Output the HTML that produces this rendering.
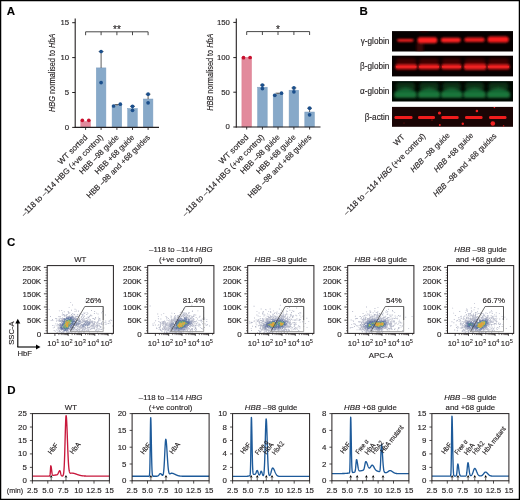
<!DOCTYPE html>
<html><head><meta charset="utf-8"><title>Figure</title>
<style>html,body{margin:0;padding:0;background:#fff;}body{width:520px;height:500px;overflow:hidden;font-family:"Liberation Sans",sans-serif;}svg{display:block;will-change:transform;} text{stroke:#231f20;stroke-width:0.14px;}</style>
</head><body>
<svg width="520" height="500" viewBox="0 0 520 500" font-family="'Liberation Sans', sans-serif" fill="#231f20"><rect x="0.6" y="0.6" width="518.8" height="498.8" fill="#fff" stroke="#000" stroke-width="1.3"/>
<text x="6.80" y="15.00" font-size="11.5" font-weight="bold" fill="#000">A</text>
<text x="359.50" y="15.00" font-size="11.5" font-weight="bold" fill="#000">B</text>
<text x="6.90" y="246.30" font-size="11.5" font-weight="bold" fill="#000">C</text>
<text x="7.20" y="394.00" font-size="11.5" font-weight="bold" fill="#000">D</text>
<rect x="80.80" y="121.50" width="9.60" height="5.90" fill="#e28a9c" stroke="#d97a8d" stroke-width="0.5"/>
<rect x="96.30" y="67.90" width="9.60" height="59.50" fill="#87a9c9" stroke="#7b9dbf" stroke-width="0.5"/>
<rect x="112.10" y="105.60" width="9.60" height="21.80" fill="#87a9c9" stroke="#7b9dbf" stroke-width="0.5"/>
<rect x="127.70" y="108.50" width="9.60" height="18.90" fill="#87a9c9" stroke="#7b9dbf" stroke-width="0.5"/>
<rect x="143.30" y="99.00" width="9.60" height="28.40" fill="#87a9c9" stroke="#7b9dbf" stroke-width="0.5"/>
<line x1="101.10" y1="67.90" x2="101.10" y2="51.50" stroke="#333" stroke-width="0.8"/>
<line x1="98.70" y1="51.50" x2="103.50" y2="51.50" stroke="#333" stroke-width="0.8"/>
<line x1="117.00" y1="105.60" x2="117.00" y2="104.60" stroke="#333" stroke-width="0.8"/>
<line x1="114.60" y1="104.60" x2="119.40" y2="104.60" stroke="#333" stroke-width="0.8"/>
<line x1="132.50" y1="108.50" x2="132.50" y2="106.30" stroke="#333" stroke-width="0.8"/>
<line x1="130.10" y1="106.30" x2="134.90" y2="106.30" stroke="#333" stroke-width="0.8"/>
<line x1="148.10" y1="99.00" x2="148.10" y2="94.20" stroke="#333" stroke-width="0.8"/>
<line x1="145.70" y1="94.20" x2="150.50" y2="94.20" stroke="#333" stroke-width="0.8"/>
<circle cx="82.30" cy="120.30" r="1.85" fill="#c8102e"/>
<circle cx="88.80" cy="120.30" r="1.85" fill="#c8102e"/>
<circle cx="101.10" cy="51.50" r="1.85" fill="#1b4f8c"/>
<circle cx="101.10" cy="82.60" r="1.85" fill="#1b4f8c"/>
<circle cx="113.60" cy="106.00" r="1.85" fill="#1b4f8c"/>
<circle cx="120.30" cy="104.20" r="1.85" fill="#1b4f8c"/>
<circle cx="132.50" cy="106.30" r="1.85" fill="#1b4f8c"/>
<circle cx="132.50" cy="110.30" r="1.85" fill="#1b4f8c"/>
<circle cx="148.10" cy="94.20" r="1.85" fill="#1b4f8c"/>
<circle cx="148.10" cy="102.80" r="1.85" fill="#1b4f8c"/>
<line x1="75.20" y1="18.60" x2="75.20" y2="127.90" stroke="#231f20" stroke-width="1.1"/>
<line x1="74.70" y1="127.40" x2="159.00" y2="127.40" stroke="#231f20" stroke-width="1.1"/>
<line x1="72.20" y1="127.40" x2="75.20" y2="127.40" stroke="#231f20" stroke-width="1"/>
<text x="69.10" y="129.80" font-size="7.8" text-anchor="end">0</text>
<line x1="72.20" y1="92.50" x2="75.20" y2="92.50" stroke="#231f20" stroke-width="1"/>
<text x="69.10" y="94.90" font-size="7.8" text-anchor="end">5</text>
<line x1="72.20" y1="57.60" x2="75.20" y2="57.60" stroke="#231f20" stroke-width="1"/>
<text x="69.10" y="60.00" font-size="7.8" text-anchor="end">10</text>
<line x1="72.20" y1="22.70" x2="75.20" y2="22.70" stroke="#231f20" stroke-width="1"/>
<text x="69.10" y="25.10" font-size="7.8" text-anchor="end">15</text>
<line x1="85.60" y1="127.40" x2="85.60" y2="129.90" stroke="#231f20" stroke-width="0.9"/>
<line x1="101.10" y1="127.40" x2="101.10" y2="129.90" stroke="#231f20" stroke-width="0.9"/>
<line x1="116.90" y1="127.40" x2="116.90" y2="129.90" stroke="#231f20" stroke-width="0.9"/>
<line x1="132.50" y1="127.40" x2="132.50" y2="129.90" stroke="#231f20" stroke-width="0.9"/>
<line x1="148.10" y1="127.40" x2="148.10" y2="129.90" stroke="#231f20" stroke-width="0.9"/>
<line x1="85.60" y1="31.80" x2="148.10" y2="31.80" stroke="#333" stroke-width="0.9"/>
<line x1="85.60" y1="31.80" x2="85.60" y2="35.20" stroke="#333" stroke-width="0.9"/>
<line x1="101.10" y1="31.80" x2="101.10" y2="35.20" stroke="#333" stroke-width="0.9"/>
<line x1="116.90" y1="31.80" x2="116.90" y2="35.20" stroke="#333" stroke-width="0.9"/>
<line x1="132.50" y1="31.80" x2="132.50" y2="35.20" stroke="#333" stroke-width="0.9"/>
<line x1="148.10" y1="31.80" x2="148.10" y2="35.20" stroke="#333" stroke-width="0.9"/>
<text x="116.90" y="33.40" font-size="10" text-anchor="middle">**</text>
<text x="55.4" y="72.8" font-size="9.0" text-anchor="middle" transform="rotate(-90 55.4 72.8)" textLength="78.4" lengthAdjust="spacingAndGlyphs"><tspan font-style="italic">HBG</tspan> normalised to <tspan font-style="italic">HbA</tspan></text>
<text x="87.90" y="138.10" font-size="8.0" text-anchor="end" transform="rotate(-45 87.90 138.10)" textLength="38" lengthAdjust="spacingAndGlyphs">WT sorted</text>
<text x="103.60" y="137.90" font-size="8.0" text-anchor="end" transform="rotate(-45 103.60 137.90)" textLength="112" lengthAdjust="spacingAndGlyphs">–118 to –114 HBG (+ve control)</text>
<text x="119.30" y="137.90" font-size="8.0" text-anchor="end" transform="rotate(-45 119.30 137.90)" textLength="52" lengthAdjust="spacingAndGlyphs">HBB –98 guide</text>
<text x="134.90" y="137.90" font-size="8.0" text-anchor="end" transform="rotate(-45 134.90 137.90)" textLength="52" lengthAdjust="spacingAndGlyphs">HBB +68 guide</text>
<text x="150.60" y="137.90" font-size="8.0" text-anchor="end" transform="rotate(-45 150.60 137.90)" textLength="86" lengthAdjust="spacingAndGlyphs">HBB –98 and +68 guides</text>
<rect x="241.90" y="57.30" width="9.60" height="69.70" fill="#e28a9c" stroke="#d97a8d" stroke-width="0.5"/>
<rect x="257.60" y="87.20" width="9.60" height="39.80" fill="#87a9c9" stroke="#7b9dbf" stroke-width="0.5"/>
<rect x="273.20" y="94.10" width="9.60" height="32.90" fill="#87a9c9" stroke="#7b9dbf" stroke-width="0.5"/>
<rect x="289.10" y="90.20" width="9.60" height="36.80" fill="#87a9c9" stroke="#7b9dbf" stroke-width="0.5"/>
<rect x="304.80" y="112.00" width="9.60" height="15.00" fill="#87a9c9" stroke="#7b9dbf" stroke-width="0.5"/>
<line x1="262.40" y1="87.20" x2="262.40" y2="85.10" stroke="#333" stroke-width="0.8"/>
<line x1="260.00" y1="85.10" x2="264.80" y2="85.10" stroke="#333" stroke-width="0.8"/>
<line x1="278.00" y1="94.10" x2="278.00" y2="93.20" stroke="#333" stroke-width="0.8"/>
<line x1="275.60" y1="93.20" x2="280.40" y2="93.20" stroke="#333" stroke-width="0.8"/>
<line x1="293.90" y1="90.20" x2="293.90" y2="87.90" stroke="#333" stroke-width="0.8"/>
<line x1="291.50" y1="87.90" x2="296.30" y2="87.90" stroke="#333" stroke-width="0.8"/>
<line x1="309.60" y1="112.00" x2="309.60" y2="108.20" stroke="#333" stroke-width="0.8"/>
<line x1="307.20" y1="108.20" x2="312.00" y2="108.20" stroke="#333" stroke-width="0.8"/>
<circle cx="243.50" cy="57.70" r="1.85" fill="#c8102e"/>
<circle cx="250.10" cy="57.50" r="1.85" fill="#c8102e"/>
<circle cx="262.40" cy="85.10" r="1.85" fill="#1b4f8c"/>
<circle cx="262.40" cy="88.60" r="1.85" fill="#1b4f8c"/>
<circle cx="274.80" cy="95.30" r="1.85" fill="#1b4f8c"/>
<circle cx="281.50" cy="93.20" r="1.85" fill="#1b4f8c"/>
<circle cx="293.90" cy="87.90" r="1.85" fill="#1b4f8c"/>
<circle cx="293.90" cy="91.80" r="1.85" fill="#1b4f8c"/>
<circle cx="309.60" cy="108.20" r="1.85" fill="#1b4f8c"/>
<circle cx="309.60" cy="114.80" r="1.85" fill="#1b4f8c"/>
<line x1="236.30" y1="18.60" x2="236.30" y2="127.50" stroke="#231f20" stroke-width="1.1"/>
<line x1="235.80" y1="127.00" x2="320.50" y2="127.00" stroke="#231f20" stroke-width="1.1"/>
<line x1="233.30" y1="127.00" x2="236.30" y2="127.00" stroke="#231f20" stroke-width="1"/>
<text x="229.90" y="129.40" font-size="7.8" text-anchor="end">0</text>
<line x1="233.30" y1="92.20" x2="236.30" y2="92.20" stroke="#231f20" stroke-width="1"/>
<text x="229.90" y="94.60" font-size="7.8" text-anchor="end">50</text>
<line x1="233.30" y1="57.60" x2="236.30" y2="57.60" stroke="#231f20" stroke-width="1"/>
<text x="229.90" y="60.00" font-size="7.8" text-anchor="end">100</text>
<line x1="233.30" y1="22.40" x2="236.30" y2="22.40" stroke="#231f20" stroke-width="1"/>
<text x="229.90" y="24.80" font-size="7.8" text-anchor="end">150</text>
<line x1="246.70" y1="127.00" x2="246.70" y2="129.50" stroke="#231f20" stroke-width="0.9"/>
<line x1="262.40" y1="127.00" x2="262.40" y2="129.50" stroke="#231f20" stroke-width="0.9"/>
<line x1="278.00" y1="127.00" x2="278.00" y2="129.50" stroke="#231f20" stroke-width="0.9"/>
<line x1="293.90" y1="127.00" x2="293.90" y2="129.50" stroke="#231f20" stroke-width="0.9"/>
<line x1="309.60" y1="127.00" x2="309.60" y2="129.50" stroke="#231f20" stroke-width="0.9"/>
<line x1="246.70" y1="31.60" x2="309.60" y2="31.60" stroke="#333" stroke-width="0.9"/>
<line x1="246.70" y1="31.60" x2="246.70" y2="35.00" stroke="#333" stroke-width="0.9"/>
<line x1="262.40" y1="31.60" x2="262.40" y2="35.00" stroke="#333" stroke-width="0.9"/>
<line x1="278.00" y1="31.60" x2="278.00" y2="35.00" stroke="#333" stroke-width="0.9"/>
<line x1="293.90" y1="31.60" x2="293.90" y2="35.00" stroke="#333" stroke-width="0.9"/>
<line x1="309.60" y1="31.60" x2="309.60" y2="35.00" stroke="#333" stroke-width="0.9"/>
<text x="278.00" y="33.20" font-size="10" text-anchor="middle">*</text>
<text x="213.2" y="72.2" font-size="9.0" text-anchor="middle" transform="rotate(-90 213.2 72.2)" textLength="77.3" lengthAdjust="spacingAndGlyphs"><tspan font-style="italic">HBB</tspan> normalised to <tspan font-style="italic">HbA</tspan></text>
<text x="249.00" y="137.70" font-size="8.0" text-anchor="end" transform="rotate(-45 249.00 137.70)" textLength="38" lengthAdjust="spacingAndGlyphs">WT sorted</text>
<text x="264.70" y="137.70" font-size="8.0" text-anchor="end" transform="rotate(-45 264.70 137.70)" textLength="112" lengthAdjust="spacingAndGlyphs">–118 to –114 HBG (+ve control)</text>
<text x="280.30" y="137.70" font-size="8.0" text-anchor="end" transform="rotate(-45 280.30 137.70)" textLength="52" lengthAdjust="spacingAndGlyphs">HBB –98 guide</text>
<text x="296.20" y="137.70" font-size="8.0" text-anchor="end" transform="rotate(-45 296.20 137.70)" textLength="52" lengthAdjust="spacingAndGlyphs">HBB +68 guide</text>
<text x="311.90" y="137.70" font-size="8.0" text-anchor="end" transform="rotate(-45 311.90 137.70)" textLength="86" lengthAdjust="spacingAndGlyphs">HBB –98 and +68 guides</text>
<defs>
<filter id="blur1" x="-20%" y="-50%" width="140%" height="200%"><feGaussianBlur stdDeviation="0.7"/></filter>
<filter id="blur15" x="-20%" y="-60%" width="140%" height="220%"><feGaussianBlur stdDeviation="0.95"/></filter>
<filter id="blur2" x="-20%" y="-80%" width="140%" height="260%"><feGaussianBlur stdDeviation="1.4"/></filter>
<filter id="blur3" x="-20%" y="-80%" width="140%" height="260%"><feGaussianBlur stdDeviation="2.2"/></filter>
<clipPath id="cb1"><rect x="392" y="31.1" width="121" height="20.4"/></clipPath>
<clipPath id="cb2"><rect x="392" y="55.7" width="121" height="20.7"/></clipPath>
<clipPath id="cb3"><rect x="392" y="81.1" width="121" height="20.4"/></clipPath>
<clipPath id="cb4"><rect x="392" y="106.9" width="121" height="19.9"/></clipPath>
</defs>
<rect x="392.00" y="31.10" width="121.00" height="20.40" fill="#050000"/>
<rect x="392.00" y="55.70" width="121.00" height="20.70" fill="#080000"/>
<rect x="392.00" y="81.10" width="121.00" height="20.40" fill="#000600"/>
<rect x="392.00" y="106.90" width="121.00" height="19.90" fill="#1a0505"/>
<g clip-path="url(#cb1)">
<rect x="416.5" y="42.5" width="7" height="10" fill="#6a0a0a" opacity="0.55" filter="url(#blur2)"/>
<rect x="420" y="20" width="8" height="12" fill="#3a0505" opacity="0.7" filter="url(#blur2)"/>
<rect x="396.9" y="38.9" width="16.9" height="2.8" rx="2.5" fill="#ff2424" filter="url(#blur15)"/>
<rect x="417.5" y="37.3" width="19.8" height="6.0" rx="2.5" fill="#ff2020" filter="url(#blur15)"/>
<rect x="440.7" y="37.699999999999996" width="20.2" height="4.8" rx="2.5" fill="#ff2222" filter="url(#blur15)"/>
<rect x="464.2" y="37.599999999999994" width="20.6" height="4.5" rx="2.5" fill="#e81e1e" filter="url(#blur15)"/>
<rect x="487.5" y="36.599999999999994" width="21.2" height="5.9" rx="2.5" fill="#f81f1f" filter="url(#blur15)"/>
</g>
<g clip-path="url(#cb2)">
<rect x="396.0" y="58.5" width="20.4" height="6" rx="3" fill="#3c0606" filter="url(#blur2)"/>
<rect x="419.0" y="58.5" width="20.0" height="6" rx="3" fill="#3c0606" filter="url(#blur2)"/>
<rect x="442.0" y="58.5" width="19.0" height="6" rx="3" fill="#3c0606" filter="url(#blur2)"/>
<rect x="464.6" y="58.5" width="21.0" height="6" rx="3" fill="#3c0606" filter="url(#blur2)"/>
<rect x="488.0" y="58.5" width="21.0" height="6" rx="3" fill="#3c0606" filter="url(#blur2)"/>
<rect x="395.3" y="63.9" width="21.8" height="5.6" rx="2" fill="#d81c1c" filter="url(#blur15)"/>
<rect x="396.0" y="65.9" width="20.4" height="1.8" fill="#f02424" filter="url(#blur1)"/>
<rect x="418.3" y="63.9" width="21.4" height="5.6" rx="2" fill="#d81c1c" filter="url(#blur15)"/>
<rect x="419.0" y="65.9" width="20.0" height="1.8" fill="#f02424" filter="url(#blur1)"/>
<rect x="441.3" y="63.9" width="20.4" height="5.6" rx="2" fill="#d81c1c" filter="url(#blur15)"/>
<rect x="442.0" y="65.9" width="19.0" height="1.8" fill="#f02424" filter="url(#blur1)"/>
<rect x="463.90000000000003" y="63.4" width="22.4" height="6.6" rx="2" fill="#d81c1c" filter="url(#blur15)"/>
<rect x="464.6" y="65.9" width="21.0" height="1.8" fill="#f02424" filter="url(#blur1)"/>
<rect x="487.3" y="63.9" width="22.4" height="5.6" rx="2" fill="#d81c1c" filter="url(#blur15)"/>
<rect x="488.0" y="65.9" width="21.0" height="1.8" fill="#f02424" filter="url(#blur1)"/>
</g>
<g clip-path="url(#cb3)">
<rect x="395.9" y="82.5" width="19.2" height="8" rx="4" fill="#0b3318" filter="url(#blur2)"/>
<rect x="419.5" y="82.5" width="19.2" height="8" rx="4" fill="#0b3318" filter="url(#blur2)"/>
<rect x="442.5" y="82.5" width="18.4" height="8" rx="4" fill="#0b3318" filter="url(#blur2)"/>
<rect x="465.0" y="82.5" width="19.2" height="8" rx="4" fill="#0b3318" filter="url(#blur2)"/>
<rect x="488.5" y="82.5" width="19.9" height="8" rx="4" fill="#0b3318" filter="url(#blur2)"/>
<path d="M394.4 97.6 L394.4 93 Q396.4 89.5 405.5 87.6 Q414.6 89.5 416.6 93 L416.6 97.6 Z" fill="#146531" filter="url(#blur2)"/>
<rect x="395.4" y="92.8" width="20.2" height="4" fill="#1a7a3e" filter="url(#blur2)"/>
<path d="M418.0 97.6 L418.0 93 Q420.0 89.5 429.1 87.6 Q438.2 89.5 440.2 93 L440.2 97.6 Z" fill="#146531" filter="url(#blur2)"/>
<rect x="419.0" y="92.8" width="20.2" height="4" fill="#1a7a3e" filter="url(#blur2)"/>
<path d="M441.0 97.6 L441.0 93 Q443.0 89.5 451.7 87.6 Q460.4 89.5 462.4 93 L462.4 97.6 Z" fill="#146531" filter="url(#blur2)"/>
<rect x="442.0" y="92.8" width="19.4" height="4" fill="#1a7a3e" filter="url(#blur2)"/>
<path d="M463.5 97.6 L463.5 93 Q465.5 89.5 474.6 87.6 Q483.7 89.5 485.7 93 L485.7 97.6 Z" fill="#146531" filter="url(#blur2)"/>
<rect x="464.5" y="92.8" width="20.2" height="4" fill="#1a7a3e" filter="url(#blur2)"/>
<path d="M487.0 97.6 L487.0 93 Q489.0 89.5 498.4 87.6 Q507.9 89.5 509.9 93 L509.9 97.6 Z" fill="#146531" filter="url(#blur2)"/>
<rect x="488.0" y="92.8" width="20.9" height="4" fill="#1a7a3e" filter="url(#blur2)"/>
</g>
<g clip-path="url(#cb4)">
<rect x="394.4" y="116.0" width="18.2" height="3.1" rx="1.4" fill="#f01e1e" filter="url(#blur1)"/>
<rect x="418.0" y="116.0" width="17.0" height="3.1" rx="1.4" fill="#f01e1e" filter="url(#blur1)"/>
<rect x="441.3" y="116.0" width="17.4" height="3.1" rx="1.4" fill="#f01e1e" filter="url(#blur1)"/>
<rect x="465.0" y="116.0" width="17.6" height="3.1" rx="1.4" fill="#f01e1e" filter="url(#blur1)"/>
<rect x="489.0" y="116.0" width="17.5" height="3.1" rx="1.4" fill="#f01e1e" filter="url(#blur1)"/>
<circle cx="439.5" cy="113.0" r="1.6" fill="#f02020"/>
<circle cx="439.8" cy="125.0" r="1.0" fill="#f02020"/>
<circle cx="476.9" cy="111.0" r="1.3" fill="#f02020"/>
<circle cx="462.8" cy="123.7" r="1.2" fill="#f02020"/>
<circle cx="492.8" cy="123.5" r="2.3" fill="#f02020"/>
<circle cx="494.4" cy="107.5" r="0.8" fill="#f02020"/>
<circle cx="503.6" cy="126.0" r="0.8" fill="#f02020"/>
<circle cx="432" cy="120" r="0.5" fill="#f02020"/>
<circle cx="404" cy="123" r="0.4" fill="#f02020"/>
</g>
<text x="389.40" y="44.30" font-size="8.2" text-anchor="end">γ-globin</text>
<text x="389.40" y="69.00" font-size="8.2" text-anchor="end">β-globin</text>
<text x="389.40" y="94.20" font-size="8.2" text-anchor="end">α-globin</text>
<text x="389.40" y="119.70" font-size="8.2" text-anchor="end">β-actin</text>
<text x="405.30" y="137.50" font-size="8.0" text-anchor="end" transform="rotate(-45 405.30 137.50)">WT</text>
<text x="426.00" y="136.50" font-size="8.0" text-anchor="end" transform="rotate(-45 426.00 136.50)" textLength="112" lengthAdjust="spacingAndGlyphs">–118 to –114 <tspan font-style="italic">HBG</tspan> (+ve control)</text>
<text x="450.30" y="135.90" font-size="8.0" text-anchor="end" transform="rotate(-45 450.30 135.90)" textLength="52" lengthAdjust="spacingAndGlyphs"><tspan font-style="italic">HBB</tspan> –98 guide</text>
<text x="473.80" y="135.90" font-size="8.0" text-anchor="end" transform="rotate(-45 473.80 135.90)" textLength="52" lengthAdjust="spacingAndGlyphs"><tspan font-style="italic">HBB</tspan> +68 guide</text>
<text x="497.00" y="136.50" font-size="8.0" text-anchor="end" transform="rotate(-45 497.00 136.50)" textLength="86" lengthAdjust="spacingAndGlyphs"><tspan font-style="italic">HBB</tspan> –98 and +68 guides</text>
<text x="80.30" y="261.90" font-size="7.8" text-anchor="middle">WT</text>
<path d="M63.0 330.7h.9v.9h-.9zM59.1 331.4h.9v.9h-.9zM58.7 325.7h.9v.9h-.9zM66.7 331.4h.9v.9h-.9zM75.7 316.3h.9v.9h-.9zM63.4 331.8h.9v.9h-.9zM64.2 315.1h.9v.9h-.9zM58.7 329.6h.9v.9h-.9zM71.7 315.3h.9v.9h-.9zM66.8 316.1h.9v.9h-.9zM59.7 330.9h.9v.9h-.9zM65.5 315.2h.9v.9h-.9zM71.4 315.7h.9v.9h-.9zM61.7 331.5h.9v.9h-.9zM58.3 331.4h.9v.9h-.9zM63.3 317.9h.9v.9h-.9zM68.3 312.3h.9v.9h-.9zM74.8 316.2h.9v.9h-.9zM66.3 331.9h.9v.9h-.9zM58.8 324.0h.9v.9h-.9zM53.7 330.0h.9v.9h-.9zM62.0 331.5h.9v.9h-.9zM69.8 329.6h.9v.9h-.9zM56.2 332.5h.9v.9h-.9zM71.5 314.4h.9v.9h-.9zM59.4 331.7h.9v.9h-.9zM73.1 329.2h.9v.9h-.9zM65.8 331.3h.9v.9h-.9zM74.8 317.0h.9v.9h-.9zM62.5 318.2h.9v.9h-.9zM62.3 331.6h.9v.9h-.9zM71.0 314.1h.9v.9h-.9zM72.8 316.3h.9v.9h-.9zM67.6 330.6h.9v.9h-.9zM67.9 330.9h.9v.9h-.9zM58.9 325.5h.9v.9h-.9zM70.1 330.4h.9v.9h-.9zM59.9 331.1h.9v.9h-.9zM62.5 331.8h.9v.9h-.9zM56.7 329.9h.9v.9h-.9zM78.3 319.2h.9v.9h-.9zM56.5 325.3h.9v.9h-.9zM60.8 332.1h.9v.9h-.9zM58.7 328.4h.9v.9h-.9zM62.7 331.8h.9v.9h-.9zM71.6 331.3h.9v.9h-.9zM67.5 332.3h.9v.9h-.9zM75.9 309.7h.9v.9h-.9zM57.0 331.8h.9v.9h-.9zM57.7 327.3h.9v.9h-.9zM67.9 311.5h.9v.9h-.9zM58.7 330.5h.9v.9h-.9zM55.2 323.4h.9v.9h-.9zM62.1 317.6h.9v.9h-.9zM85.2 321.2h.9v.9h-.9zM59.2 330.0h.9v.9h-.9zM52.5 325.2h.9v.9h-.9zM54.8 330.8h.9v.9h-.9zM71.1 332.4h.9v.9h-.9zM59.0 325.1h.9v.9h-.9zM77.3 319.6h.9v.9h-.9zM63.8 315.6h.9v.9h-.9zM63.0 313.9h.9v.9h-.9zM84.6 312.4h.9v.9h-.9zM69.5 315.2h.9v.9h-.9zM75.7 310.9h.9v.9h-.9zM55.0 318.2h.9v.9h-.9zM67.3 331.8h.9v.9h-.9zM69.4 315.5h.9v.9h-.9zM81.9 320.3h.9v.9h-.9zM72.6 330.4h.9v.9h-.9zM79.7 313.2h.9v.9h-.9zM69.4 312.4h.9v.9h-.9zM59.2 322.9h.9v.9h-.9zM73.3 313.8h.9v.9h-.9zM59.7 321.0h.9v.9h-.9zM83.4 312.4h.9v.9h-.9zM81.4 313.9h.9v.9h-.9zM78.0 310.9h.9v.9h-.9zM58.0 323.9h.9v.9h-.9zM74.6 308.8h.9v.9h-.9zM77.1 316.1h.9v.9h-.9zM72.4 315.4h.9v.9h-.9zM52.3 325.0h.9v.9h-.9zM72.1 313.2h.9v.9h-.9zM68.2 330.8h.9v.9h-.9zM67.7 310.9h.9v.9h-.9zM74.5 314.7h.9v.9h-.9zM57.5 326.7h.9v.9h-.9zM75.5 325.9h.9v.9h-.9zM62.7 314.4h.9v.9h-.9zM76.0 316.1h.9v.9h-.9zM58.1 328.6h.9v.9h-.9zM78.8 327.4h.9v.9h-.9zM93.1 325.6h.9v.9h-.9zM88.7 325.6h.9v.9h-.9zM78.4 326.7h.9v.9h-.9zM105.6 322.6h.9v.9h-.9zM108.3 323.2h.9v.9h-.9zM110.3 319.6h.9v.9h-.9zM93.0 324.1h.9v.9h-.9zM79.8 326.2h.9v.9h-.9zM83.1 319.6h.9v.9h-.9zM92.6 321.3h.9v.9h-.9zM81.2 327.2h.9v.9h-.9zM80.8 330.6h.9v.9h-.9zM76.3 329.7h.9v.9h-.9zM83.4 319.3h.9v.9h-.9zM95.6 329.8h.9v.9h-.9zM90.2 314.9h.9v.9h-.9zM85.8 330.1h.9v.9h-.9zM83.9 321.0h.9v.9h-.9zM92.8 323.8h.9v.9h-.9zM98.6 319.4h.9v.9h-.9zM77.7 326.2h.9v.9h-.9zM80.3 325.4h.9v.9h-.9zM78.4 328.8h.9v.9h-.9zM96.6 322.1h.9v.9h-.9zM77.4 325.5h.9v.9h-.9zM62.5 317.9h.9v.9h-.9zM84.8 321.3h.9v.9h-.9zM95.8 326.5h.9v.9h-.9zM91.7 324.4h.9v.9h-.9zM103.0 322.8h.9v.9h-.9zM85.2 327.2h.9v.9h-.9zM95.8 326.9h.9v.9h-.9zM109.7 322.6h.9v.9h-.9zM98.2 321.4h.9v.9h-.9zM86.6 325.6h.9v.9h-.9zM91.4 328.2h.9v.9h-.9zM74.6 327.6h.9v.9h-.9zM108.6 321.1h.9v.9h-.9zM83.6 327.2h.9v.9h-.9zM95.7 323.9h.9v.9h-.9zM80.3 320.3h.9v.9h-.9zM77.0 330.4h.9v.9h-.9zM75.9 330.9h.9v.9h-.9zM90.6 327.4h.9v.9h-.9zM85.7 329.8h.9v.9h-.9zM81.5 327.1h.9v.9h-.9zM90.2 320.3h.9v.9h-.9zM79.3 328.7h.9v.9h-.9zM82.7 330.5h.9v.9h-.9zM101.4 329.1h.9v.9h-.9zM81.5 322.2h.9v.9h-.9zM84.4 326.2h.9v.9h-.9zM83.7 331.7h.9v.9h-.9zM76.6 328.7h.9v.9h-.9zM79.7 327.2h.9v.9h-.9zM91.6 324.3h.9v.9h-.9zM94.2 326.6h.9v.9h-.9zM80.2 326.1h.9v.9h-.9zM94.4 318.6h.9v.9h-.9zM96.9 327.3h.9v.9h-.9zM99.1 318.0h.9v.9h-.9zM83.7 328.2h.9v.9h-.9zM93.5 324.2h.9v.9h-.9zM71.5 329.5h.9v.9h-.9zM87.3 320.4h.9v.9h-.9zM79.9 325.2h.9v.9h-.9zM81.5 329.9h.9v.9h-.9zM94.1 323.0h.9v.9h-.9zM95.1 330.2h.9v.9h-.9zM84.4 321.3h.9v.9h-.9zM83.3 327.7h.9v.9h-.9zM89.2 327.0h.9v.9h-.9zM91.3 315.3h.9v.9h-.9zM102.7 324.6h.9v.9h-.9zM84.9 320.8h.9v.9h-.9zM76.6 330.1h.9v.9h-.9zM98.3 329.8h.9v.9h-.9zM70.0 330.1h.9v.9h-.9zM91.7 325.8h.9v.9h-.9zM97.8 321.4h.9v.9h-.9zM78.4 329.0h.9v.9h-.9zM81.8 328.0h.9v.9h-.9zM91.6 324.8h.9v.9h-.9zM97.0 324.2h.9v.9h-.9zM97.3 322.5h.9v.9h-.9zM97.1 331.6h.9v.9h-.9zM98.8 324.6h.9v.9h-.9zM91.8 320.5h.9v.9h-.9zM83.9 327.2h.9v.9h-.9zM88.3 326.9h.9v.9h-.9zM81.4 324.1h.9v.9h-.9zM94.3 322.2h.9v.9h-.9zM75.9 318.6h.9v.9h-.9zM99.6 319.9h.9v.9h-.9zM91.9 327.5h.9v.9h-.9zM94.5 325.9h.9v.9h-.9zM95.8 329.0h.9v.9h-.9zM88.6 326.9h.9v.9h-.9zM78.4 332.3h.9v.9h-.9zM80.6 327.0h.9v.9h-.9zM87.2 327.2h.9v.9h-.9zM97.1 326.1h.9v.9h-.9zM80.4 321.5h.9v.9h-.9zM105.5 324.0h.9v.9h-.9zM80.7 317.5h.9v.9h-.9zM78.1 318.7h.9v.9h-.9zM93.1 323.3h.9v.9h-.9zM80.3 324.5h.9v.9h-.9zM87.0 320.5h.9v.9h-.9zM92.9 326.9h.9v.9h-.9zM78.9 320.2h.9v.9h-.9zM84.3 329.3h.9v.9h-.9zM99.0 328.5h.9v.9h-.9zM92.4 325.4h.9v.9h-.9zM94.1 328.4h.9v.9h-.9zM97.9 316.7h.9v.9h-.9zM79.8 320.7h.9v.9h-.9zM90.3 321.5h.9v.9h-.9zM91.0 321.6h.9v.9h-.9zM99.2 325.7h.9v.9h-.9zM89.4 321.4h.9v.9h-.9zM95.8 325.0h.9v.9h-.9zM100.4 326.0h.9v.9h-.9zM73.4 330.5h.9v.9h-.9zM101.1 322.3h.9v.9h-.9zM97.5 321.3h.9v.9h-.9zM91.1 325.6h.9v.9h-.9zM102.4 327.7h.9v.9h-.9zM95.2 321.7h.9v.9h-.9zM83.2 328.6h.9v.9h-.9zM79.9 320.9h.9v.9h-.9zM101.3 322.8h.9v.9h-.9zM68.2 332.2h.9v.9h-.9zM93.6 324.0h.9v.9h-.9zM84.6 326.9h.9v.9h-.9zM92.9 325.3h.9v.9h-.9zM69.3 331.8h.9v.9h-.9zM96.3 325.3h.9v.9h-.9zM79.2 329.7h.9v.9h-.9zM91.4 325.6h.9v.9h-.9zM87.0 326.7h.9v.9h-.9zM59.3 319.5h.9v.9h-.9zM100.7 323.7h.9v.9h-.9zM88.1 317.1h.9v.9h-.9zM87.8 327.7h.9v.9h-.9zM99.5 323.1h.9v.9h-.9zM103.3 323.7h.9v.9h-.9zM94.0 321.3h.9v.9h-.9zM112.2 325.6h.9v.9h-.9zM92.4 325.1h.9v.9h-.9zM97.8 323.3h.9v.9h-.9zM90.6 322.6h.9v.9h-.9zM98.6 324.4h.9v.9h-.9zM72.9 328.7h.9v.9h-.9zM83.1 320.9h.9v.9h-.9zM88.0 329.9h.9v.9h-.9zM94.0 327.6h.9v.9h-.9zM89.1 327.3h.9v.9h-.9zM77.6 319.5h.9v.9h-.9zM85.8 320.1h.9v.9h-.9zM80.3 324.9h.9v.9h-.9zM105.3 320.6h.9v.9h-.9zM94.3 324.6h.9v.9h-.9zM83.0 326.7h.9v.9h-.9zM81.9 326.6h.9v.9h-.9zM102.3 321.1h.9v.9h-.9zM81.8 321.8h.9v.9h-.9zM88.6 317.5h.9v.9h-.9zM88.3 328.9h.9v.9h-.9zM90.5 325.8h.9v.9h-.9zM91.0 328.2h.9v.9h-.9zM78.8 325.8h.9v.9h-.9zM91.4 328.3h.9v.9h-.9zM90.9 325.1h.9v.9h-.9zM82.1 329.0h.9v.9h-.9zM79.5 329.6h.9v.9h-.9zM92.7 321.4h.9v.9h-.9zM101.0 323.6h.9v.9h-.9zM111.3 320.0h.9v.9h-.9zM94.8 325.8h.9v.9h-.9zM97.5 325.6h.9v.9h-.9zM95.0 316.9h.9v.9h-.9zM91.5 321.9h.9v.9h-.9zM78.0 324.9h.9v.9h-.9zM60.0 316.3h.9v.9h-.9zM92.3 322.3h.9v.9h-.9zM103.4 327.6h.9v.9h-.9zM76.1 318.2h.9v.9h-.9zM99.9 327.0h.9v.9h-.9zM101.1 323.8h.9v.9h-.9zM100.7 327.4h.9v.9h-.9zM83.4 332.4h.9v.9h-.9zM83.6 328.8h.9v.9h-.9zM84.1 330.6h.9v.9h-.9zM104.5 322.1h.9v.9h-.9zM98.2 318.6h.9v.9h-.9zM84.8 328.7h.9v.9h-.9zM97.3 328.5h.9v.9h-.9zM77.4 327.5h.9v.9h-.9zM81.8 328.6h.9v.9h-.9zM94.3 321.6h.9v.9h-.9zM82.4 319.8h.9v.9h-.9zM86.4 328.0h.9v.9h-.9zM101.5 322.2h.9v.9h-.9zM72.8 330.9h.9v.9h-.9zM99.7 326.3h.9v.9h-.9zM108.8 320.3h.9v.9h-.9zM90.0 325.9h.9v.9h-.9zM78.0 329.4h.9v.9h-.9zM92.2 322.9h.9v.9h-.9zM87.4 312.9h.9v.9h-.9zM76.9 314.1h.9v.9h-.9zM62.0 312.5h.9v.9h-.9zM76.5 318.9h.9v.9h-.9zM83.7 331.0h.9v.9h-.9zM56.4 318.5h.9v.9h-.9zM80.1 320.6h.9v.9h-.9zM86.0 317.8h.9v.9h-.9zM80.7 327.8h.9v.9h-.9zM87.6 316.4h.9v.9h-.9zM68.6 315.8h.9v.9h-.9zM63.8 314.3h.9v.9h-.9zM86.4 314.1h.9v.9h-.9zM87.5 316.6h.9v.9h-.9zM58.4 316.0h.9v.9h-.9zM59.3 320.9h.9v.9h-.9zM62.4 319.1h.9v.9h-.9zM74.3 327.9h.9v.9h-.9zM56.8 323.5h.9v.9h-.9zM97.3 325.1h.9v.9h-.9zM78.2 310.4h.9v.9h-.9zM77.6 331.5h.9v.9h-.9zM87.3 328.7h.9v.9h-.9zM66.3 314.2h.9v.9h-.9zM98.0 328.4h.9v.9h-.9zM79.0 317.8h.9v.9h-.9zM102.1 311.1h.9v.9h-.9zM84.0 318.4h.9v.9h-.9zM61.0 318.3h.9v.9h-.9zM89.7 315.3h.9v.9h-.9zM77.3 329.8h.9v.9h-.9zM82.0 318.3h.9v.9h-.9zM50.7 320.0h.9v.9h-.9zM71.9 331.3h.9v.9h-.9zM78.9 331.1h.9v.9h-.9zM67.4 331.9h.9v.9h-.9zM58.8 316.3h.9v.9h-.9zM79.5 320.3h.9v.9h-.9zM63.6 318.0h.9v.9h-.9zM87.6 316.7h.9v.9h-.9zM93.9 313.0h.9v.9h-.9zM62.2 331.3h.9v.9h-.9zM78.9 326.5h.9v.9h-.9zM88.7 329.7h.9v.9h-.9zM83.8 316.1h.9v.9h-.9zM81.2 316.7h.9v.9h-.9zM80.0 323.2h.9v.9h-.9zM77.9 316.2h.9v.9h-.9zM96.0 328.7h.9v.9h-.9zM87.0 320.8h.9v.9h-.9zM99.6 318.6h.9v.9h-.9zM71.4 330.3h.9v.9h-.9zM101.1 312.4h.9v.9h-.9zM86.4 320.1h.9v.9h-.9zM79.4 319.9h.9v.9h-.9zM83.3 319.5h.9v.9h-.9zM96.8 327.3h.9v.9h-.9zM82.4 315.6h.9v.9h-.9zM78.8 330.6h.9v.9h-.9zM82.4 329.4h.9v.9h-.9zM81.7 321.3h.9v.9h-.9zM59.1 320.4h.9v.9h-.9zM93.0 318.0h.9v.9h-.9zM92.1 322.8h.9v.9h-.9zM84.9 300.6h.9v.9h-.9zM74.4 311.2h.9v.9h-.9zM75.2 329.4h.9v.9h-.9zM76.7 320.3h.9v.9h-.9zM79.3 319.3h.9v.9h-.9zM74.6 329.7h.9v.9h-.9zM73.8 328.3h.9v.9h-.9zM99.2 323.0h.9v.9h-.9zM91.1 321.6h.9v.9h-.9zM80.6 325.4h.9v.9h-.9zM74.6 327.6h.9v.9h-.9zM101.5 324.0h.9v.9h-.9zM79.1 318.6h.9v.9h-.9zM92.1 320.9h.9v.9h-.9zM75.0 331.4h.9v.9h-.9zM100.4 329.1h.9v.9h-.9zM83.5 320.2h.9v.9h-.9zM97.0 325.0h.9v.9h-.9zM86.3 314.1h.9v.9h-.9zM90.3 314.6h.9v.9h-.9zM58.5 321.2h.9v.9h-.9zM76.8 315.6h.9v.9h-.9zM74.0 314.0h.9v.9h-.9zM67.0 313.9h.9v.9h-.9zM93.4 327.9h.9v.9h-.9zM52.0 319.0h.9v.9h-.9zM70.2 301.9h.9v.9h-.9zM81.1 319.0h.9v.9h-.9zM73.4 328.4h.9v.9h-.9zM79.6 331.3h.9v.9h-.9zM72.2 316.2h.9v.9h-.9zM56.6 319.9h.9v.9h-.9zM82.3 314.3h.9v.9h-.9zM78.7 332.3h.9v.9h-.9zM73.4 330.4h.9v.9h-.9zM87.0 327.1h.9v.9h-.9zM89.8 315.4h.9v.9h-.9zM93.8 323.1h.9v.9h-.9zM92.2 321.5h.9v.9h-.9zM61.0 320.2h.9v.9h-.9zM56.2 320.8h.9v.9h-.9zM59.8 320.0h.9v.9h-.9zM86.2 321.0h.9v.9h-.9zM82.7 313.7h.9v.9h-.9zM85.0 328.0h.9v.9h-.9zM75.7 326.7h.9v.9h-.9zM96.2 312.7h.9v.9h-.9zM83.0 316.9h.9v.9h-.9zM62.0 319.5h.9v.9h-.9zM75.2 317.7h.9v.9h-.9zM83.8 315.5h.9v.9h-.9zM81.0 327.0h.9v.9h-.9zM97.2 321.2h.9v.9h-.9zM91.7 324.9h.9v.9h-.9zM59.8 318.1h.9v.9h-.9zM77.0 326.1h.9v.9h-.9zM107.6 322.9h.9v.9h-.9zM50.1 316.1h.9v.9h-.9zM60.1 321.0h.9v.9h-.9zM68.7 307.2h.9v.9h-.9zM58.6 318.4h.9v.9h-.9zM83.0 321.1h.9v.9h-.9zM55.8 317.9h.9v.9h-.9zM61.8 314.5h.9v.9h-.9zM90.9 321.2h.9v.9h-.9zM88.4 327.3h.9v.9h-.9zM54.1 326.8h.9v.9h-.9zM86.9 329.7h.9v.9h-.9zM95.8 328.7h.9v.9h-.9zM90.2 329.1h.9v.9h-.9zM80.3 324.4h.9v.9h-.9zM56.9 323.8h.9v.9h-.9zM86.5 317.9h.9v.9h-.9zM91.1 310.0h.9v.9h-.9zM61.4 318.6h.9v.9h-.9zM58.9 310.4h.9v.9h-.9zM84.9 326.7h.9v.9h-.9zM77.1 327.8h.9v.9h-.9zM66.2 315.4h.9v.9h-.9zM76.4 328.8h.9v.9h-.9zM79.8 328.2h.9v.9h-.9zM95.2 317.6h.9v.9h-.9zM85.5 318.1h.9v.9h-.9zM81.5 313.9h.9v.9h-.9zM81.0 316.3h.9v.9h-.9zM92.7 326.1h.9v.9h-.9zM97.5 324.9h.9v.9h-.9zM63.8 311.3h.9v.9h-.9zM58.7 319.3h.9v.9h-.9zM81.4 319.1h.9v.9h-.9zM92.6 328.2h.9v.9h-.9zM60.9 319.8h.9v.9h-.9zM75.9 329.3h.9v.9h-.9zM54.4 325.4h.9v.9h-.9zM58.6 328.3h.9v.9h-.9zM97.7 324.9h.9v.9h-.9zM59.1 327.9h.9v.9h-.9zM93.9 323.3h.9v.9h-.9zM82.4 330.1h.9v.9h-.9zM61.3 310.1h.9v.9h-.9zM87.7 330.6h.9v.9h-.9zM96.0 323.2h.9v.9h-.9zM64.0 315.6h.9v.9h-.9zM87.8 317.3h.9v.9h-.9zM99.2 325.6h.9v.9h-.9zM68.4 313.2h.9v.9h-.9zM60.2 320.2h.9v.9h-.9zM66.4 316.3h.9v.9h-.9zM48.7 309.1h.9v.9h-.9zM98.2 320.1h.9v.9h-.9zM71.1 309.8h.9v.9h-.9zM94.2 311.1h.9v.9h-.9zM74.4 329.6h.9v.9h-.9zM87.7 319.2h.9v.9h-.9zM75.5 329.2h.9v.9h-.9zM89.8 319.0h.9v.9h-.9zM58.6 326.9h.9v.9h-.9zM89.3 319.5h.9v.9h-.9zM86.7 311.9h.9v.9h-.9zM84.1 313.2h.9v.9h-.9zM78.6 314.5h.9v.9h-.9zM87.1 319.6h.9v.9h-.9zM56.4 329.3h.9v.9h-.9zM84.4 319.8h.9v.9h-.9zM77.0 325.6h.9v.9h-.9zM89.1 316.1h.9v.9h-.9zM75.7 329.0h.9v.9h-.9zM57.7 325.3h.9v.9h-.9zM105.1 314.6h.9v.9h-.9zM76.1 318.0h.9v.9h-.9zM82.9 317.7h.9v.9h-.9zM90.6 328.2h.9v.9h-.9zM94.1 319.0h.9v.9h-.9zM89.1 320.7h.9v.9h-.9zM74.6 331.8h.9v.9h-.9zM89.0 331.6h.9v.9h-.9zM59.7 321.0h.9v.9h-.9zM80.8 332.3h.9v.9h-.9zM82.5 322.3h.9v.9h-.9zM80.8 327.9h.9v.9h-.9zM93.4 324.4h.9v.9h-.9zM82.0 315.4h.9v.9h-.9zM96.7 330.4h.9v.9h-.9zM52.4 320.1h.9v.9h-.9zM90.6 320.8h.9v.9h-.9zM72.1 304.6h.9v.9h-.9zM52.8 327.4h.9v.9h-.9zM81.1 322.3h.9v.9h-.9zM57.5 328.2h.9v.9h-.9zM92.4 318.1h.9v.9h-.9zM72.2 328.9h.9v.9h-.9zM65.8 314.6h.9v.9h-.9zM75.3 317.7h.9v.9h-.9zM58.2 320.2h.9v.9h-.9zM72.0 313.2h.9v.9h-.9zM64.5 315.9h.9v.9h-.9zM97.6 313.5h.9v.9h-.9z" fill="#a9adbf" opacity="0.85"/>
<path d="M63.1 321.1h.9v.9h-.9zM72.1 324.1h.9v.9h-.9zM69.5 317.4h.9v.9h-.9zM61.5 320.5h.9v.9h-.9zM66.5 330.3h.9v.9h-.9zM60.6 329.1h.9v.9h-.9zM64.8 319.1h.9v.9h-.9zM63.5 330.2h.9v.9h-.9zM70.9 316.2h.9v.9h-.9zM63.5 330.5h.9v.9h-.9zM70.2 317.5h.9v.9h-.9zM72.1 316.2h.9v.9h-.9zM60.5 323.6h.9v.9h-.9zM64.1 320.1h.9v.9h-.9zM74.7 318.4h.9v.9h-.9zM65.9 330.4h.9v.9h-.9zM72.5 317.1h.9v.9h-.9zM62.0 323.3h.9v.9h-.9zM71.3 317.3h.9v.9h-.9zM63.5 319.8h.9v.9h-.9zM64.8 318.5h.9v.9h-.9zM71.7 324.7h.9v.9h-.9zM69.5 316.3h.9v.9h-.9zM62.2 323.6h.9v.9h-.9zM64.9 318.3h.9v.9h-.9zM71.4 327.9h.9v.9h-.9zM61.5 321.8h.9v.9h-.9zM59.9 323.8h.9v.9h-.9zM67.4 318.3h.9v.9h-.9zM68.8 316.8h.9v.9h-.9zM66.4 329.6h.9v.9h-.9zM63.3 319.3h.9v.9h-.9zM68.2 328.0h.9v.9h-.9zM59.7 326.2h.9v.9h-.9zM61.6 328.0h.9v.9h-.9zM73.3 319.7h.9v.9h-.9zM64.0 321.4h.9v.9h-.9zM60.9 326.6h.9v.9h-.9zM64.2 319.5h.9v.9h-.9zM61.8 321.8h.9v.9h-.9zM68.2 327.9h.9v.9h-.9zM61.2 329.1h.9v.9h-.9zM70.5 328.1h.9v.9h-.9zM70.6 327.4h.9v.9h-.9zM72.8 320.2h.9v.9h-.9zM59.9 327.8h.9v.9h-.9zM66.7 317.8h.9v.9h-.9zM60.1 328.6h.9v.9h-.9zM67.7 316.8h.9v.9h-.9zM60.1 326.5h.9v.9h-.9zM62.7 329.6h.9v.9h-.9zM60.9 328.1h.9v.9h-.9zM69.7 327.1h.9v.9h-.9zM67.0 329.5h.9v.9h-.9zM63.9 330.1h.9v.9h-.9zM72.0 317.7h.9v.9h-.9zM61.4 325.5h.9v.9h-.9zM73.6 317.5h.9v.9h-.9zM72.5 324.5h.9v.9h-.9zM67.7 329.3h.9v.9h-.9zM72.8 316.8h.9v.9h-.9zM73.0 318.3h.9v.9h-.9zM72.7 318.9h.9v.9h-.9zM65.1 329.9h.9v.9h-.9zM63.3 328.7h.9v.9h-.9zM63.6 318.5h.9v.9h-.9zM66.7 317.6h.9v.9h-.9zM71.8 328.0h.9v.9h-.9zM74.5 318.8h.9v.9h-.9zM65.9 317.0h.9v.9h-.9zM61.3 322.2h.9v.9h-.9zM67.9 316.8h.9v.9h-.9zM65.5 330.0h.9v.9h-.9zM66.4 329.9h.9v.9h-.9zM74.2 318.4h.9v.9h-.9zM60.0 327.3h.9v.9h-.9zM61.1 326.7h.9v.9h-.9zM75.7 321.1h.9v.9h-.9zM62.1 319.9h.9v.9h-.9zM71.1 318.3h.9v.9h-.9zM68.8 328.0h.9v.9h-.9zM65.1 329.3h.9v.9h-.9zM60.8 328.5h.9v.9h-.9zM61.9 323.7h.9v.9h-.9zM70.2 326.9h.9v.9h-.9zM69.7 326.7h.9v.9h-.9zM70.2 317.3h.9v.9h-.9zM70.1 326.5h.9v.9h-.9zM78.6 324.0h.9v.9h-.9zM65.2 329.4h.9v.9h-.9zM62.2 321.1h.9v.9h-.9zM62.7 320.8h.9v.9h-.9zM71.1 317.2h.9v.9h-.9zM60.1 325.9h.9v.9h-.9zM63.8 330.6h.9v.9h-.9zM60.3 325.3h.9v.9h-.9zM60.5 325.6h.9v.9h-.9zM75.3 318.6h.9v.9h-.9zM73.8 319.6h.9v.9h-.9zM72.6 317.6h.9v.9h-.9zM76.4 323.0h.9v.9h-.9zM59.5 325.2h.9v.9h-.9zM60.7 329.4h.9v.9h-.9zM70.4 326.5h.9v.9h-.9zM71.9 327.6h.9v.9h-.9zM68.5 318.5h.9v.9h-.9zM59.8 324.7h.9v.9h-.9zM75.1 325.4h.9v.9h-.9zM72.4 325.9h.9v.9h-.9zM67.9 317.5h.9v.9h-.9zM69.1 328.9h.9v.9h-.9zM70.6 328.2h.9v.9h-.9zM73.5 320.3h.9v.9h-.9zM75.5 321.4h.9v.9h-.9zM59.5 326.9h.9v.9h-.9zM76.1 323.4h.9v.9h-.9zM88.2 323.1h.9v.9h-.9zM87.4 321.2h.9v.9h-.9zM83.1 325.0h.9v.9h-.9zM79.7 321.8h.9v.9h-.9zM73.2 327.6h.9v.9h-.9zM84.7 323.4h.9v.9h-.9zM88.9 322.3h.9v.9h-.9zM82.1 325.2h.9v.9h-.9zM74.4 325.0h.9v.9h-.9zM85.5 322.2h.9v.9h-.9zM86.8 324.9h.9v.9h-.9zM77.9 320.2h.9v.9h-.9zM77.6 323.4h.9v.9h-.9zM88.4 322.9h.9v.9h-.9zM88.7 324.2h.9v.9h-.9zM85.7 324.5h.9v.9h-.9zM84.6 321.6h.9v.9h-.9zM86.2 321.4h.9v.9h-.9zM76.7 323.2h.9v.9h-.9zM84.0 323.1h.9v.9h-.9zM89.6 323.2h.9v.9h-.9zM75.0 323.7h.9v.9h-.9zM73.7 327.3h.9v.9h-.9zM81.8 326.1h.9v.9h-.9zM87.4 321.5h.9v.9h-.9zM77.1 322.4h.9v.9h-.9zM84.6 324.1h.9v.9h-.9zM85.2 325.1h.9v.9h-.9zM87.5 323.3h.9v.9h-.9zM83.5 325.9h.9v.9h-.9zM76.3 323.1h.9v.9h-.9zM85.0 325.0h.9v.9h-.9zM76.9 320.1h.9v.9h-.9zM82.7 324.2h.9v.9h-.9zM87.5 325.0h.9v.9h-.9zM81.6 324.4h.9v.9h-.9zM88.0 324.6h.9v.9h-.9zM81.6 324.7h.9v.9h-.9zM87.4 322.9h.9v.9h-.9zM60.6 324.7h.9v.9h-.9zM75.4 323.3h.9v.9h-.9zM73.9 324.9h.9v.9h-.9zM87.6 323.6h.9v.9h-.9zM89.5 323.0h.9v.9h-.9zM76.0 325.0h.9v.9h-.9zM88.5 323.8h.9v.9h-.9zM78.1 322.8h.9v.9h-.9zM84.7 323.2h.9v.9h-.9zM83.9 323.5h.9v.9h-.9zM88.5 321.6h.9v.9h-.9zM79.2 321.0h.9v.9h-.9zM86.8 322.0h.9v.9h-.9zM70.8 325.8h.9v.9h-.9zM76.7 324.4h.9v.9h-.9zM84.2 323.9h.9v.9h-.9zM86.1 322.8h.9v.9h-.9zM87.0 325.3h.9v.9h-.9zM84.9 321.7h.9v.9h-.9zM87.8 323.2h.9v.9h-.9zM76.1 322.7h.9v.9h-.9zM87.1 322.6h.9v.9h-.9zM77.6 324.2h.9v.9h-.9zM87.4 324.4h.9v.9h-.9zM85.5 323.8h.9v.9h-.9zM83.0 326.0h.9v.9h-.9zM75.3 321.7h.9v.9h-.9zM89.4 323.0h.9v.9h-.9zM72.3 318.5h.9v.9h-.9zM78.1 323.2h.9v.9h-.9zM66.7 317.1h.9v.9h-.9zM71.7 326.3h.9v.9h-.9zM87.0 322.3h.9v.9h-.9zM89.3 323.2h.9v.9h-.9zM78.4 321.1h.9v.9h-.9zM72.0 326.2h.9v.9h-.9zM75.3 321.9h.9v.9h-.9zM67.4 328.9h.9v.9h-.9zM89.4 324.3h.9v.9h-.9zM82.4 324.9h.9v.9h-.9zM73.9 326.9h.9v.9h-.9zM86.7 324.2h.9v.9h-.9zM73.6 326.9h.9v.9h-.9zM85.0 321.4h.9v.9h-.9zM73.2 322.4h.9v.9h-.9zM86.1 323.6h.9v.9h-.9zM75.3 321.0h.9v.9h-.9zM72.8 324.0h.9v.9h-.9zM87.5 324.9h.9v.9h-.9zM76.2 322.4h.9v.9h-.9zM73.7 327.4h.9v.9h-.9zM66.1 318.0h.9v.9h-.9zM78.8 323.0h.9v.9h-.9zM89.0 323.1h.9v.9h-.9zM61.3 321.2h.9v.9h-.9zM84.2 324.9h.9v.9h-.9zM83.3 323.5h.9v.9h-.9zM69.7 328.5h.9v.9h-.9zM88.7 321.9h.9v.9h-.9zM66.0 317.7h.9v.9h-.9zM76.5 321.8h.9v.9h-.9zM79.5 321.6h.9v.9h-.9zM68.3 316.3h.9v.9h-.9zM67.7 317.7h.9v.9h-.9zM70.0 329.0h.9v.9h-.9zM70.4 317.1h.9v.9h-.9zM60.5 323.0h.9v.9h-.9zM82.3 326.5h.9v.9h-.9zM73.0 327.1h.9v.9h-.9zM61.0 329.7h.9v.9h-.9zM76.0 323.2h.9v.9h-.9zM87.9 321.3h.9v.9h-.9zM71.6 316.9h.9v.9h-.9zM75.3 319.5h.9v.9h-.9zM89.5 322.1h.9v.9h-.9zM85.4 324.3h.9v.9h-.9zM78.0 320.7h.9v.9h-.9zM87.1 324.9h.9v.9h-.9zM73.9 322.6h.9v.9h-.9zM74.1 323.4h.9v.9h-.9zM59.9 327.1h.9v.9h-.9zM77.7 320.2h.9v.9h-.9zM75.0 319.2h.9v.9h-.9zM72.0 327.6h.9v.9h-.9zM78.4 323.8h.9v.9h-.9zM87.4 323.7h.9v.9h-.9zM74.2 324.1h.9v.9h-.9zM88.6 324.2h.9v.9h-.9zM64.5 319.1h.9v.9h-.9zM69.2 317.1h.9v.9h-.9zM74.2 317.9h.9v.9h-.9zM78.9 320.9h.9v.9h-.9zM71.2 325.9h.9v.9h-.9zM74.5 321.6h.9v.9h-.9zM70.6 328.0h.9v.9h-.9zM66.2 329.5h.9v.9h-.9zM73.8 317.4h.9v.9h-.9zM83.6 326.1h.9v.9h-.9zM76.4 323.9h.9v.9h-.9zM73.3 326.6h.9v.9h-.9zM75.6 321.9h.9v.9h-.9zM60.7 327.5h.9v.9h-.9zM74.3 320.2h.9v.9h-.9zM71.2 316.3h.9v.9h-.9zM74.1 324.4h.9v.9h-.9zM78.2 322.4h.9v.9h-.9zM76.4 319.9h.9v.9h-.9zM76.5 324.7h.9v.9h-.9zM64.8 318.0h.9v.9h-.9zM70.8 325.9h.9v.9h-.9zM73.2 320.8h.9v.9h-.9zM84.7 324.9h.9v.9h-.9zM65.8 330.9h.9v.9h-.9zM74.3 321.3h.9v.9h-.9zM83.8 323.6h.9v.9h-.9zM78.1 322.3h.9v.9h-.9zM72.9 324.2h.9v.9h-.9zM75.2 323.7h.9v.9h-.9zM79.4 323.0h.9v.9h-.9zM84.8 322.0h.9v.9h-.9zM75.0 322.2h.9v.9h-.9zM72.1 317.9h.9v.9h-.9zM75.3 322.7h.9v.9h-.9zM76.5 323.5h.9v.9h-.9zM75.5 322.9h.9v.9h-.9zM63.1 328.7h.9v.9h-.9zM71.6 321.4h.9v.9h-.9zM81.7 325.9h.9v.9h-.9zM73.5 320.5h.9v.9h-.9zM75.0 325.2h.9v.9h-.9zM76.1 321.5h.9v.9h-.9zM80.9 324.6h.9v.9h-.9zM78.0 323.0h.9v.9h-.9zM70.2 326.2h.9v.9h-.9zM83.5 324.0h.9v.9h-.9zM88.0 322.7h.9v.9h-.9zM72.2 326.8h.9v.9h-.9zM79.4 321.9h.9v.9h-.9zM64.0 329.6h.9v.9h-.9zM78.5 320.8h.9v.9h-.9zM83.8 323.3h.9v.9h-.9zM63.9 318.1h.9v.9h-.9zM81.9 324.9h.9v.9h-.9zM85.5 324.1h.9v.9h-.9zM71.8 328.6h.9v.9h-.9zM70.6 328.5h.9v.9h-.9zM78.5 320.5h.9v.9h-.9zM73.1 325.2h.9v.9h-.9zM82.7 323.9h.9v.9h-.9z" fill="#7f89aa" opacity="0.85"/>
<path d="M65.6 319.9h.9v.9h-.9zM64.9 328.5h.9v.9h-.9zM64.7 318.9h.9v.9h-.9zM61.3 324.4h.9v.9h-.9zM64.9 328.5h.9v.9h-.9zM66.0 320.3h.9v.9h-.9zM62.8 325.4h.9v.9h-.9zM61.8 324.5h.9v.9h-.9zM61.9 323.8h.9v.9h-.9zM69.4 319.1h.9v.9h-.9zM64.0 328.3h.9v.9h-.9zM70.3 325.2h.9v.9h-.9zM61.4 327.8h.9v.9h-.9zM65.4 320.9h.9v.9h-.9zM72.8 321.2h.9v.9h-.9zM66.7 319.5h.9v.9h-.9zM69.3 321.0h.9v.9h-.9zM69.0 318.4h.9v.9h-.9zM68.1 319.2h.9v.9h-.9zM63.1 323.0h.9v.9h-.9zM68.7 318.5h.9v.9h-.9zM66.0 328.6h.9v.9h-.9zM69.5 321.0h.9v.9h-.9zM62.6 323.3h.9v.9h-.9zM62.5 325.6h.9v.9h-.9zM66.2 320.1h.9v.9h-.9zM62.2 327.2h.9v.9h-.9zM69.8 319.0h.9v.9h-.9zM60.6 324.5h.9v.9h-.9zM71.7 322.8h.9v.9h-.9zM72.5 319.5h.9v.9h-.9zM62.8 323.3h.9v.9h-.9zM71.1 320.0h.9v.9h-.9zM64.5 323.6h.9v.9h-.9zM64.2 320.7h.9v.9h-.9zM70.6 320.2h.9v.9h-.9zM63.9 326.5h.9v.9h-.9zM61.2 327.0h.9v.9h-.9zM62.5 328.0h.9v.9h-.9zM72.3 319.5h.9v.9h-.9zM65.9 326.8h.9v.9h-.9zM63.7 323.8h.9v.9h-.9zM64.5 328.1h.9v.9h-.9zM62.3 328.1h.9v.9h-.9zM72.0 322.3h.9v.9h-.9zM64.7 330.1h.9v.9h-.9zM67.9 327.1h.9v.9h-.9zM64.9 319.4h.9v.9h-.9zM64.7 329.2h.9v.9h-.9zM66.8 318.3h.9v.9h-.9zM69.4 319.7h.9v.9h-.9zM69.8 317.0h.9v.9h-.9zM70.0 319.0h.9v.9h-.9zM70.4 323.1h.9v.9h-.9zM70.2 324.4h.9v.9h-.9zM74.2 320.9h.9v.9h-.9zM72.6 323.9h.9v.9h-.9zM62.1 328.9h.9v.9h-.9zM62.6 323.2h.9v.9h-.9zM70.1 323.9h.9v.9h-.9zM66.9 320.7h.9v.9h-.9zM60.6 327.2h.9v.9h-.9zM66.0 328.0h.9v.9h-.9zM62.8 328.4h.9v.9h-.9zM67.5 327.9h.9v.9h-.9zM63.6 327.6h.9v.9h-.9zM68.1 326.1h.9v.9h-.9zM61.1 328.0h.9v.9h-.9zM70.3 325.0h.9v.9h-.9zM71.3 320.1h.9v.9h-.9zM66.9 318.1h.9v.9h-.9zM62.9 328.7h.9v.9h-.9zM71.2 322.7h.9v.9h-.9zM66.9 327.9h.9v.9h-.9zM66.9 328.2h.9v.9h-.9zM69.9 318.3h.9v.9h-.9zM68.9 319.2h.9v.9h-.9zM71.1 317.4h.9v.9h-.9zM61.6 328.0h.9v.9h-.9zM62.4 327.7h.9v.9h-.9zM68.0 317.6h.9v.9h-.9zM70.6 323.2h.9v.9h-.9zM70.4 318.0h.9v.9h-.9zM67.1 319.8h.9v.9h-.9zM67.6 327.8h.9v.9h-.9zM68.9 325.2h.9v.9h-.9zM66.5 318.1h.9v.9h-.9zM64.4 321.8h.9v.9h-.9zM65.8 327.3h.9v.9h-.9zM70.2 324.2h.9v.9h-.9zM69.0 324.9h.9v.9h-.9zM72.8 319.0h.9v.9h-.9zM64.3 328.5h.9v.9h-.9zM62.7 328.4h.9v.9h-.9zM68.0 327.9h.9v.9h-.9zM61.7 328.7h.9v.9h-.9zM63.1 326.8h.9v.9h-.9zM72.6 319.4h.9v.9h-.9zM70.5 320.1h.9v.9h-.9zM62.9 326.5h.9v.9h-.9zM66.5 326.9h.9v.9h-.9zM64.0 321.8h.9v.9h-.9zM62.1 325.4h.9v.9h-.9zM67.2 329.5h.9v.9h-.9zM71.0 319.0h.9v.9h-.9zM66.2 318.4h.9v.9h-.9zM72.5 319.5h.9v.9h-.9zM71.0 319.8h.9v.9h-.9zM64.6 321.4h.9v.9h-.9zM62.7 325.4h.9v.9h-.9zM69.4 320.1h.9v.9h-.9zM69.9 325.9h.9v.9h-.9zM74.1 323.2h.9v.9h-.9zM63.9 330.4h.9v.9h-.9zM61.3 326.2h.9v.9h-.9zM72.7 320.8h.9v.9h-.9zM65.9 319.9h.9v.9h-.9zM64.0 327.0h.9v.9h-.9zM72.8 319.0h.9v.9h-.9zM71.6 326.7h.9v.9h-.9zM63.1 321.9h.9v.9h-.9zM61.6 328.3h.9v.9h-.9zM63.8 319.5h.9v.9h-.9zM68.0 317.8h.9v.9h-.9zM72.9 322.7h.9v.9h-.9zM73.3 320.7h.9v.9h-.9zM72.4 321.1h.9v.9h-.9zM68.0 327.8h.9v.9h-.9zM60.4 327.1h.9v.9h-.9zM67.5 328.0h.9v.9h-.9zM63.5 321.3h.9v.9h-.9zM62.3 324.5h.9v.9h-.9zM70.6 318.6h.9v.9h-.9zM65.1 329.2h.9v.9h-.9zM71.8 320.9h.9v.9h-.9zM75.7 324.0h.9v.9h-.9zM68.8 326.4h.9v.9h-.9zM63.3 322.3h.9v.9h-.9zM66.4 319.5h.9v.9h-.9zM70.2 323.0h.9v.9h-.9zM70.6 320.6h.9v.9h-.9zM73.2 320.8h.9v.9h-.9zM72.9 324.0h.9v.9h-.9zM70.3 325.1h.9v.9h-.9zM71.1 323.2h.9v.9h-.9zM72.1 323.5h.9v.9h-.9zM72.5 322.8h.9v.9h-.9zM68.8 319.6h.9v.9h-.9zM73.6 321.4h.9v.9h-.9zM71.5 322.9h.9v.9h-.9zM63.3 327.3h.9v.9h-.9zM63.2 321.7h.9v.9h-.9zM70.6 327.0h.9v.9h-.9zM62.4 325.4h.9v.9h-.9zM66.5 328.3h.9v.9h-.9zM71.5 324.1h.9v.9h-.9zM70.9 318.5h.9v.9h-.9zM61.0 324.6h.9v.9h-.9zM70.9 319.1h.9v.9h-.9zM72.2 321.6h.9v.9h-.9zM71.5 320.2h.9v.9h-.9zM63.2 323.6h.9v.9h-.9zM62.9 328.6h.9v.9h-.9zM69.9 317.8h.9v.9h-.9zM72.3 323.2h.9v.9h-.9zM73.4 321.5h.9v.9h-.9zM61.9 325.0h.9v.9h-.9zM71.0 325.0h.9v.9h-.9zM62.1 323.6h.9v.9h-.9zM67.5 327.7h.9v.9h-.9zM69.2 324.0h.9v.9h-.9zM70.7 319.2h.9v.9h-.9zM62.6 324.2h.9v.9h-.9zM62.7 325.2h.9v.9h-.9zM68.5 318.3h.9v.9h-.9zM69.8 319.0h.9v.9h-.9zM71.1 322.8h.9v.9h-.9zM67.2 322.3h.9v.9h-.9zM70.9 322.7h.9v.9h-.9zM70.8 322.4h.9v.9h-.9zM73.7 323.0h.9v.9h-.9zM71.6 325.2h.9v.9h-.9zM66.0 320.5h.9v.9h-.9zM72.5 318.9h.9v.9h-.9zM68.5 319.5h.9v.9h-.9zM69.0 323.3h.9v.9h-.9zM63.6 327.5h.9v.9h-.9zM61.6 324.8h.9v.9h-.9z" fill="#5a6c9e" opacity="0.9"/>
<path d="M62.7 326.2h.9v.9h-.9zM64.2 322.9h.9v.9h-.9zM68.1 324.6h.9v.9h-.9zM65.8 327.1h.9v.9h-.9zM64.5 325.0h.9v.9h-.9zM66.3 322.7h.9v.9h-.9zM67.1 323.6h.9v.9h-.9zM70.1 321.4h.9v.9h-.9zM69.7 319.4h.9v.9h-.9zM67.0 327.2h.9v.9h-.9zM69.0 320.4h.9v.9h-.9zM64.8 327.8h.9v.9h-.9zM69.3 324.7h.9v.9h-.9zM65.5 322.2h.9v.9h-.9zM68.1 325.3h.9v.9h-.9zM66.2 321.5h.9v.9h-.9zM65.9 326.3h.9v.9h-.9zM66.6 325.1h.9v.9h-.9zM69.4 322.1h.9v.9h-.9zM70.9 321.3h.9v.9h-.9zM65.5 328.1h.9v.9h-.9zM65.9 320.6h.9v.9h-.9zM66.8 327.1h.9v.9h-.9zM64.3 325.4h.9v.9h-.9zM69.7 321.7h.9v.9h-.9zM63.3 324.2h.9v.9h-.9zM67.2 323.5h.9v.9h-.9zM66.4 325.2h.9v.9h-.9zM65.6 324.2h.9v.9h-.9zM66.1 321.8h.9v.9h-.9zM65.4 325.6h.9v.9h-.9zM64.5 325.1h.9v.9h-.9zM65.5 321.2h.9v.9h-.9zM63.5 324.3h.9v.9h-.9zM68.0 323.7h.9v.9h-.9zM69.6 322.9h.9v.9h-.9zM68.5 321.8h.9v.9h-.9zM69.2 321.7h.9v.9h-.9zM64.9 326.9h.9v.9h-.9zM70.1 318.7h.9v.9h-.9zM68.7 322.5h.9v.9h-.9zM70.0 323.1h.9v.9h-.9zM66.9 322.6h.9v.9h-.9zM65.7 322.5h.9v.9h-.9zM68.7 322.6h.9v.9h-.9zM66.5 327.2h.9v.9h-.9zM64.1 328.1h.9v.9h-.9zM68.1 324.2h.9v.9h-.9zM64.9 326.2h.9v.9h-.9zM67.6 324.3h.9v.9h-.9zM62.5 324.4h.9v.9h-.9zM68.7 325.2h.9v.9h-.9zM64.0 327.1h.9v.9h-.9zM66.7 327.6h.9v.9h-.9zM68.2 323.3h.9v.9h-.9zM67.0 320.1h.9v.9h-.9zM66.7 326.7h.9v.9h-.9zM65.1 326.0h.9v.9h-.9zM69.4 320.8h.9v.9h-.9zM65.7 324.7h.9v.9h-.9zM65.9 321.8h.9v.9h-.9zM68.7 326.3h.9v.9h-.9zM65.3 327.8h.9v.9h-.9zM70.2 320.2h.9v.9h-.9zM68.5 319.9h.9v.9h-.9zM67.7 318.7h.9v.9h-.9zM64.3 327.1h.9v.9h-.9zM63.3 324.5h.9v.9h-.9zM64.7 323.2h.9v.9h-.9zM68.7 322.4h.9v.9h-.9zM68.3 322.7h.9v.9h-.9zM69.5 321.8h.9v.9h-.9zM65.2 327.9h.9v.9h-.9zM69.2 321.5h.9v.9h-.9zM63.6 326.8h.9v.9h-.9zM66.5 321.7h.9v.9h-.9zM71.0 323.5h.9v.9h-.9zM64.8 327.8h.9v.9h-.9zM69.8 319.7h.9v.9h-.9zM66.4 319.6h.9v.9h-.9zM67.9 321.6h.9v.9h-.9zM65.4 326.7h.9v.9h-.9zM68.7 326.4h.9v.9h-.9zM66.6 322.7h.9v.9h-.9zM67.8 325.3h.9v.9h-.9zM67.0 321.9h.9v.9h-.9zM63.9 325.5h.9v.9h-.9zM64.3 322.8h.9v.9h-.9zM68.2 325.6h.9v.9h-.9zM66.6 325.8h.9v.9h-.9zM63.7 324.0h.9v.9h-.9zM65.2 319.4h.9v.9h-.9zM68.3 323.8h.9v.9h-.9zM65.7 328.9h.9v.9h-.9zM66.9 327.6h.9v.9h-.9zM64.0 323.6h.9v.9h-.9zM69.0 320.2h.9v.9h-.9zM70.2 319.8h.9v.9h-.9zM63.8 325.2h.9v.9h-.9zM72.0 319.6h.9v.9h-.9zM65.9 320.7h.9v.9h-.9zM63.5 324.6h.9v.9h-.9zM69.1 321.0h.9v.9h-.9zM66.6 326.5h.9v.9h-.9zM68.9 319.3h.9v.9h-.9zM71.9 321.8h.9v.9h-.9zM64.6 325.8h.9v.9h-.9zM71.0 320.6h.9v.9h-.9zM63.8 321.5h.9v.9h-.9zM62.7 326.3h.9v.9h-.9zM65.8 321.2h.9v.9h-.9zM65.3 325.1h.9v.9h-.9zM67.9 321.9h.9v.9h-.9zM66.3 326.8h.9v.9h-.9zM64.2 325.8h.9v.9h-.9zM63.4 326.9h.9v.9h-.9zM66.8 320.0h.9v.9h-.9zM69.7 321.6h.9v.9h-.9z" fill="#4f8690" opacity="0.9"/>
<path d="M66.9 324.8h.9v.9h-.9zM68.7 323.4h.9v.9h-.9zM67.8 321.8h.9v.9h-.9zM67.2 321.3h.9v.9h-.9zM64.4 323.9h.9v.9h-.9zM67.2 327.1h.9v.9h-.9zM69.4 321.3h.9v.9h-.9zM64.4 325.4h.9v.9h-.9zM66.3 324.2h.9v.9h-.9zM65.2 322.3h.9v.9h-.9zM65.0 322.2h.9v.9h-.9zM65.3 325.7h.9v.9h-.9zM67.5 325.5h.9v.9h-.9zM67.7 320.0h.9v.9h-.9zM70.6 319.8h.9v.9h-.9zM67.5 323.4h.9v.9h-.9zM70.1 321.1h.9v.9h-.9zM66.5 325.1h.9v.9h-.9zM63.5 326.4h.9v.9h-.9zM66.1 322.2h.9v.9h-.9zM66.7 322.4h.9v.9h-.9zM65.2 323.7h.9v.9h-.9zM66.6 325.3h.9v.9h-.9zM66.1 326.0h.9v.9h-.9zM64.4 324.3h.9v.9h-.9zM68.9 321.6h.9v.9h-.9zM62.7 326.5h.9v.9h-.9zM66.6 323.5h.9v.9h-.9zM65.5 321.2h.9v.9h-.9zM64.6 326.9h.9v.9h-.9zM66.5 323.8h.9v.9h-.9zM65.6 326.6h.9v.9h-.9zM64.5 325.2h.9v.9h-.9zM65.8 326.7h.9v.9h-.9zM67.1 321.8h.9v.9h-.9zM65.4 326.7h.9v.9h-.9zM67.5 322.2h.9v.9h-.9zM65.9 323.4h.9v.9h-.9zM68.9 320.6h.9v.9h-.9zM67.5 320.9h.9v.9h-.9zM69.1 321.3h.9v.9h-.9zM65.8 324.4h.9v.9h-.9zM66.0 323.7h.9v.9h-.9zM68.7 323.2h.9v.9h-.9zM66.1 326.0h.9v.9h-.9zM69.0 323.9h.9v.9h-.9zM66.4 322.7h.9v.9h-.9zM65.3 322.9h.9v.9h-.9zM66.3 322.2h.9v.9h-.9zM67.1 322.3h.9v.9h-.9zM68.0 321.3h.9v.9h-.9zM68.5 325.5h.9v.9h-.9zM65.9 325.0h.9v.9h-.9zM67.8 323.9h.9v.9h-.9zM69.9 322.9h.9v.9h-.9zM64.9 326.8h.9v.9h-.9zM68.4 322.5h.9v.9h-.9zM67.9 321.1h.9v.9h-.9zM67.0 324.4h.9v.9h-.9zM68.7 320.0h.9v.9h-.9zM64.5 324.6h.9v.9h-.9zM69.2 323.3h.9v.9h-.9zM67.3 322.6h.9v.9h-.9z" fill="#96b85c" opacity="0.95"/>
<path d="M67.9 321.9h.9v.9h-.9zM67.0 325.4h.9v.9h-.9zM66.5 323.3h.9v.9h-.9zM66.1 323.1h.9v.9h-.9zM66.4 323.4h.9v.9h-.9zM65.7 322.5h.9v.9h-.9zM66.9 324.3h.9v.9h-.9zM66.1 323.6h.9v.9h-.9zM66.9 323.6h.9v.9h-.9zM66.6 325.3h.9v.9h-.9zM67.0 326.1h.9v.9h-.9zM67.1 323.6h.9v.9h-.9zM69.5 323.2h.9v.9h-.9zM66.1 325.1h.9v.9h-.9zM66.7 324.9h.9v.9h-.9zM68.7 321.5h.9v.9h-.9z" fill="#d4c448" opacity="1"/>
<path d="M66.7 322.6h.9v.9h-.9zM67.1 322.3h.9v.9h-.9zM66.6 325.0h.9v.9h-.9zM67.3 322.5h.9v.9h-.9zM66.6 325.5h.9v.9h-.9zM67.0 321.9h.9v.9h-.9zM67.0 322.7h.9v.9h-.9zM66.4 325.8h.9v.9h-.9zM67.5 322.9h.9v.9h-.9zM67.2 323.6h.9v.9h-.9zM65.9 324.9h.9v.9h-.9zM65.7 320.5h.9v.9h-.9zM67.1 323.5h.9v.9h-.9zM66.1 326.2h.9v.9h-.9zM66.6 325.1h.9v.9h-.9zM66.1 324.1h.9v.9h-.9zM66.4 324.2h.9v.9h-.9zM66.6 323.4h.9v.9h-.9zM67.3 321.8h.9v.9h-.9zM66.0 321.4h.9v.9h-.9zM66.9 322.6h.9v.9h-.9zM64.2 324.5h.9v.9h-.9zM67.0 323.5h.9v.9h-.9zM66.9 325.1h.9v.9h-.9zM65.9 324.6h.9v.9h-.9zM67.6 324.5h.9v.9h-.9zM66.0 324.9h.9v.9h-.9zM66.5 324.6h.9v.9h-.9zM68.2 322.1h.9v.9h-.9zM65.4 323.1h.9v.9h-.9zM66.8 323.7h.9v.9h-.9zM66.3 325.7h.9v.9h-.9zM67.3 325.7h.9v.9h-.9z" fill="#e0a03c" opacity="1"/>
<polyline points="70.2,331.6 103.2,331.6 103.2,306.5" fill="none" stroke="#9a9a9a" stroke-width="0.9"/>
<polyline points="70.2,331.6 84.8,306.5 103.2,306.5 103.2,320" fill="none" stroke="#444" stroke-width="0.8"/>
<text x="93.50" y="303.40" font-size="7.9" text-anchor="middle">26%</text>
<rect x="47.20" y="265.6" width="66.2" height="67.80" fill="none" stroke="#231f20" stroke-width="1"/>
<line x1="43.90" y1="333.40" x2="47.20" y2="333.40" stroke="#231f20" stroke-width="0.8"/>
<text x="41.20" y="336.50" font-size="8.0" text-anchor="end">0</text>
<line x1="45.50" y1="330.76" x2="47.20" y2="330.76" stroke="#231f20" stroke-width="0.6"/>
<line x1="45.50" y1="328.12" x2="47.20" y2="328.12" stroke="#231f20" stroke-width="0.6"/>
<line x1="45.50" y1="325.48" x2="47.20" y2="325.48" stroke="#231f20" stroke-width="0.6"/>
<line x1="45.50" y1="322.84" x2="47.20" y2="322.84" stroke="#231f20" stroke-width="0.6"/>
<line x1="43.90" y1="320.20" x2="47.20" y2="320.20" stroke="#231f20" stroke-width="0.8"/>
<text x="41.20" y="323.30" font-size="8.0" text-anchor="end">50K</text>
<line x1="45.50" y1="317.56" x2="47.20" y2="317.56" stroke="#231f20" stroke-width="0.6"/>
<line x1="45.50" y1="314.92" x2="47.20" y2="314.92" stroke="#231f20" stroke-width="0.6"/>
<line x1="45.50" y1="312.28" x2="47.20" y2="312.28" stroke="#231f20" stroke-width="0.6"/>
<line x1="45.50" y1="309.64" x2="47.20" y2="309.64" stroke="#231f20" stroke-width="0.6"/>
<line x1="43.90" y1="307.00" x2="47.20" y2="307.00" stroke="#231f20" stroke-width="0.8"/>
<text x="41.20" y="310.10" font-size="8.0" text-anchor="end">100K</text>
<line x1="45.50" y1="304.36" x2="47.20" y2="304.36" stroke="#231f20" stroke-width="0.6"/>
<line x1="45.50" y1="301.72" x2="47.20" y2="301.72" stroke="#231f20" stroke-width="0.6"/>
<line x1="45.50" y1="299.08" x2="47.20" y2="299.08" stroke="#231f20" stroke-width="0.6"/>
<line x1="45.50" y1="296.44" x2="47.20" y2="296.44" stroke="#231f20" stroke-width="0.6"/>
<line x1="43.90" y1="293.80" x2="47.20" y2="293.80" stroke="#231f20" stroke-width="0.8"/>
<text x="41.20" y="296.90" font-size="8.0" text-anchor="end">150K</text>
<line x1="45.50" y1="291.16" x2="47.20" y2="291.16" stroke="#231f20" stroke-width="0.6"/>
<line x1="45.50" y1="288.52" x2="47.20" y2="288.52" stroke="#231f20" stroke-width="0.6"/>
<line x1="45.50" y1="285.88" x2="47.20" y2="285.88" stroke="#231f20" stroke-width="0.6"/>
<line x1="45.50" y1="283.24" x2="47.20" y2="283.24" stroke="#231f20" stroke-width="0.6"/>
<line x1="43.90" y1="280.60" x2="47.20" y2="280.60" stroke="#231f20" stroke-width="0.8"/>
<text x="41.20" y="283.70" font-size="8.0" text-anchor="end">200K</text>
<line x1="45.50" y1="277.96" x2="47.20" y2="277.96" stroke="#231f20" stroke-width="0.6"/>
<line x1="45.50" y1="275.32" x2="47.20" y2="275.32" stroke="#231f20" stroke-width="0.6"/>
<line x1="45.50" y1="272.68" x2="47.20" y2="272.68" stroke="#231f20" stroke-width="0.6"/>
<line x1="45.50" y1="270.04" x2="47.20" y2="270.04" stroke="#231f20" stroke-width="0.6"/>
<line x1="43.90" y1="267.40" x2="47.20" y2="267.40" stroke="#231f20" stroke-width="0.8"/>
<text x="41.20" y="270.50" font-size="8.0" text-anchor="end">250K</text>
<line x1="54.90" y1="333.40" x2="54.90" y2="335.90" stroke="#231f20" stroke-width="0.8"/>
<line x1="58.90" y1="333.40" x2="58.90" y2="335.10" stroke="#231f20" stroke-width="0.6"/>
<line x1="61.25" y1="333.40" x2="61.25" y2="335.10" stroke="#231f20" stroke-width="0.6"/>
<line x1="62.91" y1="333.40" x2="62.91" y2="335.10" stroke="#231f20" stroke-width="0.6"/>
<line x1="64.20" y1="333.40" x2="64.20" y2="335.10" stroke="#231f20" stroke-width="0.6"/>
<line x1="65.25" y1="333.40" x2="65.25" y2="335.10" stroke="#231f20" stroke-width="0.6"/>
<line x1="66.14" y1="333.40" x2="66.14" y2="335.10" stroke="#231f20" stroke-width="0.6"/>
<line x1="66.91" y1="333.40" x2="66.91" y2="335.10" stroke="#231f20" stroke-width="0.6"/>
<line x1="67.59" y1="333.40" x2="67.59" y2="335.10" stroke="#231f20" stroke-width="0.6"/>
<text x="53.30" y="345.6" font-size="7.9" text-anchor="middle">10<tspan font-size="5.6" dy="-2.9" style="stroke-width:0.08px">1</tspan></text>
<line x1="68.20" y1="333.40" x2="68.20" y2="335.90" stroke="#231f20" stroke-width="0.8"/>
<line x1="72.20" y1="333.40" x2="72.20" y2="335.10" stroke="#231f20" stroke-width="0.6"/>
<line x1="74.55" y1="333.40" x2="74.55" y2="335.10" stroke="#231f20" stroke-width="0.6"/>
<line x1="76.21" y1="333.40" x2="76.21" y2="335.10" stroke="#231f20" stroke-width="0.6"/>
<line x1="77.50" y1="333.40" x2="77.50" y2="335.10" stroke="#231f20" stroke-width="0.6"/>
<line x1="78.55" y1="333.40" x2="78.55" y2="335.10" stroke="#231f20" stroke-width="0.6"/>
<line x1="79.44" y1="333.40" x2="79.44" y2="335.10" stroke="#231f20" stroke-width="0.6"/>
<line x1="80.21" y1="333.40" x2="80.21" y2="335.10" stroke="#231f20" stroke-width="0.6"/>
<line x1="80.89" y1="333.40" x2="80.89" y2="335.10" stroke="#231f20" stroke-width="0.6"/>
<text x="66.60" y="345.6" font-size="7.9" text-anchor="middle">10<tspan font-size="5.6" dy="-2.9" style="stroke-width:0.08px">2</tspan></text>
<line x1="81.50" y1="333.40" x2="81.50" y2="335.90" stroke="#231f20" stroke-width="0.8"/>
<line x1="85.50" y1="333.40" x2="85.50" y2="335.10" stroke="#231f20" stroke-width="0.6"/>
<line x1="87.85" y1="333.40" x2="87.85" y2="335.10" stroke="#231f20" stroke-width="0.6"/>
<line x1="89.51" y1="333.40" x2="89.51" y2="335.10" stroke="#231f20" stroke-width="0.6"/>
<line x1="90.80" y1="333.40" x2="90.80" y2="335.10" stroke="#231f20" stroke-width="0.6"/>
<line x1="91.85" y1="333.40" x2="91.85" y2="335.10" stroke="#231f20" stroke-width="0.6"/>
<line x1="92.74" y1="333.40" x2="92.74" y2="335.10" stroke="#231f20" stroke-width="0.6"/>
<line x1="93.51" y1="333.40" x2="93.51" y2="335.10" stroke="#231f20" stroke-width="0.6"/>
<line x1="94.19" y1="333.40" x2="94.19" y2="335.10" stroke="#231f20" stroke-width="0.6"/>
<text x="79.90" y="345.6" font-size="7.9" text-anchor="middle">10<tspan font-size="5.6" dy="-2.9" style="stroke-width:0.08px">3</tspan></text>
<line x1="94.80" y1="333.40" x2="94.80" y2="335.90" stroke="#231f20" stroke-width="0.8"/>
<line x1="98.80" y1="333.40" x2="98.80" y2="335.10" stroke="#231f20" stroke-width="0.6"/>
<line x1="101.15" y1="333.40" x2="101.15" y2="335.10" stroke="#231f20" stroke-width="0.6"/>
<line x1="102.81" y1="333.40" x2="102.81" y2="335.10" stroke="#231f20" stroke-width="0.6"/>
<line x1="104.10" y1="333.40" x2="104.10" y2="335.10" stroke="#231f20" stroke-width="0.6"/>
<line x1="105.15" y1="333.40" x2="105.15" y2="335.10" stroke="#231f20" stroke-width="0.6"/>
<line x1="106.04" y1="333.40" x2="106.04" y2="335.10" stroke="#231f20" stroke-width="0.6"/>
<line x1="106.81" y1="333.40" x2="106.81" y2="335.10" stroke="#231f20" stroke-width="0.6"/>
<line x1="107.49" y1="333.40" x2="107.49" y2="335.10" stroke="#231f20" stroke-width="0.6"/>
<text x="93.20" y="345.6" font-size="7.9" text-anchor="middle">10<tspan font-size="5.6" dy="-2.9" style="stroke-width:0.08px">4</tspan></text>
<line x1="108.10" y1="333.40" x2="108.10" y2="335.90" stroke="#231f20" stroke-width="0.8"/>
<line x1="112.10" y1="333.40" x2="112.10" y2="335.10" stroke="#231f20" stroke-width="0.6"/>
<text x="106.50" y="345.6" font-size="7.9" text-anchor="middle">10<tspan font-size="5.6" dy="-2.9" style="stroke-width:0.08px">5</tspan></text>
<text x="180.80" y="252.40" font-size="7.8" text-anchor="middle">–118 to –114 <tspan font-style="italic">HBG</tspan></text>
<text x="180.80" y="261.90" font-size="7.8" text-anchor="middle">(+ve control)</text>
<path d="M187.2 317.2h.9v.9h-.9zM188.0 318.4h.9v.9h-.9zM193.5 319.3h.9v.9h-.9zM178.9 330.6h.9v.9h-.9zM175.0 331.1h.9v.9h-.9zM186.7 317.2h.9v.9h-.9zM174.3 321.2h.9v.9h-.9zM174.8 330.9h.9v.9h-.9zM172.6 331.0h.9v.9h-.9zM191.3 325.3h.9v.9h-.9zM171.1 329.4h.9v.9h-.9zM191.8 324.0h.9v.9h-.9zM182.7 330.9h.9v.9h-.9zM188.2 318.7h.9v.9h-.9zM180.0 317.6h.9v.9h-.9zM169.5 324.9h.9v.9h-.9zM187.1 325.9h.9v.9h-.9zM192.4 320.5h.9v.9h-.9zM186.3 315.6h.9v.9h-.9zM174.2 331.5h.9v.9h-.9zM177.1 331.3h.9v.9h-.9zM183.5 329.8h.9v.9h-.9zM176.2 332.2h.9v.9h-.9zM180.5 331.9h.9v.9h-.9zM178.6 317.4h.9v.9h-.9zM192.1 316.7h.9v.9h-.9zM192.4 323.9h.9v.9h-.9zM174.4 317.9h.9v.9h-.9zM180.1 331.0h.9v.9h-.9zM173.9 331.2h.9v.9h-.9zM190.9 315.8h.9v.9h-.9zM184.7 316.7h.9v.9h-.9zM193.5 318.8h.9v.9h-.9zM183.2 330.9h.9v.9h-.9zM174.7 332.3h.9v.9h-.9zM178.1 317.1h.9v.9h-.9zM189.6 329.4h.9v.9h-.9zM182.9 315.7h.9v.9h-.9zM185.9 313.6h.9v.9h-.9zM183.3 316.2h.9v.9h-.9zM185.4 329.1h.9v.9h-.9zM182.9 316.6h.9v.9h-.9zM182.7 331.5h.9v.9h-.9zM186.6 315.8h.9v.9h-.9zM180.8 330.1h.9v.9h-.9zM191.3 322.9h.9v.9h-.9zM180.4 330.8h.9v.9h-.9zM182.4 315.2h.9v.9h-.9zM187.9 315.4h.9v.9h-.9zM189.7 317.4h.9v.9h-.9zM192.7 321.0h.9v.9h-.9zM176.2 318.4h.9v.9h-.9zM180.4 330.7h.9v.9h-.9zM179.5 330.4h.9v.9h-.9zM185.9 316.9h.9v.9h-.9zM187.7 317.3h.9v.9h-.9zM166.3 327.3h.9v.9h-.9zM171.8 329.1h.9v.9h-.9zM174.3 320.3h.9v.9h-.9zM175.7 331.1h.9v.9h-.9zM192.2 320.3h.9v.9h-.9zM191.4 320.2h.9v.9h-.9zM194.7 321.3h.9v.9h-.9zM168.3 327.8h.9v.9h-.9zM176.9 316.6h.9v.9h-.9zM190.1 318.1h.9v.9h-.9zM199.4 316.0h.9v.9h-.9zM177.6 316.4h.9v.9h-.9zM169.6 323.9h.9v.9h-.9zM174.8 332.2h.9v.9h-.9zM186.7 327.9h.9v.9h-.9zM164.1 331.4h.9v.9h-.9zM164.8 322.5h.9v.9h-.9zM170.2 328.4h.9v.9h-.9zM169.1 328.6h.9v.9h-.9zM171.0 331.3h.9v.9h-.9zM187.1 329.5h.9v.9h-.9zM171.7 320.9h.9v.9h-.9zM184.7 329.8h.9v.9h-.9zM171.0 328.6h.9v.9h-.9zM163.1 325.6h.9v.9h-.9zM170.2 330.6h.9v.9h-.9zM174.1 316.2h.9v.9h-.9zM189.3 319.2h.9v.9h-.9zM179.9 332.4h.9v.9h-.9zM169.5 332.0h.9v.9h-.9zM172.5 321.8h.9v.9h-.9zM182.6 329.9h.9v.9h-.9zM179.2 331.6h.9v.9h-.9zM195.5 325.0h.9v.9h-.9zM174.7 318.3h.9v.9h-.9zM180.5 330.8h.9v.9h-.9zM182.1 312.3h.9v.9h-.9zM198.8 317.2h.9v.9h-.9zM165.7 329.2h.9v.9h-.9zM188.6 315.6h.9v.9h-.9zM174.7 330.8h.9v.9h-.9zM168.2 326.5h.9v.9h-.9zM177.4 330.8h.9v.9h-.9zM192.4 323.7h.9v.9h-.9zM183.7 329.6h.9v.9h-.9zM190.3 324.9h.9v.9h-.9zM173.7 318.1h.9v.9h-.9zM185.8 329.1h.9v.9h-.9zM197.3 322.3h.9v.9h-.9zM164.3 322.5h.9v.9h-.9zM197.4 310.4h.9v.9h-.9zM191.8 328.1h.9v.9h-.9zM173.4 319.8h.9v.9h-.9zM191.9 311.2h.9v.9h-.9zM189.9 317.4h.9v.9h-.9zM195.3 330.3h.9v.9h-.9zM161.2 330.5h.9v.9h-.9zM181.0 316.0h.9v.9h-.9zM173.9 319.5h.9v.9h-.9zM192.4 315.9h.9v.9h-.9zM175.1 317.5h.9v.9h-.9zM170.9 318.6h.9v.9h-.9zM191.8 322.1h.9v.9h-.9zM160.4 330.1h.9v.9h-.9zM173.7 318.7h.9v.9h-.9zM197.8 324.5h.9v.9h-.9zM166.9 326.5h.9v.9h-.9zM173.8 317.5h.9v.9h-.9zM175.2 315.2h.9v.9h-.9zM195.0 328.1h.9v.9h-.9zM186.5 328.4h.9v.9h-.9zM188.3 328.3h.9v.9h-.9zM186.8 327.3h.9v.9h-.9zM190.3 326.2h.9v.9h-.9zM199.5 315.8h.9v.9h-.9zM152.5 323.5h.9v.9h-.9zM169.4 327.8h.9v.9h-.9zM185.7 316.2h.9v.9h-.9zM189.7 328.9h.9v.9h-.9zM190.9 319.9h.9v.9h-.9zM192.0 321.1h.9v.9h-.9zM194.7 325.7h.9v.9h-.9zM172.8 319.8h.9v.9h-.9zM192.4 323.1h.9v.9h-.9zM179.4 314.0h.9v.9h-.9zM189.3 325.7h.9v.9h-.9zM190.4 325.2h.9v.9h-.9zM174.3 320.8h.9v.9h-.9zM204.1 327.0h.9v.9h-.9zM189.9 318.4h.9v.9h-.9zM180.5 330.3h.9v.9h-.9zM186.8 330.5h.9v.9h-.9zM156.0 327.5h.9v.9h-.9zM174.5 330.7h.9v.9h-.9zM194.8 323.4h.9v.9h-.9zM193.2 325.2h.9v.9h-.9zM183.5 308.2h.9v.9h-.9zM164.4 328.2h.9v.9h-.9zM183.7 314.4h.9v.9h-.9zM184.5 329.4h.9v.9h-.9zM178.6 315.9h.9v.9h-.9zM181.5 314.4h.9v.9h-.9zM170.6 316.9h.9v.9h-.9zM191.1 317.2h.9v.9h-.9zM174.3 318.3h.9v.9h-.9zM188.2 318.3h.9v.9h-.9zM189.0 326.1h.9v.9h-.9zM165.3 328.8h.9v.9h-.9zM163.0 322.4h.9v.9h-.9zM193.6 326.6h.9v.9h-.9zM164.3 327.6h.9v.9h-.9zM193.0 316.0h.9v.9h-.9zM191.5 322.4h.9v.9h-.9zM195.0 327.0h.9v.9h-.9zM161.9 328.1h.9v.9h-.9zM193.2 315.9h.9v.9h-.9zM190.0 330.0h.9v.9h-.9zM180.7 331.7h.9v.9h-.9zM174.7 330.8h.9v.9h-.9zM175.9 331.7h.9v.9h-.9zM190.5 318.3h.9v.9h-.9zM181.2 332.3h.9v.9h-.9zM174.4 318.2h.9v.9h-.9zM186.5 316.9h.9v.9h-.9zM175.0 319.3h.9v.9h-.9zM192.9 320.3h.9v.9h-.9zM183.6 315.2h.9v.9h-.9zM167.8 323.4h.9v.9h-.9zM189.1 316.3h.9v.9h-.9zM189.6 329.5h.9v.9h-.9zM185.7 328.9h.9v.9h-.9zM184.1 315.2h.9v.9h-.9zM178.7 317.5h.9v.9h-.9zM186.8 314.2h.9v.9h-.9zM188.9 331.5h.9v.9h-.9zM154.9 324.6h.9v.9h-.9zM158.5 326.9h.9v.9h-.9zM169.2 331.3h.9v.9h-.9zM193.9 321.0h.9v.9h-.9zM181.0 332.2h.9v.9h-.9zM163.9 332.1h.9v.9h-.9zM188.1 326.9h.9v.9h-.9zM179.1 317.8h.9v.9h-.9zM187.5 328.9h.9v.9h-.9zM196.0 324.4h.9v.9h-.9zM182.2 330.1h.9v.9h-.9zM172.6 318.8h.9v.9h-.9zM192.9 320.2h.9v.9h-.9zM192.3 319.3h.9v.9h-.9zM165.4 324.5h.9v.9h-.9zM188.8 328.2h.9v.9h-.9zM173.3 328.2h.9v.9h-.9zM196.0 328.9h.9v.9h-.9zM191.8 329.9h.9v.9h-.9zM174.8 320.5h.9v.9h-.9zM201.0 320.1h.9v.9h-.9zM166.6 319.8h.9v.9h-.9zM162.6 321.1h.9v.9h-.9zM179.9 315.8h.9v.9h-.9zM205.5 324.5h.9v.9h-.9zM163.3 322.0h.9v.9h-.9zM185.4 313.8h.9v.9h-.9zM192.1 310.4h.9v.9h-.9zM179.8 311.9h.9v.9h-.9zM195.7 331.1h.9v.9h-.9zM183.0 312.6h.9v.9h-.9zM199.4 325.2h.9v.9h-.9zM186.4 330.7h.9v.9h-.9zM171.1 320.1h.9v.9h-.9zM175.7 331.6h.9v.9h-.9zM163.6 327.8h.9v.9h-.9zM192.3 326.0h.9v.9h-.9zM204.2 318.6h.9v.9h-.9zM170.5 315.5h.9v.9h-.9zM193.6 315.6h.9v.9h-.9zM188.9 319.0h.9v.9h-.9zM162.1 323.4h.9v.9h-.9zM178.4 316.0h.9v.9h-.9zM178.1 314.9h.9v.9h-.9zM201.9 318.6h.9v.9h-.9zM199.6 324.3h.9v.9h-.9zM170.1 328.5h.9v.9h-.9zM192.7 325.3h.9v.9h-.9zM169.4 322.2h.9v.9h-.9zM174.8 315.4h.9v.9h-.9zM162.9 322.7h.9v.9h-.9zM203.1 310.9h.9v.9h-.9zM194.4 321.0h.9v.9h-.9zM187.7 331.6h.9v.9h-.9zM189.5 315.1h.9v.9h-.9zM174.9 320.1h.9v.9h-.9zM196.2 320.5h.9v.9h-.9zM197.0 318.6h.9v.9h-.9zM157.9 315.9h.9v.9h-.9zM167.9 324.7h.9v.9h-.9zM194.6 324.9h.9v.9h-.9zM165.6 316.1h.9v.9h-.9zM162.2 322.1h.9v.9h-.9zM186.1 313.2h.9v.9h-.9zM187.4 327.8h.9v.9h-.9zM183.9 317.1h.9v.9h-.9zM169.4 321.2h.9v.9h-.9zM192.5 320.3h.9v.9h-.9zM166.6 319.5h.9v.9h-.9zM177.6 316.9h.9v.9h-.9zM174.0 313.0h.9v.9h-.9zM178.5 332.3h.9v.9h-.9zM192.1 324.2h.9v.9h-.9zM163.9 325.8h.9v.9h-.9zM169.9 322.9h.9v.9h-.9zM161.5 321.4h.9v.9h-.9zM190.6 324.3h.9v.9h-.9zM190.9 329.2h.9v.9h-.9zM180.8 311.4h.9v.9h-.9zM167.5 322.1h.9v.9h-.9zM188.9 311.9h.9v.9h-.9zM190.7 318.1h.9v.9h-.9zM198.6 320.0h.9v.9h-.9zM157.3 313.6h.9v.9h-.9zM171.5 320.3h.9v.9h-.9zM188.1 312.6h.9v.9h-.9zM166.1 317.6h.9v.9h-.9zM190.8 321.0h.9v.9h-.9zM169.3 322.8h.9v.9h-.9zM172.6 322.0h.9v.9h-.9zM181.5 316.1h.9v.9h-.9zM206.4 319.2h.9v.9h-.9zM172.0 319.5h.9v.9h-.9zM192.9 318.1h.9v.9h-.9zM191.7 331.9h.9v.9h-.9zM196.2 323.0h.9v.9h-.9zM202.4 320.9h.9v.9h-.9zM172.4 321.4h.9v.9h-.9zM194.4 321.6h.9v.9h-.9zM195.2 330.4h.9v.9h-.9zM185.4 329.0h.9v.9h-.9zM149.7 305.6h.9v.9h-.9zM202.4 328.6h.9v.9h-.9zM185.9 313.3h.9v.9h-.9zM189.0 326.0h.9v.9h-.9zM200.6 319.5h.9v.9h-.9zM163.3 312.9h.9v.9h-.9zM192.2 328.6h.9v.9h-.9zM168.2 329.4h.9v.9h-.9zM203.4 317.0h.9v.9h-.9zM188.6 316.4h.9v.9h-.9zM153.9 322.4h.9v.9h-.9zM181.3 314.9h.9v.9h-.9zM187.0 330.0h.9v.9h-.9zM185.4 312.4h.9v.9h-.9zM191.2 322.7h.9v.9h-.9zM169.5 331.5h.9v.9h-.9zM195.3 314.6h.9v.9h-.9zM191.2 319.6h.9v.9h-.9zM204.5 323.3h.9v.9h-.9zM199.9 326.9h.9v.9h-.9zM192.6 324.4h.9v.9h-.9zM166.8 323.9h.9v.9h-.9zM188.4 313.3h.9v.9h-.9zM182.4 329.7h.9v.9h-.9zM186.3 315.8h.9v.9h-.9zM191.9 329.0h.9v.9h-.9zM191.7 317.7h.9v.9h-.9zM163.2 328.8h.9v.9h-.9zM174.1 323.9h.9v.9h-.9zM198.6 323.5h.9v.9h-.9zM202.1 323.3h.9v.9h-.9zM185.5 328.4h.9v.9h-.9zM168.8 324.1h.9v.9h-.9zM186.7 314.3h.9v.9h-.9zM191.3 320.7h.9v.9h-.9zM166.4 323.5h.9v.9h-.9zM170.3 329.5h.9v.9h-.9zM166.2 322.7h.9v.9h-.9zM199.1 323.8h.9v.9h-.9zM184.2 314.7h.9v.9h-.9zM169.9 328.2h.9v.9h-.9zM197.5 325.2h.9v.9h-.9zM195.4 321.3h.9v.9h-.9zM175.5 316.6h.9v.9h-.9zM206.9 324.1h.9v.9h-.9zM171.7 330.6h.9v.9h-.9zM195.7 317.1h.9v.9h-.9zM157.7 325.2h.9v.9h-.9zM193.7 314.1h.9v.9h-.9zM182.0 310.7h.9v.9h-.9zM170.9 319.1h.9v.9h-.9zM170.5 319.9h.9v.9h-.9zM169.2 319.6h.9v.9h-.9zM200.0 320.4h.9v.9h-.9zM168.1 326.4h.9v.9h-.9zM191.4 304.8h.9v.9h-.9zM191.7 317.4h.9v.9h-.9zM183.1 314.0h.9v.9h-.9zM191.7 330.7h.9v.9h-.9zM190.4 324.6h.9v.9h-.9zM160.0 323.8h.9v.9h-.9zM206.3 321.0h.9v.9h-.9zM193.2 318.7h.9v.9h-.9zM177.0 315.2h.9v.9h-.9zM171.7 319.4h.9v.9h-.9zM180.3 317.0h.9v.9h-.9zM166.7 316.9h.9v.9h-.9zM189.0 327.9h.9v.9h-.9zM177.3 317.8h.9v.9h-.9zM159.9 329.4h.9v.9h-.9zM181.4 316.4h.9v.9h-.9zM169.2 323.6h.9v.9h-.9zM187.2 314.8h.9v.9h-.9zM166.1 328.7h.9v.9h-.9zM179.1 317.5h.9v.9h-.9zM189.9 331.5h.9v.9h-.9zM177.7 315.8h.9v.9h-.9zM192.2 324.0h.9v.9h-.9zM195.5 329.6h.9v.9h-.9zM191.1 324.9h.9v.9h-.9zM194.1 328.8h.9v.9h-.9zM191.2 328.3h.9v.9h-.9zM192.4 324.9h.9v.9h-.9zM184.3 329.6h.9v.9h-.9zM209.2 325.5h.9v.9h-.9zM182.3 314.9h.9v.9h-.9zM185.4 315.5h.9v.9h-.9zM160.9 314.4h.9v.9h-.9zM185.9 330.9h.9v.9h-.9zM165.0 321.5h.9v.9h-.9zM195.4 325.3h.9v.9h-.9zM201.1 321.5h.9v.9h-.9zM169.8 328.8h.9v.9h-.9zM183.1 330.0h.9v.9h-.9zM159.9 325.0h.9v.9h-.9zM182.6 313.8h.9v.9h-.9zM189.8 326.6h.9v.9h-.9zM163.2 323.5h.9v.9h-.9zM199.7 324.7h.9v.9h-.9zM184.5 313.5h.9v.9h-.9zM171.9 320.8h.9v.9h-.9zM198.4 325.9h.9v.9h-.9zM174.3 318.3h.9v.9h-.9zM191.5 320.6h.9v.9h-.9zM194.0 323.4h.9v.9h-.9zM178.2 331.5h.9v.9h-.9zM183.4 309.3h.9v.9h-.9zM166.3 324.7h.9v.9h-.9zM177.3 317.0h.9v.9h-.9zM195.7 327.8h.9v.9h-.9zM164.1 320.6h.9v.9h-.9zM184.1 312.5h.9v.9h-.9zM158.4 321.0h.9v.9h-.9zM171.2 316.4h.9v.9h-.9zM157.9 318.3h.9v.9h-.9zM173.9 317.0h.9v.9h-.9zM206.4 325.2h.9v.9h-.9zM180.9 331.2h.9v.9h-.9zM173.2 321.8h.9v.9h-.9zM201.2 328.1h.9v.9h-.9zM189.5 317.8h.9v.9h-.9zM184.4 315.3h.9v.9h-.9zM189.8 329.8h.9v.9h-.9zM185.3 329.5h.9v.9h-.9zM171.4 312.7h.9v.9h-.9zM193.4 315.1h.9v.9h-.9zM174.3 320.7h.9v.9h-.9zM193.2 322.1h.9v.9h-.9zM165.5 328.4h.9v.9h-.9zM168.1 330.2h.9v.9h-.9zM165.4 323.7h.9v.9h-.9zM172.9 320.4h.9v.9h-.9zM158.3 324.2h.9v.9h-.9zM162.1 324.9h.9v.9h-.9zM165.2 324.9h.9v.9h-.9zM165.0 326.2h.9v.9h-.9zM172.3 330.8h.9v.9h-.9zM167.9 318.0h.9v.9h-.9zM169.6 328.2h.9v.9h-.9zM163.1 321.0h.9v.9h-.9zM163.5 321.9h.9v.9h-.9zM164.7 329.5h.9v.9h-.9zM170.9 322.7h.9v.9h-.9zM169.3 327.5h.9v.9h-.9zM171.9 330.2h.9v.9h-.9zM174.8 318.8h.9v.9h-.9zM166.8 328.7h.9v.9h-.9zM159.5 326.6h.9v.9h-.9zM165.2 323.3h.9v.9h-.9zM171.8 331.3h.9v.9h-.9zM155.2 320.3h.9v.9h-.9zM166.7 331.9h.9v.9h-.9zM163.4 326.3h.9v.9h-.9zM168.5 327.6h.9v.9h-.9zM163.3 323.3h.9v.9h-.9zM186.1 328.1h.9v.9h-.9zM164.4 329.0h.9v.9h-.9zM168.5 325.5h.9v.9h-.9zM163.5 323.1h.9v.9h-.9zM170.5 323.1h.9v.9h-.9zM162.2 329.0h.9v.9h-.9zM170.0 329.2h.9v.9h-.9zM171.3 321.7h.9v.9h-.9zM168.4 330.7h.9v.9h-.9zM164.7 327.0h.9v.9h-.9zM168.2 320.3h.9v.9h-.9zM170.8 331.4h.9v.9h-.9zM165.3 325.8h.9v.9h-.9zM166.6 330.0h.9v.9h-.9zM172.6 330.0h.9v.9h-.9zM169.3 324.6h.9v.9h-.9zM163.0 323.4h.9v.9h-.9zM165.8 332.0h.9v.9h-.9zM165.8 325.1h.9v.9h-.9zM166.0 324.3h.9v.9h-.9zM170.1 329.0h.9v.9h-.9zM161.7 330.8h.9v.9h-.9zM152.7 325.1h.9v.9h-.9zM169.6 321.6h.9v.9h-.9zM160.0 326.6h.9v.9h-.9zM164.3 321.2h.9v.9h-.9zM162.7 324.2h.9v.9h-.9zM173.7 330.7h.9v.9h-.9zM167.0 322.7h.9v.9h-.9zM162.5 329.1h.9v.9h-.9zM160.4 318.6h.9v.9h-.9zM172.2 331.7h.9v.9h-.9zM171.5 320.6h.9v.9h-.9zM171.5 329.4h.9v.9h-.9zM169.1 326.2h.9v.9h-.9zM167.7 327.8h.9v.9h-.9zM164.5 324.4h.9v.9h-.9zM158.6 329.2h.9v.9h-.9zM170.7 321.8h.9v.9h-.9zM164.0 327.3h.9v.9h-.9zM168.6 323.6h.9v.9h-.9zM167.0 328.6h.9v.9h-.9zM163.3 325.5h.9v.9h-.9zM169.5 330.2h.9v.9h-.9zM167.3 325.1h.9v.9h-.9zM166.4 324.1h.9v.9h-.9zM173.8 319.5h.9v.9h-.9zM163.4 322.6h.9v.9h-.9zM172.3 322.0h.9v.9h-.9zM170.1 322.8h.9v.9h-.9zM163.8 328.1h.9v.9h-.9zM165.1 324.0h.9v.9h-.9zM164.6 326.7h.9v.9h-.9zM170.7 320.8h.9v.9h-.9zM166.7 332.1h.9v.9h-.9zM160.0 325.5h.9v.9h-.9zM156.4 328.0h.9v.9h-.9zM164.5 330.3h.9v.9h-.9zM165.7 328.1h.9v.9h-.9zM160.4 323.8h.9v.9h-.9zM159.0 327.6h.9v.9h-.9zM172.8 329.8h.9v.9h-.9zM164.8 323.9h.9v.9h-.9zM159.6 321.8h.9v.9h-.9zM167.7 329.8h.9v.9h-.9zM165.1 324.2h.9v.9h-.9zM160.4 322.8h.9v.9h-.9zM161.8 323.1h.9v.9h-.9zM168.8 324.5h.9v.9h-.9zM165.0 324.7h.9v.9h-.9zM178.0 330.3h.9v.9h-.9zM160.0 322.1h.9v.9h-.9zM165.2 326.3h.9v.9h-.9zM172.9 331.6h.9v.9h-.9zM166.7 326.7h.9v.9h-.9zM174.6 331.8h.9v.9h-.9zM167.6 328.9h.9v.9h-.9zM167.8 332.4h.9v.9h-.9zM166.7 330.5h.9v.9h-.9zM165.6 329.1h.9v.9h-.9zM162.7 326.9h.9v.9h-.9zM166.2 322.7h.9v.9h-.9zM160.2 328.9h.9v.9h-.9zM160.0 328.8h.9v.9h-.9zM168.2 328.9h.9v.9h-.9zM165.9 330.9h.9v.9h-.9z" fill="#a9adbf" opacity="0.85"/>
<path d="M185.7 327.4h.9v.9h-.9zM176.5 323.3h.9v.9h-.9zM172.7 323.8h.9v.9h-.9zM176.3 321.8h.9v.9h-.9zM173.2 328.0h.9v.9h-.9zM174.6 327.9h.9v.9h-.9zM182.2 328.1h.9v.9h-.9zM186.8 325.3h.9v.9h-.9zM174.4 324.6h.9v.9h-.9zM177.4 319.0h.9v.9h-.9zM184.9 319.1h.9v.9h-.9zM182.7 319.6h.9v.9h-.9zM178.8 318.9h.9v.9h-.9zM189.1 319.8h.9v.9h-.9zM190.0 320.6h.9v.9h-.9zM190.0 322.3h.9v.9h-.9zM189.1 322.8h.9v.9h-.9zM176.4 329.3h.9v.9h-.9zM184.2 318.5h.9v.9h-.9zM173.3 326.0h.9v.9h-.9zM183.9 319.7h.9v.9h-.9zM172.6 326.6h.9v.9h-.9zM175.7 326.8h.9v.9h-.9zM179.1 329.6h.9v.9h-.9zM177.3 319.4h.9v.9h-.9zM177.9 319.5h.9v.9h-.9zM188.4 318.9h.9v.9h-.9zM187.6 323.9h.9v.9h-.9zM177.1 320.6h.9v.9h-.9zM179.4 328.6h.9v.9h-.9zM185.8 318.6h.9v.9h-.9zM184.6 317.5h.9v.9h-.9zM184.8 319.4h.9v.9h-.9zM171.6 328.1h.9v.9h-.9zM175.7 329.5h.9v.9h-.9zM185.6 325.3h.9v.9h-.9zM176.1 329.7h.9v.9h-.9zM178.6 330.1h.9v.9h-.9zM189.0 324.2h.9v.9h-.9zM174.5 329.1h.9v.9h-.9zM182.6 328.2h.9v.9h-.9zM174.8 327.0h.9v.9h-.9zM183.8 327.1h.9v.9h-.9zM186.1 317.9h.9v.9h-.9zM184.8 318.7h.9v.9h-.9zM186.3 317.4h.9v.9h-.9zM178.9 319.0h.9v.9h-.9zM176.3 322.5h.9v.9h-.9zM180.2 318.0h.9v.9h-.9zM179.0 329.7h.9v.9h-.9zM182.1 320.2h.9v.9h-.9zM173.7 324.3h.9v.9h-.9zM182.5 327.4h.9v.9h-.9zM182.7 319.7h.9v.9h-.9zM176.3 329.1h.9v.9h-.9zM175.7 328.3h.9v.9h-.9zM181.8 318.5h.9v.9h-.9zM189.8 321.1h.9v.9h-.9zM185.7 318.4h.9v.9h-.9zM179.2 319.2h.9v.9h-.9zM185.5 317.7h.9v.9h-.9zM182.8 319.3h.9v.9h-.9zM171.5 324.5h.9v.9h-.9zM176.5 319.0h.9v.9h-.9zM185.8 318.1h.9v.9h-.9zM171.4 325.6h.9v.9h-.9zM177.8 328.8h.9v.9h-.9zM186.2 325.3h.9v.9h-.9zM184.1 319.1h.9v.9h-.9zM175.6 323.1h.9v.9h-.9zM184.7 328.4h.9v.9h-.9zM179.3 318.2h.9v.9h-.9zM184.2 328.2h.9v.9h-.9zM188.7 319.4h.9v.9h-.9zM184.0 329.0h.9v.9h-.9zM185.6 320.4h.9v.9h-.9zM174.2 329.6h.9v.9h-.9zM189.7 322.1h.9v.9h-.9zM190.0 323.0h.9v.9h-.9zM187.9 319.1h.9v.9h-.9zM174.1 329.3h.9v.9h-.9zM181.2 318.5h.9v.9h-.9zM189.2 323.5h.9v.9h-.9zM172.3 326.9h.9v.9h-.9zM183.4 329.2h.9v.9h-.9zM184.4 317.2h.9v.9h-.9zM186.1 326.8h.9v.9h-.9zM174.4 326.7h.9v.9h-.9zM171.2 325.1h.9v.9h-.9zM172.3 324.3h.9v.9h-.9zM174.5 325.9h.9v.9h-.9zM175.1 321.5h.9v.9h-.9zM175.2 327.8h.9v.9h-.9zM169.9 326.5h.9v.9h-.9zM188.2 322.0h.9v.9h-.9zM181.2 318.1h.9v.9h-.9zM186.5 318.3h.9v.9h-.9zM179.6 329.1h.9v.9h-.9zM174.2 324.2h.9v.9h-.9zM185.5 326.6h.9v.9h-.9zM181.6 328.1h.9v.9h-.9zM188.5 320.9h.9v.9h-.9zM173.6 327.8h.9v.9h-.9zM184.2 317.6h.9v.9h-.9zM173.7 324.8h.9v.9h-.9zM182.0 328.5h.9v.9h-.9zM171.5 322.8h.9v.9h-.9zM173.3 329.2h.9v.9h-.9zM170.9 323.6h.9v.9h-.9zM177.0 320.6h.9v.9h-.9zM184.9 319.3h.9v.9h-.9zM170.7 325.7h.9v.9h-.9zM179.4 319.9h.9v.9h-.9zM180.5 329.5h.9v.9h-.9zM186.6 325.5h.9v.9h-.9zM176.3 329.0h.9v.9h-.9zM172.4 325.7h.9v.9h-.9zM184.6 319.1h.9v.9h-.9zM172.0 326.6h.9v.9h-.9zM173.4 322.9h.9v.9h-.9zM175.4 329.5h.9v.9h-.9zM174.8 321.8h.9v.9h-.9zM176.6 329.2h.9v.9h-.9zM185.3 318.0h.9v.9h-.9zM177.8 320.1h.9v.9h-.9zM175.0 327.4h.9v.9h-.9zM189.9 322.4h.9v.9h-.9zM190.9 322.0h.9v.9h-.9zM182.2 319.7h.9v.9h-.9zM173.6 324.0h.9v.9h-.9zM188.8 322.2h.9v.9h-.9zM185.8 317.3h.9v.9h-.9zM174.3 325.3h.9v.9h-.9zM169.9 324.7h.9v.9h-.9zM169.7 325.5h.9v.9h-.9zM172.5 326.3h.9v.9h-.9zM184.6 326.9h.9v.9h-.9zM186.8 325.8h.9v.9h-.9zM186.2 326.6h.9v.9h-.9zM188.2 319.7h.9v.9h-.9zM174.2 329.3h.9v.9h-.9zM174.7 330.2h.9v.9h-.9zM184.0 317.2h.9v.9h-.9zM171.0 323.2h.9v.9h-.9zM179.0 319.0h.9v.9h-.9zM171.1 327.0h.9v.9h-.9zM186.8 326.3h.9v.9h-.9zM176.0 327.3h.9v.9h-.9zM175.7 325.0h.9v.9h-.9zM188.2 319.2h.9v.9h-.9zM188.3 320.8h.9v.9h-.9zM190.1 322.3h.9v.9h-.9zM177.1 320.2h.9v.9h-.9zM178.5 319.4h.9v.9h-.9zM188.0 320.2h.9v.9h-.9zM172.9 324.2h.9v.9h-.9zM183.9 326.0h.9v.9h-.9zM180.8 318.4h.9v.9h-.9zM188.5 324.7h.9v.9h-.9zM190.9 322.8h.9v.9h-.9zM184.9 317.2h.9v.9h-.9zM189.1 323.4h.9v.9h-.9zM188.9 323.6h.9v.9h-.9zM170.4 324.1h.9v.9h-.9zM186.7 318.6h.9v.9h-.9zM182.4 319.0h.9v.9h-.9zM173.5 326.4h.9v.9h-.9zM176.3 319.9h.9v.9h-.9zM177.8 319.7h.9v.9h-.9zM178.2 319.6h.9v.9h-.9zM186.5 321.5h.9v.9h-.9zM179.7 320.5h.9v.9h-.9zM180.5 329.4h.9v.9h-.9zM174.9 320.9h.9v.9h-.9zM177.8 320.8h.9v.9h-.9zM190.2 323.3h.9v.9h-.9zM180.2 318.1h.9v.9h-.9zM180.8 328.6h.9v.9h-.9zM181.6 329.0h.9v.9h-.9zM186.9 324.8h.9v.9h-.9zM177.4 330.2h.9v.9h-.9zM176.0 320.9h.9v.9h-.9zM187.4 318.7h.9v.9h-.9zM186.8 326.7h.9v.9h-.9zM182.1 327.5h.9v.9h-.9zM185.6 318.7h.9v.9h-.9zM180.9 319.2h.9v.9h-.9zM177.0 320.8h.9v.9h-.9zM173.1 323.2h.9v.9h-.9zM180.9 318.6h.9v.9h-.9zM175.2 322.8h.9v.9h-.9zM172.2 323.6h.9v.9h-.9zM172.3 327.4h.9v.9h-.9zM175.5 325.4h.9v.9h-.9zM187.7 325.0h.9v.9h-.9zM173.9 329.8h.9v.9h-.9zM176.0 323.6h.9v.9h-.9zM175.5 328.8h.9v.9h-.9zM174.7 325.4h.9v.9h-.9zM172.0 328.4h.9v.9h-.9zM184.8 318.2h.9v.9h-.9zM185.6 317.6h.9v.9h-.9zM185.2 326.8h.9v.9h-.9zM187.9 321.5h.9v.9h-.9zM178.9 319.8h.9v.9h-.9zM185.6 324.7h.9v.9h-.9zM173.1 322.8h.9v.9h-.9zM181.5 328.4h.9v.9h-.9zM184.0 328.8h.9v.9h-.9zM177.4 321.8h.9v.9h-.9zM178.5 319.6h.9v.9h-.9zM169.6 326.1h.9v.9h-.9zM188.6 323.5h.9v.9h-.9zM185.5 325.3h.9v.9h-.9zM180.0 318.6h.9v.9h-.9zM188.1 320.5h.9v.9h-.9zM173.8 329.2h.9v.9h-.9zM170.2 326.4h.9v.9h-.9zM191.0 323.2h.9v.9h-.9zM176.7 319.3h.9v.9h-.9zM176.2 319.7h.9v.9h-.9zM190.3 322.5h.9v.9h-.9zM190.9 321.3h.9v.9h-.9zM178.1 328.9h.9v.9h-.9zM177.3 329.3h.9v.9h-.9zM178.1 320.8h.9v.9h-.9zM188.7 323.2h.9v.9h-.9zM175.7 324.2h.9v.9h-.9zM190.3 322.2h.9v.9h-.9zM178.5 329.3h.9v.9h-.9zM176.2 325.5h.9v.9h-.9zM176.8 321.1h.9v.9h-.9zM178.5 319.4h.9v.9h-.9zM183.2 319.4h.9v.9h-.9zM182.0 327.7h.9v.9h-.9zM172.0 323.8h.9v.9h-.9zM179.2 328.3h.9v.9h-.9zM187.9 323.1h.9v.9h-.9zM171.8 323.2h.9v.9h-.9zM175.3 326.5h.9v.9h-.9zM185.4 325.4h.9v.9h-.9zM187.9 322.9h.9v.9h-.9zM188.1 325.0h.9v.9h-.9zM186.1 319.4h.9v.9h-.9zM172.0 324.7h.9v.9h-.9zM174.4 328.2h.9v.9h-.9zM177.0 319.5h.9v.9h-.9zM185.6 325.7h.9v.9h-.9zM175.8 329.9h.9v.9h-.9zM173.8 326.0h.9v.9h-.9zM189.6 320.8h.9v.9h-.9zM183.4 319.2h.9v.9h-.9zM180.1 319.9h.9v.9h-.9zM170.3 326.9h.9v.9h-.9zM174.0 329.2h.9v.9h-.9zM174.6 327.5h.9v.9h-.9zM177.6 330.1h.9v.9h-.9zM184.1 328.8h.9v.9h-.9zM183.9 317.7h.9v.9h-.9zM172.1 322.8h.9v.9h-.9zM182.9 328.4h.9v.9h-.9zM184.7 327.4h.9v.9h-.9zM187.7 323.9h.9v.9h-.9zM175.4 322.1h.9v.9h-.9zM175.3 329.2h.9v.9h-.9zM183.6 318.6h.9v.9h-.9zM184.5 317.7h.9v.9h-.9zM171.6 328.4h.9v.9h-.9zM189.9 324.3h.9v.9h-.9zM174.0 326.8h.9v.9h-.9zM171.5 328.2h.9v.9h-.9zM174.9 329.2h.9v.9h-.9zM181.7 328.4h.9v.9h-.9zM170.1 324.2h.9v.9h-.9zM175.9 328.5h.9v.9h-.9zM171.1 325.3h.9v.9h-.9zM170.9 328.1h.9v.9h-.9zM172.1 323.4h.9v.9h-.9zM174.8 327.5h.9v.9h-.9zM172.8 324.2h.9v.9h-.9zM177.9 330.1h.9v.9h-.9zM175.8 323.6h.9v.9h-.9zM171.3 326.8h.9v.9h-.9zM170.2 325.7h.9v.9h-.9zM169.6 326.3h.9v.9h-.9zM171.0 325.4h.9v.9h-.9zM170.5 325.9h.9v.9h-.9zM171.6 327.7h.9v.9h-.9zM172.7 324.0h.9v.9h-.9zM174.5 329.0h.9v.9h-.9zM170.5 324.3h.9v.9h-.9zM171.3 324.1h.9v.9h-.9zM172.5 322.9h.9v.9h-.9zM172.4 328.9h.9v.9h-.9zM171.2 327.6h.9v.9h-.9zM174.2 325.4h.9v.9h-.9zM176.1 329.5h.9v.9h-.9zM170.2 325.8h.9v.9h-.9zM183.5 328.2h.9v.9h-.9zM170.7 327.7h.9v.9h-.9zM173.7 326.7h.9v.9h-.9zM171.0 324.4h.9v.9h-.9zM175.5 327.3h.9v.9h-.9zM171.6 325.1h.9v.9h-.9zM182.7 329.3h.9v.9h-.9zM170.6 324.8h.9v.9h-.9zM171.8 326.7h.9v.9h-.9zM176.1 322.9h.9v.9h-.9z" fill="#7f89aa" opacity="0.85"/>
<path d="M186.6 321.8h.9v.9h-.9zM187.6 322.4h.9v.9h-.9zM183.0 325.9h.9v.9h-.9zM180.6 320.6h.9v.9h-.9zM185.9 321.0h.9v.9h-.9zM187.3 324.5h.9v.9h-.9zM176.6 327.5h.9v.9h-.9zM187.1 322.8h.9v.9h-.9zM175.7 324.3h.9v.9h-.9zM180.1 327.3h.9v.9h-.9zM182.9 327.2h.9v.9h-.9zM175.7 325.1h.9v.9h-.9zM185.9 324.6h.9v.9h-.9zM177.9 326.9h.9v.9h-.9zM187.4 322.7h.9v.9h-.9zM176.5 323.6h.9v.9h-.9zM185.6 323.8h.9v.9h-.9zM185.4 319.2h.9v.9h-.9zM180.2 322.2h.9v.9h-.9zM185.6 319.6h.9v.9h-.9zM186.3 322.2h.9v.9h-.9zM182.1 325.0h.9v.9h-.9zM181.5 320.5h.9v.9h-.9zM176.8 324.8h.9v.9h-.9zM186.3 323.1h.9v.9h-.9zM177.4 320.4h.9v.9h-.9zM177.7 320.9h.9v.9h-.9zM184.3 324.7h.9v.9h-.9zM183.6 320.3h.9v.9h-.9zM179.6 320.2h.9v.9h-.9zM175.4 327.6h.9v.9h-.9zM187.9 323.6h.9v.9h-.9zM182.0 326.0h.9v.9h-.9zM176.4 327.3h.9v.9h-.9zM187.3 321.8h.9v.9h-.9zM181.2 327.5h.9v.9h-.9zM174.3 327.5h.9v.9h-.9zM179.8 328.5h.9v.9h-.9zM182.9 320.1h.9v.9h-.9zM187.4 320.7h.9v.9h-.9zM183.6 324.9h.9v.9h-.9zM176.7 327.4h.9v.9h-.9zM184.2 320.1h.9v.9h-.9zM183.6 320.4h.9v.9h-.9zM184.2 325.6h.9v.9h-.9zM185.8 322.1h.9v.9h-.9zM184.4 321.8h.9v.9h-.9zM187.6 322.7h.9v.9h-.9zM177.1 325.3h.9v.9h-.9zM182.5 326.5h.9v.9h-.9zM184.7 324.1h.9v.9h-.9zM187.7 321.8h.9v.9h-.9zM181.1 327.3h.9v.9h-.9zM183.0 324.2h.9v.9h-.9zM175.7 323.8h.9v.9h-.9zM184.5 326.2h.9v.9h-.9zM188.5 322.7h.9v.9h-.9zM176.1 325.0h.9v.9h-.9zM184.6 326.1h.9v.9h-.9zM182.2 327.0h.9v.9h-.9zM181.8 327.1h.9v.9h-.9zM177.2 325.5h.9v.9h-.9zM180.5 321.3h.9v.9h-.9zM180.4 321.3h.9v.9h-.9zM187.8 323.0h.9v.9h-.9zM180.0 322.8h.9v.9h-.9zM186.8 321.1h.9v.9h-.9zM179.2 327.4h.9v.9h-.9zM181.3 321.3h.9v.9h-.9zM180.9 320.3h.9v.9h-.9zM184.7 321.3h.9v.9h-.9zM177.2 321.8h.9v.9h-.9zM185.3 320.4h.9v.9h-.9zM187.0 321.0h.9v.9h-.9zM176.9 323.7h.9v.9h-.9zM184.9 325.4h.9v.9h-.9zM184.5 326.0h.9v.9h-.9zM176.7 324.8h.9v.9h-.9zM178.6 327.2h.9v.9h-.9zM183.2 321.5h.9v.9h-.9zM176.0 328.1h.9v.9h-.9zM179.5 327.7h.9v.9h-.9zM186.2 322.4h.9v.9h-.9zM185.9 324.3h.9v.9h-.9zM186.2 321.8h.9v.9h-.9zM181.0 320.2h.9v.9h-.9zM178.3 327.8h.9v.9h-.9zM179.9 320.3h.9v.9h-.9zM178.5 327.5h.9v.9h-.9zM185.3 326.4h.9v.9h-.9zM177.4 327.6h.9v.9h-.9zM175.9 322.8h.9v.9h-.9zM185.4 323.9h.9v.9h-.9zM178.8 326.9h.9v.9h-.9zM178.4 319.7h.9v.9h-.9zM176.6 326.9h.9v.9h-.9zM183.8 326.3h.9v.9h-.9zM178.4 319.5h.9v.9h-.9zM185.6 324.7h.9v.9h-.9zM176.2 323.4h.9v.9h-.9zM184.9 323.8h.9v.9h-.9zM175.8 325.1h.9v.9h-.9zM183.7 320.6h.9v.9h-.9zM187.6 321.9h.9v.9h-.9zM184.5 318.3h.9v.9h-.9zM181.9 319.8h.9v.9h-.9zM186.7 323.8h.9v.9h-.9zM184.7 320.4h.9v.9h-.9zM179.2 319.9h.9v.9h-.9zM176.4 325.5h.9v.9h-.9zM186.1 323.0h.9v.9h-.9zM183.5 325.8h.9v.9h-.9zM177.8 319.4h.9v.9h-.9zM182.7 326.1h.9v.9h-.9zM183.5 326.4h.9v.9h-.9zM186.2 319.2h.9v.9h-.9zM184.0 320.4h.9v.9h-.9zM176.9 328.2h.9v.9h-.9zM185.7 320.8h.9v.9h-.9zM186.0 324.6h.9v.9h-.9zM181.0 328.4h.9v.9h-.9zM177.3 322.0h.9v.9h-.9zM176.4 325.9h.9v.9h-.9zM187.7 321.9h.9v.9h-.9zM186.7 321.6h.9v.9h-.9zM187.5 322.8h.9v.9h-.9zM188.1 321.6h.9v.9h-.9zM175.8 324.6h.9v.9h-.9zM183.1 325.9h.9v.9h-.9zM179.8 319.6h.9v.9h-.9zM189.1 322.5h.9v.9h-.9zM187.8 323.2h.9v.9h-.9zM178.0 321.7h.9v.9h-.9zM181.2 321.2h.9v.9h-.9zM188.6 322.2h.9v.9h-.9zM181.3 326.9h.9v.9h-.9zM180.0 327.3h.9v.9h-.9zM187.5 322.1h.9v.9h-.9zM178.6 327.5h.9v.9h-.9zM188.4 321.9h.9v.9h-.9zM176.5 322.9h.9v.9h-.9zM179.9 327.8h.9v.9h-.9zM177.7 327.4h.9v.9h-.9zM184.4 324.9h.9v.9h-.9zM177.6 321.9h.9v.9h-.9zM180.1 320.2h.9v.9h-.9zM184.2 320.4h.9v.9h-.9zM185.1 324.5h.9v.9h-.9zM178.3 320.6h.9v.9h-.9zM188.8 321.9h.9v.9h-.9zM186.1 324.5h.9v.9h-.9zM182.8 320.5h.9v.9h-.9zM177.9 321.5h.9v.9h-.9zM184.6 325.2h.9v.9h-.9zM176.4 324.6h.9v.9h-.9zM182.3 326.8h.9v.9h-.9zM181.7 320.7h.9v.9h-.9zM185.3 324.5h.9v.9h-.9zM177.6 320.0h.9v.9h-.9zM186.2 321.4h.9v.9h-.9zM188.8 322.7h.9v.9h-.9zM177.1 327.5h.9v.9h-.9zM181.6 327.4h.9v.9h-.9zM187.5 322.4h.9v.9h-.9zM188.7 322.3h.9v.9h-.9zM182.5 320.5h.9v.9h-.9zM186.3 321.4h.9v.9h-.9zM177.8 321.7h.9v.9h-.9zM179.2 327.9h.9v.9h-.9zM182.7 326.8h.9v.9h-.9zM186.4 320.4h.9v.9h-.9zM188.1 323.0h.9v.9h-.9zM179.0 321.2h.9v.9h-.9zM187.7 322.8h.9v.9h-.9zM185.5 324.4h.9v.9h-.9zM186.7 321.0h.9v.9h-.9zM176.6 322.3h.9v.9h-.9zM179.0 327.6h.9v.9h-.9zM186.7 320.4h.9v.9h-.9zM187.8 323.6h.9v.9h-.9zM177.1 326.6h.9v.9h-.9zM181.4 320.2h.9v.9h-.9zM184.1 321.3h.9v.9h-.9zM176.9 327.1h.9v.9h-.9zM178.0 328.3h.9v.9h-.9zM176.5 323.5h.9v.9h-.9zM181.8 319.7h.9v.9h-.9zM181.8 326.4h.9v.9h-.9zM176.8 325.4h.9v.9h-.9z" fill="#5a6c9e" opacity="0.9"/>
<path d="M180.2 324.5h.9v.9h-.9zM183.3 321.1h.9v.9h-.9zM184.1 321.0h.9v.9h-.9zM181.6 326.8h.9v.9h-.9zM178.8 327.4h.9v.9h-.9zM180.5 323.1h.9v.9h-.9zM185.2 321.3h.9v.9h-.9zM176.3 324.2h.9v.9h-.9zM180.2 326.8h.9v.9h-.9zM182.1 322.0h.9v.9h-.9zM177.2 326.1h.9v.9h-.9zM182.2 321.0h.9v.9h-.9zM182.4 323.4h.9v.9h-.9zM178.0 322.8h.9v.9h-.9zM177.3 324.9h.9v.9h-.9zM179.5 321.5h.9v.9h-.9zM184.7 323.8h.9v.9h-.9zM181.1 322.2h.9v.9h-.9zM180.7 326.7h.9v.9h-.9zM184.0 322.7h.9v.9h-.9zM185.5 323.0h.9v.9h-.9zM182.9 321.0h.9v.9h-.9zM177.3 326.9h.9v.9h-.9zM181.5 321.6h.9v.9h-.9zM176.2 326.9h.9v.9h-.9zM177.9 322.9h.9v.9h-.9zM182.0 324.3h.9v.9h-.9zM182.6 326.2h.9v.9h-.9zM179.7 326.0h.9v.9h-.9zM185.5 323.6h.9v.9h-.9zM181.1 325.0h.9v.9h-.9zM181.2 322.6h.9v.9h-.9zM183.2 321.4h.9v.9h-.9zM179.2 321.1h.9v.9h-.9zM182.5 326.1h.9v.9h-.9zM184.0 322.2h.9v.9h-.9zM180.5 322.1h.9v.9h-.9zM186.9 323.0h.9v.9h-.9zM178.7 321.4h.9v.9h-.9zM182.6 325.5h.9v.9h-.9zM178.2 324.6h.9v.9h-.9zM186.2 322.7h.9v.9h-.9zM183.8 325.5h.9v.9h-.9zM188.7 321.1h.9v.9h-.9zM184.9 323.4h.9v.9h-.9zM185.1 321.4h.9v.9h-.9zM187.0 322.4h.9v.9h-.9zM177.2 326.5h.9v.9h-.9zM177.0 324.4h.9v.9h-.9zM182.8 325.8h.9v.9h-.9zM177.8 323.0h.9v.9h-.9zM181.4 326.2h.9v.9h-.9zM185.3 322.9h.9v.9h-.9zM178.5 326.6h.9v.9h-.9zM183.5 324.2h.9v.9h-.9zM183.1 321.5h.9v.9h-.9zM182.3 322.1h.9v.9h-.9zM178.5 326.2h.9v.9h-.9zM181.4 325.8h.9v.9h-.9zM183.9 321.4h.9v.9h-.9zM181.8 322.5h.9v.9h-.9zM181.9 326.3h.9v.9h-.9zM185.0 323.9h.9v.9h-.9zM179.6 322.5h.9v.9h-.9zM176.7 326.3h.9v.9h-.9zM182.5 321.6h.9v.9h-.9zM180.4 321.2h.9v.9h-.9zM177.6 326.2h.9v.9h-.9zM185.5 321.4h.9v.9h-.9zM177.9 323.0h.9v.9h-.9zM182.1 321.2h.9v.9h-.9zM177.2 326.0h.9v.9h-.9zM178.4 322.2h.9v.9h-.9zM177.7 322.0h.9v.9h-.9zM181.6 326.1h.9v.9h-.9zM177.6 324.3h.9v.9h-.9zM178.7 327.3h.9v.9h-.9zM179.2 322.9h.9v.9h-.9zM185.0 322.3h.9v.9h-.9zM178.5 323.0h.9v.9h-.9zM182.7 320.7h.9v.9h-.9zM184.4 321.1h.9v.9h-.9zM177.7 324.9h.9v.9h-.9zM185.3 323.4h.9v.9h-.9zM179.4 322.8h.9v.9h-.9zM178.3 325.4h.9v.9h-.9zM177.6 325.0h.9v.9h-.9zM184.2 322.6h.9v.9h-.9zM183.1 326.2h.9v.9h-.9zM178.8 322.2h.9v.9h-.9zM183.7 320.1h.9v.9h-.9zM177.1 325.2h.9v.9h-.9zM185.0 320.5h.9v.9h-.9zM177.8 322.2h.9v.9h-.9zM178.8 323.9h.9v.9h-.9zM184.2 323.4h.9v.9h-.9zM180.0 327.3h.9v.9h-.9zM179.4 326.6h.9v.9h-.9zM178.9 326.6h.9v.9h-.9zM182.1 325.5h.9v.9h-.9zM181.1 320.7h.9v.9h-.9zM181.8 326.8h.9v.9h-.9zM182.8 321.8h.9v.9h-.9zM182.7 325.4h.9v.9h-.9zM176.8 323.0h.9v.9h-.9zM179.3 327.8h.9v.9h-.9zM182.1 325.2h.9v.9h-.9zM182.1 323.1h.9v.9h-.9zM179.4 321.2h.9v.9h-.9zM179.0 322.3h.9v.9h-.9zM180.4 321.9h.9v.9h-.9zM178.1 322.3h.9v.9h-.9zM181.7 326.2h.9v.9h-.9zM182.9 324.0h.9v.9h-.9zM183.5 321.9h.9v.9h-.9zM183.8 320.8h.9v.9h-.9zM184.4 323.8h.9v.9h-.9zM178.6 326.9h.9v.9h-.9zM180.6 321.8h.9v.9h-.9zM178.4 326.7h.9v.9h-.9zM179.3 321.0h.9v.9h-.9zM180.8 321.6h.9v.9h-.9z" fill="#4f8690" opacity="0.9"/>
<path d="M177.4 325.4h.9v.9h-.9zM181.2 323.2h.9v.9h-.9zM179.4 326.2h.9v.9h-.9zM180.2 322.5h.9v.9h-.9zM179.1 326.5h.9v.9h-.9zM183.1 322.7h.9v.9h-.9zM178.9 326.0h.9v.9h-.9zM181.3 325.1h.9v.9h-.9zM184.4 324.0h.9v.9h-.9zM183.0 324.1h.9v.9h-.9zM182.3 322.0h.9v.9h-.9zM180.7 321.9h.9v.9h-.9zM177.1 325.1h.9v.9h-.9zM178.9 325.5h.9v.9h-.9zM180.4 323.0h.9v.9h-.9zM186.2 323.0h.9v.9h-.9zM180.8 323.7h.9v.9h-.9zM179.0 324.6h.9v.9h-.9zM182.2 321.9h.9v.9h-.9zM182.6 323.6h.9v.9h-.9zM181.7 323.9h.9v.9h-.9zM181.7 325.8h.9v.9h-.9zM179.4 321.6h.9v.9h-.9zM183.1 321.7h.9v.9h-.9zM180.6 326.7h.9v.9h-.9zM181.4 324.5h.9v.9h-.9zM179.3 323.8h.9v.9h-.9zM179.3 326.6h.9v.9h-.9zM179.3 323.7h.9v.9h-.9zM178.9 322.4h.9v.9h-.9zM184.7 323.1h.9v.9h-.9zM182.1 321.7h.9v.9h-.9zM178.8 324.4h.9v.9h-.9zM181.8 320.9h.9v.9h-.9zM179.7 322.5h.9v.9h-.9zM182.7 323.4h.9v.9h-.9zM180.5 321.8h.9v.9h-.9zM179.6 323.4h.9v.9h-.9zM180.9 326.1h.9v.9h-.9zM179.1 322.8h.9v.9h-.9zM182.8 325.5h.9v.9h-.9zM184.2 322.5h.9v.9h-.9zM183.7 323.1h.9v.9h-.9zM179.3 325.3h.9v.9h-.9zM180.3 322.4h.9v.9h-.9zM184.2 323.4h.9v.9h-.9zM182.9 324.9h.9v.9h-.9zM178.6 324.7h.9v.9h-.9zM183.2 323.7h.9v.9h-.9zM180.2 323.9h.9v.9h-.9z" fill="#96b85c" opacity="0.95"/>
<path d="M178.8 324.8h.9v.9h-.9zM180.7 324.1h.9v.9h-.9zM179.9 325.3h.9v.9h-.9zM179.0 326.7h.9v.9h-.9zM180.4 324.2h.9v.9h-.9zM183.8 322.7h.9v.9h-.9zM181.4 323.0h.9v.9h-.9zM182.3 322.6h.9v.9h-.9zM180.1 322.9h.9v.9h-.9zM177.6 325.6h.9v.9h-.9zM179.7 325.1h.9v.9h-.9zM183.1 323.3h.9v.9h-.9zM179.4 324.6h.9v.9h-.9zM184.2 321.8h.9v.9h-.9zM178.6 324.5h.9v.9h-.9zM184.1 322.7h.9v.9h-.9zM178.9 324.2h.9v.9h-.9zM180.0 324.8h.9v.9h-.9zM178.5 325.4h.9v.9h-.9zM182.9 324.4h.9v.9h-.9zM181.2 325.2h.9v.9h-.9zM178.5 324.1h.9v.9h-.9zM182.5 324.3h.9v.9h-.9zM179.1 324.9h.9v.9h-.9z" fill="#d4c448" opacity="1"/>
<path d="M179.3 323.0h.9v.9h-.9zM179.7 326.0h.9v.9h-.9zM179.8 324.8h.9v.9h-.9zM183.5 323.8h.9v.9h-.9zM177.9 324.8h.9v.9h-.9zM182.6 323.3h.9v.9h-.9zM178.8 324.9h.9v.9h-.9zM181.5 323.2h.9v.9h-.9zM181.3 323.9h.9v.9h-.9zM181.3 325.1h.9v.9h-.9zM181.2 325.3h.9v.9h-.9zM183.8 322.1h.9v.9h-.9zM179.7 323.1h.9v.9h-.9zM184.4 321.9h.9v.9h-.9zM178.9 325.9h.9v.9h-.9zM178.9 325.5h.9v.9h-.9zM183.5 322.3h.9v.9h-.9zM179.0 324.8h.9v.9h-.9zM183.7 322.3h.9v.9h-.9zM179.7 324.6h.9v.9h-.9zM181.4 325.1h.9v.9h-.9zM179.3 325.3h.9v.9h-.9zM180.9 326.0h.9v.9h-.9zM178.8 326.0h.9v.9h-.9zM178.8 326.0h.9v.9h-.9zM178.9 325.5h.9v.9h-.9zM184.2 322.7h.9v.9h-.9zM179.5 324.8h.9v.9h-.9zM181.7 325.9h.9v.9h-.9zM178.5 325.6h.9v.9h-.9zM182.9 323.7h.9v.9h-.9zM178.4 326.6h.9v.9h-.9zM178.7 325.5h.9v.9h-.9zM178.5 323.6h.9v.9h-.9zM179.6 324.0h.9v.9h-.9z" fill="#e0a03c" opacity="1"/>
<polyline points="170.7,331.6 203.7,331.6 203.7,306.5" fill="none" stroke="#9a9a9a" stroke-width="0.9"/>
<polyline points="170.7,331.6 185.3,306.5 203.7,306.5 203.7,320" fill="none" stroke="#444" stroke-width="0.8"/>
<text x="194.00" y="303.40" font-size="7.9" text-anchor="middle">81.4%</text>
<rect x="147.70" y="265.6" width="66.2" height="67.80" fill="none" stroke="#231f20" stroke-width="1"/>
<line x1="144.40" y1="333.40" x2="147.70" y2="333.40" stroke="#231f20" stroke-width="0.8"/>
<text x="141.70" y="336.50" font-size="8.0" text-anchor="end">0</text>
<line x1="146.00" y1="330.76" x2="147.70" y2="330.76" stroke="#231f20" stroke-width="0.6"/>
<line x1="146.00" y1="328.12" x2="147.70" y2="328.12" stroke="#231f20" stroke-width="0.6"/>
<line x1="146.00" y1="325.48" x2="147.70" y2="325.48" stroke="#231f20" stroke-width="0.6"/>
<line x1="146.00" y1="322.84" x2="147.70" y2="322.84" stroke="#231f20" stroke-width="0.6"/>
<line x1="144.40" y1="320.20" x2="147.70" y2="320.20" stroke="#231f20" stroke-width="0.8"/>
<text x="141.70" y="323.30" font-size="8.0" text-anchor="end">50K</text>
<line x1="146.00" y1="317.56" x2="147.70" y2="317.56" stroke="#231f20" stroke-width="0.6"/>
<line x1="146.00" y1="314.92" x2="147.70" y2="314.92" stroke="#231f20" stroke-width="0.6"/>
<line x1="146.00" y1="312.28" x2="147.70" y2="312.28" stroke="#231f20" stroke-width="0.6"/>
<line x1="146.00" y1="309.64" x2="147.70" y2="309.64" stroke="#231f20" stroke-width="0.6"/>
<line x1="144.40" y1="307.00" x2="147.70" y2="307.00" stroke="#231f20" stroke-width="0.8"/>
<text x="141.70" y="310.10" font-size="8.0" text-anchor="end">100K</text>
<line x1="146.00" y1="304.36" x2="147.70" y2="304.36" stroke="#231f20" stroke-width="0.6"/>
<line x1="146.00" y1="301.72" x2="147.70" y2="301.72" stroke="#231f20" stroke-width="0.6"/>
<line x1="146.00" y1="299.08" x2="147.70" y2="299.08" stroke="#231f20" stroke-width="0.6"/>
<line x1="146.00" y1="296.44" x2="147.70" y2="296.44" stroke="#231f20" stroke-width="0.6"/>
<line x1="144.40" y1="293.80" x2="147.70" y2="293.80" stroke="#231f20" stroke-width="0.8"/>
<text x="141.70" y="296.90" font-size="8.0" text-anchor="end">150K</text>
<line x1="146.00" y1="291.16" x2="147.70" y2="291.16" stroke="#231f20" stroke-width="0.6"/>
<line x1="146.00" y1="288.52" x2="147.70" y2="288.52" stroke="#231f20" stroke-width="0.6"/>
<line x1="146.00" y1="285.88" x2="147.70" y2="285.88" stroke="#231f20" stroke-width="0.6"/>
<line x1="146.00" y1="283.24" x2="147.70" y2="283.24" stroke="#231f20" stroke-width="0.6"/>
<line x1="144.40" y1="280.60" x2="147.70" y2="280.60" stroke="#231f20" stroke-width="0.8"/>
<text x="141.70" y="283.70" font-size="8.0" text-anchor="end">200K</text>
<line x1="146.00" y1="277.96" x2="147.70" y2="277.96" stroke="#231f20" stroke-width="0.6"/>
<line x1="146.00" y1="275.32" x2="147.70" y2="275.32" stroke="#231f20" stroke-width="0.6"/>
<line x1="146.00" y1="272.68" x2="147.70" y2="272.68" stroke="#231f20" stroke-width="0.6"/>
<line x1="146.00" y1="270.04" x2="147.70" y2="270.04" stroke="#231f20" stroke-width="0.6"/>
<line x1="144.40" y1="267.40" x2="147.70" y2="267.40" stroke="#231f20" stroke-width="0.8"/>
<text x="141.70" y="270.50" font-size="8.0" text-anchor="end">250K</text>
<line x1="155.40" y1="333.40" x2="155.40" y2="335.90" stroke="#231f20" stroke-width="0.8"/>
<line x1="159.40" y1="333.40" x2="159.40" y2="335.10" stroke="#231f20" stroke-width="0.6"/>
<line x1="161.75" y1="333.40" x2="161.75" y2="335.10" stroke="#231f20" stroke-width="0.6"/>
<line x1="163.41" y1="333.40" x2="163.41" y2="335.10" stroke="#231f20" stroke-width="0.6"/>
<line x1="164.70" y1="333.40" x2="164.70" y2="335.10" stroke="#231f20" stroke-width="0.6"/>
<line x1="165.75" y1="333.40" x2="165.75" y2="335.10" stroke="#231f20" stroke-width="0.6"/>
<line x1="166.64" y1="333.40" x2="166.64" y2="335.10" stroke="#231f20" stroke-width="0.6"/>
<line x1="167.41" y1="333.40" x2="167.41" y2="335.10" stroke="#231f20" stroke-width="0.6"/>
<line x1="168.09" y1="333.40" x2="168.09" y2="335.10" stroke="#231f20" stroke-width="0.6"/>
<text x="153.80" y="345.6" font-size="7.9" text-anchor="middle">10<tspan font-size="5.6" dy="-2.9" style="stroke-width:0.08px">1</tspan></text>
<line x1="168.70" y1="333.40" x2="168.70" y2="335.90" stroke="#231f20" stroke-width="0.8"/>
<line x1="172.70" y1="333.40" x2="172.70" y2="335.10" stroke="#231f20" stroke-width="0.6"/>
<line x1="175.05" y1="333.40" x2="175.05" y2="335.10" stroke="#231f20" stroke-width="0.6"/>
<line x1="176.71" y1="333.40" x2="176.71" y2="335.10" stroke="#231f20" stroke-width="0.6"/>
<line x1="178.00" y1="333.40" x2="178.00" y2="335.10" stroke="#231f20" stroke-width="0.6"/>
<line x1="179.05" y1="333.40" x2="179.05" y2="335.10" stroke="#231f20" stroke-width="0.6"/>
<line x1="179.94" y1="333.40" x2="179.94" y2="335.10" stroke="#231f20" stroke-width="0.6"/>
<line x1="180.71" y1="333.40" x2="180.71" y2="335.10" stroke="#231f20" stroke-width="0.6"/>
<line x1="181.39" y1="333.40" x2="181.39" y2="335.10" stroke="#231f20" stroke-width="0.6"/>
<text x="167.10" y="345.6" font-size="7.9" text-anchor="middle">10<tspan font-size="5.6" dy="-2.9" style="stroke-width:0.08px">2</tspan></text>
<line x1="182.00" y1="333.40" x2="182.00" y2="335.90" stroke="#231f20" stroke-width="0.8"/>
<line x1="186.00" y1="333.40" x2="186.00" y2="335.10" stroke="#231f20" stroke-width="0.6"/>
<line x1="188.35" y1="333.40" x2="188.35" y2="335.10" stroke="#231f20" stroke-width="0.6"/>
<line x1="190.01" y1="333.40" x2="190.01" y2="335.10" stroke="#231f20" stroke-width="0.6"/>
<line x1="191.30" y1="333.40" x2="191.30" y2="335.10" stroke="#231f20" stroke-width="0.6"/>
<line x1="192.35" y1="333.40" x2="192.35" y2="335.10" stroke="#231f20" stroke-width="0.6"/>
<line x1="193.24" y1="333.40" x2="193.24" y2="335.10" stroke="#231f20" stroke-width="0.6"/>
<line x1="194.01" y1="333.40" x2="194.01" y2="335.10" stroke="#231f20" stroke-width="0.6"/>
<line x1="194.69" y1="333.40" x2="194.69" y2="335.10" stroke="#231f20" stroke-width="0.6"/>
<text x="180.40" y="345.6" font-size="7.9" text-anchor="middle">10<tspan font-size="5.6" dy="-2.9" style="stroke-width:0.08px">3</tspan></text>
<line x1="195.30" y1="333.40" x2="195.30" y2="335.90" stroke="#231f20" stroke-width="0.8"/>
<line x1="199.30" y1="333.40" x2="199.30" y2="335.10" stroke="#231f20" stroke-width="0.6"/>
<line x1="201.65" y1="333.40" x2="201.65" y2="335.10" stroke="#231f20" stroke-width="0.6"/>
<line x1="203.31" y1="333.40" x2="203.31" y2="335.10" stroke="#231f20" stroke-width="0.6"/>
<line x1="204.60" y1="333.40" x2="204.60" y2="335.10" stroke="#231f20" stroke-width="0.6"/>
<line x1="205.65" y1="333.40" x2="205.65" y2="335.10" stroke="#231f20" stroke-width="0.6"/>
<line x1="206.54" y1="333.40" x2="206.54" y2="335.10" stroke="#231f20" stroke-width="0.6"/>
<line x1="207.31" y1="333.40" x2="207.31" y2="335.10" stroke="#231f20" stroke-width="0.6"/>
<line x1="207.99" y1="333.40" x2="207.99" y2="335.10" stroke="#231f20" stroke-width="0.6"/>
<text x="193.70" y="345.6" font-size="7.9" text-anchor="middle">10<tspan font-size="5.6" dy="-2.9" style="stroke-width:0.08px">4</tspan></text>
<line x1="208.60" y1="333.40" x2="208.60" y2="335.90" stroke="#231f20" stroke-width="0.8"/>
<line x1="212.60" y1="333.40" x2="212.60" y2="335.10" stroke="#231f20" stroke-width="0.6"/>
<text x="207.00" y="345.6" font-size="7.9" text-anchor="middle">10<tspan font-size="5.6" dy="-2.9" style="stroke-width:0.08px">5</tspan></text>
<text x="280.80" y="261.90" font-size="7.8" text-anchor="middle"><tspan font-style="italic">HBB</tspan> –98 guide</text>
<path d="M264.8 329.7h.9v.9h-.9zM262.1 329.4h.9v.9h-.9zM266.1 328.9h.9v.9h-.9zM264.1 329.0h.9v.9h-.9zM266.6 329.5h.9v.9h-.9zM262.4 326.8h.9v.9h-.9zM276.8 318.0h.9v.9h-.9zM267.1 329.6h.9v.9h-.9zM271.8 317.7h.9v.9h-.9zM262.8 327.6h.9v.9h-.9zM269.6 330.5h.9v.9h-.9zM267.8 329.3h.9v.9h-.9zM264.3 322.6h.9v.9h-.9zM266.0 331.1h.9v.9h-.9zM263.0 320.1h.9v.9h-.9zM263.9 331.3h.9v.9h-.9zM265.2 321.5h.9v.9h-.9zM265.6 319.0h.9v.9h-.9zM269.6 329.2h.9v.9h-.9zM265.6 329.8h.9v.9h-.9zM271.9 329.9h.9v.9h-.9zM264.5 320.7h.9v.9h-.9zM265.4 319.5h.9v.9h-.9zM269.0 319.3h.9v.9h-.9zM264.5 332.5h.9v.9h-.9zM259.2 331.3h.9v.9h-.9zM268.7 329.8h.9v.9h-.9zM270.4 316.5h.9v.9h-.9zM260.7 329.0h.9v.9h-.9zM262.3 325.8h.9v.9h-.9zM263.3 323.8h.9v.9h-.9zM261.7 325.4h.9v.9h-.9zM266.4 330.2h.9v.9h-.9zM264.0 328.4h.9v.9h-.9zM272.0 330.7h.9v.9h-.9zM267.0 328.8h.9v.9h-.9zM259.4 332.3h.9v.9h-.9zM262.2 328.8h.9v.9h-.9zM263.1 324.8h.9v.9h-.9zM272.5 331.7h.9v.9h-.9zM267.8 329.5h.9v.9h-.9zM260.4 324.1h.9v.9h-.9zM260.3 328.0h.9v.9h-.9zM263.2 328.1h.9v.9h-.9zM264.9 329.5h.9v.9h-.9zM262.7 327.5h.9v.9h-.9zM257.1 332.2h.9v.9h-.9zM265.9 318.0h.9v.9h-.9zM265.5 329.0h.9v.9h-.9zM276.2 317.2h.9v.9h-.9zM271.0 329.1h.9v.9h-.9zM264.5 328.7h.9v.9h-.9zM268.2 331.6h.9v.9h-.9zM269.2 319.2h.9v.9h-.9zM260.8 329.0h.9v.9h-.9zM273.2 317.3h.9v.9h-.9zM266.8 329.4h.9v.9h-.9zM264.8 329.0h.9v.9h-.9zM269.7 328.8h.9v.9h-.9zM263.5 318.3h.9v.9h-.9zM264.5 326.5h.9v.9h-.9zM263.6 330.1h.9v.9h-.9zM266.9 332.3h.9v.9h-.9zM281.6 316.5h.9v.9h-.9zM280.2 316.5h.9v.9h-.9zM287.2 321.2h.9v.9h-.9zM278.4 331.7h.9v.9h-.9zM282.3 329.5h.9v.9h-.9zM283.1 329.6h.9v.9h-.9zM284.9 318.3h.9v.9h-.9zM282.9 318.1h.9v.9h-.9zM284.5 319.1h.9v.9h-.9zM287.0 325.6h.9v.9h-.9zM287.3 324.0h.9v.9h-.9zM287.3 326.5h.9v.9h-.9zM290.5 315.0h.9v.9h-.9zM275.6 330.6h.9v.9h-.9zM283.2 318.6h.9v.9h-.9zM278.1 317.2h.9v.9h-.9zM283.9 330.5h.9v.9h-.9zM289.5 324.6h.9v.9h-.9zM285.5 329.2h.9v.9h-.9zM281.9 330.7h.9v.9h-.9zM284.1 316.7h.9v.9h-.9zM279.9 318.8h.9v.9h-.9zM288.3 321.0h.9v.9h-.9zM280.3 314.9h.9v.9h-.9zM289.7 322.8h.9v.9h-.9zM283.9 329.8h.9v.9h-.9zM282.3 330.0h.9v.9h-.9zM282.4 328.2h.9v.9h-.9zM274.6 329.8h.9v.9h-.9zM285.7 318.0h.9v.9h-.9zM283.0 329.3h.9v.9h-.9zM281.1 329.2h.9v.9h-.9zM285.8 327.3h.9v.9h-.9zM284.9 326.7h.9v.9h-.9zM288.5 330.6h.9v.9h-.9zM281.8 317.2h.9v.9h-.9zM278.4 329.0h.9v.9h-.9zM289.3 321.5h.9v.9h-.9zM285.1 329.4h.9v.9h-.9zM288.5 323.4h.9v.9h-.9zM277.9 329.5h.9v.9h-.9zM286.5 320.0h.9v.9h-.9zM292.1 322.4h.9v.9h-.9zM288.1 322.4h.9v.9h-.9zM286.9 318.7h.9v.9h-.9zM280.6 329.4h.9v.9h-.9zM281.8 314.7h.9v.9h-.9zM272.2 329.3h.9v.9h-.9zM287.3 325.7h.9v.9h-.9zM283.1 316.8h.9v.9h-.9zM290.0 326.1h.9v.9h-.9zM288.6 321.9h.9v.9h-.9zM285.1 327.2h.9v.9h-.9zM283.1 315.4h.9v.9h-.9zM289.4 326.8h.9v.9h-.9zM282.0 316.0h.9v.9h-.9zM284.3 317.2h.9v.9h-.9zM284.1 328.2h.9v.9h-.9zM284.1 331.5h.9v.9h-.9zM280.8 332.1h.9v.9h-.9zM287.5 325.7h.9v.9h-.9zM286.0 330.3h.9v.9h-.9zM283.2 317.9h.9v.9h-.9zM280.7 313.4h.9v.9h-.9zM267.7 316.0h.9v.9h-.9zM263.3 319.3h.9v.9h-.9zM268.3 318.4h.9v.9h-.9zM298.8 318.7h.9v.9h-.9zM273.9 313.0h.9v.9h-.9zM270.7 317.4h.9v.9h-.9zM276.4 316.5h.9v.9h-.9zM258.6 321.2h.9v.9h-.9zM268.1 319.7h.9v.9h-.9zM284.1 330.1h.9v.9h-.9zM286.8 331.8h.9v.9h-.9zM255.6 321.7h.9v.9h-.9zM286.3 326.3h.9v.9h-.9zM270.1 316.8h.9v.9h-.9zM263.1 324.7h.9v.9h-.9zM263.4 313.7h.9v.9h-.9zM287.3 324.8h.9v.9h-.9zM285.1 316.4h.9v.9h-.9zM277.5 331.1h.9v.9h-.9zM261.1 322.3h.9v.9h-.9zM261.7 321.5h.9v.9h-.9zM261.3 329.9h.9v.9h-.9zM265.8 320.0h.9v.9h-.9zM263.7 322.8h.9v.9h-.9zM257.8 320.0h.9v.9h-.9zM287.8 318.9h.9v.9h-.9zM266.6 315.7h.9v.9h-.9zM274.3 329.9h.9v.9h-.9zM276.6 314.4h.9v.9h-.9zM284.2 315.9h.9v.9h-.9zM259.2 321.3h.9v.9h-.9zM258.6 312.6h.9v.9h-.9zM249.5 322.9h.9v.9h-.9zM287.7 328.4h.9v.9h-.9zM288.1 325.4h.9v.9h-.9zM281.7 330.4h.9v.9h-.9zM267.2 318.6h.9v.9h-.9zM264.7 328.8h.9v.9h-.9zM278.8 330.0h.9v.9h-.9zM271.0 316.3h.9v.9h-.9zM287.7 322.2h.9v.9h-.9zM285.8 314.1h.9v.9h-.9zM269.0 316.9h.9v.9h-.9zM300.1 319.2h.9v.9h-.9zM272.4 330.4h.9v.9h-.9zM262.1 325.9h.9v.9h-.9zM263.0 325.1h.9v.9h-.9zM286.0 317.7h.9v.9h-.9zM259.4 323.3h.9v.9h-.9zM272.7 317.4h.9v.9h-.9zM292.8 322.2h.9v.9h-.9zM257.7 315.6h.9v.9h-.9zM263.8 328.3h.9v.9h-.9zM261.9 318.1h.9v.9h-.9zM273.4 329.5h.9v.9h-.9zM259.5 327.8h.9v.9h-.9zM282.0 330.3h.9v.9h-.9zM260.5 330.8h.9v.9h-.9zM290.6 324.2h.9v.9h-.9zM259.8 319.9h.9v.9h-.9zM263.5 329.1h.9v.9h-.9zM295.5 322.3h.9v.9h-.9zM262.8 327.6h.9v.9h-.9zM274.7 317.0h.9v.9h-.9zM284.3 328.1h.9v.9h-.9zM250.6 321.8h.9v.9h-.9zM286.8 318.6h.9v.9h-.9zM270.0 319.8h.9v.9h-.9zM287.2 326.8h.9v.9h-.9zM262.1 327.8h.9v.9h-.9zM262.6 324.7h.9v.9h-.9zM275.0 318.0h.9v.9h-.9zM282.7 330.8h.9v.9h-.9zM288.0 329.5h.9v.9h-.9zM270.3 332.3h.9v.9h-.9zM289.1 326.0h.9v.9h-.9zM276.6 311.5h.9v.9h-.9zM276.6 315.9h.9v.9h-.9zM270.3 319.1h.9v.9h-.9zM268.4 331.1h.9v.9h-.9zM268.6 317.5h.9v.9h-.9zM272.1 332.4h.9v.9h-.9zM272.7 314.0h.9v.9h-.9zM290.1 321.9h.9v.9h-.9zM274.4 315.2h.9v.9h-.9zM271.8 315.9h.9v.9h-.9zM272.7 331.6h.9v.9h-.9zM259.8 318.1h.9v.9h-.9zM264.9 322.0h.9v.9h-.9zM250.8 327.9h.9v.9h-.9zM286.2 329.6h.9v.9h-.9zM275.8 331.2h.9v.9h-.9zM274.2 319.8h.9v.9h-.9zM260.6 325.1h.9v.9h-.9zM267.4 320.5h.9v.9h-.9zM289.4 324.2h.9v.9h-.9zM277.8 330.4h.9v.9h-.9zM267.5 328.8h.9v.9h-.9zM267.7 329.2h.9v.9h-.9zM261.6 320.3h.9v.9h-.9zM259.4 327.9h.9v.9h-.9zM275.0 316.0h.9v.9h-.9zM260.1 325.1h.9v.9h-.9zM280.2 312.2h.9v.9h-.9zM268.4 332.0h.9v.9h-.9zM281.5 315.4h.9v.9h-.9zM277.8 312.9h.9v.9h-.9zM266.1 320.1h.9v.9h-.9zM268.7 329.9h.9v.9h-.9zM294.5 328.0h.9v.9h-.9zM269.7 316.8h.9v.9h-.9zM281.1 315.6h.9v.9h-.9zM280.9 315.8h.9v.9h-.9zM276.3 318.1h.9v.9h-.9zM286.2 325.8h.9v.9h-.9zM260.9 324.4h.9v.9h-.9zM272.9 317.0h.9v.9h-.9zM276.1 331.6h.9v.9h-.9zM266.6 319.1h.9v.9h-.9zM292.9 329.2h.9v.9h-.9zM287.2 308.2h.9v.9h-.9zM268.3 317.0h.9v.9h-.9zM289.1 330.2h.9v.9h-.9zM260.4 320.1h.9v.9h-.9zM278.3 315.7h.9v.9h-.9zM279.9 304.8h.9v.9h-.9zM262.9 311.5h.9v.9h-.9zM293.7 324.1h.9v.9h-.9zM269.0 317.6h.9v.9h-.9zM288.7 329.4h.9v.9h-.9zM268.1 329.9h.9v.9h-.9zM288.2 326.1h.9v.9h-.9zM281.4 312.9h.9v.9h-.9zM297.5 326.7h.9v.9h-.9zM284.3 330.9h.9v.9h-.9zM265.4 331.0h.9v.9h-.9zM295.3 319.3h.9v.9h-.9zM253.9 320.5h.9v.9h-.9zM262.1 326.8h.9v.9h-.9zM286.4 325.6h.9v.9h-.9zM268.5 330.1h.9v.9h-.9zM265.4 317.6h.9v.9h-.9zM299.5 312.2h.9v.9h-.9zM263.4 328.0h.9v.9h-.9zM308.3 320.9h.9v.9h-.9zM267.0 313.4h.9v.9h-.9zM289.0 307.1h.9v.9h-.9zM287.5 320.5h.9v.9h-.9zM254.0 317.5h.9v.9h-.9zM252.1 325.8h.9v.9h-.9zM299.7 321.7h.9v.9h-.9zM285.2 318.4h.9v.9h-.9zM263.3 320.8h.9v.9h-.9zM256.5 310.9h.9v.9h-.9zM293.8 327.9h.9v.9h-.9zM292.1 317.1h.9v.9h-.9zM288.4 329.2h.9v.9h-.9zM299.3 319.5h.9v.9h-.9zM296.3 315.4h.9v.9h-.9zM268.1 316.5h.9v.9h-.9zM289.4 309.8h.9v.9h-.9zM288.4 330.0h.9v.9h-.9zM259.6 315.9h.9v.9h-.9zM258.0 325.3h.9v.9h-.9zM284.3 316.7h.9v.9h-.9zM283.2 315.0h.9v.9h-.9zM276.7 317.7h.9v.9h-.9zM272.0 331.5h.9v.9h-.9zM286.8 332.1h.9v.9h-.9zM296.8 328.8h.9v.9h-.9zM280.6 329.8h.9v.9h-.9zM263.5 315.5h.9v.9h-.9zM283.9 328.9h.9v.9h-.9zM253.6 305.8h.9v.9h-.9zM255.4 326.8h.9v.9h-.9zM262.0 312.5h.9v.9h-.9zM289.6 321.4h.9v.9h-.9zM269.7 308.6h.9v.9h-.9zM256.4 324.4h.9v.9h-.9zM283.1 316.4h.9v.9h-.9zM273.2 318.5h.9v.9h-.9zM299.3 319.0h.9v.9h-.9zM289.3 316.8h.9v.9h-.9zM269.2 332.0h.9v.9h-.9zM289.5 325.3h.9v.9h-.9zM265.7 309.4h.9v.9h-.9zM267.5 319.5h.9v.9h-.9zM283.1 311.6h.9v.9h-.9zM296.2 307.6h.9v.9h-.9zM287.2 316.5h.9v.9h-.9zM272.6 330.8h.9v.9h-.9zM253.6 320.8h.9v.9h-.9zM272.8 316.9h.9v.9h-.9zM284.8 328.7h.9v.9h-.9zM261.4 322.6h.9v.9h-.9zM263.3 324.2h.9v.9h-.9zM273.9 316.2h.9v.9h-.9zM296.3 327.8h.9v.9h-.9zM281.2 309.7h.9v.9h-.9zM283.7 332.0h.9v.9h-.9zM298.3 313.1h.9v.9h-.9zM271.4 319.0h.9v.9h-.9zM289.8 325.1h.9v.9h-.9zM293.8 326.3h.9v.9h-.9zM268.2 310.9h.9v.9h-.9zM260.7 308.5h.9v.9h-.9zM278.9 308.5h.9v.9h-.9zM293.7 322.6h.9v.9h-.9zM249.0 321.4h.9v.9h-.9zM251.4 322.0h.9v.9h-.9zM294.2 324.2h.9v.9h-.9zM258.1 321.4h.9v.9h-.9zM281.4 316.6h.9v.9h-.9zM262.3 313.4h.9v.9h-.9zM286.8 311.0h.9v.9h-.9zM286.8 330.4h.9v.9h-.9zM287.3 314.4h.9v.9h-.9zM290.6 319.1h.9v.9h-.9zM267.8 330.1h.9v.9h-.9zM274.6 311.9h.9v.9h-.9zM274.7 318.2h.9v.9h-.9zM270.2 318.3h.9v.9h-.9zM277.6 316.8h.9v.9h-.9zM284.9 328.2h.9v.9h-.9zM296.5 319.6h.9v.9h-.9zM282.9 313.6h.9v.9h-.9zM290.5 328.2h.9v.9h-.9zM286.4 329.1h.9v.9h-.9zM257.8 319.1h.9v.9h-.9zM273.8 330.3h.9v.9h-.9zM306.4 317.8h.9v.9h-.9zM255.3 325.9h.9v.9h-.9zM292.1 327.2h.9v.9h-.9zM289.1 323.4h.9v.9h-.9zM292.5 319.5h.9v.9h-.9zM262.4 325.3h.9v.9h-.9zM274.1 318.6h.9v.9h-.9zM298.2 324.9h.9v.9h-.9zM280.4 315.0h.9v.9h-.9zM269.6 329.3h.9v.9h-.9zM280.7 317.5h.9v.9h-.9zM260.7 325.6h.9v.9h-.9zM259.8 322.2h.9v.9h-.9zM265.1 309.2h.9v.9h-.9zM302.2 321.3h.9v.9h-.9zM259.0 324.8h.9v.9h-.9zM298.3 330.1h.9v.9h-.9zM267.8 319.1h.9v.9h-.9zM282.8 317.7h.9v.9h-.9zM274.6 329.9h.9v.9h-.9zM289.0 323.4h.9v.9h-.9zM287.5 325.7h.9v.9h-.9zM302.6 315.8h.9v.9h-.9zM294.6 329.0h.9v.9h-.9zM292.1 316.1h.9v.9h-.9zM266.2 319.7h.9v.9h-.9zM268.4 318.1h.9v.9h-.9zM293.4 310.8h.9v.9h-.9zM299.4 327.7h.9v.9h-.9zM294.6 320.2h.9v.9h-.9zM290.3 316.2h.9v.9h-.9zM295.3 327.1h.9v.9h-.9zM256.4 314.6h.9v.9h-.9zM300.4 316.7h.9v.9h-.9zM283.0 330.5h.9v.9h-.9zM260.9 320.0h.9v.9h-.9zM279.2 315.4h.9v.9h-.9zM294.7 327.9h.9v.9h-.9zM306.6 326.9h.9v.9h-.9zM264.4 314.5h.9v.9h-.9zM266.2 332.4h.9v.9h-.9zM269.9 316.1h.9v.9h-.9zM290.9 319.1h.9v.9h-.9zM262.2 318.8h.9v.9h-.9zM259.3 322.1h.9v.9h-.9zM255.7 319.6h.9v.9h-.9zM291.1 312.1h.9v.9h-.9zM293.7 325.9h.9v.9h-.9zM259.4 319.4h.9v.9h-.9zM258.2 330.1h.9v.9h-.9zM290.9 326.5h.9v.9h-.9zM290.0 323.8h.9v.9h-.9zM280.1 330.7h.9v.9h-.9zM281.8 316.5h.9v.9h-.9zM300.7 305.8h.9v.9h-.9zM259.3 330.5h.9v.9h-.9zM291.0 323.4h.9v.9h-.9zM262.6 320.2h.9v.9h-.9zM291.4 329.5h.9v.9h-.9zM303.0 318.5h.9v.9h-.9zM262.4 321.3h.9v.9h-.9zM262.8 311.0h.9v.9h-.9zM275.7 330.4h.9v.9h-.9zM263.4 332.3h.9v.9h-.9zM290.6 318.5h.9v.9h-.9zM288.5 319.7h.9v.9h-.9zM270.0 314.9h.9v.9h-.9zM298.7 326.0h.9v.9h-.9zM299.6 326.4h.9v.9h-.9zM290.7 315.0h.9v.9h-.9zM267.1 317.9h.9v.9h-.9zM272.4 313.8h.9v.9h-.9zM300.3 312.6h.9v.9h-.9zM289.9 314.3h.9v.9h-.9zM276.0 312.8h.9v.9h-.9zM269.9 318.5h.9v.9h-.9zM266.3 320.8h.9v.9h-.9zM287.0 319.4h.9v.9h-.9zM288.5 322.8h.9v.9h-.9zM292.8 315.7h.9v.9h-.9zM285.4 329.1h.9v.9h-.9zM286.3 312.9h.9v.9h-.9zM284.7 314.2h.9v.9h-.9zM267.0 331.9h.9v.9h-.9zM286.8 317.6h.9v.9h-.9zM283.2 315.6h.9v.9h-.9zM294.3 325.1h.9v.9h-.9zM282.6 314.2h.9v.9h-.9zM277.6 330.3h.9v.9h-.9zM289.1 319.0h.9v.9h-.9zM255.0 326.0h.9v.9h-.9zM263.5 321.4h.9v.9h-.9zM295.2 323.5h.9v.9h-.9zM251.1 330.0h.9v.9h-.9zM262.3 313.5h.9v.9h-.9zM281.6 319.6h.9v.9h-.9zM292.7 314.9h.9v.9h-.9zM281.5 316.6h.9v.9h-.9zM281.7 317.7h.9v.9h-.9zM283.9 329.4h.9v.9h-.9zM297.6 331.0h.9v.9h-.9zM285.2 315.3h.9v.9h-.9zM262.9 323.1h.9v.9h-.9zM272.1 315.6h.9v.9h-.9zM268.1 330.4h.9v.9h-.9zM286.2 310.5h.9v.9h-.9zM273.1 310.4h.9v.9h-.9zM264.7 322.0h.9v.9h-.9zM278.3 330.4h.9v.9h-.9zM303.3 320.5h.9v.9h-.9zM295.7 324.2h.9v.9h-.9zM283.8 329.2h.9v.9h-.9zM251.9 322.2h.9v.9h-.9zM282.4 315.8h.9v.9h-.9zM267.6 329.3h.9v.9h-.9zM261.5 325.1h.9v.9h-.9zM299.4 314.8h.9v.9h-.9zM258.8 322.6h.9v.9h-.9zM270.3 312.0h.9v.9h-.9zM291.8 310.2h.9v.9h-.9zM257.2 319.9h.9v.9h-.9zM271.6 331.5h.9v.9h-.9zM270.9 319.0h.9v.9h-.9zM295.4 314.8h.9v.9h-.9zM255.6 323.4h.9v.9h-.9zM262.8 326.2h.9v.9h-.9zM270.2 311.0h.9v.9h-.9zM261.9 323.3h.9v.9h-.9zM279.7 317.6h.9v.9h-.9zM287.3 325.0h.9v.9h-.9zM290.1 320.3h.9v.9h-.9zM273.2 315.5h.9v.9h-.9zM290.7 313.8h.9v.9h-.9zM280.5 331.0h.9v.9h-.9zM287.3 316.3h.9v.9h-.9zM261.3 329.7h.9v.9h-.9zM288.4 319.8h.9v.9h-.9zM303.3 326.0h.9v.9h-.9zM260.2 326.8h.9v.9h-.9zM277.1 330.4h.9v.9h-.9zM272.2 318.3h.9v.9h-.9zM280.6 330.6h.9v.9h-.9zM279.0 313.5h.9v.9h-.9zM289.8 325.5h.9v.9h-.9zM267.0 319.6h.9v.9h-.9zM292.8 310.9h.9v.9h-.9zM292.5 316.5h.9v.9h-.9zM260.0 331.3h.9v.9h-.9zM288.8 322.5h.9v.9h-.9zM286.2 312.8h.9v.9h-.9zM262.9 323.7h.9v.9h-.9zM288.4 327.0h.9v.9h-.9zM262.5 320.8h.9v.9h-.9zM284.8 315.3h.9v.9h-.9zM277.6 316.9h.9v.9h-.9zM296.5 318.2h.9v.9h-.9zM287.9 318.6h.9v.9h-.9zM261.0 322.3h.9v.9h-.9zM281.6 315.0h.9v.9h-.9zM293.9 319.6h.9v.9h-.9zM256.9 321.1h.9v.9h-.9zM281.6 330.2h.9v.9h-.9zM268.6 314.4h.9v.9h-.9zM298.6 320.0h.9v.9h-.9zM262.3 327.2h.9v.9h-.9zM251.1 322.4h.9v.9h-.9zM260.3 325.9h.9v.9h-.9zM265.9 321.5h.9v.9h-.9zM287.2 321.7h.9v.9h-.9zM289.2 317.3h.9v.9h-.9zM280.6 316.9h.9v.9h-.9zM291.9 327.4h.9v.9h-.9zM294.0 322.1h.9v.9h-.9zM304.8 323.1h.9v.9h-.9z" fill="#a9adbf" opacity="0.85"/>
<path d="M268.3 326.0h.9v.9h-.9zM272.5 321.2h.9v.9h-.9zM270.6 321.1h.9v.9h-.9zM266.5 322.9h.9v.9h-.9zM267.2 320.8h.9v.9h-.9zM271.1 319.4h.9v.9h-.9zM270.7 328.2h.9v.9h-.9zM266.0 326.3h.9v.9h-.9zM270.0 321.1h.9v.9h-.9zM265.7 326.3h.9v.9h-.9zM265.1 327.1h.9v.9h-.9zM263.9 325.2h.9v.9h-.9zM275.9 320.0h.9v.9h-.9zM267.5 322.8h.9v.9h-.9zM270.8 327.8h.9v.9h-.9zM268.4 323.1h.9v.9h-.9zM264.8 324.6h.9v.9h-.9zM264.2 325.6h.9v.9h-.9zM268.0 327.6h.9v.9h-.9zM272.3 328.7h.9v.9h-.9zM268.8 320.4h.9v.9h-.9zM265.0 325.8h.9v.9h-.9zM267.7 326.8h.9v.9h-.9zM265.7 326.1h.9v.9h-.9zM273.5 319.8h.9v.9h-.9zM265.5 324.7h.9v.9h-.9zM273.3 320.4h.9v.9h-.9zM266.0 324.0h.9v.9h-.9zM263.7 324.2h.9v.9h-.9zM264.1 326.7h.9v.9h-.9zM277.7 319.0h.9v.9h-.9zM274.5 320.1h.9v.9h-.9zM267.3 321.9h.9v.9h-.9zM269.4 325.8h.9v.9h-.9zM274.2 319.8h.9v.9h-.9zM270.6 326.9h.9v.9h-.9zM267.0 326.4h.9v.9h-.9zM266.2 325.9h.9v.9h-.9zM270.7 327.1h.9v.9h-.9zM272.0 328.5h.9v.9h-.9zM266.7 325.5h.9v.9h-.9zM267.5 322.6h.9v.9h-.9zM265.4 326.0h.9v.9h-.9zM267.1 327.0h.9v.9h-.9zM265.6 324.9h.9v.9h-.9zM275.6 321.7h.9v.9h-.9zM264.5 324.7h.9v.9h-.9zM270.4 327.0h.9v.9h-.9zM273.3 318.9h.9v.9h-.9zM266.1 323.8h.9v.9h-.9zM268.3 322.2h.9v.9h-.9zM267.0 323.1h.9v.9h-.9zM273.8 329.3h.9v.9h-.9zM270.8 326.9h.9v.9h-.9zM266.9 321.5h.9v.9h-.9zM269.1 321.1h.9v.9h-.9zM267.4 321.4h.9v.9h-.9zM264.9 328.3h.9v.9h-.9zM268.3 322.1h.9v.9h-.9zM265.2 325.3h.9v.9h-.9zM268.4 320.5h.9v.9h-.9zM266.7 324.4h.9v.9h-.9zM266.2 322.1h.9v.9h-.9zM270.2 326.6h.9v.9h-.9zM267.3 323.2h.9v.9h-.9zM268.3 326.9h.9v.9h-.9zM266.3 325.3h.9v.9h-.9zM265.6 324.5h.9v.9h-.9zM265.3 327.8h.9v.9h-.9zM264.2 325.9h.9v.9h-.9zM273.6 320.8h.9v.9h-.9zM269.8 326.6h.9v.9h-.9zM272.6 320.2h.9v.9h-.9zM268.9 327.7h.9v.9h-.9zM263.7 327.4h.9v.9h-.9zM285.7 323.6h.9v.9h-.9zM284.0 325.4h.9v.9h-.9zM284.8 319.8h.9v.9h-.9zM287.0 321.3h.9v.9h-.9zM282.8 325.4h.9v.9h-.9zM284.2 320.2h.9v.9h-.9zM283.3 326.8h.9v.9h-.9zM286.1 324.5h.9v.9h-.9zM281.4 318.9h.9v.9h-.9zM286.0 324.7h.9v.9h-.9zM286.4 323.0h.9v.9h-.9zM283.9 324.6h.9v.9h-.9zM285.1 324.4h.9v.9h-.9zM282.0 327.4h.9v.9h-.9zM280.4 326.4h.9v.9h-.9zM274.1 328.9h.9v.9h-.9zM284.6 321.9h.9v.9h-.9zM280.7 326.2h.9v.9h-.9zM282.8 325.8h.9v.9h-.9zM280.5 327.9h.9v.9h-.9zM276.9 319.0h.9v.9h-.9zM282.4 319.2h.9v.9h-.9zM284.2 319.4h.9v.9h-.9zM283.1 320.5h.9v.9h-.9zM283.4 325.1h.9v.9h-.9zM285.4 324.0h.9v.9h-.9zM286.1 320.8h.9v.9h-.9zM281.6 326.5h.9v.9h-.9zM279.2 328.5h.9v.9h-.9zM278.0 318.4h.9v.9h-.9zM284.4 322.1h.9v.9h-.9zM281.2 319.3h.9v.9h-.9zM278.7 326.6h.9v.9h-.9zM281.6 325.9h.9v.9h-.9zM285.4 326.2h.9v.9h-.9zM276.8 327.6h.9v.9h-.9zM284.9 321.1h.9v.9h-.9zM286.0 323.2h.9v.9h-.9zM280.1 319.0h.9v.9h-.9zM277.7 327.6h.9v.9h-.9zM284.2 324.9h.9v.9h-.9zM278.0 318.9h.9v.9h-.9zM285.8 320.9h.9v.9h-.9zM284.8 324.3h.9v.9h-.9zM278.6 317.9h.9v.9h-.9zM271.1 328.6h.9v.9h-.9zM286.6 320.8h.9v.9h-.9zM274.8 329.1h.9v.9h-.9zM285.9 320.7h.9v.9h-.9zM283.6 326.5h.9v.9h-.9zM284.7 320.9h.9v.9h-.9zM284.8 324.9h.9v.9h-.9zM274.5 320.1h.9v.9h-.9zM277.5 328.2h.9v.9h-.9zM275.4 320.1h.9v.9h-.9zM286.5 322.9h.9v.9h-.9zM283.9 326.7h.9v.9h-.9zM282.1 327.4h.9v.9h-.9zM273.9 327.8h.9v.9h-.9zM279.9 327.9h.9v.9h-.9zM275.7 329.1h.9v.9h-.9zM277.5 326.5h.9v.9h-.9zM277.8 327.0h.9v.9h-.9zM285.5 320.6h.9v.9h-.9zM278.4 327.4h.9v.9h-.9zM282.7 327.0h.9v.9h-.9zM275.9 327.8h.9v.9h-.9zM285.5 323.7h.9v.9h-.9zM284.6 323.8h.9v.9h-.9zM275.6 328.3h.9v.9h-.9zM280.0 318.9h.9v.9h-.9zM284.6 325.1h.9v.9h-.9zM282.2 319.8h.9v.9h-.9zM279.7 327.7h.9v.9h-.9zM278.8 328.4h.9v.9h-.9zM282.9 319.0h.9v.9h-.9zM285.9 323.0h.9v.9h-.9zM277.5 320.3h.9v.9h-.9zM282.3 325.8h.9v.9h-.9zM277.9 326.4h.9v.9h-.9zM280.7 328.2h.9v.9h-.9zM272.6 329.1h.9v.9h-.9zM276.0 327.8h.9v.9h-.9zM283.6 320.8h.9v.9h-.9zM281.8 318.5h.9v.9h-.9zM286.4 321.2h.9v.9h-.9zM273.8 327.7h.9v.9h-.9zM269.2 322.1h.9v.9h-.9zM285.0 324.3h.9v.9h-.9zM277.2 320.1h.9v.9h-.9zM275.5 328.1h.9v.9h-.9zM265.6 323.0h.9v.9h-.9zM285.4 321.5h.9v.9h-.9zM275.4 326.4h.9v.9h-.9zM271.4 319.4h.9v.9h-.9zM279.2 318.9h.9v.9h-.9zM276.5 327.5h.9v.9h-.9zM280.5 328.4h.9v.9h-.9zM267.3 325.6h.9v.9h-.9zM265.8 326.1h.9v.9h-.9zM272.3 319.0h.9v.9h-.9zM272.1 319.9h.9v.9h-.9zM278.4 317.8h.9v.9h-.9zM266.9 326.6h.9v.9h-.9zM272.1 327.9h.9v.9h-.9zM274.1 320.4h.9v.9h-.9zM272.0 328.9h.9v.9h-.9zM282.1 328.1h.9v.9h-.9zM275.4 318.6h.9v.9h-.9zM286.6 321.9h.9v.9h-.9zM266.9 323.6h.9v.9h-.9zM265.4 327.2h.9v.9h-.9zM269.7 327.8h.9v.9h-.9zM274.7 321.8h.9v.9h-.9zM264.7 328.2h.9v.9h-.9zM276.3 320.8h.9v.9h-.9zM269.7 326.5h.9v.9h-.9zM265.5 328.3h.9v.9h-.9zM268.3 322.2h.9v.9h-.9zM265.9 324.2h.9v.9h-.9zM278.6 319.4h.9v.9h-.9zM277.3 329.0h.9v.9h-.9zM285.2 325.1h.9v.9h-.9zM275.0 328.7h.9v.9h-.9zM284.5 326.9h.9v.9h-.9zM276.9 320.4h.9v.9h-.9zM276.3 326.8h.9v.9h-.9zM275.4 328.9h.9v.9h-.9zM278.2 319.8h.9v.9h-.9zM281.2 318.0h.9v.9h-.9zM282.2 326.8h.9v.9h-.9zM287.0 321.9h.9v.9h-.9zM279.3 318.1h.9v.9h-.9zM276.3 327.4h.9v.9h-.9zM272.9 320.2h.9v.9h-.9zM272.4 327.2h.9v.9h-.9zM275.3 327.8h.9v.9h-.9zM272.2 327.5h.9v.9h-.9zM278.5 328.5h.9v.9h-.9zM281.7 320.2h.9v.9h-.9zM284.8 320.8h.9v.9h-.9zM269.2 326.7h.9v.9h-.9zM282.7 326.5h.9v.9h-.9zM277.0 327.8h.9v.9h-.9zM266.1 323.5h.9v.9h-.9zM278.0 327.8h.9v.9h-.9zM281.4 319.6h.9v.9h-.9zM266.1 321.7h.9v.9h-.9zM279.4 327.1h.9v.9h-.9zM273.4 320.5h.9v.9h-.9zM284.6 319.7h.9v.9h-.9zM274.6 328.5h.9v.9h-.9zM268.2 321.8h.9v.9h-.9zM272.5 320.2h.9v.9h-.9zM276.2 319.6h.9v.9h-.9zM278.3 318.6h.9v.9h-.9zM264.6 328.1h.9v.9h-.9zM279.2 319.1h.9v.9h-.9zM279.2 327.0h.9v.9h-.9zM284.5 320.6h.9v.9h-.9zM271.8 327.5h.9v.9h-.9zM266.7 322.6h.9v.9h-.9zM286.9 321.3h.9v.9h-.9zM278.3 319.0h.9v.9h-.9zM276.5 319.9h.9v.9h-.9zM279.2 319.3h.9v.9h-.9zM275.6 326.8h.9v.9h-.9zM269.8 327.1h.9v.9h-.9zM264.7 325.9h.9v.9h-.9zM279.1 326.8h.9v.9h-.9zM277.4 318.7h.9v.9h-.9zM265.5 327.4h.9v.9h-.9zM280.5 327.5h.9v.9h-.9zM279.5 328.5h.9v.9h-.9zM284.2 325.6h.9v.9h-.9zM277.9 328.2h.9v.9h-.9zM263.2 326.8h.9v.9h-.9zM281.7 320.1h.9v.9h-.9zM284.9 322.3h.9v.9h-.9zM275.4 328.0h.9v.9h-.9zM280.1 319.8h.9v.9h-.9zM278.3 328.0h.9v.9h-.9zM285.0 323.7h.9v.9h-.9zM282.9 320.9h.9v.9h-.9zM274.4 328.8h.9v.9h-.9zM271.9 321.4h.9v.9h-.9zM280.4 319.0h.9v.9h-.9zM266.1 326.2h.9v.9h-.9zM273.2 318.9h.9v.9h-.9zM274.2 319.5h.9v.9h-.9zM278.7 328.2h.9v.9h-.9zM276.7 327.6h.9v.9h-.9zM284.2 324.2h.9v.9h-.9zM266.6 326.7h.9v.9h-.9zM283.9 320.7h.9v.9h-.9zM275.3 319.2h.9v.9h-.9zM281.9 318.9h.9v.9h-.9zM275.3 318.8h.9v.9h-.9zM273.9 321.2h.9v.9h-.9zM267.7 321.2h.9v.9h-.9zM278.5 318.8h.9v.9h-.9zM286.0 320.6h.9v.9h-.9zM264.5 324.0h.9v.9h-.9zM272.2 320.1h.9v.9h-.9zM282.4 320.1h.9v.9h-.9zM263.9 327.3h.9v.9h-.9zM267.6 326.4h.9v.9h-.9zM285.1 321.6h.9v.9h-.9zM268.6 326.5h.9v.9h-.9zM283.4 326.1h.9v.9h-.9zM286.6 322.9h.9v.9h-.9zM274.9 328.0h.9v.9h-.9zM277.2 319.8h.9v.9h-.9zM265.1 322.2h.9v.9h-.9zM265.8 328.0h.9v.9h-.9zM271.5 328.0h.9v.9h-.9zM269.2 326.1h.9v.9h-.9zM264.8 325.0h.9v.9h-.9zM285.9 321.1h.9v.9h-.9zM274.0 327.3h.9v.9h-.9zM273.3 320.6h.9v.9h-.9zM283.5 321.3h.9v.9h-.9zM278.5 318.5h.9v.9h-.9zM263.1 325.3h.9v.9h-.9zM285.2 321.7h.9v.9h-.9zM280.4 326.7h.9v.9h-.9zM275.0 326.8h.9v.9h-.9zM268.5 325.7h.9v.9h-.9zM265.5 323.7h.9v.9h-.9zM278.0 318.6h.9v.9h-.9zM284.9 324.8h.9v.9h-.9z" fill="#7f89aa" opacity="0.85"/>
<path d="M267.6 325.1h.9v.9h-.9zM267.0 326.2h.9v.9h-.9zM273.7 327.3h.9v.9h-.9zM268.9 325.2h.9v.9h-.9zM265.4 326.7h.9v.9h-.9zM274.1 320.9h.9v.9h-.9zM271.1 326.4h.9v.9h-.9zM269.3 325.9h.9v.9h-.9zM266.2 324.1h.9v.9h-.9zM271.4 321.6h.9v.9h-.9zM266.9 325.3h.9v.9h-.9zM265.5 325.9h.9v.9h-.9zM275.4 323.0h.9v.9h-.9zM267.1 323.5h.9v.9h-.9zM275.0 322.1h.9v.9h-.9zM268.2 324.7h.9v.9h-.9zM268.4 322.6h.9v.9h-.9zM266.4 323.8h.9v.9h-.9zM268.6 323.5h.9v.9h-.9zM270.3 322.2h.9v.9h-.9zM272.0 321.4h.9v.9h-.9zM278.9 320.5h.9v.9h-.9zM267.1 324.3h.9v.9h-.9zM269.1 326.0h.9v.9h-.9zM268.5 323.8h.9v.9h-.9zM269.4 324.0h.9v.9h-.9zM268.2 324.5h.9v.9h-.9zM275.7 320.5h.9v.9h-.9zM270.2 322.6h.9v.9h-.9zM271.4 321.7h.9v.9h-.9zM266.1 324.8h.9v.9h-.9zM267.3 325.1h.9v.9h-.9zM276.0 320.2h.9v.9h-.9zM268.5 323.5h.9v.9h-.9zM270.6 322.4h.9v.9h-.9zM272.5 327.5h.9v.9h-.9zM266.6 324.6h.9v.9h-.9zM268.0 323.6h.9v.9h-.9zM267.9 325.3h.9v.9h-.9zM267.8 323.1h.9v.9h-.9zM269.0 325.0h.9v.9h-.9zM272.9 321.4h.9v.9h-.9zM271.4 323.0h.9v.9h-.9zM275.2 325.3h.9v.9h-.9zM270.5 327.0h.9v.9h-.9zM277.9 324.7h.9v.9h-.9zM278.5 325.8h.9v.9h-.9zM283.3 322.2h.9v.9h-.9zM283.6 321.9h.9v.9h-.9zM272.7 327.1h.9v.9h-.9zM276.4 325.9h.9v.9h-.9zM279.5 326.2h.9v.9h-.9zM277.9 324.6h.9v.9h-.9zM280.3 320.7h.9v.9h-.9zM277.3 320.4h.9v.9h-.9zM282.8 323.4h.9v.9h-.9zM272.2 321.1h.9v.9h-.9zM278.6 327.0h.9v.9h-.9zM280.7 326.5h.9v.9h-.9zM276.6 323.9h.9v.9h-.9zM276.8 326.2h.9v.9h-.9zM276.5 324.8h.9v.9h-.9zM277.5 320.5h.9v.9h-.9zM276.7 321.0h.9v.9h-.9zM284.9 323.4h.9v.9h-.9zM278.7 326.2h.9v.9h-.9zM275.4 324.1h.9v.9h-.9zM278.6 324.9h.9v.9h-.9zM278.2 325.3h.9v.9h-.9zM282.8 322.4h.9v.9h-.9zM276.0 325.7h.9v.9h-.9zM284.3 323.5h.9v.9h-.9zM278.4 320.4h.9v.9h-.9zM282.6 323.5h.9v.9h-.9zM278.9 320.8h.9v.9h-.9zM282.1 325.7h.9v.9h-.9zM279.9 326.5h.9v.9h-.9zM277.7 324.5h.9v.9h-.9zM281.7 325.8h.9v.9h-.9zM281.4 321.1h.9v.9h-.9zM281.6 325.2h.9v.9h-.9zM275.3 325.7h.9v.9h-.9zM281.3 320.4h.9v.9h-.9zM278.0 320.9h.9v.9h-.9zM277.4 320.7h.9v.9h-.9zM274.2 321.0h.9v.9h-.9zM276.6 324.1h.9v.9h-.9zM284.0 324.1h.9v.9h-.9zM277.7 323.6h.9v.9h-.9zM279.9 320.2h.9v.9h-.9zM280.1 320.2h.9v.9h-.9zM283.9 323.0h.9v.9h-.9zM277.0 322.1h.9v.9h-.9zM284.1 321.8h.9v.9h-.9zM281.9 321.7h.9v.9h-.9zM275.2 323.0h.9v.9h-.9zM278.3 327.0h.9v.9h-.9zM279.6 325.5h.9v.9h-.9zM275.7 327.1h.9v.9h-.9zM273.3 326.8h.9v.9h-.9zM284.2 323.9h.9v.9h-.9zM281.9 325.6h.9v.9h-.9zM285.5 323.8h.9v.9h-.9zM281.9 320.2h.9v.9h-.9zM280.5 320.5h.9v.9h-.9zM283.2 322.7h.9v.9h-.9zM284.3 323.6h.9v.9h-.9zM278.0 326.6h.9v.9h-.9zM281.1 325.6h.9v.9h-.9zM280.2 323.1h.9v.9h-.9zM281.9 324.9h.9v.9h-.9zM274.2 326.9h.9v.9h-.9zM267.1 325.2h.9v.9h-.9zM277.4 322.9h.9v.9h-.9zM273.8 320.7h.9v.9h-.9zM280.2 325.4h.9v.9h-.9zM284.2 324.3h.9v.9h-.9zM274.7 324.2h.9v.9h-.9zM280.4 320.8h.9v.9h-.9zM278.1 320.9h.9v.9h-.9zM277.7 322.6h.9v.9h-.9zM272.8 327.5h.9v.9h-.9zM277.6 325.8h.9v.9h-.9zM282.2 325.7h.9v.9h-.9zM274.7 326.6h.9v.9h-.9zM283.1 320.9h.9v.9h-.9zM277.2 320.5h.9v.9h-.9zM269.1 322.9h.9v.9h-.9zM276.0 326.7h.9v.9h-.9zM278.0 325.5h.9v.9h-.9zM284.5 321.6h.9v.9h-.9zM273.4 326.6h.9v.9h-.9zM272.8 321.0h.9v.9h-.9zM278.8 325.0h.9v.9h-.9zM282.5 321.4h.9v.9h-.9zM267.3 323.9h.9v.9h-.9zM274.4 327.0h.9v.9h-.9zM274.4 320.8h.9v.9h-.9zM276.2 324.9h.9v.9h-.9zM278.1 327.4h.9v.9h-.9zM276.6 326.8h.9v.9h-.9zM275.8 321.9h.9v.9h-.9zM278.9 321.0h.9v.9h-.9zM279.8 321.2h.9v.9h-.9zM283.0 321.6h.9v.9h-.9zM276.0 323.3h.9v.9h-.9zM278.4 323.3h.9v.9h-.9zM277.0 323.7h.9v.9h-.9zM268.3 323.8h.9v.9h-.9zM279.3 321.2h.9v.9h-.9zM277.6 322.9h.9v.9h-.9zM273.6 321.0h.9v.9h-.9zM284.1 322.5h.9v.9h-.9zM276.3 325.7h.9v.9h-.9zM275.6 323.6h.9v.9h-.9zM277.0 325.8h.9v.9h-.9zM268.9 322.4h.9v.9h-.9zM278.0 321.1h.9v.9h-.9zM280.4 326.4h.9v.9h-.9zM279.1 323.4h.9v.9h-.9zM283.2 323.6h.9v.9h-.9zM274.3 327.3h.9v.9h-.9zM266.8 322.8h.9v.9h-.9zM279.4 320.0h.9v.9h-.9zM278.0 321.2h.9v.9h-.9zM277.6 323.7h.9v.9h-.9zM279.4 326.0h.9v.9h-.9zM277.8 320.4h.9v.9h-.9zM278.0 327.0h.9v.9h-.9zM274.7 326.7h.9v.9h-.9zM273.7 327.1h.9v.9h-.9zM279.2 320.7h.9v.9h-.9zM284.3 322.5h.9v.9h-.9zM280.4 325.3h.9v.9h-.9zM269.4 321.7h.9v.9h-.9zM276.5 326.1h.9v.9h-.9zM275.5 322.4h.9v.9h-.9zM278.4 320.3h.9v.9h-.9zM280.9 326.0h.9v.9h-.9zM278.2 322.6h.9v.9h-.9zM271.8 321.3h.9v.9h-.9zM278.4 319.9h.9v.9h-.9zM276.5 321.8h.9v.9h-.9zM278.7 323.1h.9v.9h-.9zM271.4 321.2h.9v.9h-.9z" fill="#5a6c9e" opacity="0.9"/>
<path d="M272.1 325.8h.9v.9h-.9zM270.8 325.6h.9v.9h-.9zM272.5 321.5h.9v.9h-.9zM273.7 322.3h.9v.9h-.9zM270.2 326.3h.9v.9h-.9zM269.4 324.3h.9v.9h-.9zM267.7 324.0h.9v.9h-.9zM272.5 322.0h.9v.9h-.9zM272.6 322.1h.9v.9h-.9zM278.3 323.4h.9v.9h-.9zM269.3 324.3h.9v.9h-.9zM268.9 324.8h.9v.9h-.9zM269.7 323.8h.9v.9h-.9zM274.7 322.8h.9v.9h-.9zM269.6 323.7h.9v.9h-.9zM274.5 322.9h.9v.9h-.9zM272.5 326.3h.9v.9h-.9zM272.0 322.6h.9v.9h-.9zM273.9 326.1h.9v.9h-.9zM269.7 323.1h.9v.9h-.9zM272.8 325.3h.9v.9h-.9zM273.4 322.3h.9v.9h-.9zM268.0 324.8h.9v.9h-.9zM270.4 324.9h.9v.9h-.9zM270.3 324.6h.9v.9h-.9zM273.3 321.6h.9v.9h-.9zM272.9 322.9h.9v.9h-.9zM275.0 326.1h.9v.9h-.9zM271.1 322.1h.9v.9h-.9zM273.2 326.3h.9v.9h-.9zM272.8 322.0h.9v.9h-.9zM272.1 323.4h.9v.9h-.9zM272.2 325.6h.9v.9h-.9zM274.8 325.2h.9v.9h-.9zM283.1 322.3h.9v.9h-.9zM274.0 323.6h.9v.9h-.9zM278.7 322.0h.9v.9h-.9zM282.7 324.3h.9v.9h-.9zM279.3 324.5h.9v.9h-.9zM277.7 321.7h.9v.9h-.9zM283.2 324.2h.9v.9h-.9zM275.6 324.9h.9v.9h-.9zM281.2 322.3h.9v.9h-.9zM281.8 324.3h.9v.9h-.9zM274.7 322.5h.9v.9h-.9zM279.5 323.9h.9v.9h-.9zM274.8 325.3h.9v.9h-.9zM278.2 322.7h.9v.9h-.9zM276.0 324.1h.9v.9h-.9zM281.8 324.4h.9v.9h-.9zM278.6 324.3h.9v.9h-.9zM270.8 322.7h.9v.9h-.9zM282.5 322.7h.9v.9h-.9zM281.8 322.4h.9v.9h-.9zM278.9 322.6h.9v.9h-.9zM280.4 321.6h.9v.9h-.9zM279.8 323.9h.9v.9h-.9zM271.7 325.4h.9v.9h-.9zM280.9 322.5h.9v.9h-.9zM283.8 322.1h.9v.9h-.9zM280.2 325.2h.9v.9h-.9zM272.9 321.9h.9v.9h-.9zM283.1 322.1h.9v.9h-.9zM279.0 323.2h.9v.9h-.9zM280.7 321.4h.9v.9h-.9zM278.3 324.2h.9v.9h-.9zM283.7 323.8h.9v.9h-.9zM280.5 325.2h.9v.9h-.9zM279.4 321.0h.9v.9h-.9zM278.8 322.7h.9v.9h-.9zM282.0 321.5h.9v.9h-.9zM281.8 321.5h.9v.9h-.9zM281.8 323.6h.9v.9h-.9zM280.8 322.8h.9v.9h-.9zM278.6 320.7h.9v.9h-.9zM275.6 324.1h.9v.9h-.9zM271.2 322.9h.9v.9h-.9zM279.6 322.8h.9v.9h-.9zM269.9 324.6h.9v.9h-.9zM271.3 324.3h.9v.9h-.9zM277.1 321.7h.9v.9h-.9zM277.9 323.1h.9v.9h-.9zM270.0 322.4h.9v.9h-.9zM275.9 323.3h.9v.9h-.9zM278.4 322.5h.9v.9h-.9zM280.9 323.1h.9v.9h-.9zM281.3 324.8h.9v.9h-.9zM279.4 323.0h.9v.9h-.9zM274.7 324.1h.9v.9h-.9zM280.7 320.4h.9v.9h-.9zM270.4 324.3h.9v.9h-.9zM277.2 322.5h.9v.9h-.9zM272.4 324.9h.9v.9h-.9zM280.5 321.1h.9v.9h-.9zM283.3 321.8h.9v.9h-.9zM276.0 324.9h.9v.9h-.9zM276.3 322.4h.9v.9h-.9zM283.3 323.6h.9v.9h-.9zM272.6 321.8h.9v.9h-.9zM281.6 325.4h.9v.9h-.9zM271.4 326.5h.9v.9h-.9zM283.2 324.2h.9v.9h-.9zM272.8 322.3h.9v.9h-.9zM278.1 324.0h.9v.9h-.9zM274.4 323.4h.9v.9h-.9zM268.8 325.0h.9v.9h-.9zM274.6 322.4h.9v.9h-.9zM273.2 325.4h.9v.9h-.9zM277.8 323.0h.9v.9h-.9zM278.3 322.6h.9v.9h-.9zM273.8 325.6h.9v.9h-.9zM280.0 324.2h.9v.9h-.9zM280.3 321.5h.9v.9h-.9zM275.4 322.5h.9v.9h-.9zM275.7 325.5h.9v.9h-.9zM274.2 325.2h.9v.9h-.9zM274.7 326.2h.9v.9h-.9zM269.4 323.0h.9v.9h-.9zM274.9 324.0h.9v.9h-.9zM279.2 325.3h.9v.9h-.9zM280.3 322.5h.9v.9h-.9z" fill="#4f8690" opacity="0.9"/>
<path d="M273.8 325.2h.9v.9h-.9zM273.2 324.9h.9v.9h-.9zM271.9 322.2h.9v.9h-.9zM271.3 325.1h.9v.9h-.9zM270.6 324.7h.9v.9h-.9zM270.6 324.3h.9v.9h-.9zM274.1 323.2h.9v.9h-.9zM272.2 322.5h.9v.9h-.9zM271.6 325.3h.9v.9h-.9zM270.6 326.0h.9v.9h-.9zM273.2 326.1h.9v.9h-.9zM273.5 321.9h.9v.9h-.9zM280.8 323.0h.9v.9h-.9zM278.3 323.1h.9v.9h-.9zM279.8 321.9h.9v.9h-.9zM275.2 324.1h.9v.9h-.9zM280.8 323.9h.9v.9h-.9zM279.4 321.7h.9v.9h-.9zM282.0 323.9h.9v.9h-.9zM280.5 323.1h.9v.9h-.9zM274.5 324.1h.9v.9h-.9zM282.1 323.9h.9v.9h-.9zM280.1 323.4h.9v.9h-.9zM282.9 322.3h.9v.9h-.9zM282.7 322.8h.9v.9h-.9zM281.6 323.8h.9v.9h-.9zM281.8 323.1h.9v.9h-.9zM279.8 324.0h.9v.9h-.9zM280.2 324.0h.9v.9h-.9zM271.3 325.6h.9v.9h-.9zM272.6 324.5h.9v.9h-.9zM280.9 323.8h.9v.9h-.9zM278.2 321.8h.9v.9h-.9zM273.1 326.2h.9v.9h-.9zM273.0 325.1h.9v.9h-.9zM273.1 326.0h.9v.9h-.9zM272.1 323.9h.9v.9h-.9zM282.2 324.1h.9v.9h-.9zM269.6 323.9h.9v.9h-.9zM281.8 324.0h.9v.9h-.9zM275.0 323.2h.9v.9h-.9zM274.2 324.0h.9v.9h-.9zM280.6 324.3h.9v.9h-.9zM280.7 322.3h.9v.9h-.9zM269.5 323.5h.9v.9h-.9zM280.2 325.3h.9v.9h-.9zM272.7 322.6h.9v.9h-.9zM273.2 324.3h.9v.9h-.9zM270.3 323.3h.9v.9h-.9zM271.4 321.7h.9v.9h-.9z" fill="#96b85c" opacity="0.95"/>
<path d="M267.7 324.3h.9v.9h-.9zM272.5 325.3h.9v.9h-.9zM272.3 322.9h.9v.9h-.9zM273.5 323.3h.9v.9h-.9zM272.1 324.6h.9v.9h-.9zM271.9 324.8h.9v.9h-.9zM271.2 325.3h.9v.9h-.9zM282.2 322.7h.9v.9h-.9zM280.1 323.3h.9v.9h-.9zM282.4 323.2h.9v.9h-.9zM280.5 321.8h.9v.9h-.9zM273.4 322.0h.9v.9h-.9zM272.6 323.3h.9v.9h-.9zM269.4 324.5h.9v.9h-.9zM271.6 325.4h.9v.9h-.9zM273.2 324.2h.9v.9h-.9zM282.7 323.3h.9v.9h-.9zM280.4 323.7h.9v.9h-.9zM271.2 324.8h.9v.9h-.9z" fill="#d4c448" opacity="1"/>
<path d="M272.0 323.9h.9v.9h-.9zM271.0 324.1h.9v.9h-.9zM271.1 323.7h.9v.9h-.9zM272.7 323.6h.9v.9h-.9zM271.5 324.1h.9v.9h-.9zM269.8 324.3h.9v.9h-.9zM270.6 323.8h.9v.9h-.9zM272.5 322.6h.9v.9h-.9zM271.7 324.5h.9v.9h-.9zM272.5 324.9h.9v.9h-.9zM272.8 325.1h.9v.9h-.9zM272.3 325.5h.9v.9h-.9zM271.9 323.6h.9v.9h-.9zM272.5 324.2h.9v.9h-.9zM271.9 325.8h.9v.9h-.9zM271.8 323.2h.9v.9h-.9zM272.2 324.8h.9v.9h-.9zM272.1 323.2h.9v.9h-.9zM271.1 324.7h.9v.9h-.9zM280.9 324.8h.9v.9h-.9zM280.0 323.8h.9v.9h-.9zM281.6 322.9h.9v.9h-.9zM280.2 323.4h.9v.9h-.9zM281.9 323.6h.9v.9h-.9zM282.1 324.2h.9v.9h-.9zM280.7 323.0h.9v.9h-.9zM273.3 324.7h.9v.9h-.9zM281.3 323.9h.9v.9h-.9zM273.4 322.6h.9v.9h-.9zM271.9 324.7h.9v.9h-.9zM273.2 324.6h.9v.9h-.9zM270.8 324.6h.9v.9h-.9zM270.7 324.3h.9v.9h-.9zM272.5 325.4h.9v.9h-.9zM273.3 325.3h.9v.9h-.9zM272.1 324.2h.9v.9h-.9zM273.3 326.1h.9v.9h-.9zM281.5 324.5h.9v.9h-.9zM271.3 324.9h.9v.9h-.9zM281.0 323.1h.9v.9h-.9zM273.3 322.9h.9v.9h-.9z" fill="#e0a03c" opacity="1"/>
<polyline points="270.7,331.6 303.7,331.6 303.7,306.5" fill="none" stroke="#9a9a9a" stroke-width="0.9"/>
<polyline points="270.7,331.6 285.3,306.5 303.7,306.5 303.7,320" fill="none" stroke="#444" stroke-width="0.8"/>
<text x="294.00" y="303.40" font-size="7.9" text-anchor="middle">60.3%</text>
<rect x="247.70" y="265.6" width="66.2" height="67.80" fill="none" stroke="#231f20" stroke-width="1"/>
<line x1="244.40" y1="333.40" x2="247.70" y2="333.40" stroke="#231f20" stroke-width="0.8"/>
<text x="241.70" y="336.50" font-size="8.0" text-anchor="end">0</text>
<line x1="246.00" y1="330.76" x2="247.70" y2="330.76" stroke="#231f20" stroke-width="0.6"/>
<line x1="246.00" y1="328.12" x2="247.70" y2="328.12" stroke="#231f20" stroke-width="0.6"/>
<line x1="246.00" y1="325.48" x2="247.70" y2="325.48" stroke="#231f20" stroke-width="0.6"/>
<line x1="246.00" y1="322.84" x2="247.70" y2="322.84" stroke="#231f20" stroke-width="0.6"/>
<line x1="244.40" y1="320.20" x2="247.70" y2="320.20" stroke="#231f20" stroke-width="0.8"/>
<text x="241.70" y="323.30" font-size="8.0" text-anchor="end">50K</text>
<line x1="246.00" y1="317.56" x2="247.70" y2="317.56" stroke="#231f20" stroke-width="0.6"/>
<line x1="246.00" y1="314.92" x2="247.70" y2="314.92" stroke="#231f20" stroke-width="0.6"/>
<line x1="246.00" y1="312.28" x2="247.70" y2="312.28" stroke="#231f20" stroke-width="0.6"/>
<line x1="246.00" y1="309.64" x2="247.70" y2="309.64" stroke="#231f20" stroke-width="0.6"/>
<line x1="244.40" y1="307.00" x2="247.70" y2="307.00" stroke="#231f20" stroke-width="0.8"/>
<text x="241.70" y="310.10" font-size="8.0" text-anchor="end">100K</text>
<line x1="246.00" y1="304.36" x2="247.70" y2="304.36" stroke="#231f20" stroke-width="0.6"/>
<line x1="246.00" y1="301.72" x2="247.70" y2="301.72" stroke="#231f20" stroke-width="0.6"/>
<line x1="246.00" y1="299.08" x2="247.70" y2="299.08" stroke="#231f20" stroke-width="0.6"/>
<line x1="246.00" y1="296.44" x2="247.70" y2="296.44" stroke="#231f20" stroke-width="0.6"/>
<line x1="244.40" y1="293.80" x2="247.70" y2="293.80" stroke="#231f20" stroke-width="0.8"/>
<text x="241.70" y="296.90" font-size="8.0" text-anchor="end">150K</text>
<line x1="246.00" y1="291.16" x2="247.70" y2="291.16" stroke="#231f20" stroke-width="0.6"/>
<line x1="246.00" y1="288.52" x2="247.70" y2="288.52" stroke="#231f20" stroke-width="0.6"/>
<line x1="246.00" y1="285.88" x2="247.70" y2="285.88" stroke="#231f20" stroke-width="0.6"/>
<line x1="246.00" y1="283.24" x2="247.70" y2="283.24" stroke="#231f20" stroke-width="0.6"/>
<line x1="244.40" y1="280.60" x2="247.70" y2="280.60" stroke="#231f20" stroke-width="0.8"/>
<text x="241.70" y="283.70" font-size="8.0" text-anchor="end">200K</text>
<line x1="246.00" y1="277.96" x2="247.70" y2="277.96" stroke="#231f20" stroke-width="0.6"/>
<line x1="246.00" y1="275.32" x2="247.70" y2="275.32" stroke="#231f20" stroke-width="0.6"/>
<line x1="246.00" y1="272.68" x2="247.70" y2="272.68" stroke="#231f20" stroke-width="0.6"/>
<line x1="246.00" y1="270.04" x2="247.70" y2="270.04" stroke="#231f20" stroke-width="0.6"/>
<line x1="244.40" y1="267.40" x2="247.70" y2="267.40" stroke="#231f20" stroke-width="0.8"/>
<text x="241.70" y="270.50" font-size="8.0" text-anchor="end">250K</text>
<line x1="255.40" y1="333.40" x2="255.40" y2="335.90" stroke="#231f20" stroke-width="0.8"/>
<line x1="259.40" y1="333.40" x2="259.40" y2="335.10" stroke="#231f20" stroke-width="0.6"/>
<line x1="261.75" y1="333.40" x2="261.75" y2="335.10" stroke="#231f20" stroke-width="0.6"/>
<line x1="263.41" y1="333.40" x2="263.41" y2="335.10" stroke="#231f20" stroke-width="0.6"/>
<line x1="264.70" y1="333.40" x2="264.70" y2="335.10" stroke="#231f20" stroke-width="0.6"/>
<line x1="265.75" y1="333.40" x2="265.75" y2="335.10" stroke="#231f20" stroke-width="0.6"/>
<line x1="266.64" y1="333.40" x2="266.64" y2="335.10" stroke="#231f20" stroke-width="0.6"/>
<line x1="267.41" y1="333.40" x2="267.41" y2="335.10" stroke="#231f20" stroke-width="0.6"/>
<line x1="268.09" y1="333.40" x2="268.09" y2="335.10" stroke="#231f20" stroke-width="0.6"/>
<text x="253.80" y="345.6" font-size="7.9" text-anchor="middle">10<tspan font-size="5.6" dy="-2.9" style="stroke-width:0.08px">1</tspan></text>
<line x1="268.70" y1="333.40" x2="268.70" y2="335.90" stroke="#231f20" stroke-width="0.8"/>
<line x1="272.70" y1="333.40" x2="272.70" y2="335.10" stroke="#231f20" stroke-width="0.6"/>
<line x1="275.05" y1="333.40" x2="275.05" y2="335.10" stroke="#231f20" stroke-width="0.6"/>
<line x1="276.71" y1="333.40" x2="276.71" y2="335.10" stroke="#231f20" stroke-width="0.6"/>
<line x1="278.00" y1="333.40" x2="278.00" y2="335.10" stroke="#231f20" stroke-width="0.6"/>
<line x1="279.05" y1="333.40" x2="279.05" y2="335.10" stroke="#231f20" stroke-width="0.6"/>
<line x1="279.94" y1="333.40" x2="279.94" y2="335.10" stroke="#231f20" stroke-width="0.6"/>
<line x1="280.71" y1="333.40" x2="280.71" y2="335.10" stroke="#231f20" stroke-width="0.6"/>
<line x1="281.39" y1="333.40" x2="281.39" y2="335.10" stroke="#231f20" stroke-width="0.6"/>
<text x="267.10" y="345.6" font-size="7.9" text-anchor="middle">10<tspan font-size="5.6" dy="-2.9" style="stroke-width:0.08px">2</tspan></text>
<line x1="282.00" y1="333.40" x2="282.00" y2="335.90" stroke="#231f20" stroke-width="0.8"/>
<line x1="286.00" y1="333.40" x2="286.00" y2="335.10" stroke="#231f20" stroke-width="0.6"/>
<line x1="288.35" y1="333.40" x2="288.35" y2="335.10" stroke="#231f20" stroke-width="0.6"/>
<line x1="290.01" y1="333.40" x2="290.01" y2="335.10" stroke="#231f20" stroke-width="0.6"/>
<line x1="291.30" y1="333.40" x2="291.30" y2="335.10" stroke="#231f20" stroke-width="0.6"/>
<line x1="292.35" y1="333.40" x2="292.35" y2="335.10" stroke="#231f20" stroke-width="0.6"/>
<line x1="293.24" y1="333.40" x2="293.24" y2="335.10" stroke="#231f20" stroke-width="0.6"/>
<line x1="294.01" y1="333.40" x2="294.01" y2="335.10" stroke="#231f20" stroke-width="0.6"/>
<line x1="294.69" y1="333.40" x2="294.69" y2="335.10" stroke="#231f20" stroke-width="0.6"/>
<text x="280.40" y="345.6" font-size="7.9" text-anchor="middle">10<tspan font-size="5.6" dy="-2.9" style="stroke-width:0.08px">3</tspan></text>
<line x1="295.30" y1="333.40" x2="295.30" y2="335.90" stroke="#231f20" stroke-width="0.8"/>
<line x1="299.30" y1="333.40" x2="299.30" y2="335.10" stroke="#231f20" stroke-width="0.6"/>
<line x1="301.65" y1="333.40" x2="301.65" y2="335.10" stroke="#231f20" stroke-width="0.6"/>
<line x1="303.31" y1="333.40" x2="303.31" y2="335.10" stroke="#231f20" stroke-width="0.6"/>
<line x1="304.60" y1="333.40" x2="304.60" y2="335.10" stroke="#231f20" stroke-width="0.6"/>
<line x1="305.65" y1="333.40" x2="305.65" y2="335.10" stroke="#231f20" stroke-width="0.6"/>
<line x1="306.54" y1="333.40" x2="306.54" y2="335.10" stroke="#231f20" stroke-width="0.6"/>
<line x1="307.31" y1="333.40" x2="307.31" y2="335.10" stroke="#231f20" stroke-width="0.6"/>
<line x1="307.99" y1="333.40" x2="307.99" y2="335.10" stroke="#231f20" stroke-width="0.6"/>
<text x="293.70" y="345.6" font-size="7.9" text-anchor="middle">10<tspan font-size="5.6" dy="-2.9" style="stroke-width:0.08px">4</tspan></text>
<line x1="308.60" y1="333.40" x2="308.60" y2="335.90" stroke="#231f20" stroke-width="0.8"/>
<line x1="312.60" y1="333.40" x2="312.60" y2="335.10" stroke="#231f20" stroke-width="0.6"/>
<text x="307.00" y="345.6" font-size="7.9" text-anchor="middle">10<tspan font-size="5.6" dy="-2.9" style="stroke-width:0.08px">5</tspan></text>
<text x="380.80" y="261.90" font-size="7.8" text-anchor="middle"><tspan font-style="italic">HBB</tspan> +68 guide</text>
<path d="M363.0 324.0h.9v.9h-.9zM360.7 326.0h.9v.9h-.9zM361.7 326.5h.9v.9h-.9zM361.8 321.8h.9v.9h-.9zM363.7 323.8h.9v.9h-.9zM365.6 319.6h.9v.9h-.9zM369.9 329.5h.9v.9h-.9zM368.0 318.6h.9v.9h-.9zM370.7 332.4h.9v.9h-.9zM367.7 330.8h.9v.9h-.9zM361.9 328.2h.9v.9h-.9zM378.8 315.6h.9v.9h-.9zM369.0 331.9h.9v.9h-.9zM363.4 323.3h.9v.9h-.9zM364.2 329.9h.9v.9h-.9zM363.6 319.2h.9v.9h-.9zM364.6 318.9h.9v.9h-.9zM374.1 317.5h.9v.9h-.9zM362.2 328.4h.9v.9h-.9zM362.8 327.5h.9v.9h-.9zM369.1 330.9h.9v.9h-.9zM363.3 327.0h.9v.9h-.9zM361.8 331.1h.9v.9h-.9zM368.2 319.3h.9v.9h-.9zM365.8 329.1h.9v.9h-.9zM368.6 318.0h.9v.9h-.9zM365.7 319.4h.9v.9h-.9zM362.8 324.2h.9v.9h-.9zM365.7 321.2h.9v.9h-.9zM363.8 324.0h.9v.9h-.9zM371.9 319.4h.9v.9h-.9zM371.5 316.0h.9v.9h-.9zM372.7 318.4h.9v.9h-.9zM366.8 319.3h.9v.9h-.9zM371.8 317.6h.9v.9h-.9zM362.9 327.7h.9v.9h-.9zM361.8 329.0h.9v.9h-.9zM373.9 315.8h.9v.9h-.9zM371.3 331.0h.9v.9h-.9zM362.5 326.3h.9v.9h-.9zM365.5 330.8h.9v.9h-.9zM363.9 328.4h.9v.9h-.9zM368.6 331.3h.9v.9h-.9zM366.9 318.3h.9v.9h-.9zM371.6 330.8h.9v.9h-.9zM362.9 325.7h.9v.9h-.9zM367.5 318.5h.9v.9h-.9zM364.9 318.3h.9v.9h-.9zM367.3 331.2h.9v.9h-.9zM366.4 332.4h.9v.9h-.9zM360.0 324.1h.9v.9h-.9zM363.7 322.4h.9v.9h-.9zM362.4 324.0h.9v.9h-.9zM366.4 330.1h.9v.9h-.9zM366.1 331.2h.9v.9h-.9zM362.4 328.6h.9v.9h-.9zM364.5 321.6h.9v.9h-.9zM369.2 331.8h.9v.9h-.9zM366.6 329.9h.9v.9h-.9zM364.5 322.6h.9v.9h-.9zM373.4 318.6h.9v.9h-.9zM367.9 318.2h.9v.9h-.9zM372.2 315.6h.9v.9h-.9zM373.4 328.2h.9v.9h-.9zM367.3 329.8h.9v.9h-.9zM365.7 330.4h.9v.9h-.9zM363.4 324.7h.9v.9h-.9zM361.5 325.6h.9v.9h-.9zM360.1 324.0h.9v.9h-.9zM365.1 329.3h.9v.9h-.9zM367.5 330.7h.9v.9h-.9zM375.6 317.5h.9v.9h-.9zM364.1 328.5h.9v.9h-.9zM359.9 328.8h.9v.9h-.9zM369.2 330.4h.9v.9h-.9zM362.6 319.7h.9v.9h-.9zM358.1 321.3h.9v.9h-.9zM361.5 327.5h.9v.9h-.9zM372.6 317.8h.9v.9h-.9zM366.2 330.4h.9v.9h-.9zM358.7 329.3h.9v.9h-.9zM364.2 323.1h.9v.9h-.9zM365.1 328.6h.9v.9h-.9zM372.8 318.4h.9v.9h-.9zM367.1 329.6h.9v.9h-.9zM367.0 320.1h.9v.9h-.9zM363.8 319.3h.9v.9h-.9zM367.7 331.7h.9v.9h-.9zM362.7 324.4h.9v.9h-.9zM369.4 320.3h.9v.9h-.9zM359.6 325.2h.9v.9h-.9zM367.5 330.0h.9v.9h-.9zM377.4 315.8h.9v.9h-.9zM364.7 331.6h.9v.9h-.9zM376.1 332.5h.9v.9h-.9zM375.4 329.1h.9v.9h-.9zM382.0 328.2h.9v.9h-.9zM391.6 321.2h.9v.9h-.9zM386.8 320.4h.9v.9h-.9zM382.2 318.7h.9v.9h-.9zM384.9 327.1h.9v.9h-.9zM382.4 326.9h.9v.9h-.9zM378.0 330.2h.9v.9h-.9zM383.8 316.7h.9v.9h-.9zM373.9 329.3h.9v.9h-.9zM369.3 330.7h.9v.9h-.9zM377.3 329.4h.9v.9h-.9zM385.4 319.2h.9v.9h-.9zM388.4 322.6h.9v.9h-.9zM368.3 330.2h.9v.9h-.9zM386.6 326.2h.9v.9h-.9zM391.5 321.5h.9v.9h-.9zM385.5 318.7h.9v.9h-.9zM376.3 316.9h.9v.9h-.9zM381.3 330.7h.9v.9h-.9zM389.2 323.8h.9v.9h-.9zM388.7 319.6h.9v.9h-.9zM377.1 329.7h.9v.9h-.9zM387.0 320.5h.9v.9h-.9zM381.7 328.2h.9v.9h-.9zM378.9 330.6h.9v.9h-.9zM385.9 327.5h.9v.9h-.9zM381.7 328.6h.9v.9h-.9zM374.8 326.9h.9v.9h-.9zM382.0 329.7h.9v.9h-.9zM378.5 329.5h.9v.9h-.9zM376.0 329.0h.9v.9h-.9zM378.5 318.5h.9v.9h-.9zM390.2 324.7h.9v.9h-.9zM388.9 324.1h.9v.9h-.9zM390.0 324.2h.9v.9h-.9zM386.4 326.4h.9v.9h-.9zM386.8 324.1h.9v.9h-.9zM386.8 330.5h.9v.9h-.9zM381.1 328.5h.9v.9h-.9zM385.3 315.8h.9v.9h-.9zM372.7 329.8h.9v.9h-.9zM381.0 330.5h.9v.9h-.9zM385.1 327.8h.9v.9h-.9zM382.9 328.4h.9v.9h-.9zM389.4 324.6h.9v.9h-.9zM379.5 330.1h.9v.9h-.9zM383.6 319.0h.9v.9h-.9zM382.7 318.8h.9v.9h-.9zM386.5 325.3h.9v.9h-.9zM386.8 324.6h.9v.9h-.9zM379.1 318.5h.9v.9h-.9zM389.1 323.7h.9v.9h-.9zM381.9 329.5h.9v.9h-.9zM387.1 329.0h.9v.9h-.9zM389.3 323.1h.9v.9h-.9zM386.7 325.5h.9v.9h-.9zM386.9 325.2h.9v.9h-.9zM380.3 318.3h.9v.9h-.9zM372.5 330.8h.9v.9h-.9zM388.2 320.5h.9v.9h-.9zM390.8 316.4h.9v.9h-.9zM365.6 329.7h.9v.9h-.9zM391.5 321.3h.9v.9h-.9zM365.3 314.5h.9v.9h-.9zM390.3 322.1h.9v.9h-.9zM382.1 314.1h.9v.9h-.9zM388.2 316.9h.9v.9h-.9zM381.0 330.1h.9v.9h-.9zM375.6 330.4h.9v.9h-.9zM390.2 321.6h.9v.9h-.9zM360.8 326.5h.9v.9h-.9zM369.3 317.2h.9v.9h-.9zM362.6 313.0h.9v.9h-.9zM382.3 314.7h.9v.9h-.9zM363.6 327.0h.9v.9h-.9zM381.0 331.1h.9v.9h-.9zM364.9 319.6h.9v.9h-.9zM381.4 312.8h.9v.9h-.9zM383.0 317.5h.9v.9h-.9zM392.9 325.0h.9v.9h-.9zM353.5 323.3h.9v.9h-.9zM380.6 318.2h.9v.9h-.9zM378.9 317.8h.9v.9h-.9zM359.6 328.1h.9v.9h-.9zM385.3 318.9h.9v.9h-.9zM388.0 322.3h.9v.9h-.9zM391.9 314.5h.9v.9h-.9zM380.2 317.3h.9v.9h-.9zM378.0 330.9h.9v.9h-.9zM374.2 314.8h.9v.9h-.9zM387.8 317.4h.9v.9h-.9zM376.8 316.8h.9v.9h-.9zM374.5 329.2h.9v.9h-.9zM362.8 327.3h.9v.9h-.9zM372.6 329.4h.9v.9h-.9zM366.5 315.2h.9v.9h-.9zM382.8 331.2h.9v.9h-.9zM374.9 317.5h.9v.9h-.9zM362.8 318.7h.9v.9h-.9zM379.7 318.4h.9v.9h-.9zM368.4 313.8h.9v.9h-.9zM371.1 330.2h.9v.9h-.9zM383.6 316.6h.9v.9h-.9zM391.6 318.3h.9v.9h-.9zM390.6 325.5h.9v.9h-.9zM398.1 315.1h.9v.9h-.9zM387.0 319.3h.9v.9h-.9zM362.8 320.5h.9v.9h-.9zM377.0 316.6h.9v.9h-.9zM373.8 329.1h.9v.9h-.9zM393.5 321.8h.9v.9h-.9zM390.6 323.2h.9v.9h-.9zM371.7 332.4h.9v.9h-.9zM363.1 326.1h.9v.9h-.9zM360.1 328.3h.9v.9h-.9zM386.2 327.2h.9v.9h-.9zM375.8 318.2h.9v.9h-.9zM373.2 318.7h.9v.9h-.9zM352.6 319.9h.9v.9h-.9zM375.8 318.0h.9v.9h-.9zM389.8 315.9h.9v.9h-.9zM363.2 329.0h.9v.9h-.9zM349.8 327.5h.9v.9h-.9zM388.9 328.7h.9v.9h-.9zM379.3 318.7h.9v.9h-.9zM361.0 322.5h.9v.9h-.9zM394.6 328.3h.9v.9h-.9zM388.1 321.3h.9v.9h-.9zM363.6 330.3h.9v.9h-.9zM392.9 324.9h.9v.9h-.9zM366.5 329.5h.9v.9h-.9zM388.9 323.4h.9v.9h-.9zM390.1 323.0h.9v.9h-.9zM372.5 316.5h.9v.9h-.9zM365.1 321.6h.9v.9h-.9zM392.7 325.5h.9v.9h-.9zM374.9 330.6h.9v.9h-.9zM363.4 318.1h.9v.9h-.9zM360.6 318.0h.9v.9h-.9zM391.7 326.1h.9v.9h-.9zM361.3 321.9h.9v.9h-.9zM363.7 319.9h.9v.9h-.9zM380.3 316.7h.9v.9h-.9zM384.6 318.5h.9v.9h-.9zM399.6 321.5h.9v.9h-.9zM379.2 313.0h.9v.9h-.9zM355.1 323.9h.9v.9h-.9zM376.3 316.3h.9v.9h-.9zM366.2 311.4h.9v.9h-.9zM372.3 329.9h.9v.9h-.9zM365.1 317.7h.9v.9h-.9zM353.3 323.4h.9v.9h-.9zM356.1 318.2h.9v.9h-.9zM361.1 316.9h.9v.9h-.9zM360.6 324.6h.9v.9h-.9zM359.9 327.6h.9v.9h-.9zM367.2 318.6h.9v.9h-.9zM381.9 328.4h.9v.9h-.9zM363.2 317.5h.9v.9h-.9zM386.6 311.9h.9v.9h-.9zM383.7 317.1h.9v.9h-.9zM383.2 316.7h.9v.9h-.9zM362.8 326.7h.9v.9h-.9zM371.6 330.2h.9v.9h-.9zM369.8 318.7h.9v.9h-.9zM394.2 324.6h.9v.9h-.9zM370.7 314.5h.9v.9h-.9zM376.6 331.3h.9v.9h-.9zM369.1 315.4h.9v.9h-.9zM401.7 325.5h.9v.9h-.9zM388.1 321.0h.9v.9h-.9zM367.1 329.9h.9v.9h-.9zM394.5 322.8h.9v.9h-.9zM388.6 327.9h.9v.9h-.9zM389.7 327.7h.9v.9h-.9zM358.5 327.2h.9v.9h-.9zM387.0 316.9h.9v.9h-.9zM398.5 321.2h.9v.9h-.9zM379.0 329.4h.9v.9h-.9zM359.5 325.1h.9v.9h-.9zM369.2 313.7h.9v.9h-.9zM375.7 311.9h.9v.9h-.9zM376.3 317.2h.9v.9h-.9zM386.2 326.5h.9v.9h-.9zM363.1 322.0h.9v.9h-.9zM385.4 311.5h.9v.9h-.9zM390.5 328.5h.9v.9h-.9zM359.5 316.0h.9v.9h-.9zM377.5 306.9h.9v.9h-.9zM359.8 324.6h.9v.9h-.9zM394.0 320.6h.9v.9h-.9zM363.2 323.6h.9v.9h-.9zM377.0 329.7h.9v.9h-.9zM389.6 325.6h.9v.9h-.9zM386.6 326.9h.9v.9h-.9zM390.9 324.1h.9v.9h-.9zM364.9 328.9h.9v.9h-.9zM392.5 310.9h.9v.9h-.9zM390.5 324.2h.9v.9h-.9zM372.3 328.7h.9v.9h-.9zM381.8 317.5h.9v.9h-.9zM388.4 324.2h.9v.9h-.9zM354.9 315.8h.9v.9h-.9zM370.0 316.7h.9v.9h-.9zM377.3 332.0h.9v.9h-.9zM411.6 316.0h.9v.9h-.9zM385.8 319.9h.9v.9h-.9zM368.9 314.9h.9v.9h-.9zM381.2 313.5h.9v.9h-.9zM400.0 322.3h.9v.9h-.9zM397.3 329.6h.9v.9h-.9zM377.3 313.2h.9v.9h-.9zM362.3 321.2h.9v.9h-.9zM378.3 314.8h.9v.9h-.9zM373.0 331.1h.9v.9h-.9zM386.2 326.7h.9v.9h-.9zM361.8 324.3h.9v.9h-.9zM388.6 318.9h.9v.9h-.9zM363.5 317.5h.9v.9h-.9zM362.3 316.2h.9v.9h-.9zM386.0 318.0h.9v.9h-.9zM369.7 310.4h.9v.9h-.9zM385.7 326.0h.9v.9h-.9zM370.4 329.8h.9v.9h-.9zM373.8 313.9h.9v.9h-.9zM383.5 317.3h.9v.9h-.9zM378.1 329.3h.9v.9h-.9zM366.9 313.6h.9v.9h-.9zM389.1 331.1h.9v.9h-.9zM398.9 319.7h.9v.9h-.9zM376.8 330.6h.9v.9h-.9zM372.7 315.8h.9v.9h-.9zM365.1 321.9h.9v.9h-.9zM382.0 331.8h.9v.9h-.9zM387.5 316.9h.9v.9h-.9zM388.9 301.6h.9v.9h-.9zM391.0 327.7h.9v.9h-.9zM363.9 315.0h.9v.9h-.9zM361.1 322.8h.9v.9h-.9zM377.1 314.0h.9v.9h-.9zM359.4 321.8h.9v.9h-.9zM378.7 315.2h.9v.9h-.9zM370.0 330.3h.9v.9h-.9zM350.7 319.5h.9v.9h-.9zM390.3 318.8h.9v.9h-.9zM374.5 308.0h.9v.9h-.9zM392.5 317.7h.9v.9h-.9zM396.4 318.1h.9v.9h-.9zM388.5 329.7h.9v.9h-.9zM390.0 314.7h.9v.9h-.9zM382.4 314.9h.9v.9h-.9zM365.6 316.9h.9v.9h-.9zM403.3 323.7h.9v.9h-.9zM394.5 318.1h.9v.9h-.9zM398.3 328.0h.9v.9h-.9zM362.1 331.4h.9v.9h-.9zM369.6 316.8h.9v.9h-.9zM393.9 321.1h.9v.9h-.9zM387.7 328.1h.9v.9h-.9zM376.3 316.8h.9v.9h-.9zM405.3 316.8h.9v.9h-.9zM363.2 324.1h.9v.9h-.9zM355.8 324.9h.9v.9h-.9zM378.2 318.8h.9v.9h-.9zM393.1 325.9h.9v.9h-.9zM375.6 313.9h.9v.9h-.9zM359.5 328.3h.9v.9h-.9zM370.2 317.7h.9v.9h-.9zM397.9 327.9h.9v.9h-.9zM378.7 315.9h.9v.9h-.9zM402.2 330.1h.9v.9h-.9zM369.2 318.1h.9v.9h-.9zM365.0 316.7h.9v.9h-.9zM362.3 319.1h.9v.9h-.9zM389.8 321.2h.9v.9h-.9zM396.0 322.5h.9v.9h-.9zM379.2 317.8h.9v.9h-.9zM394.9 323.4h.9v.9h-.9zM369.8 329.2h.9v.9h-.9zM380.3 332.3h.9v.9h-.9zM373.8 314.1h.9v.9h-.9zM360.6 325.2h.9v.9h-.9zM387.2 321.9h.9v.9h-.9zM391.2 324.7h.9v.9h-.9zM363.0 320.8h.9v.9h-.9zM370.9 332.2h.9v.9h-.9zM361.5 329.6h.9v.9h-.9zM392.1 310.1h.9v.9h-.9zM386.8 314.1h.9v.9h-.9zM386.3 328.7h.9v.9h-.9zM375.4 315.4h.9v.9h-.9zM387.1 318.1h.9v.9h-.9zM365.5 321.3h.9v.9h-.9zM350.7 327.1h.9v.9h-.9zM356.1 318.0h.9v.9h-.9zM368.8 318.6h.9v.9h-.9zM393.7 318.2h.9v.9h-.9zM354.5 323.5h.9v.9h-.9zM360.7 318.4h.9v.9h-.9zM365.2 317.8h.9v.9h-.9zM360.7 329.5h.9v.9h-.9zM369.8 312.1h.9v.9h-.9zM361.0 326.8h.9v.9h-.9zM380.7 319.3h.9v.9h-.9zM391.6 329.0h.9v.9h-.9zM389.1 328.0h.9v.9h-.9zM399.7 315.2h.9v.9h-.9zM389.6 325.8h.9v.9h-.9zM397.1 318.4h.9v.9h-.9zM398.2 327.1h.9v.9h-.9zM374.3 318.5h.9v.9h-.9zM352.2 311.1h.9v.9h-.9zM363.0 325.0h.9v.9h-.9zM378.6 318.4h.9v.9h-.9zM382.9 312.7h.9v.9h-.9zM388.1 308.8h.9v.9h-.9zM363.3 320.7h.9v.9h-.9zM368.4 331.4h.9v.9h-.9zM388.0 306.1h.9v.9h-.9zM377.7 317.3h.9v.9h-.9zM392.8 320.3h.9v.9h-.9zM389.2 317.4h.9v.9h-.9zM356.9 318.1h.9v.9h-.9zM376.5 315.1h.9v.9h-.9zM356.6 329.4h.9v.9h-.9zM394.7 315.6h.9v.9h-.9zM399.7 325.1h.9v.9h-.9zM387.3 311.0h.9v.9h-.9zM394.0 329.1h.9v.9h-.9zM359.0 321.2h.9v.9h-.9zM370.1 316.8h.9v.9h-.9zM389.1 314.7h.9v.9h-.9zM388.1 321.2h.9v.9h-.9zM361.9 321.7h.9v.9h-.9zM400.6 326.7h.9v.9h-.9zM408.2 328.2h.9v.9h-.9zM390.4 323.3h.9v.9h-.9zM374.3 310.5h.9v.9h-.9zM360.1 315.9h.9v.9h-.9zM372.1 329.9h.9v.9h-.9zM369.2 330.4h.9v.9h-.9zM367.2 318.0h.9v.9h-.9zM390.9 326.3h.9v.9h-.9zM391.3 328.4h.9v.9h-.9zM371.4 318.4h.9v.9h-.9zM385.6 319.7h.9v.9h-.9zM353.0 321.2h.9v.9h-.9zM384.8 316.7h.9v.9h-.9zM376.8 329.3h.9v.9h-.9zM374.2 329.1h.9v.9h-.9zM384.7 316.9h.9v.9h-.9zM377.4 311.3h.9v.9h-.9zM366.9 318.9h.9v.9h-.9zM387.7 327.4h.9v.9h-.9zM381.0 329.0h.9v.9h-.9zM377.1 329.9h.9v.9h-.9zM379.1 331.8h.9v.9h-.9zM355.0 318.3h.9v.9h-.9zM388.1 319.8h.9v.9h-.9zM372.2 318.0h.9v.9h-.9zM387.1 324.0h.9v.9h-.9zM378.4 318.5h.9v.9h-.9zM382.2 329.6h.9v.9h-.9zM367.1 318.3h.9v.9h-.9zM396.8 316.4h.9v.9h-.9zM377.4 314.7h.9v.9h-.9zM367.8 331.0h.9v.9h-.9zM378.9 314.4h.9v.9h-.9zM390.4 326.5h.9v.9h-.9zM360.4 321.3h.9v.9h-.9zM391.8 319.4h.9v.9h-.9zM399.7 322.2h.9v.9h-.9zM384.4 328.1h.9v.9h-.9zM391.1 322.7h.9v.9h-.9zM391.4 314.7h.9v.9h-.9zM372.7 312.3h.9v.9h-.9zM370.8 316.8h.9v.9h-.9zM387.3 313.5h.9v.9h-.9zM360.6 329.4h.9v.9h-.9zM374.7 313.9h.9v.9h-.9zM352.3 327.1h.9v.9h-.9zM383.5 328.2h.9v.9h-.9zM351.2 324.2h.9v.9h-.9zM364.6 328.4h.9v.9h-.9zM379.8 314.6h.9v.9h-.9zM372.7 315.5h.9v.9h-.9zM356.7 325.5h.9v.9h-.9zM380.4 318.4h.9v.9h-.9zM386.0 310.2h.9v.9h-.9zM390.7 327.5h.9v.9h-.9zM387.7 323.2h.9v.9h-.9zM377.1 317.5h.9v.9h-.9zM399.5 316.1h.9v.9h-.9zM354.1 326.1h.9v.9h-.9zM386.4 325.4h.9v.9h-.9zM365.9 332.1h.9v.9h-.9zM376.7 312.1h.9v.9h-.9zM386.8 320.2h.9v.9h-.9zM391.3 323.4h.9v.9h-.9zM382.7 318.5h.9v.9h-.9zM390.9 320.4h.9v.9h-.9zM375.5 317.8h.9v.9h-.9zM381.4 318.0h.9v.9h-.9zM363.6 315.6h.9v.9h-.9zM385.2 327.1h.9v.9h-.9zM397.4 324.2h.9v.9h-.9zM361.7 319.3h.9v.9h-.9zM386.8 321.1h.9v.9h-.9zM363.1 322.0h.9v.9h-.9zM393.1 320.9h.9v.9h-.9zM401.3 322.6h.9v.9h-.9zM380.4 316.2h.9v.9h-.9zM402.1 325.5h.9v.9h-.9zM382.1 318.5h.9v.9h-.9zM370.3 316.3h.9v.9h-.9zM398.3 322.8h.9v.9h-.9zM395.1 317.4h.9v.9h-.9zM388.6 319.9h.9v.9h-.9zM378.3 331.9h.9v.9h-.9zM370.3 311.6h.9v.9h-.9zM377.7 316.1h.9v.9h-.9zM369.4 310.6h.9v.9h-.9zM375.3 317.6h.9v.9h-.9zM389.5 325.0h.9v.9h-.9zM379.0 313.0h.9v.9h-.9zM398.7 327.3h.9v.9h-.9zM387.3 323.6h.9v.9h-.9zM366.0 306.5h.9v.9h-.9zM376.3 317.3h.9v.9h-.9zM357.7 325.4h.9v.9h-.9zM361.4 323.3h.9v.9h-.9zM394.2 312.2h.9v.9h-.9zM365.1 318.9h.9v.9h-.9z" fill="#a9adbf" opacity="0.85"/>
<path d="M365.1 326.3h.9v.9h-.9zM369.6 320.0h.9v.9h-.9zM367.5 327.5h.9v.9h-.9zM371.0 327.0h.9v.9h-.9zM364.6 327.2h.9v.9h-.9zM370.2 321.4h.9v.9h-.9zM371.5 320.8h.9v.9h-.9zM368.2 319.9h.9v.9h-.9zM368.6 321.2h.9v.9h-.9zM366.5 323.2h.9v.9h-.9zM366.1 326.7h.9v.9h-.9zM366.9 322.8h.9v.9h-.9zM366.7 329.3h.9v.9h-.9zM365.1 322.5h.9v.9h-.9zM369.4 320.1h.9v.9h-.9zM365.0 322.9h.9v.9h-.9zM371.5 318.8h.9v.9h-.9zM371.5 326.6h.9v.9h-.9zM368.5 327.6h.9v.9h-.9zM367.7 322.2h.9v.9h-.9zM371.1 326.5h.9v.9h-.9zM378.1 319.0h.9v.9h-.9zM365.5 323.4h.9v.9h-.9zM365.1 324.9h.9v.9h-.9zM364.1 324.1h.9v.9h-.9zM374.2 326.2h.9v.9h-.9zM366.3 327.4h.9v.9h-.9zM367.3 328.1h.9v.9h-.9zM364.2 326.2h.9v.9h-.9zM373.3 325.3h.9v.9h-.9zM368.7 328.3h.9v.9h-.9zM367.5 328.7h.9v.9h-.9zM365.1 327.7h.9v.9h-.9zM369.6 328.5h.9v.9h-.9zM365.5 325.2h.9v.9h-.9zM367.3 329.0h.9v.9h-.9zM366.8 327.9h.9v.9h-.9zM369.3 319.2h.9v.9h-.9zM373.7 321.3h.9v.9h-.9zM367.7 327.3h.9v.9h-.9zM363.6 326.0h.9v.9h-.9zM366.9 323.2h.9v.9h-.9zM375.0 321.5h.9v.9h-.9zM364.5 327.8h.9v.9h-.9zM367.8 323.3h.9v.9h-.9zM371.0 327.5h.9v.9h-.9zM377.8 321.2h.9v.9h-.9zM367.3 323.6h.9v.9h-.9zM365.6 325.2h.9v.9h-.9zM373.4 327.1h.9v.9h-.9zM372.4 327.6h.9v.9h-.9zM367.0 320.8h.9v.9h-.9zM365.2 326.3h.9v.9h-.9zM364.1 325.9h.9v.9h-.9zM365.8 326.1h.9v.9h-.9zM367.6 321.8h.9v.9h-.9zM365.6 326.0h.9v.9h-.9zM373.0 326.1h.9v.9h-.9zM369.9 319.5h.9v.9h-.9zM364.6 326.3h.9v.9h-.9zM364.6 323.4h.9v.9h-.9zM375.8 320.4h.9v.9h-.9zM376.0 327.5h.9v.9h-.9zM373.2 326.6h.9v.9h-.9zM363.9 326.3h.9v.9h-.9zM373.9 319.6h.9v.9h-.9zM366.2 326.3h.9v.9h-.9zM365.0 326.2h.9v.9h-.9zM367.2 327.1h.9v.9h-.9zM375.3 320.6h.9v.9h-.9zM371.7 327.1h.9v.9h-.9zM365.7 327.8h.9v.9h-.9zM374.0 320.1h.9v.9h-.9zM370.3 321.7h.9v.9h-.9zM370.9 328.4h.9v.9h-.9zM371.8 321.1h.9v.9h-.9zM366.5 326.1h.9v.9h-.9zM380.3 320.0h.9v.9h-.9zM378.1 328.6h.9v.9h-.9zM383.7 326.1h.9v.9h-.9zM384.9 320.4h.9v.9h-.9zM385.5 323.8h.9v.9h-.9zM381.1 319.6h.9v.9h-.9zM371.9 328.3h.9v.9h-.9zM385.7 321.7h.9v.9h-.9zM379.2 320.6h.9v.9h-.9zM384.6 321.9h.9v.9h-.9zM378.7 328.4h.9v.9h-.9zM380.3 328.8h.9v.9h-.9zM380.3 319.8h.9v.9h-.9zM385.1 325.6h.9v.9h-.9zM384.4 325.3h.9v.9h-.9zM373.5 320.4h.9v.9h-.9zM380.1 328.9h.9v.9h-.9zM383.5 326.4h.9v.9h-.9zM383.9 319.8h.9v.9h-.9zM385.5 325.1h.9v.9h-.9zM386.1 322.6h.9v.9h-.9zM382.0 326.6h.9v.9h-.9zM383.7 326.1h.9v.9h-.9zM384.7 322.3h.9v.9h-.9zM377.8 320.7h.9v.9h-.9zM385.2 321.1h.9v.9h-.9zM383.4 326.4h.9v.9h-.9zM385.6 322.0h.9v.9h-.9zM382.1 320.6h.9v.9h-.9zM371.5 319.0h.9v.9h-.9zM383.3 321.1h.9v.9h-.9zM374.9 326.2h.9v.9h-.9zM379.0 319.6h.9v.9h-.9zM382.1 327.2h.9v.9h-.9zM372.8 327.2h.9v.9h-.9zM378.3 319.1h.9v.9h-.9zM386.2 323.8h.9v.9h-.9zM376.8 319.2h.9v.9h-.9zM386.2 322.8h.9v.9h-.9zM385.1 321.9h.9v.9h-.9zM384.8 321.2h.9v.9h-.9zM383.5 320.0h.9v.9h-.9zM374.5 327.3h.9v.9h-.9zM386.2 322.6h.9v.9h-.9zM382.6 325.7h.9v.9h-.9zM377.8 327.7h.9v.9h-.9zM380.5 326.9h.9v.9h-.9zM380.9 328.1h.9v.9h-.9zM379.9 328.0h.9v.9h-.9zM384.9 320.1h.9v.9h-.9zM378.9 319.5h.9v.9h-.9zM379.0 328.2h.9v.9h-.9zM372.7 319.5h.9v.9h-.9zM379.1 327.5h.9v.9h-.9zM384.7 325.1h.9v.9h-.9zM374.6 319.0h.9v.9h-.9zM381.9 321.2h.9v.9h-.9zM383.6 325.4h.9v.9h-.9zM381.5 327.8h.9v.9h-.9zM373.7 325.7h.9v.9h-.9zM373.6 327.4h.9v.9h-.9zM383.2 325.9h.9v.9h-.9zM386.1 322.1h.9v.9h-.9zM384.0 326.7h.9v.9h-.9zM380.2 327.0h.9v.9h-.9zM384.5 325.3h.9v.9h-.9zM382.6 320.4h.9v.9h-.9zM385.2 320.5h.9v.9h-.9zM372.9 325.5h.9v.9h-.9zM380.7 327.1h.9v.9h-.9zM386.4 323.5h.9v.9h-.9zM379.4 328.9h.9v.9h-.9zM372.5 319.9h.9v.9h-.9zM376.3 319.0h.9v.9h-.9zM384.7 321.6h.9v.9h-.9zM380.2 319.9h.9v.9h-.9zM372.8 327.0h.9v.9h-.9zM378.6 329.1h.9v.9h-.9zM373.6 326.1h.9v.9h-.9zM372.9 319.8h.9v.9h-.9zM380.4 320.2h.9v.9h-.9zM378.0 328.1h.9v.9h-.9zM367.9 328.6h.9v.9h-.9zM371.0 319.2h.9v.9h-.9zM369.2 319.5h.9v.9h-.9zM385.1 320.1h.9v.9h-.9zM373.0 319.2h.9v.9h-.9zM385.7 322.5h.9v.9h-.9zM382.8 326.8h.9v.9h-.9zM384.1 321.1h.9v.9h-.9zM376.7 327.5h.9v.9h-.9zM371.3 326.9h.9v.9h-.9zM374.3 327.6h.9v.9h-.9zM365.4 327.2h.9v.9h-.9zM368.0 321.3h.9v.9h-.9zM369.0 321.2h.9v.9h-.9zM384.4 326.0h.9v.9h-.9zM383.9 320.5h.9v.9h-.9zM370.3 321.6h.9v.9h-.9zM367.5 322.7h.9v.9h-.9zM385.1 320.2h.9v.9h-.9zM385.1 324.5h.9v.9h-.9zM380.4 326.8h.9v.9h-.9zM367.1 323.4h.9v.9h-.9zM384.8 319.6h.9v.9h-.9zM370.7 319.6h.9v.9h-.9zM371.2 327.1h.9v.9h-.9zM378.7 321.1h.9v.9h-.9zM385.0 320.4h.9v.9h-.9zM376.1 328.1h.9v.9h-.9zM384.8 326.6h.9v.9h-.9zM386.8 321.9h.9v.9h-.9zM375.2 319.3h.9v.9h-.9zM369.3 327.2h.9v.9h-.9zM380.2 326.9h.9v.9h-.9zM379.4 328.1h.9v.9h-.9zM364.8 322.9h.9v.9h-.9zM375.4 320.8h.9v.9h-.9zM367.2 321.0h.9v.9h-.9zM366.8 321.3h.9v.9h-.9zM370.1 320.7h.9v.9h-.9zM373.5 326.6h.9v.9h-.9zM382.6 326.4h.9v.9h-.9zM382.1 320.4h.9v.9h-.9zM383.3 326.8h.9v.9h-.9zM368.2 321.1h.9v.9h-.9zM384.3 320.0h.9v.9h-.9zM380.1 326.5h.9v.9h-.9zM368.2 327.9h.9v.9h-.9zM386.5 323.0h.9v.9h-.9zM365.6 324.7h.9v.9h-.9zM385.6 322.0h.9v.9h-.9zM380.9 328.1h.9v.9h-.9zM380.0 320.9h.9v.9h-.9zM366.3 321.2h.9v.9h-.9zM372.8 319.7h.9v.9h-.9zM382.4 320.2h.9v.9h-.9zM377.0 328.9h.9v.9h-.9zM378.6 321.0h.9v.9h-.9zM378.5 319.3h.9v.9h-.9zM369.7 321.1h.9v.9h-.9zM376.4 320.0h.9v.9h-.9zM363.4 325.6h.9v.9h-.9zM366.4 321.6h.9v.9h-.9zM377.1 319.9h.9v.9h-.9zM376.4 327.0h.9v.9h-.9zM382.2 320.3h.9v.9h-.9zM386.2 321.4h.9v.9h-.9zM384.9 319.8h.9v.9h-.9zM367.7 320.2h.9v.9h-.9zM373.4 321.3h.9v.9h-.9zM379.7 328.9h.9v.9h-.9zM373.0 327.8h.9v.9h-.9zM367.3 320.9h.9v.9h-.9zM371.0 320.3h.9v.9h-.9zM371.7 319.3h.9v.9h-.9zM374.3 319.2h.9v.9h-.9zM380.0 328.5h.9v.9h-.9zM384.9 321.6h.9v.9h-.9zM380.2 319.8h.9v.9h-.9zM372.7 320.7h.9v.9h-.9zM367.1 329.3h.9v.9h-.9zM383.5 320.8h.9v.9h-.9zM384.2 321.4h.9v.9h-.9zM371.4 320.5h.9v.9h-.9zM365.6 327.7h.9v.9h-.9zM370.6 320.7h.9v.9h-.9zM371.9 319.3h.9v.9h-.9zM370.6 319.5h.9v.9h-.9zM370.9 319.5h.9v.9h-.9zM365.1 326.1h.9v.9h-.9zM383.7 320.1h.9v.9h-.9zM370.8 326.5h.9v.9h-.9zM375.9 328.5h.9v.9h-.9zM364.7 328.1h.9v.9h-.9zM364.8 327.9h.9v.9h-.9zM364.9 326.0h.9v.9h-.9zM364.0 324.3h.9v.9h-.9zM370.5 327.4h.9v.9h-.9zM364.3 327.7h.9v.9h-.9zM368.6 327.6h.9v.9h-.9zM372.8 327.6h.9v.9h-.9zM366.6 326.2h.9v.9h-.9zM371.7 327.1h.9v.9h-.9zM368.9 327.2h.9v.9h-.9zM374.9 327.3h.9v.9h-.9zM371.6 320.8h.9v.9h-.9zM386.2 321.4h.9v.9h-.9zM384.7 326.1h.9v.9h-.9zM381.1 320.2h.9v.9h-.9zM366.2 321.8h.9v.9h-.9zM371.2 320.4h.9v.9h-.9zM366.7 323.8h.9v.9h-.9zM375.8 327.9h.9v.9h-.9zM385.3 320.1h.9v.9h-.9zM371.0 327.0h.9v.9h-.9zM374.6 326.8h.9v.9h-.9zM366.3 326.2h.9v.9h-.9zM378.6 327.8h.9v.9h-.9zM384.8 324.9h.9v.9h-.9zM375.2 320.0h.9v.9h-.9zM365.7 322.7h.9v.9h-.9zM385.5 325.1h.9v.9h-.9zM368.1 328.1h.9v.9h-.9zM375.4 328.1h.9v.9h-.9zM376.4 320.3h.9v.9h-.9zM375.2 319.2h.9v.9h-.9zM384.7 322.9h.9v.9h-.9zM377.1 327.2h.9v.9h-.9zM378.6 329.0h.9v.9h-.9zM375.6 327.8h.9v.9h-.9zM384.9 324.0h.9v.9h-.9zM369.7 327.4h.9v.9h-.9zM377.3 318.9h.9v.9h-.9zM376.9 320.6h.9v.9h-.9zM373.8 320.3h.9v.9h-.9zM377.2 328.3h.9v.9h-.9zM370.2 327.7h.9v.9h-.9zM367.0 320.9h.9v.9h-.9z" fill="#7f89aa" opacity="0.85"/>
<path d="M370.9 321.5h.9v.9h-.9zM370.5 324.7h.9v.9h-.9zM369.2 326.9h.9v.9h-.9zM370.1 322.2h.9v.9h-.9zM365.6 324.9h.9v.9h-.9zM367.8 325.0h.9v.9h-.9zM366.8 324.8h.9v.9h-.9zM370.2 326.3h.9v.9h-.9zM367.0 322.9h.9v.9h-.9zM369.9 326.7h.9v.9h-.9zM368.5 324.7h.9v.9h-.9zM371.0 326.5h.9v.9h-.9zM368.2 323.0h.9v.9h-.9zM365.2 324.9h.9v.9h-.9zM366.4 325.7h.9v.9h-.9zM370.4 326.6h.9v.9h-.9zM370.7 326.8h.9v.9h-.9zM372.0 325.6h.9v.9h-.9zM371.8 324.9h.9v.9h-.9zM372.4 322.7h.9v.9h-.9zM367.4 326.2h.9v.9h-.9zM369.4 322.4h.9v.9h-.9zM372.2 322.0h.9v.9h-.9zM367.8 325.1h.9v.9h-.9zM370.1 322.7h.9v.9h-.9zM367.5 323.5h.9v.9h-.9zM368.0 324.9h.9v.9h-.9zM367.9 328.1h.9v.9h-.9zM369.6 323.2h.9v.9h-.9zM369.7 323.3h.9v.9h-.9zM367.8 323.4h.9v.9h-.9zM370.4 324.6h.9v.9h-.9zM367.1 322.9h.9v.9h-.9zM369.2 322.4h.9v.9h-.9zM371.3 322.8h.9v.9h-.9zM367.6 326.3h.9v.9h-.9zM370.0 321.6h.9v.9h-.9zM369.9 321.9h.9v.9h-.9zM375.3 321.5h.9v.9h-.9zM369.5 322.2h.9v.9h-.9zM370.5 327.0h.9v.9h-.9zM372.1 324.8h.9v.9h-.9zM367.0 327.6h.9v.9h-.9zM373.1 323.6h.9v.9h-.9zM370.9 326.8h.9v.9h-.9zM369.6 321.1h.9v.9h-.9zM368.9 326.3h.9v.9h-.9zM367.9 323.1h.9v.9h-.9zM372.8 321.3h.9v.9h-.9zM369.8 326.7h.9v.9h-.9zM367.2 323.8h.9v.9h-.9zM369.1 324.4h.9v.9h-.9zM370.5 326.6h.9v.9h-.9zM369.9 325.9h.9v.9h-.9zM372.6 323.8h.9v.9h-.9zM369.4 321.4h.9v.9h-.9zM371.8 322.6h.9v.9h-.9zM367.6 327.1h.9v.9h-.9zM366.9 325.2h.9v.9h-.9zM370.0 326.5h.9v.9h-.9zM366.8 325.7h.9v.9h-.9zM367.8 326.4h.9v.9h-.9zM367.7 323.1h.9v.9h-.9zM373.5 321.9h.9v.9h-.9zM371.8 324.9h.9v.9h-.9zM368.9 326.3h.9v.9h-.9zM369.7 322.9h.9v.9h-.9zM367.7 323.3h.9v.9h-.9zM383.3 323.5h.9v.9h-.9zM375.8 326.0h.9v.9h-.9zM383.0 320.9h.9v.9h-.9zM384.1 324.5h.9v.9h-.9zM375.4 326.5h.9v.9h-.9zM383.1 321.4h.9v.9h-.9zM373.8 321.8h.9v.9h-.9zM374.8 321.5h.9v.9h-.9zM375.6 321.7h.9v.9h-.9zM377.3 327.3h.9v.9h-.9zM383.9 323.1h.9v.9h-.9zM383.6 323.1h.9v.9h-.9zM379.9 321.5h.9v.9h-.9zM377.0 321.7h.9v.9h-.9zM375.5 321.0h.9v.9h-.9zM384.1 323.3h.9v.9h-.9zM377.6 327.5h.9v.9h-.9zM383.1 324.8h.9v.9h-.9zM383.6 321.9h.9v.9h-.9zM377.4 326.3h.9v.9h-.9zM381.4 323.2h.9v.9h-.9zM381.9 321.6h.9v.9h-.9zM381.3 326.1h.9v.9h-.9zM377.4 322.0h.9v.9h-.9zM378.3 321.6h.9v.9h-.9zM381.6 321.1h.9v.9h-.9zM378.3 321.9h.9v.9h-.9zM377.6 327.3h.9v.9h-.9zM381.5 326.4h.9v.9h-.9zM379.7 323.8h.9v.9h-.9zM384.9 324.3h.9v.9h-.9zM383.0 325.2h.9v.9h-.9zM380.3 322.0h.9v.9h-.9zM376.0 326.5h.9v.9h-.9zM383.9 324.1h.9v.9h-.9zM384.0 323.1h.9v.9h-.9zM376.2 326.2h.9v.9h-.9zM379.7 326.8h.9v.9h-.9zM378.3 327.6h.9v.9h-.9zM373.8 325.1h.9v.9h-.9zM382.3 321.3h.9v.9h-.9zM377.6 321.5h.9v.9h-.9zM383.6 323.8h.9v.9h-.9zM383.1 324.5h.9v.9h-.9zM379.3 326.6h.9v.9h-.9zM367.7 324.8h.9v.9h-.9zM380.5 322.6h.9v.9h-.9zM374.2 326.2h.9v.9h-.9zM383.9 324.5h.9v.9h-.9zM370.3 326.5h.9v.9h-.9zM371.8 323.0h.9v.9h-.9zM379.1 326.6h.9v.9h-.9zM381.7 321.2h.9v.9h-.9zM374.4 321.4h.9v.9h-.9zM368.4 326.1h.9v.9h-.9zM378.3 321.5h.9v.9h-.9zM371.4 324.2h.9v.9h-.9zM383.7 322.7h.9v.9h-.9zM370.2 322.3h.9v.9h-.9zM377.6 326.7h.9v.9h-.9zM378.1 326.8h.9v.9h-.9zM374.6 324.5h.9v.9h-.9zM378.7 327.3h.9v.9h-.9zM375.1 322.6h.9v.9h-.9zM373.7 321.6h.9v.9h-.9zM374.3 325.1h.9v.9h-.9zM376.8 321.1h.9v.9h-.9zM381.3 321.6h.9v.9h-.9zM369.3 321.1h.9v.9h-.9zM381.2 325.6h.9v.9h-.9zM378.5 321.3h.9v.9h-.9zM372.7 322.4h.9v.9h-.9zM371.9 320.8h.9v.9h-.9zM377.4 321.6h.9v.9h-.9zM383.6 323.8h.9v.9h-.9zM366.9 324.6h.9v.9h-.9zM384.0 322.7h.9v.9h-.9zM368.6 322.0h.9v.9h-.9zM374.5 325.8h.9v.9h-.9zM372.2 323.7h.9v.9h-.9zM371.2 321.7h.9v.9h-.9zM375.4 320.2h.9v.9h-.9zM367.7 322.7h.9v.9h-.9zM379.8 326.1h.9v.9h-.9zM377.1 326.4h.9v.9h-.9zM371.5 320.9h.9v.9h-.9zM368.4 323.7h.9v.9h-.9zM369.4 326.5h.9v.9h-.9zM367.5 327.0h.9v.9h-.9zM370.0 321.2h.9v.9h-.9zM374.0 320.3h.9v.9h-.9zM374.2 324.0h.9v.9h-.9zM370.8 322.1h.9v.9h-.9zM371.3 321.2h.9v.9h-.9zM383.9 324.4h.9v.9h-.9zM379.2 327.4h.9v.9h-.9zM372.8 324.8h.9v.9h-.9zM379.6 321.3h.9v.9h-.9zM379.1 325.8h.9v.9h-.9zM377.9 321.2h.9v.9h-.9zM380.8 321.3h.9v.9h-.9zM377.7 326.7h.9v.9h-.9zM367.4 323.4h.9v.9h-.9zM383.1 321.7h.9v.9h-.9zM382.8 321.4h.9v.9h-.9zM369.2 327.5h.9v.9h-.9zM371.5 321.1h.9v.9h-.9zM384.5 321.1h.9v.9h-.9zM376.1 326.0h.9v.9h-.9zM376.1 325.4h.9v.9h-.9zM374.2 320.5h.9v.9h-.9zM367.4 326.4h.9v.9h-.9zM377.8 327.4h.9v.9h-.9zM374.4 321.6h.9v.9h-.9zM382.3 325.5h.9v.9h-.9zM372.6 321.3h.9v.9h-.9zM373.7 323.7h.9v.9h-.9zM371.4 323.4h.9v.9h-.9zM375.5 326.1h.9v.9h-.9zM371.7 321.6h.9v.9h-.9zM371.4 322.2h.9v.9h-.9zM376.3 321.4h.9v.9h-.9zM381.2 326.2h.9v.9h-.9zM366.6 322.2h.9v.9h-.9zM380.0 321.5h.9v.9h-.9zM374.2 326.2h.9v.9h-.9zM371.7 323.8h.9v.9h-.9zM384.9 323.2h.9v.9h-.9zM370.9 325.8h.9v.9h-.9zM372.7 324.1h.9v.9h-.9z" fill="#5a6c9e" opacity="0.9"/>
<path d="M376.2 322.3h.9v.9h-.9zM376.3 322.3h.9v.9h-.9zM368.1 323.6h.9v.9h-.9zM369.2 324.5h.9v.9h-.9zM375.5 325.0h.9v.9h-.9zM369.5 324.8h.9v.9h-.9zM368.9 322.4h.9v.9h-.9zM372.8 323.1h.9v.9h-.9zM371.1 323.9h.9v.9h-.9zM368.2 323.7h.9v.9h-.9zM377.0 325.0h.9v.9h-.9zM371.3 322.7h.9v.9h-.9zM372.5 323.1h.9v.9h-.9zM372.0 322.4h.9v.9h-.9zM370.8 325.6h.9v.9h-.9zM367.6 325.7h.9v.9h-.9zM367.2 326.2h.9v.9h-.9zM370.3 325.9h.9v.9h-.9zM368.2 326.1h.9v.9h-.9zM368.5 325.3h.9v.9h-.9zM372.3 323.4h.9v.9h-.9zM369.5 324.0h.9v.9h-.9zM369.0 324.3h.9v.9h-.9zM367.7 326.4h.9v.9h-.9zM369.3 326.1h.9v.9h-.9zM371.5 323.0h.9v.9h-.9zM368.0 326.1h.9v.9h-.9zM373.9 322.8h.9v.9h-.9zM373.6 323.8h.9v.9h-.9zM374.9 324.3h.9v.9h-.9zM380.8 321.8h.9v.9h-.9zM379.2 323.3h.9v.9h-.9zM380.0 324.8h.9v.9h-.9zM380.1 325.4h.9v.9h-.9zM374.0 324.0h.9v.9h-.9zM380.2 325.0h.9v.9h-.9zM376.4 321.9h.9v.9h-.9zM376.7 326.1h.9v.9h-.9zM376.0 321.8h.9v.9h-.9zM382.5 323.3h.9v.9h-.9zM375.9 325.4h.9v.9h-.9zM372.4 322.2h.9v.9h-.9zM379.2 325.5h.9v.9h-.9zM376.9 325.3h.9v.9h-.9zM379.7 325.8h.9v.9h-.9zM383.0 322.0h.9v.9h-.9zM380.0 325.4h.9v.9h-.9zM380.2 322.7h.9v.9h-.9zM380.9 325.3h.9v.9h-.9zM383.1 323.3h.9v.9h-.9zM381.5 325.4h.9v.9h-.9zM380.2 322.7h.9v.9h-.9zM376.0 323.3h.9v.9h-.9zM378.3 325.3h.9v.9h-.9zM375.6 325.9h.9v.9h-.9zM375.7 322.2h.9v.9h-.9zM379.5 325.5h.9v.9h-.9zM377.8 322.1h.9v.9h-.9zM380.7 322.5h.9v.9h-.9zM379.9 323.0h.9v.9h-.9zM377.0 323.3h.9v.9h-.9zM376.7 321.7h.9v.9h-.9zM383.1 323.9h.9v.9h-.9zM380.4 323.6h.9v.9h-.9zM384.1 323.7h.9v.9h-.9zM378.3 325.8h.9v.9h-.9zM377.1 326.3h.9v.9h-.9zM375.0 322.9h.9v.9h-.9zM369.4 323.9h.9v.9h-.9zM383.0 325.0h.9v.9h-.9zM368.3 325.3h.9v.9h-.9zM380.2 321.8h.9v.9h-.9zM381.9 322.7h.9v.9h-.9zM378.3 325.8h.9v.9h-.9zM373.4 323.7h.9v.9h-.9zM382.1 325.1h.9v.9h-.9zM372.6 323.9h.9v.9h-.9zM383.1 323.1h.9v.9h-.9zM382.2 324.9h.9v.9h-.9zM372.0 324.5h.9v.9h-.9zM368.7 324.9h.9v.9h-.9zM381.7 322.8h.9v.9h-.9zM373.6 323.4h.9v.9h-.9zM368.2 326.4h.9v.9h-.9zM368.2 324.7h.9v.9h-.9zM373.0 323.8h.9v.9h-.9zM376.3 325.7h.9v.9h-.9zM370.1 324.1h.9v.9h-.9zM381.3 326.1h.9v.9h-.9zM376.2 322.4h.9v.9h-.9zM368.0 326.3h.9v.9h-.9zM381.8 325.4h.9v.9h-.9zM371.7 325.3h.9v.9h-.9zM380.2 325.3h.9v.9h-.9zM374.6 324.0h.9v.9h-.9zM371.1 323.5h.9v.9h-.9zM379.4 322.0h.9v.9h-.9zM373.0 324.2h.9v.9h-.9zM381.9 324.2h.9v.9h-.9zM380.9 322.6h.9v.9h-.9zM382.5 325.0h.9v.9h-.9zM377.1 326.4h.9v.9h-.9zM375.3 324.5h.9v.9h-.9zM377.1 325.6h.9v.9h-.9zM374.7 322.5h.9v.9h-.9zM378.5 321.8h.9v.9h-.9zM376.2 321.8h.9v.9h-.9zM384.1 324.2h.9v.9h-.9zM373.1 323.8h.9v.9h-.9zM369.2 323.0h.9v.9h-.9zM382.0 323.2h.9v.9h-.9zM372.6 321.7h.9v.9h-.9zM378.0 322.2h.9v.9h-.9zM375.6 323.5h.9v.9h-.9zM381.9 324.6h.9v.9h-.9zM371.0 325.6h.9v.9h-.9zM376.1 321.8h.9v.9h-.9zM371.5 323.4h.9v.9h-.9z" fill="#4f8690" opacity="0.9"/>
<path d="M368.6 326.4h.9v.9h-.9zM370.1 325.1h.9v.9h-.9zM368.5 324.6h.9v.9h-.9zM371.9 323.0h.9v.9h-.9zM369.1 325.2h.9v.9h-.9zM375.6 322.4h.9v.9h-.9zM369.3 324.7h.9v.9h-.9zM382.2 322.5h.9v.9h-.9zM377.5 322.9h.9v.9h-.9zM381.7 324.9h.9v.9h-.9zM380.7 323.3h.9v.9h-.9zM378.6 322.4h.9v.9h-.9zM379.6 325.3h.9v.9h-.9zM381.2 324.8h.9v.9h-.9zM379.8 322.8h.9v.9h-.9zM378.0 322.1h.9v.9h-.9zM380.6 323.0h.9v.9h-.9zM378.0 325.6h.9v.9h-.9zM377.6 325.2h.9v.9h-.9zM377.6 325.1h.9v.9h-.9zM376.1 322.8h.9v.9h-.9zM379.0 324.9h.9v.9h-.9zM379.5 326.1h.9v.9h-.9zM375.0 323.7h.9v.9h-.9zM377.2 325.0h.9v.9h-.9zM378.1 322.9h.9v.9h-.9zM379.3 323.2h.9v.9h-.9zM377.6 324.3h.9v.9h-.9zM381.2 324.3h.9v.9h-.9zM375.4 322.8h.9v.9h-.9zM377.5 323.0h.9v.9h-.9zM379.1 323.1h.9v.9h-.9zM377.8 322.9h.9v.9h-.9zM376.5 324.9h.9v.9h-.9zM376.4 321.8h.9v.9h-.9zM375.7 324.8h.9v.9h-.9zM382.8 322.6h.9v.9h-.9zM376.5 322.7h.9v.9h-.9zM374.3 322.4h.9v.9h-.9zM372.5 322.8h.9v.9h-.9zM380.8 322.3h.9v.9h-.9zM378.2 325.8h.9v.9h-.9zM375.5 322.8h.9v.9h-.9zM374.4 322.7h.9v.9h-.9zM382.0 322.6h.9v.9h-.9zM382.4 324.7h.9v.9h-.9z" fill="#96b85c" opacity="0.95"/>
<path d="M369.6 325.3h.9v.9h-.9zM377.0 324.1h.9v.9h-.9zM378.3 324.1h.9v.9h-.9zM381.9 323.0h.9v.9h-.9zM376.9 324.5h.9v.9h-.9zM379.1 324.3h.9v.9h-.9zM375.3 322.6h.9v.9h-.9zM382.8 323.5h.9v.9h-.9zM382.4 322.4h.9v.9h-.9zM382.1 323.8h.9v.9h-.9zM377.6 324.3h.9v.9h-.9zM376.8 324.1h.9v.9h-.9zM378.2 325.4h.9v.9h-.9zM382.0 324.3h.9v.9h-.9zM377.7 322.8h.9v.9h-.9zM378.5 323.5h.9v.9h-.9zM381.7 325.0h.9v.9h-.9zM369.1 324.5h.9v.9h-.9zM379.6 323.6h.9v.9h-.9zM375.7 324.6h.9v.9h-.9z" fill="#d4c448" opacity="1"/>
<path d="M375.4 323.7h.9v.9h-.9zM376.2 324.6h.9v.9h-.9zM375.0 323.9h.9v.9h-.9zM377.0 322.9h.9v.9h-.9zM377.2 325.0h.9v.9h-.9zM377.4 323.2h.9v.9h-.9zM382.4 323.5h.9v.9h-.9zM377.9 324.1h.9v.9h-.9zM375.7 323.7h.9v.9h-.9zM381.4 323.4h.9v.9h-.9zM381.1 323.3h.9v.9h-.9zM377.3 323.2h.9v.9h-.9zM382.2 323.3h.9v.9h-.9zM382.2 323.8h.9v.9h-.9zM381.5 322.8h.9v.9h-.9zM376.0 323.1h.9v.9h-.9zM380.9 323.3h.9v.9h-.9zM381.0 324.1h.9v.9h-.9zM381.1 323.9h.9v.9h-.9zM381.0 323.8h.9v.9h-.9zM376.9 324.2h.9v.9h-.9zM375.9 324.1h.9v.9h-.9zM377.8 322.9h.9v.9h-.9zM374.5 323.2h.9v.9h-.9zM379.8 323.8h.9v.9h-.9zM382.5 324.0h.9v.9h-.9zM380.6 323.2h.9v.9h-.9zM377.3 323.8h.9v.9h-.9zM382.2 323.1h.9v.9h-.9zM376.3 321.8h.9v.9h-.9zM380.0 323.8h.9v.9h-.9zM382.5 324.1h.9v.9h-.9zM378.7 323.3h.9v.9h-.9zM376.8 324.7h.9v.9h-.9zM377.8 324.7h.9v.9h-.9zM375.8 324.8h.9v.9h-.9zM380.3 324.7h.9v.9h-.9zM376.3 325.7h.9v.9h-.9zM377.2 325.4h.9v.9h-.9zM378.9 322.6h.9v.9h-.9zM381.1 322.7h.9v.9h-.9zM377.6 324.5h.9v.9h-.9zM376.2 323.7h.9v.9h-.9z" fill="#e0a03c" opacity="1"/>
<polyline points="370.7,331.6 403.7,331.6 403.7,306.5" fill="none" stroke="#9a9a9a" stroke-width="0.9"/>
<polyline points="370.7,331.6 385.3,306.5 403.7,306.5 403.7,320" fill="none" stroke="#444" stroke-width="0.8"/>
<text x="394.00" y="303.40" font-size="7.9" text-anchor="middle">54%</text>
<rect x="347.70" y="265.6" width="66.2" height="67.80" fill="none" stroke="#231f20" stroke-width="1"/>
<line x1="344.40" y1="333.40" x2="347.70" y2="333.40" stroke="#231f20" stroke-width="0.8"/>
<text x="341.70" y="336.50" font-size="8.0" text-anchor="end">0</text>
<line x1="346.00" y1="330.76" x2="347.70" y2="330.76" stroke="#231f20" stroke-width="0.6"/>
<line x1="346.00" y1="328.12" x2="347.70" y2="328.12" stroke="#231f20" stroke-width="0.6"/>
<line x1="346.00" y1="325.48" x2="347.70" y2="325.48" stroke="#231f20" stroke-width="0.6"/>
<line x1="346.00" y1="322.84" x2="347.70" y2="322.84" stroke="#231f20" stroke-width="0.6"/>
<line x1="344.40" y1="320.20" x2="347.70" y2="320.20" stroke="#231f20" stroke-width="0.8"/>
<text x="341.70" y="323.30" font-size="8.0" text-anchor="end">50K</text>
<line x1="346.00" y1="317.56" x2="347.70" y2="317.56" stroke="#231f20" stroke-width="0.6"/>
<line x1="346.00" y1="314.92" x2="347.70" y2="314.92" stroke="#231f20" stroke-width="0.6"/>
<line x1="346.00" y1="312.28" x2="347.70" y2="312.28" stroke="#231f20" stroke-width="0.6"/>
<line x1="346.00" y1="309.64" x2="347.70" y2="309.64" stroke="#231f20" stroke-width="0.6"/>
<line x1="344.40" y1="307.00" x2="347.70" y2="307.00" stroke="#231f20" stroke-width="0.8"/>
<text x="341.70" y="310.10" font-size="8.0" text-anchor="end">100K</text>
<line x1="346.00" y1="304.36" x2="347.70" y2="304.36" stroke="#231f20" stroke-width="0.6"/>
<line x1="346.00" y1="301.72" x2="347.70" y2="301.72" stroke="#231f20" stroke-width="0.6"/>
<line x1="346.00" y1="299.08" x2="347.70" y2="299.08" stroke="#231f20" stroke-width="0.6"/>
<line x1="346.00" y1="296.44" x2="347.70" y2="296.44" stroke="#231f20" stroke-width="0.6"/>
<line x1="344.40" y1="293.80" x2="347.70" y2="293.80" stroke="#231f20" stroke-width="0.8"/>
<text x="341.70" y="296.90" font-size="8.0" text-anchor="end">150K</text>
<line x1="346.00" y1="291.16" x2="347.70" y2="291.16" stroke="#231f20" stroke-width="0.6"/>
<line x1="346.00" y1="288.52" x2="347.70" y2="288.52" stroke="#231f20" stroke-width="0.6"/>
<line x1="346.00" y1="285.88" x2="347.70" y2="285.88" stroke="#231f20" stroke-width="0.6"/>
<line x1="346.00" y1="283.24" x2="347.70" y2="283.24" stroke="#231f20" stroke-width="0.6"/>
<line x1="344.40" y1="280.60" x2="347.70" y2="280.60" stroke="#231f20" stroke-width="0.8"/>
<text x="341.70" y="283.70" font-size="8.0" text-anchor="end">200K</text>
<line x1="346.00" y1="277.96" x2="347.70" y2="277.96" stroke="#231f20" stroke-width="0.6"/>
<line x1="346.00" y1="275.32" x2="347.70" y2="275.32" stroke="#231f20" stroke-width="0.6"/>
<line x1="346.00" y1="272.68" x2="347.70" y2="272.68" stroke="#231f20" stroke-width="0.6"/>
<line x1="346.00" y1="270.04" x2="347.70" y2="270.04" stroke="#231f20" stroke-width="0.6"/>
<line x1="344.40" y1="267.40" x2="347.70" y2="267.40" stroke="#231f20" stroke-width="0.8"/>
<text x="341.70" y="270.50" font-size="8.0" text-anchor="end">250K</text>
<line x1="355.40" y1="333.40" x2="355.40" y2="335.90" stroke="#231f20" stroke-width="0.8"/>
<line x1="359.40" y1="333.40" x2="359.40" y2="335.10" stroke="#231f20" stroke-width="0.6"/>
<line x1="361.75" y1="333.40" x2="361.75" y2="335.10" stroke="#231f20" stroke-width="0.6"/>
<line x1="363.41" y1="333.40" x2="363.41" y2="335.10" stroke="#231f20" stroke-width="0.6"/>
<line x1="364.70" y1="333.40" x2="364.70" y2="335.10" stroke="#231f20" stroke-width="0.6"/>
<line x1="365.75" y1="333.40" x2="365.75" y2="335.10" stroke="#231f20" stroke-width="0.6"/>
<line x1="366.64" y1="333.40" x2="366.64" y2="335.10" stroke="#231f20" stroke-width="0.6"/>
<line x1="367.41" y1="333.40" x2="367.41" y2="335.10" stroke="#231f20" stroke-width="0.6"/>
<line x1="368.09" y1="333.40" x2="368.09" y2="335.10" stroke="#231f20" stroke-width="0.6"/>
<text x="353.80" y="345.6" font-size="7.9" text-anchor="middle">10<tspan font-size="5.6" dy="-2.9" style="stroke-width:0.08px">1</tspan></text>
<line x1="368.70" y1="333.40" x2="368.70" y2="335.90" stroke="#231f20" stroke-width="0.8"/>
<line x1="372.70" y1="333.40" x2="372.70" y2="335.10" stroke="#231f20" stroke-width="0.6"/>
<line x1="375.05" y1="333.40" x2="375.05" y2="335.10" stroke="#231f20" stroke-width="0.6"/>
<line x1="376.71" y1="333.40" x2="376.71" y2="335.10" stroke="#231f20" stroke-width="0.6"/>
<line x1="378.00" y1="333.40" x2="378.00" y2="335.10" stroke="#231f20" stroke-width="0.6"/>
<line x1="379.05" y1="333.40" x2="379.05" y2="335.10" stroke="#231f20" stroke-width="0.6"/>
<line x1="379.94" y1="333.40" x2="379.94" y2="335.10" stroke="#231f20" stroke-width="0.6"/>
<line x1="380.71" y1="333.40" x2="380.71" y2="335.10" stroke="#231f20" stroke-width="0.6"/>
<line x1="381.39" y1="333.40" x2="381.39" y2="335.10" stroke="#231f20" stroke-width="0.6"/>
<text x="367.10" y="345.6" font-size="7.9" text-anchor="middle">10<tspan font-size="5.6" dy="-2.9" style="stroke-width:0.08px">2</tspan></text>
<line x1="382.00" y1="333.40" x2="382.00" y2="335.90" stroke="#231f20" stroke-width="0.8"/>
<line x1="386.00" y1="333.40" x2="386.00" y2="335.10" stroke="#231f20" stroke-width="0.6"/>
<line x1="388.35" y1="333.40" x2="388.35" y2="335.10" stroke="#231f20" stroke-width="0.6"/>
<line x1="390.01" y1="333.40" x2="390.01" y2="335.10" stroke="#231f20" stroke-width="0.6"/>
<line x1="391.30" y1="333.40" x2="391.30" y2="335.10" stroke="#231f20" stroke-width="0.6"/>
<line x1="392.35" y1="333.40" x2="392.35" y2="335.10" stroke="#231f20" stroke-width="0.6"/>
<line x1="393.24" y1="333.40" x2="393.24" y2="335.10" stroke="#231f20" stroke-width="0.6"/>
<line x1="394.01" y1="333.40" x2="394.01" y2="335.10" stroke="#231f20" stroke-width="0.6"/>
<line x1="394.69" y1="333.40" x2="394.69" y2="335.10" stroke="#231f20" stroke-width="0.6"/>
<text x="380.40" y="345.6" font-size="7.9" text-anchor="middle">10<tspan font-size="5.6" dy="-2.9" style="stroke-width:0.08px">3</tspan></text>
<line x1="395.30" y1="333.40" x2="395.30" y2="335.90" stroke="#231f20" stroke-width="0.8"/>
<line x1="399.30" y1="333.40" x2="399.30" y2="335.10" stroke="#231f20" stroke-width="0.6"/>
<line x1="401.65" y1="333.40" x2="401.65" y2="335.10" stroke="#231f20" stroke-width="0.6"/>
<line x1="403.31" y1="333.40" x2="403.31" y2="335.10" stroke="#231f20" stroke-width="0.6"/>
<line x1="404.60" y1="333.40" x2="404.60" y2="335.10" stroke="#231f20" stroke-width="0.6"/>
<line x1="405.65" y1="333.40" x2="405.65" y2="335.10" stroke="#231f20" stroke-width="0.6"/>
<line x1="406.54" y1="333.40" x2="406.54" y2="335.10" stroke="#231f20" stroke-width="0.6"/>
<line x1="407.31" y1="333.40" x2="407.31" y2="335.10" stroke="#231f20" stroke-width="0.6"/>
<line x1="407.99" y1="333.40" x2="407.99" y2="335.10" stroke="#231f20" stroke-width="0.6"/>
<text x="393.70" y="345.6" font-size="7.9" text-anchor="middle">10<tspan font-size="5.6" dy="-2.9" style="stroke-width:0.08px">4</tspan></text>
<line x1="408.60" y1="333.40" x2="408.60" y2="335.90" stroke="#231f20" stroke-width="0.8"/>
<line x1="412.60" y1="333.40" x2="412.60" y2="335.10" stroke="#231f20" stroke-width="0.6"/>
<text x="407.00" y="345.6" font-size="7.9" text-anchor="middle">10<tspan font-size="5.6" dy="-2.9" style="stroke-width:0.08px">5</tspan></text>
<text x="480.60" y="252.40" font-size="7.8" text-anchor="middle"><tspan font-style="italic">HBB</tspan> –98 guide</text>
<text x="480.60" y="261.90" font-size="7.8" text-anchor="middle">and +68 guide</text>
<path d="M463.8 324.7h.9v.9h-.9zM471.8 319.6h.9v.9h-.9zM463.0 325.5h.9v.9h-.9zM459.8 327.6h.9v.9h-.9zM464.6 329.0h.9v.9h-.9zM465.4 327.3h.9v.9h-.9zM469.6 330.8h.9v.9h-.9zM469.2 329.2h.9v.9h-.9zM467.6 330.9h.9v.9h-.9zM468.4 331.8h.9v.9h-.9zM467.9 332.0h.9v.9h-.9zM473.1 317.8h.9v.9h-.9zM465.6 320.7h.9v.9h-.9zM471.9 318.4h.9v.9h-.9zM466.5 328.3h.9v.9h-.9zM474.3 316.6h.9v.9h-.9zM463.7 321.6h.9v.9h-.9zM473.1 318.7h.9v.9h-.9zM463.9 330.3h.9v.9h-.9zM460.0 322.7h.9v.9h-.9zM462.0 326.6h.9v.9h-.9zM464.6 329.2h.9v.9h-.9zM470.2 329.3h.9v.9h-.9zM467.8 315.3h.9v.9h-.9zM470.5 320.3h.9v.9h-.9zM468.5 329.2h.9v.9h-.9zM464.7 320.0h.9v.9h-.9zM469.4 328.9h.9v.9h-.9zM461.6 326.5h.9v.9h-.9zM478.3 317.7h.9v.9h-.9zM468.1 320.4h.9v.9h-.9zM464.5 324.6h.9v.9h-.9zM462.2 330.3h.9v.9h-.9zM471.2 329.6h.9v.9h-.9zM462.6 327.6h.9v.9h-.9zM464.9 321.8h.9v.9h-.9zM461.2 327.9h.9v.9h-.9zM462.5 330.1h.9v.9h-.9zM464.0 326.1h.9v.9h-.9zM472.2 315.3h.9v.9h-.9zM468.4 328.9h.9v.9h-.9zM463.2 321.6h.9v.9h-.9zM471.5 318.4h.9v.9h-.9zM465.8 331.1h.9v.9h-.9zM466.7 329.1h.9v.9h-.9zM464.2 324.3h.9v.9h-.9zM473.3 319.5h.9v.9h-.9zM467.0 329.0h.9v.9h-.9zM465.9 321.9h.9v.9h-.9zM462.2 326.6h.9v.9h-.9zM472.1 317.6h.9v.9h-.9zM464.9 329.7h.9v.9h-.9zM470.8 319.1h.9v.9h-.9zM474.0 317.7h.9v.9h-.9zM468.2 316.9h.9v.9h-.9zM462.8 328.9h.9v.9h-.9zM464.0 324.6h.9v.9h-.9zM464.6 324.6h.9v.9h-.9zM461.2 326.8h.9v.9h-.9zM474.4 317.3h.9v.9h-.9zM464.7 327.8h.9v.9h-.9zM464.0 324.2h.9v.9h-.9zM469.6 319.4h.9v.9h-.9zM469.8 328.7h.9v.9h-.9zM483.4 329.5h.9v.9h-.9zM485.8 318.3h.9v.9h-.9zM486.1 316.9h.9v.9h-.9zM478.0 331.3h.9v.9h-.9zM491.6 317.9h.9v.9h-.9zM486.3 327.1h.9v.9h-.9zM479.8 330.4h.9v.9h-.9zM479.1 331.8h.9v.9h-.9zM487.6 319.6h.9v.9h-.9zM490.9 321.6h.9v.9h-.9zM486.9 315.2h.9v.9h-.9zM495.7 314.7h.9v.9h-.9zM487.0 318.3h.9v.9h-.9zM483.6 318.0h.9v.9h-.9zM488.6 321.8h.9v.9h-.9zM478.6 317.7h.9v.9h-.9zM488.7 324.9h.9v.9h-.9zM474.9 330.8h.9v.9h-.9zM484.2 329.2h.9v.9h-.9zM479.7 318.9h.9v.9h-.9zM486.7 316.5h.9v.9h-.9zM484.6 328.8h.9v.9h-.9zM481.8 317.0h.9v.9h-.9zM488.5 322.4h.9v.9h-.9zM490.9 320.6h.9v.9h-.9zM485.7 327.8h.9v.9h-.9zM482.9 328.8h.9v.9h-.9zM490.1 322.4h.9v.9h-.9zM484.8 327.7h.9v.9h-.9zM488.3 326.0h.9v.9h-.9zM472.5 331.8h.9v.9h-.9zM488.0 319.5h.9v.9h-.9zM482.5 315.5h.9v.9h-.9zM485.4 332.0h.9v.9h-.9zM481.0 318.3h.9v.9h-.9zM475.8 318.9h.9v.9h-.9zM487.5 319.7h.9v.9h-.9zM478.4 331.6h.9v.9h-.9zM476.9 319.2h.9v.9h-.9zM487.6 316.8h.9v.9h-.9zM480.5 331.7h.9v.9h-.9zM490.5 320.4h.9v.9h-.9zM477.8 330.9h.9v.9h-.9zM471.8 330.0h.9v.9h-.9zM477.3 331.2h.9v.9h-.9zM488.4 324.9h.9v.9h-.9zM482.8 330.0h.9v.9h-.9zM472.9 331.6h.9v.9h-.9zM492.6 315.8h.9v.9h-.9zM484.6 328.0h.9v.9h-.9zM488.3 323.7h.9v.9h-.9zM482.8 318.4h.9v.9h-.9zM484.8 316.0h.9v.9h-.9zM485.1 328.2h.9v.9h-.9zM478.8 331.2h.9v.9h-.9zM489.6 320.2h.9v.9h-.9zM473.0 330.2h.9v.9h-.9zM481.0 331.6h.9v.9h-.9zM491.7 321.6h.9v.9h-.9zM480.7 317.6h.9v.9h-.9zM491.4 317.1h.9v.9h-.9zM489.9 319.0h.9v.9h-.9zM485.5 327.1h.9v.9h-.9zM477.9 318.6h.9v.9h-.9zM468.0 331.1h.9v.9h-.9zM469.7 318.3h.9v.9h-.9zM469.6 319.8h.9v.9h-.9zM475.0 330.0h.9v.9h-.9zM469.9 319.1h.9v.9h-.9zM490.6 324.1h.9v.9h-.9zM466.1 316.7h.9v.9h-.9zM464.5 321.9h.9v.9h-.9zM489.7 319.8h.9v.9h-.9zM457.3 327.8h.9v.9h-.9zM464.7 324.3h.9v.9h-.9zM486.4 330.9h.9v.9h-.9zM474.6 316.6h.9v.9h-.9zM476.7 330.0h.9v.9h-.9zM478.9 330.5h.9v.9h-.9zM468.3 320.2h.9v.9h-.9zM465.9 321.2h.9v.9h-.9zM478.1 330.8h.9v.9h-.9zM481.7 313.0h.9v.9h-.9zM460.5 323.2h.9v.9h-.9zM487.2 329.6h.9v.9h-.9zM468.8 320.5h.9v.9h-.9zM482.7 317.0h.9v.9h-.9zM471.9 315.9h.9v.9h-.9zM463.7 329.9h.9v.9h-.9zM466.3 320.0h.9v.9h-.9zM482.9 329.1h.9v.9h-.9zM488.3 323.2h.9v.9h-.9zM467.4 316.7h.9v.9h-.9zM490.4 321.2h.9v.9h-.9zM460.5 324.8h.9v.9h-.9zM496.1 321.1h.9v.9h-.9zM491.4 328.6h.9v.9h-.9zM467.2 330.8h.9v.9h-.9zM464.5 325.8h.9v.9h-.9zM475.2 316.5h.9v.9h-.9zM465.4 319.9h.9v.9h-.9zM460.6 324.2h.9v.9h-.9zM472.2 330.3h.9v.9h-.9zM475.2 314.3h.9v.9h-.9zM481.0 331.8h.9v.9h-.9zM462.2 321.2h.9v.9h-.9zM486.6 326.7h.9v.9h-.9zM466.6 328.6h.9v.9h-.9zM487.3 324.7h.9v.9h-.9zM470.1 313.1h.9v.9h-.9zM485.0 331.8h.9v.9h-.9zM460.1 323.0h.9v.9h-.9zM482.7 331.8h.9v.9h-.9zM481.0 317.1h.9v.9h-.9zM464.0 326.9h.9v.9h-.9zM482.5 331.3h.9v.9h-.9zM493.9 326.7h.9v.9h-.9zM472.6 332.0h.9v.9h-.9zM463.2 317.3h.9v.9h-.9zM490.9 325.3h.9v.9h-.9zM474.7 317.7h.9v.9h-.9zM487.1 329.1h.9v.9h-.9zM478.5 319.1h.9v.9h-.9zM459.9 323.6h.9v.9h-.9zM472.7 332.3h.9v.9h-.9zM478.2 331.6h.9v.9h-.9zM487.4 319.1h.9v.9h-.9zM473.3 315.4h.9v.9h-.9zM481.7 329.4h.9v.9h-.9zM489.5 323.4h.9v.9h-.9zM490.2 321.6h.9v.9h-.9zM465.3 331.8h.9v.9h-.9zM462.2 324.5h.9v.9h-.9zM491.4 318.1h.9v.9h-.9zM462.1 324.5h.9v.9h-.9zM506.3 318.7h.9v.9h-.9zM482.1 318.2h.9v.9h-.9zM477.3 316.2h.9v.9h-.9zM462.3 325.1h.9v.9h-.9zM473.0 329.6h.9v.9h-.9zM479.0 331.9h.9v.9h-.9zM485.6 312.7h.9v.9h-.9zM479.0 319.0h.9v.9h-.9zM473.3 319.6h.9v.9h-.9zM491.6 322.0h.9v.9h-.9zM462.8 322.7h.9v.9h-.9zM485.6 317.6h.9v.9h-.9zM472.0 319.2h.9v.9h-.9zM470.3 329.4h.9v.9h-.9zM479.5 330.4h.9v.9h-.9zM468.5 328.9h.9v.9h-.9zM475.2 318.3h.9v.9h-.9zM492.7 321.8h.9v.9h-.9zM461.6 330.8h.9v.9h-.9zM464.4 321.2h.9v.9h-.9zM464.4 315.5h.9v.9h-.9zM493.8 323.0h.9v.9h-.9zM463.5 316.2h.9v.9h-.9zM472.1 330.9h.9v.9h-.9zM486.1 325.4h.9v.9h-.9zM488.1 318.5h.9v.9h-.9zM460.6 321.6h.9v.9h-.9zM489.2 317.6h.9v.9h-.9zM479.4 317.2h.9v.9h-.9zM487.4 329.7h.9v.9h-.9zM475.4 317.7h.9v.9h-.9zM493.0 317.8h.9v.9h-.9zM486.0 327.1h.9v.9h-.9zM492.1 330.1h.9v.9h-.9zM456.1 327.0h.9v.9h-.9zM460.5 316.1h.9v.9h-.9zM483.6 314.4h.9v.9h-.9zM477.9 316.8h.9v.9h-.9zM450.6 325.1h.9v.9h-.9zM473.2 316.6h.9v.9h-.9zM473.9 318.6h.9v.9h-.9zM459.8 319.6h.9v.9h-.9zM472.0 317.6h.9v.9h-.9zM486.0 328.4h.9v.9h-.9zM463.7 330.6h.9v.9h-.9zM488.6 323.5h.9v.9h-.9zM487.8 315.3h.9v.9h-.9zM480.5 330.7h.9v.9h-.9zM490.2 317.4h.9v.9h-.9zM491.3 330.4h.9v.9h-.9zM479.3 317.4h.9v.9h-.9zM473.2 317.6h.9v.9h-.9zM476.6 313.6h.9v.9h-.9zM454.2 329.6h.9v.9h-.9zM474.1 303.2h.9v.9h-.9zM492.4 319.4h.9v.9h-.9zM462.9 323.2h.9v.9h-.9zM489.0 324.0h.9v.9h-.9zM496.4 318.2h.9v.9h-.9zM465.8 318.7h.9v.9h-.9zM474.6 315.1h.9v.9h-.9zM494.9 318.3h.9v.9h-.9zM477.7 330.9h.9v.9h-.9zM475.1 313.4h.9v.9h-.9zM494.5 323.0h.9v.9h-.9zM487.3 325.0h.9v.9h-.9zM452.2 307.7h.9v.9h-.9zM471.6 329.4h.9v.9h-.9zM462.3 331.1h.9v.9h-.9zM473.0 314.8h.9v.9h-.9zM478.6 330.3h.9v.9h-.9zM453.8 319.0h.9v.9h-.9zM458.7 321.2h.9v.9h-.9zM470.5 315.4h.9v.9h-.9zM478.6 318.2h.9v.9h-.9zM468.3 313.5h.9v.9h-.9zM454.9 315.1h.9v.9h-.9zM457.9 318.7h.9v.9h-.9zM483.1 313.6h.9v.9h-.9zM474.9 313.5h.9v.9h-.9zM482.8 330.3h.9v.9h-.9zM478.2 313.2h.9v.9h-.9zM467.9 330.7h.9v.9h-.9zM488.6 331.5h.9v.9h-.9zM489.9 329.4h.9v.9h-.9zM471.0 310.2h.9v.9h-.9zM479.4 317.4h.9v.9h-.9zM478.7 313.1h.9v.9h-.9zM493.9 324.3h.9v.9h-.9zM498.8 323.9h.9v.9h-.9zM466.7 308.9h.9v.9h-.9zM493.0 328.6h.9v.9h-.9zM475.7 318.8h.9v.9h-.9zM489.3 320.1h.9v.9h-.9zM465.9 314.2h.9v.9h-.9zM473.0 315.3h.9v.9h-.9zM470.8 311.8h.9v.9h-.9zM484.5 329.7h.9v.9h-.9zM483.4 315.7h.9v.9h-.9zM456.8 330.4h.9v.9h-.9zM481.0 313.0h.9v.9h-.9zM477.1 311.3h.9v.9h-.9zM460.6 323.7h.9v.9h-.9zM475.9 331.2h.9v.9h-.9zM464.9 320.3h.9v.9h-.9zM493.5 318.8h.9v.9h-.9zM474.7 317.5h.9v.9h-.9zM477.9 318.2h.9v.9h-.9zM466.5 316.7h.9v.9h-.9zM489.5 326.8h.9v.9h-.9zM489.2 320.6h.9v.9h-.9zM460.4 317.7h.9v.9h-.9zM464.1 329.7h.9v.9h-.9zM492.7 320.5h.9v.9h-.9zM472.3 332.3h.9v.9h-.9zM477.7 308.3h.9v.9h-.9zM491.2 324.0h.9v.9h-.9zM470.3 320.2h.9v.9h-.9zM488.9 329.5h.9v.9h-.9zM488.9 321.9h.9v.9h-.9zM473.3 316.4h.9v.9h-.9zM509.9 326.0h.9v.9h-.9zM473.9 319.2h.9v.9h-.9zM465.9 317.9h.9v.9h-.9zM486.3 316.7h.9v.9h-.9zM461.6 322.9h.9v.9h-.9zM475.1 315.3h.9v.9h-.9zM462.3 326.6h.9v.9h-.9zM491.3 323.9h.9v.9h-.9zM470.8 307.5h.9v.9h-.9zM473.5 316.4h.9v.9h-.9zM490.8 315.4h.9v.9h-.9zM487.4 328.5h.9v.9h-.9zM463.7 331.7h.9v.9h-.9zM491.8 328.5h.9v.9h-.9zM470.7 314.3h.9v.9h-.9zM467.0 318.4h.9v.9h-.9zM491.5 311.3h.9v.9h-.9zM476.0 317.1h.9v.9h-.9zM463.8 327.0h.9v.9h-.9zM468.7 330.0h.9v.9h-.9zM499.5 324.0h.9v.9h-.9zM468.4 321.3h.9v.9h-.9zM465.0 331.5h.9v.9h-.9zM491.9 330.5h.9v.9h-.9zM469.4 313.0h.9v.9h-.9zM479.4 315.8h.9v.9h-.9zM456.2 320.5h.9v.9h-.9zM469.7 314.6h.9v.9h-.9zM482.9 315.2h.9v.9h-.9zM473.5 318.1h.9v.9h-.9zM485.9 329.0h.9v.9h-.9zM476.9 318.3h.9v.9h-.9zM487.8 331.2h.9v.9h-.9zM467.2 320.3h.9v.9h-.9zM485.4 312.5h.9v.9h-.9zM480.8 330.7h.9v.9h-.9zM474.3 307.0h.9v.9h-.9zM493.9 330.5h.9v.9h-.9zM465.3 327.9h.9v.9h-.9zM477.1 330.7h.9v.9h-.9zM464.3 329.9h.9v.9h-.9zM501.6 326.2h.9v.9h-.9zM494.1 318.5h.9v.9h-.9zM475.2 316.3h.9v.9h-.9zM471.9 329.6h.9v.9h-.9zM463.4 318.6h.9v.9h-.9zM485.8 331.4h.9v.9h-.9zM495.8 312.3h.9v.9h-.9zM487.1 317.2h.9v.9h-.9zM491.7 326.8h.9v.9h-.9zM465.1 327.5h.9v.9h-.9zM492.6 316.6h.9v.9h-.9zM476.1 331.0h.9v.9h-.9zM496.0 322.6h.9v.9h-.9zM466.2 308.6h.9v.9h-.9zM466.2 328.8h.9v.9h-.9zM495.4 319.8h.9v.9h-.9zM487.8 315.6h.9v.9h-.9zM456.9 329.7h.9v.9h-.9zM495.8 324.2h.9v.9h-.9zM498.4 327.6h.9v.9h-.9zM492.0 316.2h.9v.9h-.9zM465.7 322.1h.9v.9h-.9zM467.8 312.9h.9v.9h-.9zM463.8 318.2h.9v.9h-.9zM469.5 318.1h.9v.9h-.9zM483.7 314.7h.9v.9h-.9zM459.3 311.0h.9v.9h-.9zM458.4 317.0h.9v.9h-.9zM474.0 330.6h.9v.9h-.9zM474.9 312.1h.9v.9h-.9zM487.8 324.3h.9v.9h-.9zM486.2 317.5h.9v.9h-.9zM483.8 315.1h.9v.9h-.9zM468.0 318.6h.9v.9h-.9zM502.1 318.5h.9v.9h-.9zM465.8 309.9h.9v.9h-.9zM471.9 320.1h.9v.9h-.9zM466.9 320.8h.9v.9h-.9zM492.6 324.2h.9v.9h-.9zM499.0 326.0h.9v.9h-.9zM469.6 318.5h.9v.9h-.9zM480.0 312.6h.9v.9h-.9zM461.2 317.8h.9v.9h-.9zM491.4 324.0h.9v.9h-.9zM470.7 330.3h.9v.9h-.9zM475.8 312.2h.9v.9h-.9zM457.4 326.1h.9v.9h-.9zM505.8 328.1h.9v.9h-.9zM453.2 312.7h.9v.9h-.9zM464.0 326.2h.9v.9h-.9zM459.2 319.3h.9v.9h-.9zM482.1 316.1h.9v.9h-.9zM480.7 314.6h.9v.9h-.9zM473.0 329.9h.9v.9h-.9zM472.8 315.4h.9v.9h-.9zM499.3 318.5h.9v.9h-.9zM463.1 329.2h.9v.9h-.9zM496.5 320.9h.9v.9h-.9zM486.4 326.8h.9v.9h-.9zM489.0 318.1h.9v.9h-.9zM494.8 320.6h.9v.9h-.9zM465.9 314.6h.9v.9h-.9zM496.0 319.6h.9v.9h-.9zM493.4 327.9h.9v.9h-.9zM481.0 318.2h.9v.9h-.9zM480.3 330.5h.9v.9h-.9zM451.5 321.3h.9v.9h-.9zM487.4 315.5h.9v.9h-.9zM502.7 325.9h.9v.9h-.9zM484.8 317.8h.9v.9h-.9zM471.4 311.2h.9v.9h-.9zM468.3 317.9h.9v.9h-.9zM485.8 317.4h.9v.9h-.9zM490.5 321.5h.9v.9h-.9zM490.0 321.2h.9v.9h-.9zM491.2 332.1h.9v.9h-.9zM492.7 321.1h.9v.9h-.9zM492.8 321.5h.9v.9h-.9zM478.4 313.0h.9v.9h-.9zM494.1 314.4h.9v.9h-.9zM500.1 323.3h.9v.9h-.9zM473.6 309.4h.9v.9h-.9zM460.8 315.8h.9v.9h-.9zM502.6 324.1h.9v.9h-.9zM491.1 309.9h.9v.9h-.9zM498.9 313.2h.9v.9h-.9zM488.2 328.5h.9v.9h-.9zM480.5 314.6h.9v.9h-.9zM494.6 316.2h.9v.9h-.9zM489.2 312.4h.9v.9h-.9zM481.4 331.7h.9v.9h-.9zM464.8 319.2h.9v.9h-.9zM470.5 318.0h.9v.9h-.9zM480.4 314.3h.9v.9h-.9zM495.9 316.3h.9v.9h-.9zM471.4 318.8h.9v.9h-.9zM478.1 318.8h.9v.9h-.9zM472.6 318.6h.9v.9h-.9zM477.1 330.4h.9v.9h-.9zM467.0 310.6h.9v.9h-.9zM465.1 311.9h.9v.9h-.9zM487.6 331.1h.9v.9h-.9zM463.9 324.7h.9v.9h-.9zM476.7 316.9h.9v.9h-.9zM465.4 328.2h.9v.9h-.9zM486.9 318.8h.9v.9h-.9zM487.1 327.7h.9v.9h-.9zM483.4 328.8h.9v.9h-.9zM459.9 320.3h.9v.9h-.9zM471.6 329.3h.9v.9h-.9zM487.2 318.3h.9v.9h-.9zM462.1 324.3h.9v.9h-.9zM492.5 319.4h.9v.9h-.9zM466.2 317.5h.9v.9h-.9zM473.7 318.9h.9v.9h-.9zM493.6 329.7h.9v.9h-.9zM484.3 314.7h.9v.9h-.9zM471.0 315.2h.9v.9h-.9zM491.8 313.1h.9v.9h-.9zM473.0 313.5h.9v.9h-.9zM465.5 321.3h.9v.9h-.9zM472.6 314.6h.9v.9h-.9zM466.0 317.8h.9v.9h-.9zM456.9 320.0h.9v.9h-.9zM498.2 332.5h.9v.9h-.9zM455.7 324.6h.9v.9h-.9zM498.1 323.3h.9v.9h-.9zM476.3 319.0h.9v.9h-.9zM488.1 329.9h.9v.9h-.9zM465.9 313.9h.9v.9h-.9zM501.6 316.0h.9v.9h-.9zM465.1 322.5h.9v.9h-.9zM476.8 313.7h.9v.9h-.9zM496.0 328.4h.9v.9h-.9zM462.7 318.8h.9v.9h-.9zM450.2 325.7h.9v.9h-.9zM466.9 310.8h.9v.9h-.9zM460.4 316.0h.9v.9h-.9zM494.2 319.7h.9v.9h-.9zM461.6 327.4h.9v.9h-.9zM472.3 316.3h.9v.9h-.9zM490.7 327.9h.9v.9h-.9zM467.8 330.0h.9v.9h-.9zM496.8 327.1h.9v.9h-.9zM468.4 314.5h.9v.9h-.9zM476.6 316.1h.9v.9h-.9zM504.4 316.7h.9v.9h-.9zM495.1 323.2h.9v.9h-.9zM457.7 327.2h.9v.9h-.9zM493.2 318.6h.9v.9h-.9zM472.3 329.7h.9v.9h-.9zM490.8 317.6h.9v.9h-.9zM492.7 320.4h.9v.9h-.9zM470.2 317.6h.9v.9h-.9zM490.7 315.2h.9v.9h-.9zM478.1 318.4h.9v.9h-.9zM487.0 313.2h.9v.9h-.9zM459.2 311.2h.9v.9h-.9zM453.4 322.3h.9v.9h-.9zM478.7 318.7h.9v.9h-.9zM489.7 311.5h.9v.9h-.9zM491.7 316.8h.9v.9h-.9zM469.4 316.2h.9v.9h-.9zM460.7 323.9h.9v.9h-.9zM498.4 322.5h.9v.9h-.9zM470.7 314.9h.9v.9h-.9zM492.8 321.4h.9v.9h-.9zM496.9 328.9h.9v.9h-.9z" fill="#a9adbf" opacity="0.85"/>
<path d="M466.2 321.9h.9v.9h-.9zM466.6 322.8h.9v.9h-.9zM467.4 326.5h.9v.9h-.9zM466.6 326.0h.9v.9h-.9zM470.3 328.3h.9v.9h-.9zM474.4 321.3h.9v.9h-.9zM467.3 327.2h.9v.9h-.9zM472.7 328.6h.9v.9h-.9zM468.4 327.0h.9v.9h-.9zM469.6 326.4h.9v.9h-.9zM464.9 324.9h.9v.9h-.9zM473.4 323.8h.9v.9h-.9zM475.4 322.0h.9v.9h-.9zM467.8 327.1h.9v.9h-.9zM468.9 327.8h.9v.9h-.9zM470.3 321.8h.9v.9h-.9zM474.9 321.3h.9v.9h-.9zM466.1 325.4h.9v.9h-.9zM475.2 320.3h.9v.9h-.9zM470.6 326.9h.9v.9h-.9zM465.7 327.4h.9v.9h-.9zM474.0 322.6h.9v.9h-.9zM470.9 322.7h.9v.9h-.9zM468.7 321.3h.9v.9h-.9zM474.3 321.0h.9v.9h-.9zM471.0 328.3h.9v.9h-.9zM468.0 323.0h.9v.9h-.9zM467.2 325.7h.9v.9h-.9zM468.4 327.2h.9v.9h-.9zM474.0 327.2h.9v.9h-.9zM467.0 322.7h.9v.9h-.9zM468.2 326.1h.9v.9h-.9zM472.9 322.9h.9v.9h-.9zM475.2 320.4h.9v.9h-.9zM467.2 327.7h.9v.9h-.9zM472.7 322.8h.9v.9h-.9zM471.1 320.8h.9v.9h-.9zM467.2 327.5h.9v.9h-.9zM467.6 327.4h.9v.9h-.9zM471.2 321.5h.9v.9h-.9zM472.9 327.9h.9v.9h-.9zM466.3 321.9h.9v.9h-.9zM467.7 321.2h.9v.9h-.9zM465.2 325.5h.9v.9h-.9zM472.9 322.2h.9v.9h-.9zM466.3 326.1h.9v.9h-.9zM474.5 319.4h.9v.9h-.9zM473.7 319.8h.9v.9h-.9zM473.2 321.0h.9v.9h-.9zM475.4 319.2h.9v.9h-.9zM476.2 321.2h.9v.9h-.9zM473.1 327.2h.9v.9h-.9zM468.9 326.3h.9v.9h-.9zM464.9 325.3h.9v.9h-.9zM471.0 321.3h.9v.9h-.9zM466.9 323.3h.9v.9h-.9zM465.4 323.2h.9v.9h-.9zM468.2 322.3h.9v.9h-.9zM466.6 325.7h.9v.9h-.9zM467.3 326.1h.9v.9h-.9zM473.4 328.3h.9v.9h-.9zM469.7 328.2h.9v.9h-.9zM486.4 323.8h.9v.9h-.9zM480.7 328.2h.9v.9h-.9zM486.7 322.5h.9v.9h-.9zM475.2 329.5h.9v.9h-.9zM486.2 324.6h.9v.9h-.9zM480.7 319.9h.9v.9h-.9zM487.6 323.9h.9v.9h-.9zM471.5 328.7h.9v.9h-.9zM486.8 321.3h.9v.9h-.9zM486.6 320.7h.9v.9h-.9zM484.2 319.5h.9v.9h-.9zM477.4 329.6h.9v.9h-.9zM475.6 321.4h.9v.9h-.9zM478.6 321.4h.9v.9h-.9zM486.8 320.6h.9v.9h-.9zM486.0 318.8h.9v.9h-.9zM475.9 321.4h.9v.9h-.9zM482.4 327.4h.9v.9h-.9zM485.4 326.9h.9v.9h-.9zM479.7 319.7h.9v.9h-.9zM474.7 328.5h.9v.9h-.9zM482.9 327.4h.9v.9h-.9zM473.2 324.2h.9v.9h-.9zM473.8 324.8h.9v.9h-.9zM478.7 319.9h.9v.9h-.9zM480.0 320.8h.9v.9h-.9zM486.7 319.3h.9v.9h-.9zM478.5 328.7h.9v.9h-.9zM478.7 329.4h.9v.9h-.9zM480.2 321.0h.9v.9h-.9zM473.3 328.1h.9v.9h-.9zM485.3 319.3h.9v.9h-.9zM484.9 318.5h.9v.9h-.9zM473.4 323.9h.9v.9h-.9zM479.1 329.9h.9v.9h-.9zM480.6 329.1h.9v.9h-.9zM486.5 322.6h.9v.9h-.9zM478.7 328.7h.9v.9h-.9zM484.9 325.7h.9v.9h-.9zM468.8 327.2h.9v.9h-.9zM484.9 318.5h.9v.9h-.9zM486.4 323.0h.9v.9h-.9zM484.0 326.1h.9v.9h-.9zM485.8 318.5h.9v.9h-.9zM481.1 328.3h.9v.9h-.9zM480.2 329.8h.9v.9h-.9zM486.0 321.3h.9v.9h-.9zM484.7 318.4h.9v.9h-.9zM483.7 326.8h.9v.9h-.9zM487.0 322.0h.9v.9h-.9zM475.6 322.5h.9v.9h-.9zM476.1 329.6h.9v.9h-.9zM479.3 329.8h.9v.9h-.9zM480.5 329.2h.9v.9h-.9zM485.9 325.3h.9v.9h-.9zM475.8 328.7h.9v.9h-.9zM475.8 328.3h.9v.9h-.9zM483.7 319.7h.9v.9h-.9zM475.9 328.2h.9v.9h-.9zM480.9 320.4h.9v.9h-.9zM473.9 323.6h.9v.9h-.9zM485.5 326.1h.9v.9h-.9zM487.3 322.1h.9v.9h-.9zM478.9 329.0h.9v.9h-.9zM485.4 325.5h.9v.9h-.9zM484.4 326.4h.9v.9h-.9zM483.2 327.8h.9v.9h-.9zM487.1 320.9h.9v.9h-.9zM486.6 322.2h.9v.9h-.9zM480.3 319.6h.9v.9h-.9zM481.9 327.1h.9v.9h-.9zM484.2 325.8h.9v.9h-.9zM482.2 328.1h.9v.9h-.9zM487.1 323.1h.9v.9h-.9zM480.4 320.1h.9v.9h-.9zM481.1 328.6h.9v.9h-.9zM487.8 323.3h.9v.9h-.9zM486.9 322.7h.9v.9h-.9zM477.2 329.8h.9v.9h-.9zM487.8 322.1h.9v.9h-.9zM480.9 329.1h.9v.9h-.9zM469.2 320.8h.9v.9h-.9zM466.6 325.3h.9v.9h-.9zM474.0 321.0h.9v.9h-.9zM486.6 320.5h.9v.9h-.9zM479.7 321.0h.9v.9h-.9zM468.0 322.3h.9v.9h-.9zM465.6 324.3h.9v.9h-.9zM474.4 319.5h.9v.9h-.9zM481.6 320.2h.9v.9h-.9zM466.4 325.7h.9v.9h-.9zM474.7 328.2h.9v.9h-.9zM487.5 323.5h.9v.9h-.9zM469.7 327.2h.9v.9h-.9zM467.8 321.5h.9v.9h-.9zM479.3 319.9h.9v.9h-.9zM481.9 319.2h.9v.9h-.9zM479.8 328.9h.9v.9h-.9zM477.0 321.6h.9v.9h-.9zM486.6 325.4h.9v.9h-.9zM486.7 322.8h.9v.9h-.9zM472.5 320.3h.9v.9h-.9zM470.7 321.7h.9v.9h-.9zM475.5 320.7h.9v.9h-.9zM465.2 325.2h.9v.9h-.9zM479.0 320.4h.9v.9h-.9zM465.8 326.7h.9v.9h-.9zM473.1 327.7h.9v.9h-.9zM478.1 329.6h.9v.9h-.9zM485.6 325.6h.9v.9h-.9zM471.8 328.5h.9v.9h-.9zM473.2 328.5h.9v.9h-.9zM473.5 320.9h.9v.9h-.9zM475.4 322.8h.9v.9h-.9zM482.6 319.5h.9v.9h-.9zM477.2 319.5h.9v.9h-.9zM484.8 325.9h.9v.9h-.9zM471.8 321.9h.9v.9h-.9zM476.6 327.5h.9v.9h-.9zM475.4 328.7h.9v.9h-.9zM486.4 321.0h.9v.9h-.9zM473.2 328.6h.9v.9h-.9zM475.4 322.7h.9v.9h-.9zM487.3 320.3h.9v.9h-.9zM466.9 327.3h.9v.9h-.9zM474.9 326.2h.9v.9h-.9zM475.7 320.4h.9v.9h-.9zM470.0 326.9h.9v.9h-.9zM472.0 328.5h.9v.9h-.9zM479.6 328.7h.9v.9h-.9zM485.8 326.2h.9v.9h-.9zM474.9 327.4h.9v.9h-.9zM479.2 320.2h.9v.9h-.9zM472.1 326.6h.9v.9h-.9zM477.2 329.3h.9v.9h-.9zM465.1 325.6h.9v.9h-.9zM467.2 321.1h.9v.9h-.9zM487.6 322.7h.9v.9h-.9zM481.1 329.1h.9v.9h-.9zM467.2 327.6h.9v.9h-.9zM469.9 328.1h.9v.9h-.9zM487.2 323.9h.9v.9h-.9zM483.3 326.1h.9v.9h-.9zM468.6 327.5h.9v.9h-.9zM474.1 328.2h.9v.9h-.9zM472.9 322.8h.9v.9h-.9zM468.9 320.8h.9v.9h-.9zM475.4 328.7h.9v.9h-.9zM477.4 329.4h.9v.9h-.9zM466.6 322.1h.9v.9h-.9zM472.2 327.3h.9v.9h-.9zM481.9 319.2h.9v.9h-.9zM472.6 323.4h.9v.9h-.9zM485.5 319.6h.9v.9h-.9zM473.3 322.4h.9v.9h-.9zM477.1 319.5h.9v.9h-.9zM471.7 328.5h.9v.9h-.9zM476.6 320.6h.9v.9h-.9zM473.0 321.7h.9v.9h-.9zM475.7 327.9h.9v.9h-.9zM476.2 320.5h.9v.9h-.9zM475.8 328.9h.9v.9h-.9zM465.3 325.3h.9v.9h-.9zM487.8 320.7h.9v.9h-.9zM485.4 320.1h.9v.9h-.9zM473.3 328.5h.9v.9h-.9zM468.5 321.0h.9v.9h-.9zM484.7 318.4h.9v.9h-.9zM482.4 327.4h.9v.9h-.9zM465.2 326.3h.9v.9h-.9zM473.0 321.3h.9v.9h-.9zM485.0 319.5h.9v.9h-.9zM481.0 320.7h.9v.9h-.9zM473.8 320.9h.9v.9h-.9zM475.8 319.3h.9v.9h-.9zM483.1 328.2h.9v.9h-.9zM485.6 320.2h.9v.9h-.9zM474.5 328.6h.9v.9h-.9zM468.9 325.9h.9v.9h-.9zM475.3 321.4h.9v.9h-.9zM465.9 323.4h.9v.9h-.9zM486.4 325.6h.9v.9h-.9zM483.3 319.3h.9v.9h-.9zM472.8 323.7h.9v.9h-.9zM468.1 321.2h.9v.9h-.9zM485.2 318.5h.9v.9h-.9zM470.3 321.4h.9v.9h-.9zM471.9 326.9h.9v.9h-.9zM479.9 319.7h.9v.9h-.9zM485.7 319.8h.9v.9h-.9zM467.3 328.1h.9v.9h-.9zM475.9 329.1h.9v.9h-.9zM470.1 327.5h.9v.9h-.9zM471.7 327.4h.9v.9h-.9zM487.2 321.0h.9v.9h-.9zM474.4 327.4h.9v.9h-.9zM473.2 322.7h.9v.9h-.9zM468.6 322.4h.9v.9h-.9zM485.0 319.9h.9v.9h-.9zM474.5 320.8h.9v.9h-.9zM469.1 322.4h.9v.9h-.9zM476.8 319.9h.9v.9h-.9zM473.8 326.3h.9v.9h-.9zM481.7 319.9h.9v.9h-.9zM466.3 321.8h.9v.9h-.9zM474.5 320.4h.9v.9h-.9zM476.4 321.5h.9v.9h-.9zM486.6 319.2h.9v.9h-.9zM476.9 321.7h.9v.9h-.9zM473.0 323.7h.9v.9h-.9zM479.8 329.4h.9v.9h-.9zM486.4 320.9h.9v.9h-.9zM474.2 320.4h.9v.9h-.9zM472.1 327.2h.9v.9h-.9zM472.6 329.2h.9v.9h-.9zM484.1 327.3h.9v.9h-.9zM487.0 319.9h.9v.9h-.9zM465.6 326.6h.9v.9h-.9zM485.1 326.8h.9v.9h-.9zM482.4 319.6h.9v.9h-.9zM466.6 324.4h.9v.9h-.9zM471.6 325.7h.9v.9h-.9zM481.0 320.6h.9v.9h-.9zM466.1 325.1h.9v.9h-.9zM482.8 319.3h.9v.9h-.9zM468.3 328.2h.9v.9h-.9zM476.0 319.2h.9v.9h-.9zM475.1 322.6h.9v.9h-.9zM474.0 328.2h.9v.9h-.9zM476.2 327.6h.9v.9h-.9zM475.1 324.1h.9v.9h-.9zM475.8 323.3h.9v.9h-.9zM472.0 327.3h.9v.9h-.9zM476.8 320.7h.9v.9h-.9zM468.7 321.0h.9v.9h-.9zM466.2 322.6h.9v.9h-.9zM470.8 321.0h.9v.9h-.9zM466.2 325.0h.9v.9h-.9zM484.9 318.5h.9v.9h-.9zM476.7 320.5h.9v.9h-.9zM475.5 323.3h.9v.9h-.9zM481.7 328.5h.9v.9h-.9z" fill="#7f89aa" opacity="0.85"/>
<path d="M467.2 326.0h.9v.9h-.9zM467.3 325.6h.9v.9h-.9zM469.0 325.6h.9v.9h-.9zM471.0 325.6h.9v.9h-.9zM472.3 323.6h.9v.9h-.9zM467.3 325.0h.9v.9h-.9zM472.6 326.0h.9v.9h-.9zM470.5 325.7h.9v.9h-.9zM470.5 323.4h.9v.9h-.9zM473.0 324.2h.9v.9h-.9zM469.6 325.1h.9v.9h-.9zM467.1 322.3h.9v.9h-.9zM468.5 325.5h.9v.9h-.9zM467.8 323.9h.9v.9h-.9zM472.7 325.4h.9v.9h-.9zM470.8 322.2h.9v.9h-.9zM472.1 324.8h.9v.9h-.9zM473.2 324.5h.9v.9h-.9zM473.7 325.0h.9v.9h-.9zM467.3 324.1h.9v.9h-.9zM468.7 325.1h.9v.9h-.9zM470.6 322.9h.9v.9h-.9zM469.1 324.0h.9v.9h-.9zM469.7 323.8h.9v.9h-.9zM471.5 326.2h.9v.9h-.9zM470.9 322.4h.9v.9h-.9zM469.1 326.4h.9v.9h-.9zM471.2 322.8h.9v.9h-.9zM468.4 323.4h.9v.9h-.9zM470.6 325.6h.9v.9h-.9zM470.0 325.3h.9v.9h-.9zM471.2 324.7h.9v.9h-.9zM470.3 324.7h.9v.9h-.9zM468.4 326.1h.9v.9h-.9zM470.5 324.2h.9v.9h-.9zM468.4 323.6h.9v.9h-.9zM468.3 323.4h.9v.9h-.9zM467.2 325.1h.9v.9h-.9zM468.5 323.1h.9v.9h-.9zM472.4 323.8h.9v.9h-.9zM469.9 323.1h.9v.9h-.9zM472.1 323.2h.9v.9h-.9zM466.5 323.2h.9v.9h-.9zM477.6 322.4h.9v.9h-.9zM482.2 326.4h.9v.9h-.9zM477.3 327.3h.9v.9h-.9zM477.0 328.1h.9v.9h-.9zM484.4 320.3h.9v.9h-.9zM486.1 321.3h.9v.9h-.9zM485.7 322.8h.9v.9h-.9zM476.6 322.1h.9v.9h-.9zM479.5 320.7h.9v.9h-.9zM486.7 322.8h.9v.9h-.9zM481.8 327.3h.9v.9h-.9zM475.2 326.1h.9v.9h-.9zM477.0 323.2h.9v.9h-.9zM484.3 324.6h.9v.9h-.9zM483.8 320.5h.9v.9h-.9zM477.6 327.0h.9v.9h-.9zM477.3 323.5h.9v.9h-.9zM475.8 326.1h.9v.9h-.9zM475.1 325.2h.9v.9h-.9zM476.3 327.6h.9v.9h-.9zM477.9 324.5h.9v.9h-.9zM475.5 326.6h.9v.9h-.9zM480.3 327.6h.9v.9h-.9zM481.3 327.5h.9v.9h-.9zM475.9 325.5h.9v.9h-.9zM474.5 325.6h.9v.9h-.9zM485.7 323.0h.9v.9h-.9zM474.6 324.9h.9v.9h-.9zM486.3 320.6h.9v.9h-.9zM483.0 326.5h.9v.9h-.9zM473.9 325.1h.9v.9h-.9zM482.6 320.7h.9v.9h-.9zM475.4 326.8h.9v.9h-.9zM484.1 324.8h.9v.9h-.9zM482.5 320.9h.9v.9h-.9zM477.5 323.3h.9v.9h-.9zM479.2 322.0h.9v.9h-.9zM484.7 321.1h.9v.9h-.9zM477.2 327.8h.9v.9h-.9zM483.1 324.3h.9v.9h-.9zM480.2 328.4h.9v.9h-.9zM483.0 321.1h.9v.9h-.9zM480.7 328.2h.9v.9h-.9zM479.5 321.6h.9v.9h-.9zM477.6 323.5h.9v.9h-.9zM477.7 323.0h.9v.9h-.9zM482.3 321.0h.9v.9h-.9zM472.0 323.1h.9v.9h-.9zM476.0 325.0h.9v.9h-.9zM480.6 328.4h.9v.9h-.9zM479.0 321.4h.9v.9h-.9zM477.6 322.4h.9v.9h-.9zM476.3 322.6h.9v.9h-.9zM472.3 326.1h.9v.9h-.9zM476.6 327.3h.9v.9h-.9zM485.1 320.6h.9v.9h-.9zM474.8 327.5h.9v.9h-.9zM478.9 327.0h.9v.9h-.9zM481.7 320.2h.9v.9h-.9zM474.5 325.1h.9v.9h-.9zM485.1 324.6h.9v.9h-.9zM480.3 321.5h.9v.9h-.9zM476.7 323.3h.9v.9h-.9zM484.6 320.8h.9v.9h-.9zM484.5 325.8h.9v.9h-.9zM483.8 321.0h.9v.9h-.9zM476.2 327.4h.9v.9h-.9zM485.3 323.9h.9v.9h-.9zM485.4 322.0h.9v.9h-.9zM478.7 326.9h.9v.9h-.9zM479.5 320.3h.9v.9h-.9zM476.3 326.6h.9v.9h-.9zM472.9 326.5h.9v.9h-.9zM485.8 324.5h.9v.9h-.9zM477.4 327.5h.9v.9h-.9zM469.1 323.1h.9v.9h-.9zM476.2 324.7h.9v.9h-.9zM468.1 322.7h.9v.9h-.9zM482.3 320.1h.9v.9h-.9zM476.1 327.1h.9v.9h-.9zM476.2 328.2h.9v.9h-.9zM468.6 325.8h.9v.9h-.9zM472.3 323.5h.9v.9h-.9zM484.2 323.9h.9v.9h-.9zM483.1 320.3h.9v.9h-.9zM475.7 326.9h.9v.9h-.9zM479.9 322.9h.9v.9h-.9zM472.8 325.3h.9v.9h-.9zM476.6 324.4h.9v.9h-.9zM476.7 327.9h.9v.9h-.9zM472.6 326.7h.9v.9h-.9zM472.1 324.5h.9v.9h-.9zM477.3 325.3h.9v.9h-.9zM475.7 327.1h.9v.9h-.9zM482.4 327.1h.9v.9h-.9zM467.9 324.6h.9v.9h-.9zM474.1 326.1h.9v.9h-.9zM485.6 321.8h.9v.9h-.9zM471.3 324.9h.9v.9h-.9zM473.5 323.0h.9v.9h-.9zM474.9 325.8h.9v.9h-.9zM475.5 326.5h.9v.9h-.9zM470.0 323.5h.9v.9h-.9zM482.3 326.9h.9v.9h-.9zM483.8 320.5h.9v.9h-.9zM482.1 320.5h.9v.9h-.9zM470.3 323.6h.9v.9h-.9zM485.8 322.3h.9v.9h-.9zM474.5 325.9h.9v.9h-.9zM480.2 321.5h.9v.9h-.9zM469.2 323.5h.9v.9h-.9zM467.4 326.1h.9v.9h-.9zM477.7 322.1h.9v.9h-.9zM466.9 323.3h.9v.9h-.9zM467.4 325.1h.9v.9h-.9zM483.2 320.2h.9v.9h-.9zM471.4 323.0h.9v.9h-.9zM471.5 324.6h.9v.9h-.9zM479.7 320.8h.9v.9h-.9zM470.7 323.3h.9v.9h-.9zM480.2 327.6h.9v.9h-.9zM479.6 321.4h.9v.9h-.9zM477.0 328.1h.9v.9h-.9zM481.7 327.4h.9v.9h-.9zM473.9 325.8h.9v.9h-.9zM474.9 326.1h.9v.9h-.9zM472.4 323.4h.9v.9h-.9zM469.2 323.4h.9v.9h-.9zM470.1 324.4h.9v.9h-.9zM471.5 325.9h.9v.9h-.9zM475.2 325.2h.9v.9h-.9zM468.3 325.2h.9v.9h-.9zM470.1 321.8h.9v.9h-.9zM484.4 325.1h.9v.9h-.9zM478.0 326.1h.9v.9h-.9zM478.0 322.5h.9v.9h-.9zM478.3 322.5h.9v.9h-.9zM483.0 321.7h.9v.9h-.9zM470.3 322.5h.9v.9h-.9zM474.2 324.7h.9v.9h-.9zM472.1 322.5h.9v.9h-.9zM471.6 326.7h.9v.9h-.9zM474.4 327.2h.9v.9h-.9zM471.6 323.4h.9v.9h-.9zM468.7 325.3h.9v.9h-.9zM476.3 324.1h.9v.9h-.9zM472.0 326.8h.9v.9h-.9zM476.4 326.9h.9v.9h-.9zM471.9 325.7h.9v.9h-.9zM477.0 326.3h.9v.9h-.9zM474.3 326.5h.9v.9h-.9z" fill="#5a6c9e" opacity="0.9"/>
<path d="M468.6 323.7h.9v.9h-.9zM468.8 324.8h.9v.9h-.9zM468.8 324.9h.9v.9h-.9zM469.1 325.0h.9v.9h-.9zM468.3 324.4h.9v.9h-.9zM469.0 323.9h.9v.9h-.9zM468.6 323.5h.9v.9h-.9zM469.5 323.3h.9v.9h-.9zM470.7 324.5h.9v.9h-.9zM478.8 323.0h.9v.9h-.9zM471.9 324.4h.9v.9h-.9zM468.6 324.6h.9v.9h-.9zM472.3 325.7h.9v.9h-.9zM469.7 324.1h.9v.9h-.9zM467.9 323.8h.9v.9h-.9zM468.3 324.2h.9v.9h-.9zM481.6 322.1h.9v.9h-.9zM484.6 322.8h.9v.9h-.9zM484.9 320.7h.9v.9h-.9zM484.8 323.3h.9v.9h-.9zM483.0 322.6h.9v.9h-.9zM484.3 321.6h.9v.9h-.9zM480.0 322.3h.9v.9h-.9zM478.6 322.4h.9v.9h-.9zM480.8 326.6h.9v.9h-.9zM484.1 323.4h.9v.9h-.9zM477.1 325.7h.9v.9h-.9zM483.6 320.9h.9v.9h-.9zM484.3 321.7h.9v.9h-.9zM484.7 322.9h.9v.9h-.9zM484.1 324.0h.9v.9h-.9zM478.9 324.4h.9v.9h-.9zM480.8 325.3h.9v.9h-.9zM484.3 321.7h.9v.9h-.9zM479.2 322.8h.9v.9h-.9zM481.5 322.0h.9v.9h-.9zM481.1 326.3h.9v.9h-.9zM478.9 327.5h.9v.9h-.9zM482.3 322.1h.9v.9h-.9zM481.1 322.0h.9v.9h-.9zM482.7 322.7h.9v.9h-.9zM484.3 324.9h.9v.9h-.9zM480.9 327.1h.9v.9h-.9zM477.8 326.5h.9v.9h-.9zM483.7 323.4h.9v.9h-.9zM479.2 327.0h.9v.9h-.9zM483.6 324.9h.9v.9h-.9zM482.5 324.9h.9v.9h-.9zM482.4 324.2h.9v.9h-.9zM478.4 322.5h.9v.9h-.9zM485.1 322.9h.9v.9h-.9zM477.8 322.2h.9v.9h-.9zM480.1 322.5h.9v.9h-.9zM481.3 327.1h.9v.9h-.9zM478.2 327.3h.9v.9h-.9zM481.1 321.3h.9v.9h-.9zM484.8 324.3h.9v.9h-.9zM477.5 324.4h.9v.9h-.9zM480.8 327.1h.9v.9h-.9zM477.4 326.5h.9v.9h-.9zM484.2 323.7h.9v.9h-.9zM477.5 325.6h.9v.9h-.9zM480.9 321.8h.9v.9h-.9zM480.8 326.3h.9v.9h-.9zM484.0 322.6h.9v.9h-.9zM484.7 323.6h.9v.9h-.9zM477.8 323.0h.9v.9h-.9zM482.2 324.8h.9v.9h-.9zM485.0 321.7h.9v.9h-.9zM478.5 323.1h.9v.9h-.9zM477.3 325.4h.9v.9h-.9zM477.4 325.7h.9v.9h-.9zM484.7 323.1h.9v.9h-.9zM485.0 324.5h.9v.9h-.9zM484.3 321.9h.9v.9h-.9zM478.5 323.1h.9v.9h-.9zM479.2 327.1h.9v.9h-.9zM469.0 323.3h.9v.9h-.9zM484.8 323.6h.9v.9h-.9zM485.0 324.3h.9v.9h-.9zM479.7 325.1h.9v.9h-.9zM483.7 322.1h.9v.9h-.9zM471.4 323.5h.9v.9h-.9zM468.2 324.5h.9v.9h-.9zM469.3 324.2h.9v.9h-.9zM477.8 323.3h.9v.9h-.9zM476.3 325.8h.9v.9h-.9zM469.9 322.8h.9v.9h-.9zM471.8 324.9h.9v.9h-.9zM484.3 322.5h.9v.9h-.9zM482.4 326.0h.9v.9h-.9zM479.6 322.7h.9v.9h-.9zM483.7 324.7h.9v.9h-.9zM469.2 324.5h.9v.9h-.9zM470.1 323.7h.9v.9h-.9zM483.8 323.8h.9v.9h-.9zM483.1 325.4h.9v.9h-.9zM482.7 324.9h.9v.9h-.9zM485.1 323.4h.9v.9h-.9zM477.0 326.2h.9v.9h-.9zM477.2 325.0h.9v.9h-.9zM481.9 324.7h.9v.9h-.9zM471.8 324.9h.9v.9h-.9zM480.6 325.2h.9v.9h-.9zM476.5 325.5h.9v.9h-.9zM481.6 324.9h.9v.9h-.9zM485.8 321.6h.9v.9h-.9zM481.2 321.7h.9v.9h-.9zM469.9 324.4h.9v.9h-.9zM477.6 326.0h.9v.9h-.9zM479.4 322.9h.9v.9h-.9zM478.8 322.5h.9v.9h-.9zM485.7 322.2h.9v.9h-.9zM473.6 323.5h.9v.9h-.9z" fill="#4f8690" opacity="0.9"/>
<path d="M470.9 323.7h.9v.9h-.9zM481.0 324.1h.9v.9h-.9zM480.5 321.9h.9v.9h-.9zM482.9 321.4h.9v.9h-.9zM480.9 324.8h.9v.9h-.9zM477.3 324.5h.9v.9h-.9zM478.6 325.8h.9v.9h-.9zM481.1 326.4h.9v.9h-.9zM479.0 326.2h.9v.9h-.9zM480.8 326.6h.9v.9h-.9zM481.2 324.1h.9v.9h-.9zM477.9 324.9h.9v.9h-.9zM477.5 324.6h.9v.9h-.9zM479.6 326.9h.9v.9h-.9zM480.4 327.0h.9v.9h-.9zM478.7 323.9h.9v.9h-.9zM484.5 322.4h.9v.9h-.9zM481.5 324.8h.9v.9h-.9zM478.0 326.6h.9v.9h-.9zM478.8 322.8h.9v.9h-.9zM478.4 326.6h.9v.9h-.9zM479.2 324.1h.9v.9h-.9zM479.1 326.1h.9v.9h-.9zM484.0 324.0h.9v.9h-.9zM482.9 324.6h.9v.9h-.9zM480.2 322.8h.9v.9h-.9zM478.8 323.8h.9v.9h-.9zM481.5 326.1h.9v.9h-.9zM480.4 322.8h.9v.9h-.9zM481.7 325.5h.9v.9h-.9zM482.8 325.5h.9v.9h-.9zM479.7 326.5h.9v.9h-.9zM480.2 327.0h.9v.9h-.9zM484.1 321.6h.9v.9h-.9zM481.2 325.5h.9v.9h-.9zM482.0 322.0h.9v.9h-.9zM480.2 325.0h.9v.9h-.9zM484.2 323.6h.9v.9h-.9zM483.8 323.0h.9v.9h-.9zM483.1 323.7h.9v.9h-.9zM481.6 321.9h.9v.9h-.9zM483.2 324.1h.9v.9h-.9zM480.5 322.7h.9v.9h-.9zM484.1 322.0h.9v.9h-.9zM479.1 323.6h.9v.9h-.9zM482.9 322.7h.9v.9h-.9zM479.2 324.4h.9v.9h-.9z" fill="#96b85c" opacity="0.95"/>
<path d="M480.2 323.6h.9v.9h-.9zM478.8 324.7h.9v.9h-.9zM479.6 326.8h.9v.9h-.9zM480.0 326.5h.9v.9h-.9zM484.0 321.9h.9v.9h-.9zM478.9 322.7h.9v.9h-.9zM482.9 321.9h.9v.9h-.9zM479.5 326.6h.9v.9h-.9zM484.0 322.3h.9v.9h-.9zM478.1 323.8h.9v.9h-.9zM477.8 323.5h.9v.9h-.9zM484.1 321.8h.9v.9h-.9zM483.9 323.4h.9v.9h-.9zM479.4 325.4h.9v.9h-.9zM481.3 324.6h.9v.9h-.9zM482.2 321.4h.9v.9h-.9zM479.3 324.5h.9v.9h-.9zM482.4 323.5h.9v.9h-.9zM478.1 325.8h.9v.9h-.9zM482.2 322.9h.9v.9h-.9zM481.5 322.9h.9v.9h-.9zM483.4 321.3h.9v.9h-.9zM480.7 326.5h.9v.9h-.9z" fill="#d4c448" opacity="1"/>
<path d="M480.3 324.3h.9v.9h-.9zM478.5 323.9h.9v.9h-.9zM478.5 323.9h.9v.9h-.9zM480.0 326.3h.9v.9h-.9zM481.7 322.4h.9v.9h-.9zM483.7 323.4h.9v.9h-.9zM479.6 325.3h.9v.9h-.9zM481.2 325.6h.9v.9h-.9zM480.2 324.2h.9v.9h-.9zM479.3 324.1h.9v.9h-.9zM480.4 324.4h.9v.9h-.9zM479.7 325.5h.9v.9h-.9zM480.8 326.2h.9v.9h-.9zM480.8 325.7h.9v.9h-.9zM481.0 325.4h.9v.9h-.9zM477.3 326.0h.9v.9h-.9zM482.8 323.3h.9v.9h-.9zM479.6 325.6h.9v.9h-.9zM480.3 326.1h.9v.9h-.9zM480.5 325.3h.9v.9h-.9zM482.6 324.4h.9v.9h-.9zM479.9 325.8h.9v.9h-.9zM481.1 325.3h.9v.9h-.9zM481.0 324.0h.9v.9h-.9zM480.3 324.4h.9v.9h-.9zM481.5 323.0h.9v.9h-.9zM482.1 325.4h.9v.9h-.9zM479.3 323.9h.9v.9h-.9zM479.2 326.5h.9v.9h-.9zM483.7 322.5h.9v.9h-.9zM480.3 325.7h.9v.9h-.9zM483.0 323.8h.9v.9h-.9zM481.4 323.9h.9v.9h-.9zM479.0 324.8h.9v.9h-.9zM481.0 322.1h.9v.9h-.9zM480.2 325.3h.9v.9h-.9zM483.5 322.8h.9v.9h-.9zM481.3 324.6h.9v.9h-.9zM481.0 322.5h.9v.9h-.9zM481.9 323.6h.9v.9h-.9zM480.3 323.3h.9v.9h-.9zM480.6 323.1h.9v.9h-.9zM477.9 325.3h.9v.9h-.9z" fill="#e0a03c" opacity="1"/>
<polyline points="470.5,331.6 503.5,331.6 503.5,306.5" fill="none" stroke="#9a9a9a" stroke-width="0.9"/>
<polyline points="470.5,331.6 485.1,306.5 503.5,306.5 503.5,320" fill="none" stroke="#444" stroke-width="0.8"/>
<text x="493.80" y="303.40" font-size="7.9" text-anchor="middle">66.7%</text>
<rect x="447.50" y="265.6" width="66.2" height="67.80" fill="none" stroke="#231f20" stroke-width="1"/>
<line x1="444.20" y1="333.40" x2="447.50" y2="333.40" stroke="#231f20" stroke-width="0.8"/>
<text x="441.50" y="336.50" font-size="8.0" text-anchor="end">0</text>
<line x1="445.80" y1="330.76" x2="447.50" y2="330.76" stroke="#231f20" stroke-width="0.6"/>
<line x1="445.80" y1="328.12" x2="447.50" y2="328.12" stroke="#231f20" stroke-width="0.6"/>
<line x1="445.80" y1="325.48" x2="447.50" y2="325.48" stroke="#231f20" stroke-width="0.6"/>
<line x1="445.80" y1="322.84" x2="447.50" y2="322.84" stroke="#231f20" stroke-width="0.6"/>
<line x1="444.20" y1="320.20" x2="447.50" y2="320.20" stroke="#231f20" stroke-width="0.8"/>
<text x="441.50" y="323.30" font-size="8.0" text-anchor="end">50K</text>
<line x1="445.80" y1="317.56" x2="447.50" y2="317.56" stroke="#231f20" stroke-width="0.6"/>
<line x1="445.80" y1="314.92" x2="447.50" y2="314.92" stroke="#231f20" stroke-width="0.6"/>
<line x1="445.80" y1="312.28" x2="447.50" y2="312.28" stroke="#231f20" stroke-width="0.6"/>
<line x1="445.80" y1="309.64" x2="447.50" y2="309.64" stroke="#231f20" stroke-width="0.6"/>
<line x1="444.20" y1="307.00" x2="447.50" y2="307.00" stroke="#231f20" stroke-width="0.8"/>
<text x="441.50" y="310.10" font-size="8.0" text-anchor="end">100K</text>
<line x1="445.80" y1="304.36" x2="447.50" y2="304.36" stroke="#231f20" stroke-width="0.6"/>
<line x1="445.80" y1="301.72" x2="447.50" y2="301.72" stroke="#231f20" stroke-width="0.6"/>
<line x1="445.80" y1="299.08" x2="447.50" y2="299.08" stroke="#231f20" stroke-width="0.6"/>
<line x1="445.80" y1="296.44" x2="447.50" y2="296.44" stroke="#231f20" stroke-width="0.6"/>
<line x1="444.20" y1="293.80" x2="447.50" y2="293.80" stroke="#231f20" stroke-width="0.8"/>
<text x="441.50" y="296.90" font-size="8.0" text-anchor="end">150K</text>
<line x1="445.80" y1="291.16" x2="447.50" y2="291.16" stroke="#231f20" stroke-width="0.6"/>
<line x1="445.80" y1="288.52" x2="447.50" y2="288.52" stroke="#231f20" stroke-width="0.6"/>
<line x1="445.80" y1="285.88" x2="447.50" y2="285.88" stroke="#231f20" stroke-width="0.6"/>
<line x1="445.80" y1="283.24" x2="447.50" y2="283.24" stroke="#231f20" stroke-width="0.6"/>
<line x1="444.20" y1="280.60" x2="447.50" y2="280.60" stroke="#231f20" stroke-width="0.8"/>
<text x="441.50" y="283.70" font-size="8.0" text-anchor="end">200K</text>
<line x1="445.80" y1="277.96" x2="447.50" y2="277.96" stroke="#231f20" stroke-width="0.6"/>
<line x1="445.80" y1="275.32" x2="447.50" y2="275.32" stroke="#231f20" stroke-width="0.6"/>
<line x1="445.80" y1="272.68" x2="447.50" y2="272.68" stroke="#231f20" stroke-width="0.6"/>
<line x1="445.80" y1="270.04" x2="447.50" y2="270.04" stroke="#231f20" stroke-width="0.6"/>
<line x1="444.20" y1="267.40" x2="447.50" y2="267.40" stroke="#231f20" stroke-width="0.8"/>
<text x="441.50" y="270.50" font-size="8.0" text-anchor="end">250K</text>
<line x1="455.20" y1="333.40" x2="455.20" y2="335.90" stroke="#231f20" stroke-width="0.8"/>
<line x1="459.20" y1="333.40" x2="459.20" y2="335.10" stroke="#231f20" stroke-width="0.6"/>
<line x1="461.55" y1="333.40" x2="461.55" y2="335.10" stroke="#231f20" stroke-width="0.6"/>
<line x1="463.21" y1="333.40" x2="463.21" y2="335.10" stroke="#231f20" stroke-width="0.6"/>
<line x1="464.50" y1="333.40" x2="464.50" y2="335.10" stroke="#231f20" stroke-width="0.6"/>
<line x1="465.55" y1="333.40" x2="465.55" y2="335.10" stroke="#231f20" stroke-width="0.6"/>
<line x1="466.44" y1="333.40" x2="466.44" y2="335.10" stroke="#231f20" stroke-width="0.6"/>
<line x1="467.21" y1="333.40" x2="467.21" y2="335.10" stroke="#231f20" stroke-width="0.6"/>
<line x1="467.89" y1="333.40" x2="467.89" y2="335.10" stroke="#231f20" stroke-width="0.6"/>
<text x="453.60" y="345.6" font-size="7.9" text-anchor="middle">10<tspan font-size="5.6" dy="-2.9" style="stroke-width:0.08px">1</tspan></text>
<line x1="468.50" y1="333.40" x2="468.50" y2="335.90" stroke="#231f20" stroke-width="0.8"/>
<line x1="472.50" y1="333.40" x2="472.50" y2="335.10" stroke="#231f20" stroke-width="0.6"/>
<line x1="474.85" y1="333.40" x2="474.85" y2="335.10" stroke="#231f20" stroke-width="0.6"/>
<line x1="476.51" y1="333.40" x2="476.51" y2="335.10" stroke="#231f20" stroke-width="0.6"/>
<line x1="477.80" y1="333.40" x2="477.80" y2="335.10" stroke="#231f20" stroke-width="0.6"/>
<line x1="478.85" y1="333.40" x2="478.85" y2="335.10" stroke="#231f20" stroke-width="0.6"/>
<line x1="479.74" y1="333.40" x2="479.74" y2="335.10" stroke="#231f20" stroke-width="0.6"/>
<line x1="480.51" y1="333.40" x2="480.51" y2="335.10" stroke="#231f20" stroke-width="0.6"/>
<line x1="481.19" y1="333.40" x2="481.19" y2="335.10" stroke="#231f20" stroke-width="0.6"/>
<text x="466.90" y="345.6" font-size="7.9" text-anchor="middle">10<tspan font-size="5.6" dy="-2.9" style="stroke-width:0.08px">2</tspan></text>
<line x1="481.80" y1="333.40" x2="481.80" y2="335.90" stroke="#231f20" stroke-width="0.8"/>
<line x1="485.80" y1="333.40" x2="485.80" y2="335.10" stroke="#231f20" stroke-width="0.6"/>
<line x1="488.15" y1="333.40" x2="488.15" y2="335.10" stroke="#231f20" stroke-width="0.6"/>
<line x1="489.81" y1="333.40" x2="489.81" y2="335.10" stroke="#231f20" stroke-width="0.6"/>
<line x1="491.10" y1="333.40" x2="491.10" y2="335.10" stroke="#231f20" stroke-width="0.6"/>
<line x1="492.15" y1="333.40" x2="492.15" y2="335.10" stroke="#231f20" stroke-width="0.6"/>
<line x1="493.04" y1="333.40" x2="493.04" y2="335.10" stroke="#231f20" stroke-width="0.6"/>
<line x1="493.81" y1="333.40" x2="493.81" y2="335.10" stroke="#231f20" stroke-width="0.6"/>
<line x1="494.49" y1="333.40" x2="494.49" y2="335.10" stroke="#231f20" stroke-width="0.6"/>
<text x="480.20" y="345.6" font-size="7.9" text-anchor="middle">10<tspan font-size="5.6" dy="-2.9" style="stroke-width:0.08px">3</tspan></text>
<line x1="495.10" y1="333.40" x2="495.10" y2="335.90" stroke="#231f20" stroke-width="0.8"/>
<line x1="499.10" y1="333.40" x2="499.10" y2="335.10" stroke="#231f20" stroke-width="0.6"/>
<line x1="501.45" y1="333.40" x2="501.45" y2="335.10" stroke="#231f20" stroke-width="0.6"/>
<line x1="503.11" y1="333.40" x2="503.11" y2="335.10" stroke="#231f20" stroke-width="0.6"/>
<line x1="504.40" y1="333.40" x2="504.40" y2="335.10" stroke="#231f20" stroke-width="0.6"/>
<line x1="505.45" y1="333.40" x2="505.45" y2="335.10" stroke="#231f20" stroke-width="0.6"/>
<line x1="506.34" y1="333.40" x2="506.34" y2="335.10" stroke="#231f20" stroke-width="0.6"/>
<line x1="507.11" y1="333.40" x2="507.11" y2="335.10" stroke="#231f20" stroke-width="0.6"/>
<line x1="507.79" y1="333.40" x2="507.79" y2="335.10" stroke="#231f20" stroke-width="0.6"/>
<text x="493.50" y="345.6" font-size="7.9" text-anchor="middle">10<tspan font-size="5.6" dy="-2.9" style="stroke-width:0.08px">4</tspan></text>
<line x1="508.40" y1="333.40" x2="508.40" y2="335.90" stroke="#231f20" stroke-width="0.8"/>
<line x1="512.40" y1="333.40" x2="512.40" y2="335.10" stroke="#231f20" stroke-width="0.6"/>
<text x="506.80" y="345.6" font-size="7.9" text-anchor="middle">10<tspan font-size="5.6" dy="-2.9" style="stroke-width:0.08px">5</tspan></text>
<path d="M17.8 347 L17.8 322" stroke="#000" stroke-width="1.1" fill="none"/>
<path d="M15.3 323.5 L17.8 318.8 L20.3 323.5 Z" fill="#000"/>
<path d="M17.3 347 L37 347" stroke="#000" stroke-width="1.1" fill="none"/>
<path d="M36 344.5 L40.5 347 L36 349.5 Z" fill="#000"/>
<text x="13.8" y="333" font-size="7.7" text-anchor="middle" transform="rotate(-90 13.8 333)">SSC-A</text>
<text x="24.80" y="356.40" font-size="7.7" text-anchor="middle">HbF</text>
<text x="380.90" y="357.50" font-size="7.9" text-anchor="middle">APC-A</text>
<text x="70.90" y="409.90" font-size="7.8" text-anchor="middle">WT</text>
<path d="M32.40 476.10 L32.53 476.10 L32.66 476.10 L32.79 476.10 L32.91 476.10 L33.04 476.10 L33.17 476.10 L33.30 476.10 L33.43 476.10 L33.56 476.10 L33.69 476.10 L33.81 476.10 L33.94 476.10 L34.07 476.10 L34.20 476.10 L34.33 476.10 L34.46 476.10 L34.59 476.10 L34.71 476.10 L34.84 476.10 L34.97 476.10 L35.10 476.10 L35.23 476.10 L35.36 476.10 L35.49 476.10 L35.61 476.10 L35.74 476.10 L35.87 476.10 L36.00 476.10 L36.13 476.10 L36.26 476.10 L36.38 476.10 L36.51 476.10 L36.64 476.10 L36.77 476.10 L36.90 476.10 L37.03 476.10 L37.16 476.10 L37.28 476.10 L37.41 476.10 L37.54 476.10 L37.67 476.10 L37.80 476.10 L37.93 476.10 L38.06 476.10 L38.18 476.10 L38.31 476.10 L38.44 476.10 L38.57 476.10 L38.70 476.10 L38.83 476.10 L38.96 476.10 L39.08 476.10 L39.21 476.10 L39.34 476.10 L39.47 476.10 L39.60 476.10 L39.73 476.10 L39.86 476.10 L39.98 476.10 L40.11 476.10 L40.24 476.10 L40.37 476.10 L40.50 476.10 L40.63 476.10 L40.76 476.10 L40.88 476.10 L41.01 476.10 L41.14 476.10 L41.27 476.10 L41.40 476.10 L41.53 476.10 L41.66 476.10 L41.78 476.10 L41.91 476.10 L42.04 476.10 L42.17 476.10 L42.30 476.10 L42.43 476.10 L42.56 476.10 L42.68 476.10 L42.81 476.10 L42.94 476.10 L43.07 476.10 L43.20 476.10 L43.33 476.10 L43.46 476.10 L43.58 476.10 L43.71 476.10 L43.84 476.10 L43.97 476.10 L44.10 476.10 L44.23 476.10 L44.35 476.10 L44.48 476.10 L44.61 476.10 L44.74 476.10 L44.87 476.10 L45.00 476.10 L45.13 476.10 L45.25 476.10 L45.38 476.10 L45.51 476.10 L45.64 476.10 L45.77 476.10 L45.90 476.10 L46.03 476.10 L46.15 476.10 L46.28 476.10 L46.41 476.10 L46.54 476.10 L46.67 476.09 L46.80 476.09 L46.93 476.09 L47.05 476.09 L47.18 476.09 L47.31 476.09 L47.44 476.09 L47.57 476.09 L47.70 476.09 L47.83 476.09 L47.95 476.09 L48.08 476.09 L48.21 476.09 L48.34 476.09 L48.47 476.08 L48.60 476.08 L48.73 476.08 L48.85 476.08 L48.98 476.07 L49.11 476.07 L49.24 476.06 L49.37 476.06 L49.50 476.04 L49.63 475.99 L49.75 475.88 L49.88 475.62 L50.01 475.09 L50.14 474.13 L50.27 472.64 L50.40 470.67 L50.53 468.53 L50.65 466.73 L50.78 465.80 L50.91 465.81 L51.04 466.16 L51.17 466.78 L51.30 467.61 L51.43 468.58 L51.55 469.62 L51.68 470.67 L51.81 471.66 L51.94 472.55 L52.07 473.31 L52.20 473.93 L52.32 474.42 L52.45 474.79 L52.58 475.05 L52.71 475.22 L52.84 475.33 L52.97 475.39 L53.10 475.42 L53.22 475.42 L53.35 475.41 L53.48 475.39 L53.61 475.37 L53.74 475.34 L53.87 475.31 L54.00 475.27 L54.12 475.24 L54.25 475.21 L54.38 475.19 L54.51 475.16 L54.64 475.13 L54.77 475.11 L54.90 475.09 L55.02 475.07 L55.15 475.05 L55.28 475.04 L55.41 475.03 L55.54 475.01 L55.67 475.00 L55.80 475.00 L55.92 474.99 L56.05 474.98 L56.18 474.97 L56.31 474.95 L56.44 474.94 L56.57 474.91 L56.70 474.88 L56.82 474.84 L56.95 474.79 L57.08 474.72 L57.21 474.63 L57.34 474.53 L57.47 474.40 L57.60 474.26 L57.72 474.09 L57.85 473.89 L57.98 473.67 L58.11 473.44 L58.24 473.18 L58.37 472.90 L58.50 472.62 L58.62 472.33 L58.75 472.04 L58.88 471.76 L59.01 471.50 L59.14 471.27 L59.27 471.06 L59.39 470.90 L59.52 470.78 L59.65 470.71 L59.78 470.70 L59.91 470.76 L60.04 470.97 L60.17 471.32 L60.29 471.76 L60.42 472.28 L60.55 472.83 L60.68 473.38 L60.81 473.90 L60.94 474.36 L61.07 474.77 L61.19 475.10 L61.32 475.37 L61.45 475.57 L61.58 475.72 L61.71 475.83 L61.84 475.90 L61.97 475.95 L62.09 475.98 L62.22 475.99 L62.35 475.98 L62.48 475.96 L62.61 475.92 L62.74 475.85 L62.87 475.75 L62.99 475.61 L63.12 475.39 L63.25 475.09 L63.38 474.67 L63.51 474.10 L63.64 473.33 L63.77 472.32 L63.89 471.03 L64.02 469.40 L64.15 467.39 L64.28 464.96 L64.41 462.07 L64.54 458.74 L64.67 454.97 L64.79 450.80 L64.92 446.32 L65.05 441.63 L65.18 436.87 L65.31 432.20 L65.44 427.80 L65.57 423.85 L65.69 420.52 L65.82 417.96 L65.95 416.31 L66.08 415.64 L66.21 415.82 L66.34 416.58 L66.47 417.90 L66.59 419.74 L66.72 422.05 L66.85 424.75 L66.98 427.78 L67.11 431.06 L67.24 434.50 L67.36 438.03 L67.49 441.57 L67.62 445.06 L67.75 448.43 L67.88 451.63 L68.01 454.63 L68.14 457.39 L68.26 459.89 L68.39 462.13 L68.52 464.11 L68.65 465.84 L68.78 467.31 L68.91 468.57 L69.04 469.61 L69.16 470.47 L69.29 471.16 L69.42 471.72 L69.55 472.15 L69.68 472.48 L69.81 472.73 L69.94 472.92 L70.06 473.04 L70.19 473.13 L70.32 473.18 L70.45 473.21 L70.58 473.22 L70.71 473.22 L70.84 473.21 L70.96 473.20 L71.09 473.19 L71.22 473.17 L71.35 473.16 L71.48 473.15 L71.61 473.14 L71.74 473.14 L71.86 473.14 L71.99 473.14 L72.12 473.14 L72.25 473.15 L72.38 473.16 L72.51 473.17 L72.64 473.18 L72.76 473.19 L72.89 473.21 L73.02 473.23 L73.15 473.24 L73.28 473.27 L73.41 473.29 L73.54 473.31 L73.66 473.34 L73.79 473.37 L73.92 473.40 L74.05 473.43 L74.18 473.46 L74.31 473.49 L74.44 473.53 L74.56 473.56 L74.69 473.60 L74.82 473.64 L74.95 473.68 L75.08 473.72 L75.21 473.76 L75.33 473.80 L75.46 473.84 L75.59 473.89 L75.72 473.93 L75.85 473.98 L75.98 474.02 L76.11 474.07 L76.23 474.12 L76.36 474.16 L76.49 474.21 L76.62 474.25 L76.75 474.30 L76.88 474.35 L77.01 474.39 L77.13 474.44 L77.26 474.49 L77.39 474.53 L77.52 474.58 L77.65 474.63 L77.78 474.67 L77.91 474.72 L78.03 474.76 L78.16 474.80 L78.29 474.85 L78.42 474.89 L78.55 474.93 L78.68 474.97 L78.81 475.01 L78.93 475.05 L79.06 475.09 L79.19 475.13 L79.32 475.17 L79.45 475.20 L79.58 475.24 L79.71 475.27 L79.83 475.31 L79.96 475.34 L80.09 475.37 L80.22 475.40 L80.35 475.43 L80.48 475.46 L80.61 475.49 L80.73 475.52 L80.86 475.55 L80.99 475.57 L81.12 475.60 L81.25 475.62 L81.38 475.64 L81.51 475.67 L81.63 475.69 L81.76 475.71 L81.89 475.73 L82.02 475.75 L82.15 475.77 L82.28 475.78 L82.41 475.80 L82.53 475.82 L82.66 475.83 L82.79 475.85 L82.92 475.86 L83.05 475.87 L83.18 475.89 L83.30 475.90 L83.43 475.91 L83.56 475.92 L83.69 475.93 L83.82 475.94 L83.95 475.95 L84.08 475.96 L84.20 475.97 L84.33 475.98 L84.46 475.99 L84.59 475.99 L84.72 476.00 L84.85 476.01 L84.98 476.01 L85.10 476.02 L85.23 476.02 L85.36 476.03 L85.49 476.03 L85.62 476.04 L85.75 476.04 L85.88 476.05 L86.00 476.05 L86.13 476.05 L86.26 476.06 L86.39 476.06 L86.52 476.06 L86.65 476.06 L86.78 476.07 L86.90 476.07 L87.03 476.07 L87.16 476.07 L87.29 476.07 L87.42 476.08 L87.55 476.08 L87.68 476.08 L87.80 476.08 L87.93 476.08 L88.06 476.08 L88.19 476.08 L88.32 476.09 L88.45 476.09 L88.58 476.09 L88.70 476.09 L88.83 476.09 L88.96 476.09 L89.09 476.09 L89.22 476.09 L89.35 476.09 L89.48 476.09 L89.60 476.09 L89.73 476.09 L89.86 476.09 L89.99 476.09 L90.12 476.09 L90.25 476.09 L90.37 476.09 L90.50 476.09 L90.63 476.09 L90.76 476.09 L90.89 476.09 L91.02 476.09 L91.15 476.09 L91.27 476.09 L91.40 476.09 L91.53 476.10 L91.66 476.10 L91.79 476.10 L91.92 476.10 L92.05 476.10 L92.17 476.10 L92.30 476.10 L92.43 476.10 L92.56 476.10 L92.69 476.10 L92.82 476.10 L92.95 476.10 L93.07 476.10 L93.20 476.10 L93.33 476.10 L93.46 476.10 L93.59 476.10 L93.72 476.10 L93.85 476.10 L93.97 476.10 L94.10 476.10 L94.23 476.10 L94.36 476.10 L94.49 476.10 L94.62 476.10 L94.75 476.10 L94.87 476.10 L95.00 476.10 L95.13 476.10 L95.26 476.10 L95.39 476.10 L95.52 476.10 L95.65 476.10 L95.77 476.10 L95.90 476.10 L96.03 476.10 L96.16 476.10 L96.29 476.10 L96.42 476.10 L96.55 476.10 L96.67 476.10 L96.80 476.10 L96.93 476.10 L97.06 476.10 L97.19 476.10 L97.32 476.10 L97.45 476.10 L97.57 476.10 L97.70 476.10 L97.83 476.10 L97.96 476.10 L98.09 476.10 L98.22 476.10 L98.34 476.10 L98.47 476.10 L98.60 476.10 L98.73 476.10 L98.86 476.10 L98.99 476.10 L99.12 476.10 L99.24 476.10 L99.37 476.10 L99.50 476.10 L99.63 476.10 L99.76 476.10 L99.89 476.10 L100.02 476.10 L100.14 476.10 L100.27 476.10 L100.40 476.10 L100.53 476.10 L100.66 476.10 L100.79 476.10 L100.92 476.10 L101.04 476.10 L101.17 476.10 L101.30 476.10 L101.43 476.10 L101.56 476.10 L101.69 476.10 L101.82 476.10 L101.94 476.10 L102.07 476.10 L102.20 476.10 L102.33 476.10 L102.46 476.10 L102.59 476.10 L102.72 476.10 L102.84 476.10 L102.97 476.10 L103.10 476.10 L103.23 476.10 L103.36 476.10 L103.49 476.10 L103.62 476.10 L103.74 476.10 L103.87 476.10 L104.00 476.10 L104.13 476.10 L104.26 476.10 L104.39 476.10 L104.52 476.10 L104.64 476.10 L104.77 476.10 L104.90 476.10 L105.03 476.10 L105.16 476.10 L105.29 476.10 L105.42 476.10 L105.54 476.10 L105.67 476.10 L105.80 476.10 L105.93 476.10 L106.06 476.10 L106.19 476.10 L106.31 476.10 L106.44 476.10 L106.57 476.10 L106.70 476.10 L106.83 476.10 L106.96 476.10 L107.09 476.10 L107.21 476.10 L107.34 476.10 L107.47 476.10 L107.60 476.10 L107.73 476.10 L107.86 476.10 L107.99 476.10 L108.11 476.10 L108.24 476.10 L108.37 476.10 L108.50 476.10 L108.63 476.10 L108.76 476.10 L108.89 476.10 L109.01 476.10 L109.14 476.10 L109.27 476.10 L109.40 476.10" fill="none" stroke="#c8183c" stroke-width="1.35" stroke-linejoin="round"/>
<line x1="51.19" y1="480.80" x2="51.19" y2="476.8" stroke="#333" stroke-width="0.75"/>
<path d="M49.74 477.7 L51.19 474.9 L52.64 477.7 L51.19 477.1 Z" fill="#000"/>
<line x1="65.97" y1="480.80" x2="65.97" y2="476.8" stroke="#333" stroke-width="0.75"/>
<path d="M64.52 477.7 L65.97 474.9 L67.42 477.7 L65.97 477.1 Z" fill="#000"/>
<text x="51.25" y="454.80" font-size="7.0" textLength="12" lengthAdjust="spacingAndGlyphs" transform="rotate(-52 51.25 454.80)">HbF</text>
<text x="73.05" y="454.60" font-size="7.0" textLength="12.6" lengthAdjust="spacingAndGlyphs" transform="rotate(-52 73.05 454.60)">HbA</text>
<rect x="32.40" y="413.6" width="77.0" height="67.20" fill="none" stroke="#231f20" stroke-width="1"/>
<line x1="29.90" y1="480.80" x2="32.40" y2="480.80" stroke="#231f20" stroke-width="0.8"/>
<text x="26.80" y="483.30" font-size="7.9" text-anchor="end">0</text>
<line x1="29.90" y1="467.36" x2="32.40" y2="467.36" stroke="#231f20" stroke-width="0.8"/>
<text x="26.80" y="469.86" font-size="7.9" text-anchor="end">5</text>
<line x1="29.90" y1="453.92" x2="32.40" y2="453.92" stroke="#231f20" stroke-width="0.8"/>
<text x="26.80" y="456.42" font-size="7.9" text-anchor="end">10</text>
<line x1="29.90" y1="440.48" x2="32.40" y2="440.48" stroke="#231f20" stroke-width="0.8"/>
<text x="26.80" y="442.98" font-size="7.9" text-anchor="end">15</text>
<line x1="29.90" y1="427.04" x2="32.40" y2="427.04" stroke="#231f20" stroke-width="0.8"/>
<text x="26.80" y="429.54" font-size="7.9" text-anchor="end">20</text>
<line x1="29.90" y1="413.60" x2="32.40" y2="413.60" stroke="#231f20" stroke-width="0.8"/>
<text x="26.80" y="416.10" font-size="7.9" text-anchor="end">25</text>
<line x1="32.40" y1="480.80" x2="32.40" y2="483.60" stroke="#231f20" stroke-width="0.8"/>
<text x="32.40" y="492.90" font-size="7.9" text-anchor="middle">2.5</text>
<line x1="47.80" y1="480.80" x2="47.80" y2="483.60" stroke="#231f20" stroke-width="0.8"/>
<text x="47.80" y="492.90" font-size="7.9" text-anchor="middle">5.0</text>
<line x1="63.20" y1="480.80" x2="63.20" y2="483.60" stroke="#231f20" stroke-width="0.8"/>
<text x="63.20" y="492.90" font-size="7.9" text-anchor="middle">7.5</text>
<line x1="78.60" y1="480.80" x2="78.60" y2="483.60" stroke="#231f20" stroke-width="0.8"/>
<text x="78.60" y="492.90" font-size="7.9" text-anchor="middle">10</text>
<line x1="94.00" y1="480.80" x2="94.00" y2="483.60" stroke="#231f20" stroke-width="0.8"/>
<text x="94.00" y="492.90" font-size="7.9" text-anchor="middle">12.5</text>
<line x1="109.40" y1="480.80" x2="109.40" y2="483.60" stroke="#231f20" stroke-width="0.8"/>
<text x="109.40" y="492.90" font-size="7.9" text-anchor="middle">15</text>
<text x="170.60" y="400.00" font-size="7.8" text-anchor="middle">–118 to –114 <tspan font-style="italic">HBG</tspan></text>
<text x="170.60" y="409.90" font-size="7.8" text-anchor="middle">(+ve control)</text>
<path d="M132.10 476.26 L132.23 476.26 L132.36 476.26 L132.49 476.26 L132.61 476.26 L132.74 476.26 L132.87 476.26 L133.00 476.26 L133.13 476.26 L133.26 476.26 L133.39 476.26 L133.51 476.26 L133.64 476.26 L133.77 476.26 L133.90 476.26 L134.03 476.26 L134.16 476.26 L134.29 476.26 L134.41 476.26 L134.54 476.26 L134.67 476.26 L134.80 476.26 L134.93 476.26 L135.06 476.26 L135.19 476.26 L135.31 476.26 L135.44 476.26 L135.57 476.26 L135.70 476.26 L135.83 476.26 L135.96 476.26 L136.08 476.26 L136.21 476.26 L136.34 476.26 L136.47 476.26 L136.60 476.26 L136.73 476.26 L136.86 476.26 L136.98 476.26 L137.11 476.26 L137.24 476.26 L137.37 476.26 L137.50 476.26 L137.63 476.26 L137.76 476.26 L137.88 476.26 L138.01 476.26 L138.14 476.26 L138.27 476.26 L138.40 476.26 L138.53 476.26 L138.66 476.26 L138.78 476.26 L138.91 476.26 L139.04 476.26 L139.17 476.26 L139.30 476.26 L139.43 476.26 L139.56 476.26 L139.68 476.26 L139.81 476.26 L139.94 476.26 L140.07 476.26 L140.20 476.26 L140.33 476.26 L140.46 476.26 L140.58 476.26 L140.71 476.26 L140.84 476.26 L140.97 476.26 L141.10 476.26 L141.23 476.26 L141.36 476.26 L141.48 476.26 L141.61 476.26 L141.74 476.26 L141.87 476.26 L142.00 476.26 L142.13 476.26 L142.26 476.26 L142.38 476.26 L142.51 476.26 L142.64 476.26 L142.77 476.26 L142.90 476.26 L143.03 476.26 L143.16 476.26 L143.28 476.26 L143.41 476.26 L143.54 476.26 L143.67 476.26 L143.80 476.26 L143.93 476.26 L144.05 476.26 L144.18 476.26 L144.31 476.26 L144.44 476.26 L144.57 476.26 L144.70 476.26 L144.83 476.26 L144.95 476.26 L145.08 476.26 L145.21 476.26 L145.34 476.26 L145.47 476.26 L145.60 476.26 L145.73 476.26 L145.85 476.26 L145.98 476.26 L146.11 476.26 L146.24 476.26 L146.37 476.26 L146.50 476.26 L146.63 476.26 L146.75 476.26 L146.88 476.26 L147.01 476.26 L147.14 476.26 L147.27 476.26 L147.40 476.26 L147.53 476.26 L147.65 476.26 L147.78 476.26 L147.91 476.26 L148.04 476.26 L148.17 476.26 L148.30 476.26 L148.43 476.26 L148.55 476.26 L148.68 476.26 L148.81 476.26 L148.94 476.25 L149.07 476.22 L149.20 476.13 L149.33 475.91 L149.45 475.38 L149.58 474.26 L149.71 472.10 L149.84 468.35 L149.97 462.51 L150.10 454.40 L150.23 444.46 L150.35 433.92 L150.48 424.69 L150.61 418.80 L150.74 417.57 L150.87 419.53 L151.00 423.77 L151.13 429.75 L151.25 436.82 L151.38 444.23 L151.51 451.36 L151.64 457.73 L151.77 463.06 L151.90 467.25 L152.02 470.38 L152.15 472.58 L152.28 474.06 L152.41 475.00 L152.54 475.57 L152.67 475.90 L152.80 476.08 L152.92 476.18 L153.05 476.22 L153.18 476.25 L153.31 476.26 L153.44 476.26 L153.57 476.26 L153.70 476.26 L153.82 476.26 L153.95 476.26 L154.08 476.26 L154.21 476.26 L154.34 476.26 L154.47 476.26 L154.60 476.26 L154.72 476.26 L154.85 476.26 L154.98 476.26 L155.11 476.26 L155.24 476.26 L155.37 476.26 L155.50 476.26 L155.62 476.26 L155.75 476.26 L155.88 476.26 L156.01 476.26 L156.14 476.26 L156.27 476.26 L156.40 476.25 L156.52 476.25 L156.65 476.24 L156.78 476.23 L156.91 476.22 L157.04 476.20 L157.17 476.18 L157.30 476.16 L157.42 476.13 L157.55 476.09 L157.68 476.04 L157.81 475.99 L157.94 475.92 L158.07 475.84 L158.20 475.75 L158.32 475.65 L158.45 475.53 L158.58 475.40 L158.71 475.26 L158.84 475.11 L158.97 474.94 L159.09 474.78 L159.22 474.61 L159.35 474.44 L159.48 474.27 L159.61 474.12 L159.74 473.97 L159.87 473.85 L159.99 473.74 L160.12 473.66 L160.25 473.61 L160.38 473.58 L160.51 473.58 L160.64 473.61 L160.77 473.67 L160.89 473.76 L161.02 473.86 L161.15 473.99 L161.28 474.14 L161.41 474.29 L161.54 474.45 L161.67 474.62 L161.79 474.78 L161.92 474.93 L162.05 475.06 L162.18 475.18 L162.31 475.27 L162.44 475.33 L162.57 475.34 L162.69 475.30 L162.82 475.19 L162.95 475.00 L163.08 474.71 L163.21 474.30 L163.34 473.74 L163.47 473.02 L163.59 472.10 L163.72 470.97 L163.85 469.61 L163.98 468.00 L164.11 466.13 L164.24 464.02 L164.37 461.69 L164.49 459.17 L164.62 456.51 L164.75 453.77 L164.88 451.04 L165.01 448.39 L165.14 445.92 L165.27 443.73 L165.39 441.91 L165.52 440.52 L165.65 439.63 L165.78 439.28 L165.91 439.40 L166.04 439.85 L166.17 440.61 L166.29 441.67 L166.42 442.99 L166.55 444.54 L166.68 446.29 L166.81 448.19 L166.94 450.20 L167.06 452.27 L167.19 454.36 L167.32 456.44 L167.45 458.47 L167.58 460.41 L167.71 462.25 L167.84 463.96 L167.96 465.53 L168.09 466.95 L168.22 468.21 L168.35 469.32 L168.48 470.28 L168.61 471.10 L168.74 471.79 L168.86 472.35 L168.99 472.80 L169.12 473.15 L169.25 473.41 L169.38 473.60 L169.51 473.73 L169.64 473.80 L169.76 473.84 L169.89 473.83 L170.02 473.81 L170.15 473.76 L170.28 473.70 L170.41 473.63 L170.54 473.56 L170.66 473.49 L170.79 473.43 L170.92 473.37 L171.05 473.32 L171.18 473.28 L171.31 473.25 L171.44 473.24 L171.56 473.24 L171.69 473.24 L171.82 473.25 L171.95 473.26 L172.08 473.27 L172.21 473.29 L172.34 473.31 L172.46 473.34 L172.59 473.36 L172.72 473.39 L172.85 473.43 L172.98 473.47 L173.11 473.50 L173.24 473.55 L173.36 473.59 L173.49 473.64 L173.62 473.69 L173.75 473.74 L173.88 473.80 L174.01 473.85 L174.14 473.91 L174.26 473.97 L174.39 474.03 L174.52 474.09 L174.65 474.15 L174.78 474.21 L174.91 474.27 L175.03 474.34 L175.16 474.40 L175.29 474.47 L175.42 474.53 L175.55 474.59 L175.68 474.66 L175.81 474.72 L175.93 474.78 L176.06 474.84 L176.19 474.90 L176.32 474.96 L176.45 475.02 L176.58 475.08 L176.71 475.13 L176.83 475.19 L176.96 475.24 L177.09 475.29 L177.22 475.34 L177.35 475.39 L177.48 475.44 L177.61 475.48 L177.73 475.53 L177.86 475.57 L177.99 475.61 L178.12 475.65 L178.25 475.69 L178.38 475.72 L178.51 475.76 L178.63 475.79 L178.76 475.82 L178.89 475.85 L179.02 475.88 L179.15 475.90 L179.28 475.93 L179.41 475.95 L179.53 475.98 L179.66 476.00 L179.79 476.02 L179.92 476.03 L180.05 476.05 L180.18 476.07 L180.31 476.08 L180.43 476.10 L180.56 476.11 L180.69 476.12 L180.82 476.14 L180.95 476.15 L181.08 476.16 L181.21 476.17 L181.33 476.17 L181.46 476.18 L181.59 476.19 L181.72 476.20 L181.85 476.20 L181.98 476.21 L182.11 476.21 L182.23 476.22 L182.36 476.22 L182.49 476.23 L182.62 476.23 L182.75 476.23 L182.88 476.24 L183.00 476.24 L183.13 476.24 L183.26 476.24 L183.39 476.25 L183.52 476.25 L183.65 476.25 L183.78 476.25 L183.90 476.25 L184.03 476.25 L184.16 476.26 L184.29 476.26 L184.42 476.26 L184.55 476.26 L184.68 476.26 L184.80 476.26 L184.93 476.26 L185.06 476.26 L185.19 476.26 L185.32 476.26 L185.45 476.26 L185.58 476.26 L185.70 476.26 L185.83 476.26 L185.96 476.26 L186.09 476.26 L186.22 476.26 L186.35 476.26 L186.48 476.26 L186.60 476.26 L186.73 476.26 L186.86 476.26 L186.99 476.26 L187.12 476.26 L187.25 476.26 L187.38 476.26 L187.50 476.26 L187.63 476.26 L187.76 476.26 L187.89 476.26 L188.02 476.26 L188.15 476.26 L188.28 476.26 L188.40 476.26 L188.53 476.26 L188.66 476.26 L188.79 476.26 L188.92 476.26 L189.05 476.26 L189.18 476.26 L189.30 476.26 L189.43 476.26 L189.56 476.26 L189.69 476.26 L189.82 476.26 L189.95 476.26 L190.07 476.26 L190.20 476.26 L190.33 476.26 L190.46 476.26 L190.59 476.26 L190.72 476.26 L190.85 476.26 L190.97 476.26 L191.10 476.26 L191.23 476.26 L191.36 476.26 L191.49 476.26 L191.62 476.26 L191.75 476.26 L191.87 476.26 L192.00 476.26 L192.13 476.26 L192.26 476.26 L192.39 476.26 L192.52 476.26 L192.65 476.26 L192.77 476.26 L192.90 476.26 L193.03 476.26 L193.16 476.26 L193.29 476.26 L193.42 476.26 L193.55 476.26 L193.67 476.26 L193.80 476.26 L193.93 476.26 L194.06 476.26 L194.19 476.26 L194.32 476.26 L194.45 476.26 L194.57 476.26 L194.70 476.26 L194.83 476.26 L194.96 476.26 L195.09 476.26 L195.22 476.26 L195.35 476.26 L195.47 476.26 L195.60 476.26 L195.73 476.26 L195.86 476.26 L195.99 476.26 L196.12 476.26 L196.25 476.26 L196.37 476.26 L196.50 476.26 L196.63 476.26 L196.76 476.26 L196.89 476.26 L197.02 476.26 L197.15 476.26 L197.27 476.26 L197.40 476.26 L197.53 476.26 L197.66 476.26 L197.79 476.26 L197.92 476.26 L198.04 476.26 L198.17 476.26 L198.30 476.26 L198.43 476.26 L198.56 476.26 L198.69 476.26 L198.82 476.26 L198.94 476.26 L199.07 476.26 L199.20 476.26 L199.33 476.26 L199.46 476.26 L199.59 476.26 L199.72 476.26 L199.84 476.26 L199.97 476.26 L200.10 476.26 L200.23 476.26 L200.36 476.26 L200.49 476.26 L200.62 476.26 L200.74 476.26 L200.87 476.26 L201.00 476.26 L201.13 476.26 L201.26 476.26 L201.39 476.26 L201.52 476.26 L201.64 476.26 L201.77 476.26 L201.90 476.26 L202.03 476.26 L202.16 476.26 L202.29 476.26 L202.42 476.26 L202.54 476.26 L202.67 476.26 L202.80 476.26 L202.93 476.26 L203.06 476.26 L203.19 476.26 L203.32 476.26 L203.44 476.26 L203.57 476.26 L203.70 476.26 L203.83 476.26 L203.96 476.26 L204.09 476.26 L204.22 476.26 L204.34 476.26 L204.47 476.26 L204.60 476.26 L204.73 476.26 L204.86 476.26 L204.99 476.26 L205.12 476.26 L205.24 476.26 L205.37 476.26 L205.50 476.26 L205.63 476.26 L205.76 476.26 L205.89 476.26 L206.01 476.26 L206.14 476.26 L206.27 476.26 L206.40 476.26 L206.53 476.26 L206.66 476.26 L206.79 476.26 L206.91 476.26 L207.04 476.26 L207.17 476.26 L207.30 476.26 L207.43 476.26 L207.56 476.26 L207.69 476.26 L207.81 476.26 L207.94 476.26 L208.07 476.26 L208.20 476.26 L208.33 476.26 L208.46 476.26 L208.59 476.26 L208.71 476.26 L208.84 476.26 L208.97 476.26 L209.10 476.26" fill="none" stroke="#1d5a9a" stroke-width="1.35" stroke-linejoin="round"/>
<line x1="150.89" y1="480.80" x2="150.89" y2="476.8" stroke="#333" stroke-width="0.75"/>
<path d="M149.44 477.7 L150.89 474.9 L152.34 477.7 L150.89 477.1 Z" fill="#000"/>
<line x1="165.98" y1="480.80" x2="165.98" y2="476.8" stroke="#333" stroke-width="0.75"/>
<path d="M164.53 477.7 L165.98 474.9 L167.43 477.7 L165.98 477.1 Z" fill="#000"/>
<text x="143.75" y="454.70" font-size="7.0" textLength="12" lengthAdjust="spacingAndGlyphs" transform="rotate(-52 143.75 454.70)">HbF</text>
<text x="172.65" y="454.50" font-size="7.0" textLength="12.6" lengthAdjust="spacingAndGlyphs" transform="rotate(-52 172.65 454.50)">HbA</text>
<rect x="132.10" y="413.6" width="77.0" height="67.20" fill="none" stroke="#231f20" stroke-width="1"/>
<line x1="129.60" y1="480.80" x2="132.10" y2="480.80" stroke="#231f20" stroke-width="0.8"/>
<text x="126.50" y="483.30" font-size="7.9" text-anchor="end">0</text>
<line x1="129.60" y1="464.00" x2="132.10" y2="464.00" stroke="#231f20" stroke-width="0.8"/>
<text x="126.50" y="466.50" font-size="7.9" text-anchor="end">5</text>
<line x1="129.60" y1="447.20" x2="132.10" y2="447.20" stroke="#231f20" stroke-width="0.8"/>
<text x="126.50" y="449.70" font-size="7.9" text-anchor="end">10</text>
<line x1="129.60" y1="430.40" x2="132.10" y2="430.40" stroke="#231f20" stroke-width="0.8"/>
<text x="126.50" y="432.90" font-size="7.9" text-anchor="end">15</text>
<line x1="129.60" y1="413.60" x2="132.10" y2="413.60" stroke="#231f20" stroke-width="0.8"/>
<text x="126.50" y="416.10" font-size="7.9" text-anchor="end">20</text>
<line x1="132.10" y1="480.80" x2="132.10" y2="483.60" stroke="#231f20" stroke-width="0.8"/>
<text x="132.10" y="492.90" font-size="7.9" text-anchor="middle">2.5</text>
<line x1="147.50" y1="480.80" x2="147.50" y2="483.60" stroke="#231f20" stroke-width="0.8"/>
<text x="147.50" y="492.90" font-size="7.9" text-anchor="middle">5.0</text>
<line x1="162.90" y1="480.80" x2="162.90" y2="483.60" stroke="#231f20" stroke-width="0.8"/>
<text x="162.90" y="492.90" font-size="7.9" text-anchor="middle">7.5</text>
<line x1="178.30" y1="480.80" x2="178.30" y2="483.60" stroke="#231f20" stroke-width="0.8"/>
<text x="178.30" y="492.90" font-size="7.9" text-anchor="middle">10</text>
<line x1="193.70" y1="480.80" x2="193.70" y2="483.60" stroke="#231f20" stroke-width="0.8"/>
<text x="193.70" y="492.90" font-size="7.9" text-anchor="middle">12.5</text>
<line x1="209.10" y1="480.80" x2="209.10" y2="483.60" stroke="#231f20" stroke-width="0.8"/>
<text x="209.10" y="492.90" font-size="7.9" text-anchor="middle">15</text>
<text x="271.10" y="409.90" font-size="7.8" text-anchor="middle"><tspan font-style="italic">HBB</tspan> –98 guide</text>
<path d="M232.60 476.43 L232.73 476.43 L232.86 476.43 L232.99 476.43 L233.11 476.43 L233.24 476.43 L233.37 476.43 L233.50 476.43 L233.63 476.43 L233.76 476.43 L233.89 476.43 L234.01 476.43 L234.14 476.43 L234.27 476.43 L234.40 476.43 L234.53 476.43 L234.66 476.43 L234.79 476.43 L234.91 476.43 L235.04 476.43 L235.17 476.43 L235.30 476.43 L235.43 476.43 L235.56 476.43 L235.69 476.43 L235.81 476.43 L235.94 476.43 L236.07 476.43 L236.20 476.43 L236.33 476.43 L236.46 476.43 L236.58 476.43 L236.71 476.43 L236.84 476.43 L236.97 476.43 L237.10 476.43 L237.23 476.43 L237.36 476.43 L237.48 476.43 L237.61 476.43 L237.74 476.43 L237.87 476.43 L238.00 476.43 L238.13 476.43 L238.26 476.43 L238.38 476.43 L238.51 476.43 L238.64 476.43 L238.77 476.43 L238.90 476.43 L239.03 476.43 L239.16 476.43 L239.28 476.43 L239.41 476.43 L239.54 476.43 L239.67 476.43 L239.80 476.43 L239.93 476.43 L240.06 476.43 L240.18 476.43 L240.31 476.43 L240.44 476.43 L240.57 476.43 L240.70 476.43 L240.83 476.43 L240.96 476.43 L241.08 476.43 L241.21 476.43 L241.34 476.43 L241.47 476.43 L241.60 476.43 L241.73 476.43 L241.86 476.43 L241.98 476.43 L242.11 476.43 L242.24 476.43 L242.37 476.43 L242.50 476.43 L242.63 476.43 L242.76 476.43 L242.88 476.43 L243.01 476.43 L243.14 476.43 L243.27 476.43 L243.40 476.43 L243.53 476.43 L243.66 476.43 L243.78 476.43 L243.91 476.42 L244.04 476.42 L244.17 476.42 L244.30 476.42 L244.43 476.42 L244.55 476.42 L244.68 476.41 L244.81 476.41 L244.94 476.41 L245.07 476.41 L245.20 476.40 L245.33 476.40 L245.45 476.39 L245.58 476.39 L245.71 476.39 L245.84 476.38 L245.97 476.37 L246.10 476.37 L246.23 476.36 L246.35 476.35 L246.48 476.34 L246.61 476.33 L246.74 476.32 L246.87 476.31 L247.00 476.30 L247.13 476.28 L247.25 476.27 L247.38 476.25 L247.51 476.24 L247.64 476.22 L247.77 476.20 L247.90 476.18 L248.03 476.15 L248.15 476.13 L248.28 476.11 L248.41 476.08 L248.54 476.05 L248.67 476.02 L248.80 475.99 L248.93 475.96 L249.05 475.92 L249.18 475.89 L249.31 475.85 L249.44 475.81 L249.57 475.76 L249.70 475.70 L249.83 475.60 L249.95 475.41 L250.08 475.00 L250.21 474.15 L250.34 472.49 L250.47 469.51 L250.60 464.67 L250.73 457.61 L250.85 448.47 L250.98 438.12 L251.11 428.19 L251.24 420.69 L251.37 417.37 L251.50 418.14 L251.63 421.33 L251.75 426.49 L251.88 433.01 L252.01 440.18 L252.14 447.33 L252.27 453.92 L252.40 459.58 L252.52 464.16 L252.65 467.64 L252.78 470.14 L252.91 471.85 L253.04 472.95 L253.17 473.63 L253.30 474.02 L253.42 474.23 L253.55 474.33 L253.68 474.38 L253.81 474.40 L253.94 474.40 L254.07 474.40 L254.20 474.39 L254.32 474.39 L254.45 474.38 L254.58 474.36 L254.71 474.34 L254.84 474.30 L254.97 474.26 L255.10 474.19 L255.22 474.10 L255.35 473.98 L255.48 473.82 L255.61 473.63 L255.74 473.41 L255.87 473.14 L256.00 472.84 L256.12 472.52 L256.25 472.17 L256.38 471.82 L256.51 471.48 L256.64 471.17 L256.77 470.90 L256.90 470.68 L257.02 470.55 L257.15 470.49 L257.28 470.53 L257.41 470.65 L257.54 470.86 L257.67 471.15 L257.80 471.50 L257.92 471.89 L258.05 472.32 L258.18 472.75 L258.31 473.18 L258.44 473.58 L258.57 473.95 L258.70 474.28 L258.82 474.55 L258.95 474.75 L259.08 474.90 L259.21 474.97 L259.34 474.98 L259.47 474.92 L259.59 474.80 L259.72 474.61 L259.85 474.36 L259.98 474.06 L260.11 473.71 L260.24 473.33 L260.37 472.94 L260.49 472.55 L260.62 472.18 L260.75 471.85 L260.88 471.58 L261.01 471.38 L261.14 471.27 L261.27 471.25 L261.39 471.33 L261.52 471.50 L261.65 471.75 L261.78 472.08 L261.91 472.45 L262.04 472.87 L262.17 473.29 L262.29 473.72 L262.42 474.13 L262.55 474.50 L262.68 474.84 L262.81 475.12 L262.94 475.33 L263.07 475.48 L263.19 475.54 L263.32 475.51 L263.45 475.37 L263.58 475.08 L263.71 474.63 L263.84 473.96 L263.97 473.03 L264.09 471.79 L264.22 470.19 L264.35 468.16 L264.48 465.67 L264.61 462.70 L264.74 459.22 L264.87 455.28 L264.99 450.94 L265.12 446.28 L265.25 441.46 L265.38 436.65 L265.51 432.04 L265.64 427.85 L265.77 424.28 L265.89 421.52 L266.02 419.72 L266.15 418.99 L266.28 419.28 L266.41 420.42 L266.54 422.35 L266.67 425.00 L266.79 428.26 L266.92 431.98 L267.05 436.03 L267.18 440.25 L267.31 444.52 L267.44 448.71 L267.56 452.70 L267.69 456.42 L267.82 459.81 L267.95 462.83 L268.08 465.46 L268.21 467.71 L268.34 469.59 L268.46 471.13 L268.59 472.37 L268.72 473.34 L268.85 474.08 L268.98 474.63 L269.11 475.02 L269.24 475.28 L269.36 475.43 L269.49 475.49 L269.62 475.48 L269.75 475.40 L269.88 475.27 L270.01 475.09 L270.14 474.86 L270.26 474.60 L270.39 474.29 L270.52 473.95 L270.65 473.57 L270.78 473.16 L270.91 472.72 L271.04 472.26 L271.16 471.79 L271.29 471.31 L271.42 470.83 L271.55 470.35 L271.68 469.90 L271.81 469.48 L271.94 469.09 L272.06 468.76 L272.19 468.48 L272.32 468.26 L272.45 468.11 L272.58 468.04 L272.71 468.04 L272.84 468.07 L272.96 468.13 L273.09 468.21 L273.22 468.33 L273.35 468.47 L273.48 468.64 L273.61 468.84 L273.74 469.05 L273.86 469.28 L273.99 469.53 L274.12 469.80 L274.25 470.07 L274.38 470.36 L274.51 470.66 L274.64 470.96 L274.76 471.26 L274.89 471.56 L275.02 471.87 L275.15 472.16 L275.28 472.46 L275.41 472.74 L275.53 473.02 L275.66 473.29 L275.79 473.55 L275.92 473.79 L276.05 474.03 L276.18 474.25 L276.31 474.45 L276.43 474.65 L276.56 474.83 L276.69 475.00 L276.82 475.15 L276.95 475.29 L277.08 475.42 L277.21 475.54 L277.33 475.65 L277.46 475.74 L277.59 475.83 L277.72 475.91 L277.85 475.98 L277.98 476.04 L278.11 476.09 L278.23 476.14 L278.36 476.18 L278.49 476.22 L278.62 476.25 L278.75 476.28 L278.88 476.30 L279.01 476.32 L279.13 476.34 L279.26 476.36 L279.39 476.37 L279.52 476.38 L279.65 476.39 L279.78 476.40 L279.91 476.40 L280.03 476.41 L280.16 476.41 L280.29 476.42 L280.42 476.42 L280.55 476.42 L280.68 476.42 L280.81 476.43 L280.93 476.43 L281.06 476.43 L281.19 476.43 L281.32 476.43 L281.45 476.43 L281.58 476.43 L281.71 476.43 L281.83 476.43 L281.96 476.43 L282.09 476.43 L282.22 476.43 L282.35 476.43 L282.48 476.43 L282.61 476.43 L282.73 476.43 L282.86 476.43 L282.99 476.43 L283.12 476.43 L283.25 476.43 L283.38 476.43 L283.50 476.43 L283.63 476.43 L283.76 476.43 L283.89 476.43 L284.02 476.43 L284.15 476.43 L284.28 476.43 L284.40 476.43 L284.53 476.43 L284.66 476.43 L284.79 476.43 L284.92 476.43 L285.05 476.43 L285.18 476.43 L285.30 476.43 L285.43 476.43 L285.56 476.43 L285.69 476.43 L285.82 476.43 L285.95 476.43 L286.08 476.43 L286.20 476.43 L286.33 476.43 L286.46 476.43 L286.59 476.43 L286.72 476.43 L286.85 476.43 L286.98 476.43 L287.10 476.43 L287.23 476.43 L287.36 476.43 L287.49 476.43 L287.62 476.43 L287.75 476.43 L287.88 476.43 L288.00 476.43 L288.13 476.43 L288.26 476.43 L288.39 476.43 L288.52 476.43 L288.65 476.43 L288.78 476.43 L288.90 476.43 L289.03 476.43 L289.16 476.43 L289.29 476.43 L289.42 476.43 L289.55 476.43 L289.68 476.43 L289.80 476.43 L289.93 476.43 L290.06 476.43 L290.19 476.43 L290.32 476.43 L290.45 476.43 L290.57 476.43 L290.70 476.43 L290.83 476.43 L290.96 476.43 L291.09 476.43 L291.22 476.43 L291.35 476.43 L291.47 476.43 L291.60 476.43 L291.73 476.43 L291.86 476.43 L291.99 476.43 L292.12 476.43 L292.25 476.43 L292.37 476.43 L292.50 476.43 L292.63 476.43 L292.76 476.43 L292.89 476.43 L293.02 476.43 L293.15 476.43 L293.27 476.43 L293.40 476.43 L293.53 476.43 L293.66 476.43 L293.79 476.43 L293.92 476.43 L294.05 476.43 L294.17 476.43 L294.30 476.43 L294.43 476.43 L294.56 476.43 L294.69 476.43 L294.82 476.43 L294.95 476.43 L295.07 476.43 L295.20 476.43 L295.33 476.43 L295.46 476.43 L295.59 476.43 L295.72 476.43 L295.85 476.43 L295.97 476.43 L296.10 476.43 L296.23 476.43 L296.36 476.43 L296.49 476.43 L296.62 476.43 L296.75 476.43 L296.87 476.43 L297.00 476.43 L297.13 476.43 L297.26 476.43 L297.39 476.43 L297.52 476.43 L297.65 476.43 L297.77 476.43 L297.90 476.43 L298.03 476.43 L298.16 476.43 L298.29 476.43 L298.42 476.43 L298.54 476.43 L298.67 476.43 L298.80 476.43 L298.93 476.43 L299.06 476.43 L299.19 476.43 L299.32 476.43 L299.44 476.43 L299.57 476.43 L299.70 476.43 L299.83 476.43 L299.96 476.43 L300.09 476.43 L300.22 476.43 L300.34 476.43 L300.47 476.43 L300.60 476.43 L300.73 476.43 L300.86 476.43 L300.99 476.43 L301.12 476.43 L301.24 476.43 L301.37 476.43 L301.50 476.43 L301.63 476.43 L301.76 476.43 L301.89 476.43 L302.02 476.43 L302.14 476.43 L302.27 476.43 L302.40 476.43 L302.53 476.43 L302.66 476.43 L302.79 476.43 L302.92 476.43 L303.04 476.43 L303.17 476.43 L303.30 476.43 L303.43 476.43 L303.56 476.43 L303.69 476.43 L303.82 476.43 L303.94 476.43 L304.07 476.43 L304.20 476.43 L304.33 476.43 L304.46 476.43 L304.59 476.43 L304.72 476.43 L304.84 476.43 L304.97 476.43 L305.10 476.43 L305.23 476.43 L305.36 476.43 L305.49 476.43 L305.62 476.43 L305.74 476.43 L305.87 476.43 L306.00 476.43 L306.13 476.43 L306.26 476.43 L306.39 476.43 L306.51 476.43 L306.64 476.43 L306.77 476.43 L306.90 476.43 L307.03 476.43 L307.16 476.43 L307.29 476.43 L307.41 476.43 L307.54 476.43 L307.67 476.43 L307.80 476.43 L307.93 476.43 L308.06 476.43 L308.19 476.43 L308.31 476.43 L308.44 476.43 L308.57 476.43 L308.70 476.43 L308.83 476.43 L308.96 476.43 L309.09 476.43 L309.21 476.43 L309.34 476.43 L309.47 476.43 L309.60 476.43" fill="none" stroke="#1d5a9a" stroke-width="1.35" stroke-linejoin="round"/>
<line x1="251.20" y1="480.80" x2="251.20" y2="476.8" stroke="#333" stroke-width="0.75"/>
<path d="M249.75 477.7 L251.20 474.9 L252.65 477.7 L251.20 477.1 Z" fill="#000"/>
<line x1="257.24" y1="480.80" x2="257.24" y2="476.8" stroke="#333" stroke-width="0.75"/>
<path d="M255.79 477.7 L257.24 474.9 L258.69 477.7 L257.24 477.1 Z" fill="#000"/>
<line x1="266.30" y1="480.80" x2="266.30" y2="476.8" stroke="#333" stroke-width="0.75"/>
<path d="M264.85 477.7 L266.30 474.9 L267.75 477.7 L266.30 477.1 Z" fill="#000"/>
<line x1="272.02" y1="480.80" x2="272.02" y2="476.8" stroke="#333" stroke-width="0.75"/>
<path d="M270.57 477.7 L272.02 474.9 L273.47 477.7 L272.02 477.1 Z" fill="#000"/>
<text x="243.85" y="454.30" font-size="7.0" textLength="12" lengthAdjust="spacingAndGlyphs" transform="rotate(-52 243.85 454.30)">HbF</text>
<text x="258.35" y="455.30" font-size="7.0" textLength="16.5" lengthAdjust="spacingAndGlyphs" transform="rotate(-52 258.35 455.30)">Free α</text>
<text x="266.15" y="454.80" font-size="7.0" textLength="12.6" lengthAdjust="spacingAndGlyphs" transform="rotate(-52 266.15 454.80)">HbA</text>
<text x="275.35" y="455.30" font-size="7.0" textLength="14.8" lengthAdjust="spacingAndGlyphs" transform="rotate(-52 275.35 455.30)">HbA2</text>
<rect x="232.60" y="413.6" width="77.0" height="67.20" fill="none" stroke="#231f20" stroke-width="1"/>
<line x1="230.10" y1="480.80" x2="232.60" y2="480.80" stroke="#231f20" stroke-width="0.8"/>
<text x="227.00" y="483.30" font-size="7.9" text-anchor="end">0</text>
<line x1="230.10" y1="467.36" x2="232.60" y2="467.36" stroke="#231f20" stroke-width="0.8"/>
<text x="227.00" y="469.86" font-size="7.9" text-anchor="end">2</text>
<line x1="230.10" y1="453.92" x2="232.60" y2="453.92" stroke="#231f20" stroke-width="0.8"/>
<text x="227.00" y="456.42" font-size="7.9" text-anchor="end">4</text>
<line x1="230.10" y1="440.48" x2="232.60" y2="440.48" stroke="#231f20" stroke-width="0.8"/>
<text x="227.00" y="442.98" font-size="7.9" text-anchor="end">6</text>
<line x1="230.10" y1="427.04" x2="232.60" y2="427.04" stroke="#231f20" stroke-width="0.8"/>
<text x="227.00" y="429.54" font-size="7.9" text-anchor="end">8</text>
<line x1="230.10" y1="413.60" x2="232.60" y2="413.60" stroke="#231f20" stroke-width="0.8"/>
<text x="227.00" y="416.10" font-size="7.9" text-anchor="end">10</text>
<line x1="232.60" y1="480.80" x2="232.60" y2="483.60" stroke="#231f20" stroke-width="0.8"/>
<text x="232.60" y="492.90" font-size="7.9" text-anchor="middle">2.5</text>
<line x1="248.00" y1="480.80" x2="248.00" y2="483.60" stroke="#231f20" stroke-width="0.8"/>
<text x="248.00" y="492.90" font-size="7.9" text-anchor="middle">5.0</text>
<line x1="263.40" y1="480.80" x2="263.40" y2="483.60" stroke="#231f20" stroke-width="0.8"/>
<text x="263.40" y="492.90" font-size="7.9" text-anchor="middle">7.5</text>
<line x1="278.80" y1="480.80" x2="278.80" y2="483.60" stroke="#231f20" stroke-width="0.8"/>
<text x="278.80" y="492.90" font-size="7.9" text-anchor="middle">10</text>
<line x1="294.20" y1="480.80" x2="294.20" y2="483.60" stroke="#231f20" stroke-width="0.8"/>
<text x="294.20" y="492.90" font-size="7.9" text-anchor="middle">12.5</text>
<line x1="309.60" y1="480.80" x2="309.60" y2="483.60" stroke="#231f20" stroke-width="0.8"/>
<text x="309.60" y="492.90" font-size="7.9" text-anchor="middle">15</text>
<text x="370.40" y="409.90" font-size="7.8" text-anchor="middle"><tspan font-style="italic">HBB</tspan> +68 guide</text>
<path d="M331.90 473.66 L332.03 473.66 L332.16 473.66 L332.29 473.66 L332.41 473.65 L332.54 473.65 L332.67 473.65 L332.80 473.65 L332.93 473.65 L333.06 473.65 L333.19 473.65 L333.31 473.65 L333.44 473.65 L333.57 473.65 L333.70 473.65 L333.83 473.65 L333.96 473.65 L334.09 473.65 L334.21 473.65 L334.34 473.65 L334.47 473.65 L334.60 473.65 L334.73 473.65 L334.86 473.65 L334.99 473.65 L335.11 473.65 L335.24 473.65 L335.37 473.65 L335.50 473.64 L335.63 473.64 L335.76 473.64 L335.88 473.64 L336.01 473.64 L336.14 473.64 L336.27 473.64 L336.40 473.64 L336.53 473.64 L336.66 473.64 L336.78 473.64 L336.91 473.64 L337.04 473.63 L337.17 473.63 L337.30 473.63 L337.43 473.63 L337.56 473.63 L337.68 473.63 L337.81 473.63 L337.94 473.63 L338.07 473.63 L338.20 473.62 L338.33 473.62 L338.46 473.62 L338.58 473.62 L338.71 473.62 L338.84 473.62 L338.97 473.61 L339.10 473.61 L339.23 473.61 L339.36 473.61 L339.48 473.61 L339.61 473.60 L339.74 473.60 L339.87 473.60 L340.00 473.60 L340.13 473.60 L340.26 473.59 L340.38 473.59 L340.51 473.59 L340.64 473.59 L340.77 473.58 L340.90 473.58 L341.03 473.58 L341.16 473.57 L341.28 473.57 L341.41 473.57 L341.54 473.56 L341.67 473.56 L341.80 473.56 L341.93 473.55 L342.06 473.55 L342.18 473.55 L342.31 473.54 L342.44 473.54 L342.57 473.53 L342.70 473.53 L342.83 473.52 L342.96 473.52 L343.08 473.51 L343.21 473.51 L343.34 473.50 L343.47 473.50 L343.60 473.49 L343.73 473.49 L343.85 473.48 L343.98 473.48 L344.11 473.47 L344.24 473.47 L344.37 473.46 L344.50 473.45 L344.63 473.45 L344.75 473.44 L344.88 473.43 L345.01 473.43 L345.14 473.42 L345.27 473.41 L345.40 473.40 L345.53 473.39 L345.65 473.39 L345.78 473.38 L345.91 473.37 L346.04 473.36 L346.17 473.35 L346.30 473.34 L346.43 473.33 L346.55 473.32 L346.68 473.31 L346.81 473.30 L346.94 473.29 L347.07 473.28 L347.20 473.27 L347.33 473.26 L347.45 473.25 L347.58 473.24 L347.71 473.23 L347.84 473.22 L347.97 473.20 L348.10 473.19 L348.23 473.18 L348.35 473.17 L348.48 473.15 L348.61 473.14 L348.74 473.13 L348.87 473.11 L349.00 473.10 L349.13 473.08 L349.25 473.04 L349.38 472.95 L349.51 472.69 L349.64 472.02 L349.77 470.48 L349.90 467.35 L350.03 461.79 L350.15 453.31 L350.28 442.36 L350.41 430.75 L350.54 421.38 L350.67 417.11 L350.80 418.07 L350.93 421.87 L351.05 427.89 L351.18 435.27 L351.31 443.07 L351.44 450.47 L351.57 456.90 L351.70 462.05 L351.82 465.89 L351.95 468.57 L352.08 470.31 L352.21 471.37 L352.34 471.97 L352.47 472.29 L352.60 472.44 L352.72 472.50 L352.85 472.52 L352.98 472.51 L353.11 472.49 L353.24 472.47 L353.37 472.45 L353.50 472.43 L353.62 472.40 L353.75 472.38 L353.88 472.35 L354.01 472.33 L354.14 472.30 L354.27 472.26 L354.40 472.22 L354.52 472.17 L354.65 472.09 L354.78 471.97 L354.91 471.78 L355.04 471.49 L355.17 471.08 L355.30 470.48 L355.42 469.68 L355.55 468.64 L355.68 467.37 L355.81 465.92 L355.94 464.37 L356.07 462.83 L356.20 461.45 L356.32 460.39 L356.45 459.75 L356.58 459.61 L356.71 459.73 L356.84 460.03 L356.97 460.49 L357.10 461.08 L357.22 461.80 L357.35 462.59 L357.48 463.44 L357.61 464.32 L357.74 465.19 L357.87 466.03 L358.00 466.82 L358.12 467.55 L358.25 468.20 L358.38 468.77 L358.51 469.26 L358.64 469.67 L358.77 470.01 L358.89 470.28 L359.02 470.49 L359.15 470.65 L359.28 470.76 L359.41 470.85 L359.54 470.90 L359.67 470.93 L359.79 470.95 L359.92 470.95 L360.05 470.94 L360.18 470.93 L360.31 470.91 L360.44 470.89 L360.57 470.86 L360.69 470.84 L360.82 470.81 L360.95 470.78 L361.08 470.76 L361.21 470.73 L361.34 470.70 L361.47 470.68 L361.59 470.65 L361.72 470.62 L361.85 470.60 L361.98 470.57 L362.11 470.54 L362.24 470.52 L362.37 470.49 L362.49 470.46 L362.62 470.42 L362.75 470.38 L362.88 470.34 L363.01 470.28 L363.14 470.21 L363.27 470.13 L363.39 470.01 L363.52 469.86 L363.65 469.68 L363.78 469.44 L363.91 469.15 L364.04 468.79 L364.17 468.37 L364.29 467.87 L364.42 467.30 L364.55 466.67 L364.68 465.99 L364.81 465.27 L364.94 464.55 L365.07 463.84 L365.19 463.19 L365.32 462.61 L365.45 462.14 L365.58 461.81 L365.71 461.63 L365.84 461.59 L365.97 461.63 L366.09 461.70 L366.22 461.83 L366.35 461.99 L366.48 462.20 L366.61 462.44 L366.74 462.71 L366.86 463.01 L366.99 463.34 L367.12 463.68 L367.25 464.03 L367.38 464.40 L367.51 464.76 L367.64 465.12 L367.76 465.48 L367.89 465.82 L368.02 466.15 L368.15 466.47 L368.28 466.76 L368.41 467.02 L368.54 467.26 L368.66 467.47 L368.79 467.65 L368.92 467.80 L369.05 467.92 L369.18 468.00 L369.31 468.05 L369.44 468.07 L369.56 468.05 L369.69 468.01 L369.82 467.93 L369.95 467.83 L370.08 467.70 L370.21 467.55 L370.34 467.38 L370.46 467.19 L370.59 466.99 L370.72 466.78 L370.85 466.56 L370.98 466.35 L371.11 466.13 L371.24 465.93 L371.36 465.75 L371.49 465.58 L371.62 465.43 L371.75 465.31 L371.88 465.22 L372.01 465.15 L372.14 465.13 L372.26 465.13 L372.39 465.17 L372.52 465.23 L372.65 465.31 L372.78 465.42 L372.91 465.55 L373.04 465.70 L373.16 465.86 L373.29 466.05 L373.42 466.25 L373.55 466.46 L373.68 466.68 L373.81 466.90 L373.94 467.14 L374.06 467.37 L374.19 467.61 L374.32 467.85 L374.45 468.08 L374.58 468.31 L374.71 468.53 L374.83 468.75 L374.96 468.95 L375.09 469.15 L375.22 469.34 L375.35 469.51 L375.48 469.68 L375.61 469.83 L375.73 469.98 L375.86 470.11 L375.99 470.24 L376.12 470.35 L376.25 470.46 L376.38 470.56 L376.51 470.65 L376.63 470.73 L376.76 470.80 L376.89 470.87 L377.02 470.94 L377.15 471.00 L377.28 471.05 L377.41 471.10 L377.53 471.15 L377.66 471.20 L377.79 471.24 L377.92 471.28 L378.05 471.32 L378.18 471.36 L378.31 471.39 L378.43 471.43 L378.56 471.46 L378.69 471.49 L378.82 471.52 L378.95 471.55 L379.08 471.58 L379.21 471.59 L379.33 471.59 L379.46 471.56 L379.59 471.47 L379.72 471.29 L379.85 470.97 L379.98 470.43 L380.11 469.59 L380.23 468.37 L380.36 466.66 L380.49 464.43 L380.62 461.68 L380.75 458.50 L380.88 455.06 L381.01 451.64 L381.13 448.56 L381.26 446.16 L381.39 444.73 L381.52 444.43 L381.65 444.76 L381.78 445.50 L381.91 446.61 L382.03 448.04 L382.16 449.73 L382.29 451.63 L382.42 453.65 L382.55 455.73 L382.68 457.80 L382.80 459.82 L382.93 461.72 L383.06 463.48 L383.19 465.07 L383.32 466.47 L383.45 467.69 L383.58 468.73 L383.70 469.60 L383.83 470.31 L383.96 470.89 L384.09 471.34 L384.22 471.70 L384.35 471.98 L384.48 472.19 L384.60 472.34 L384.73 472.46 L384.86 472.54 L384.99 472.60 L385.12 472.65 L385.25 472.68 L385.38 472.69 L385.50 472.70 L385.63 472.70 L385.76 472.70 L385.89 472.69 L386.02 472.68 L386.15 472.66 L386.28 472.63 L386.40 472.60 L386.53 472.56 L386.66 472.52 L386.79 472.47 L386.92 472.41 L387.05 472.35 L387.18 472.28 L387.30 472.20 L387.43 472.12 L387.56 472.04 L387.69 471.95 L387.82 471.85 L387.95 471.75 L388.08 471.65 L388.20 471.55 L388.33 471.44 L388.46 471.34 L388.59 471.24 L388.72 471.14 L388.85 471.04 L388.98 470.95 L389.10 470.87 L389.23 470.79 L389.36 470.73 L389.49 470.67 L389.62 470.63 L389.75 470.59 L389.87 470.57 L390.00 470.56 L390.13 470.57 L390.26 470.58 L390.39 470.60 L390.52 470.63 L390.65 470.67 L390.77 470.71 L390.90 470.76 L391.03 470.81 L391.16 470.87 L391.29 470.94 L391.42 471.01 L391.55 471.09 L391.67 471.17 L391.80 471.25 L391.93 471.34 L392.06 471.43 L392.19 471.52 L392.32 471.61 L392.45 471.70 L392.57 471.80 L392.70 471.89 L392.83 471.98 L392.96 472.08 L393.09 472.17 L393.22 472.25 L393.35 472.34 L393.47 472.42 L393.60 472.51 L393.73 472.58 L393.86 472.66 L393.99 472.73 L394.12 472.80 L394.25 472.86 L394.37 472.93 L394.50 472.98 L394.63 473.04 L394.76 473.09 L394.89 473.14 L395.02 473.18 L395.15 473.22 L395.27 473.26 L395.40 473.30 L395.53 473.33 L395.66 473.36 L395.79 473.39 L395.92 473.41 L396.05 473.44 L396.17 473.46 L396.30 473.48 L396.43 473.49 L396.56 473.51 L396.69 473.52 L396.82 473.54 L396.95 473.55 L397.07 473.56 L397.20 473.57 L397.33 473.57 L397.46 473.58 L397.59 473.59 L397.72 473.59 L397.84 473.60 L397.97 473.60 L398.10 473.61 L398.23 473.61 L398.36 473.61 L398.49 473.62 L398.62 473.62 L398.74 473.62 L398.87 473.62 L399.00 473.63 L399.13 473.63 L399.26 473.63 L399.39 473.63 L399.52 473.63 L399.64 473.63 L399.77 473.64 L399.90 473.64 L400.03 473.64 L400.16 473.64 L400.29 473.64 L400.42 473.64 L400.54 473.64 L400.67 473.64 L400.80 473.64 L400.93 473.64 L401.06 473.65 L401.19 473.65 L401.32 473.65 L401.44 473.65 L401.57 473.65 L401.70 473.65 L401.83 473.65 L401.96 473.65 L402.09 473.65 L402.22 473.65 L402.34 473.65 L402.47 473.65 L402.60 473.65 L402.73 473.65 L402.86 473.65 L402.99 473.65 L403.12 473.65 L403.24 473.65 L403.37 473.65 L403.50 473.65 L403.63 473.65 L403.76 473.65 L403.89 473.65 L404.02 473.65 L404.14 473.66 L404.27 473.66 L404.40 473.66 L404.53 473.66 L404.66 473.66 L404.79 473.66 L404.92 473.66 L405.04 473.66 L405.17 473.66 L405.30 473.66 L405.43 473.66 L405.56 473.66 L405.69 473.66 L405.81 473.66 L405.94 473.66 L406.07 473.66 L406.20 473.66 L406.33 473.66 L406.46 473.66 L406.59 473.66 L406.71 473.66 L406.84 473.66 L406.97 473.66 L407.10 473.66 L407.23 473.66 L407.36 473.66 L407.49 473.66 L407.61 473.66 L407.74 473.66 L407.87 473.66 L408.00 473.66 L408.13 473.66 L408.26 473.66 L408.39 473.66 L408.51 473.66 L408.64 473.66 L408.77 473.66 L408.90 473.66" fill="none" stroke="#1d5a9a" stroke-width="1.35" stroke-linejoin="round"/>
<line x1="350.69" y1="480.80" x2="350.69" y2="476.8" stroke="#333" stroke-width="0.75"/>
<path d="M349.24 477.7 L350.69 474.9 L352.14 477.7 L350.69 477.1 Z" fill="#000"/>
<line x1="357.16" y1="480.80" x2="357.16" y2="476.8" stroke="#333" stroke-width="0.75"/>
<path d="M355.71 477.7 L357.16 474.9 L358.61 477.7 L357.16 477.1 Z" fill="#000"/>
<line x1="366.40" y1="480.80" x2="366.40" y2="476.8" stroke="#333" stroke-width="0.75"/>
<path d="M364.95 477.7 L366.40 474.9 L367.85 477.7 L366.40 477.1 Z" fill="#000"/>
<line x1="373.17" y1="480.80" x2="373.17" y2="476.8" stroke="#333" stroke-width="0.75"/>
<path d="M371.72 477.7 L373.17 474.9 L374.62 477.7 L373.17 477.1 Z" fill="#000"/>
<line x1="383.03" y1="480.80" x2="383.03" y2="476.8" stroke="#333" stroke-width="0.75"/>
<path d="M381.58 477.7 L383.03 474.9 L384.48 477.7 L383.03 477.1 Z" fill="#000"/>
<text x="343.45" y="454.00" font-size="7.0" textLength="12" lengthAdjust="spacingAndGlyphs" transform="rotate(-52 343.45 454.00)">HbF</text>
<text x="358.75" y="454.60" font-size="7.0" textLength="16.5" lengthAdjust="spacingAndGlyphs" transform="rotate(-52 358.75 454.60)">Free α</text>
<text x="367.95" y="455.20" font-size="7.0" textLength="12.6" lengthAdjust="spacingAndGlyphs" transform="rotate(-52 367.95 455.20)">HbA</text>
<text x="374.75" y="454.60" font-size="7.0" textLength="14.8" lengthAdjust="spacingAndGlyphs" transform="rotate(-52 374.75 454.60)">HbA2</text>
<text x="383.55" y="453.50" font-size="7.0" textLength="33.0" lengthAdjust="spacingAndGlyphs" transform="rotate(-52 383.55 453.50)">HbA mutant</text>
<rect x="331.90" y="413.6" width="77.0" height="67.20" fill="none" stroke="#231f20" stroke-width="1"/>
<line x1="329.40" y1="480.80" x2="331.90" y2="480.80" stroke="#231f20" stroke-width="0.8"/>
<text x="326.30" y="483.30" font-size="7.9" text-anchor="end">0</text>
<line x1="329.40" y1="464.00" x2="331.90" y2="464.00" stroke="#231f20" stroke-width="0.8"/>
<text x="326.30" y="466.50" font-size="7.9" text-anchor="end">2</text>
<line x1="329.40" y1="447.20" x2="331.90" y2="447.20" stroke="#231f20" stroke-width="0.8"/>
<text x="326.30" y="449.70" font-size="7.9" text-anchor="end">4</text>
<line x1="329.40" y1="430.40" x2="331.90" y2="430.40" stroke="#231f20" stroke-width="0.8"/>
<text x="326.30" y="432.90" font-size="7.9" text-anchor="end">6</text>
<line x1="329.40" y1="413.60" x2="331.90" y2="413.60" stroke="#231f20" stroke-width="0.8"/>
<text x="326.30" y="416.10" font-size="7.9" text-anchor="end">8</text>
<line x1="331.90" y1="480.80" x2="331.90" y2="483.60" stroke="#231f20" stroke-width="0.8"/>
<text x="331.90" y="492.90" font-size="7.9" text-anchor="middle">2.5</text>
<line x1="347.30" y1="480.80" x2="347.30" y2="483.60" stroke="#231f20" stroke-width="0.8"/>
<text x="347.30" y="492.90" font-size="7.9" text-anchor="middle">5.0</text>
<line x1="362.70" y1="480.80" x2="362.70" y2="483.60" stroke="#231f20" stroke-width="0.8"/>
<text x="362.70" y="492.90" font-size="7.9" text-anchor="middle">7.5</text>
<line x1="378.10" y1="480.80" x2="378.10" y2="483.60" stroke="#231f20" stroke-width="0.8"/>
<text x="378.10" y="492.90" font-size="7.9" text-anchor="middle">10</text>
<line x1="393.50" y1="480.80" x2="393.50" y2="483.60" stroke="#231f20" stroke-width="0.8"/>
<text x="393.50" y="492.90" font-size="7.9" text-anchor="middle">12.5</text>
<line x1="408.90" y1="480.80" x2="408.90" y2="483.60" stroke="#231f20" stroke-width="0.8"/>
<text x="408.90" y="492.90" font-size="7.9" text-anchor="middle">15</text>
<text x="470.40" y="400.30" font-size="7.8" text-anchor="middle"><tspan font-style="italic">HBB</tspan> –98 guide</text>
<text x="470.40" y="409.90" font-size="7.8" text-anchor="middle">and +68 guide</text>
<path d="M431.90 476.10 L432.03 476.10 L432.16 476.10 L432.29 476.10 L432.41 476.10 L432.54 476.10 L432.67 476.10 L432.80 476.10 L432.93 476.10 L433.06 476.10 L433.19 476.10 L433.31 476.10 L433.44 476.10 L433.57 476.10 L433.70 476.10 L433.83 476.10 L433.96 476.10 L434.09 476.10 L434.21 476.10 L434.34 476.10 L434.47 476.10 L434.60 476.10 L434.73 476.10 L434.86 476.10 L434.99 476.10 L435.11 476.10 L435.24 476.10 L435.37 476.10 L435.50 476.10 L435.63 476.10 L435.76 476.10 L435.88 476.10 L436.01 476.10 L436.14 476.10 L436.27 476.10 L436.40 476.10 L436.53 476.10 L436.66 476.10 L436.78 476.10 L436.91 476.10 L437.04 476.10 L437.17 476.10 L437.30 476.10 L437.43 476.10 L437.56 476.10 L437.68 476.10 L437.81 476.10 L437.94 476.10 L438.07 476.10 L438.20 476.10 L438.33 476.10 L438.46 476.10 L438.58 476.10 L438.71 476.10 L438.84 476.10 L438.97 476.10 L439.10 476.10 L439.23 476.10 L439.36 476.10 L439.48 476.10 L439.61 476.10 L439.74 476.10 L439.87 476.10 L440.00 476.10 L440.13 476.10 L440.26 476.10 L440.38 476.10 L440.51 476.10 L440.64 476.10 L440.77 476.10 L440.90 476.10 L441.03 476.10 L441.16 476.10 L441.28 476.10 L441.41 476.10 L441.54 476.10 L441.67 476.10 L441.80 476.10 L441.93 476.10 L442.06 476.10 L442.18 476.10 L442.31 476.10 L442.44 476.10 L442.57 476.10 L442.70 476.10 L442.83 476.10 L442.96 476.10 L443.08 476.10 L443.21 476.10 L443.34 476.10 L443.47 476.10 L443.60 476.10 L443.73 476.10 L443.85 476.10 L443.98 476.10 L444.11 476.10 L444.24 476.10 L444.37 476.10 L444.50 476.10 L444.63 476.10 L444.75 476.10 L444.88 476.10 L445.01 476.10 L445.14 476.10 L445.27 476.10 L445.40 476.10 L445.53 476.10 L445.65 476.10 L445.78 476.10 L445.91 476.10 L446.04 476.10 L446.17 476.10 L446.30 476.10 L446.43 476.10 L446.55 476.10 L446.68 476.10 L446.81 476.10 L446.94 476.10 L447.07 476.10 L447.20 476.10 L447.33 476.10 L447.45 476.10 L447.58 476.10 L447.71 476.10 L447.84 476.10 L447.97 476.10 L448.10 476.10 L448.23 476.10 L448.35 476.10 L448.48 476.10 L448.61 476.10 L448.74 476.10 L448.87 476.10 L449.00 476.10 L449.13 476.10 L449.25 476.10 L449.38 476.10 L449.51 476.10 L449.64 476.10 L449.77 476.10 L449.90 476.10 L450.03 476.09 L450.15 476.09 L450.28 476.07 L450.41 476.02 L450.54 475.87 L450.67 475.52 L450.80 474.72 L450.93 473.11 L451.05 470.17 L451.18 465.33 L451.31 458.20 L451.44 448.88 L451.57 438.22 L451.70 427.86 L451.82 419.90 L451.95 416.19 L452.08 416.86 L452.21 420.07 L452.34 425.37 L452.47 432.12 L452.60 439.60 L452.72 447.10 L452.85 454.04 L452.98 460.03 L453.11 464.89 L453.24 468.62 L453.37 471.32 L453.50 473.17 L453.62 474.38 L453.75 475.14 L453.88 475.58 L454.01 475.83 L454.14 475.97 L454.27 476.03 L454.40 476.07 L454.52 476.08 L454.65 476.09 L454.78 476.09 L454.91 476.10 L455.04 476.10 L455.17 476.09 L455.30 476.09 L455.42 476.09 L455.55 476.08 L455.68 476.07 L455.81 476.04 L455.94 475.99 L456.07 475.90 L456.20 475.74 L456.32 475.50 L456.45 475.12 L456.58 474.57 L456.71 473.81 L456.84 472.82 L456.97 471.60 L457.10 470.20 L457.22 468.68 L457.35 467.18 L457.48 465.83 L457.61 464.77 L457.74 464.14 L457.87 464.01 L458.00 464.18 L458.12 464.58 L458.25 465.18 L458.38 465.95 L458.51 466.84 L458.64 467.81 L458.77 468.83 L458.89 469.84 L459.02 470.82 L459.15 471.73 L459.28 472.55 L459.41 473.27 L459.54 473.89 L459.67 474.40 L459.79 474.82 L459.92 475.16 L460.05 475.42 L460.18 475.62 L460.31 475.76 L460.44 475.87 L460.57 475.94 L460.69 476.00 L460.82 476.03 L460.95 476.06 L461.08 476.07 L461.21 476.08 L461.34 476.09 L461.47 476.09 L461.59 476.09 L461.72 476.09 L461.85 476.10 L461.98 476.10 L462.11 476.10 L462.24 476.10 L462.37 476.10 L462.49 476.10 L462.62 476.10 L462.75 476.10 L462.88 476.10 L463.01 476.10 L463.14 476.10 L463.27 476.10 L463.39 476.10 L463.52 476.10 L463.65 476.10 L463.78 476.10 L463.91 476.10 L464.04 476.10 L464.17 476.10 L464.29 476.10 L464.42 476.10 L464.55 476.10 L464.68 476.10 L464.81 476.09 L464.94 476.09 L465.07 476.09 L465.19 476.09 L465.32 476.08 L465.45 476.06 L465.58 476.03 L465.71 475.99 L465.84 475.91 L465.97 475.79 L466.09 475.61 L466.22 475.34 L466.35 474.97 L466.48 474.47 L466.61 473.80 L466.74 472.96 L466.86 471.94 L466.99 470.75 L467.12 469.43 L467.25 468.03 L467.38 466.63 L467.51 465.31 L467.64 464.17 L467.76 463.31 L467.89 462.79 L468.02 462.66 L468.15 462.84 L468.28 463.26 L468.41 463.91 L468.54 464.75 L468.66 465.74 L468.79 466.81 L468.92 467.94 L469.05 469.06 L469.18 470.15 L469.31 471.16 L469.44 472.08 L469.56 472.88 L469.69 473.57 L469.82 474.14 L469.95 474.60 L470.08 474.96 L470.21 475.23 L470.34 475.43 L470.46 475.56 L470.59 475.64 L470.72 475.68 L470.85 475.68 L470.98 475.66 L471.11 475.60 L471.24 475.52 L471.36 475.42 L471.49 475.30 L471.62 475.15 L471.75 474.98 L471.88 474.79 L472.01 474.58 L472.14 474.34 L472.26 474.08 L472.39 473.79 L472.52 473.48 L472.65 473.15 L472.78 472.81 L472.91 472.44 L473.04 472.07 L473.16 471.69 L473.29 471.30 L473.42 470.92 L473.55 470.54 L473.68 470.18 L473.81 469.84 L473.94 469.53 L474.06 469.25 L474.19 469.00 L474.32 468.80 L474.45 468.65 L474.58 468.54 L474.71 468.49 L474.83 468.48 L474.96 468.52 L475.09 468.59 L475.22 468.70 L475.35 468.84 L475.48 469.01 L475.61 469.22 L475.73 469.44 L475.86 469.70 L475.99 469.97 L476.12 470.26 L476.25 470.56 L476.38 470.87 L476.51 471.19 L476.63 471.51 L476.76 471.83 L476.89 472.15 L477.02 472.46 L477.15 472.76 L477.28 473.05 L477.41 473.33 L477.53 473.60 L477.66 473.85 L477.79 474.09 L477.92 474.31 L478.05 474.51 L478.18 474.70 L478.31 474.87 L478.43 475.02 L478.56 475.16 L478.69 475.29 L478.82 475.40 L478.95 475.50 L479.08 475.58 L479.21 475.66 L479.33 475.72 L479.46 475.77 L479.59 475.82 L479.72 475.86 L479.85 475.89 L479.98 475.91 L480.11 475.93 L480.23 475.94 L480.36 475.94 L480.49 475.94 L480.62 475.93 L480.75 475.92 L480.88 475.90 L481.01 475.88 L481.13 475.84 L481.26 475.81 L481.39 475.76 L481.52 475.71 L481.65 475.66 L481.78 475.59 L481.91 475.52 L482.03 475.44 L482.16 475.34 L482.29 475.25 L482.42 475.14 L482.55 475.02 L482.68 474.90 L482.80 474.76 L482.93 474.62 L483.06 474.47 L483.19 474.32 L483.32 474.15 L483.45 473.99 L483.58 473.82 L483.70 473.65 L483.83 473.48 L483.96 473.31 L484.09 473.15 L484.22 472.99 L484.35 472.84 L484.48 472.69 L484.60 472.56 L484.73 472.44 L484.86 472.34 L484.99 472.25 L485.12 472.17 L485.25 472.12 L485.38 472.08 L485.50 472.07 L485.63 472.07 L485.76 472.08 L485.89 472.11 L486.02 472.16 L486.15 472.21 L486.28 472.28 L486.40 472.37 L486.53 472.46 L486.66 472.56 L486.79 472.68 L486.92 472.80 L487.05 472.92 L487.18 473.06 L487.30 473.20 L487.43 473.34 L487.56 473.48 L487.69 473.63 L487.82 473.77 L487.95 473.92 L488.08 474.06 L488.20 474.20 L488.33 474.34 L488.46 474.47 L488.59 474.60 L488.72 474.72 L488.85 474.84 L488.98 474.95 L489.10 475.06 L489.23 475.16 L489.36 475.25 L489.49 475.33 L489.62 475.41 L489.75 475.49 L489.87 475.56 L490.00 475.62 L490.13 475.67 L490.26 475.72 L490.39 475.77 L490.52 475.81 L490.65 475.85 L490.77 475.88 L490.90 475.91 L491.03 475.94 L491.16 475.96 L491.29 475.98 L491.42 476.00 L491.55 476.01 L491.67 476.02 L491.80 476.04 L491.93 476.05 L492.06 476.05 L492.19 476.06 L492.32 476.07 L492.45 476.07 L492.57 476.08 L492.70 476.08 L492.83 476.08 L492.96 476.08 L493.09 476.09 L493.22 476.09 L493.35 476.09 L493.47 476.09 L493.60 476.09 L493.73 476.09 L493.86 476.09 L493.99 476.09 L494.12 476.09 L494.25 476.09 L494.37 476.10 L494.50 476.10 L494.63 476.10 L494.76 476.10 L494.89 476.10 L495.02 476.10 L495.15 476.10 L495.27 476.10 L495.40 476.10 L495.53 476.10 L495.66 476.10 L495.79 476.10 L495.92 476.10 L496.05 476.10 L496.17 476.10 L496.30 476.10 L496.43 476.10 L496.56 476.10 L496.69 476.10 L496.82 476.10 L496.95 476.10 L497.07 476.10 L497.20 476.10 L497.33 476.10 L497.46 476.10 L497.59 476.10 L497.72 476.10 L497.84 476.10 L497.97 476.10 L498.10 476.10 L498.23 476.10 L498.36 476.10 L498.49 476.10 L498.62 476.10 L498.74 476.10 L498.87 476.10 L499.00 476.10 L499.13 476.10 L499.26 476.10 L499.39 476.10 L499.52 476.10 L499.64 476.10 L499.77 476.10 L499.90 476.10 L500.03 476.10 L500.16 476.10 L500.29 476.10 L500.42 476.10 L500.54 476.10 L500.67 476.10 L500.80 476.10 L500.93 476.10 L501.06 476.10 L501.19 476.10 L501.32 476.10 L501.44 476.10 L501.57 476.10 L501.70 476.10 L501.83 476.10 L501.96 476.10 L502.09 476.10 L502.22 476.10 L502.34 476.10 L502.47 476.10 L502.60 476.10 L502.73 476.10 L502.86 476.10 L502.99 476.10 L503.12 476.10 L503.24 476.10 L503.37 476.10 L503.50 476.10 L503.63 476.10 L503.76 476.10 L503.89 476.10 L504.02 476.10 L504.14 476.10 L504.27 476.10 L504.40 476.10 L504.53 476.10 L504.66 476.10 L504.79 476.10 L504.92 476.10 L505.04 476.10 L505.17 476.10 L505.30 476.10 L505.43 476.10 L505.56 476.10 L505.69 476.10 L505.81 476.10 L505.94 476.10 L506.07 476.10 L506.20 476.10 L506.33 476.10 L506.46 476.10 L506.59 476.10 L506.71 476.10 L506.84 476.10 L506.97 476.10 L507.10 476.10 L507.23 476.10 L507.36 476.10 L507.49 476.10 L507.61 476.10 L507.74 476.10 L507.87 476.10 L508.00 476.10 L508.13 476.10 L508.26 476.10 L508.39 476.10 L508.51 476.10 L508.64 476.10 L508.77 476.10 L508.90 476.10" fill="none" stroke="#1d5a9a" stroke-width="1.35" stroke-linejoin="round"/>
<line x1="452.10" y1="480.80" x2="452.10" y2="476.8" stroke="#333" stroke-width="0.75"/>
<path d="M450.65 477.7 L452.10 474.9 L453.55 477.7 L452.10 477.1 Z" fill="#000"/>
<line x1="457.96" y1="480.80" x2="457.96" y2="476.8" stroke="#333" stroke-width="0.75"/>
<path d="M456.51 477.7 L457.96 474.9 L459.41 477.7 L457.96 477.1 Z" fill="#000"/>
<line x1="468.12" y1="480.80" x2="468.12" y2="476.8" stroke="#333" stroke-width="0.75"/>
<path d="M466.67 477.7 L468.12 474.9 L469.57 477.7 L468.12 477.1 Z" fill="#000"/>
<line x1="474.77" y1="480.80" x2="474.77" y2="476.8" stroke="#333" stroke-width="0.75"/>
<path d="M473.32 477.7 L474.77 474.9 L476.22 477.7 L474.77 477.1 Z" fill="#000"/>
<line x1="485.68" y1="480.80" x2="485.68" y2="476.8" stroke="#333" stroke-width="0.75"/>
<path d="M484.23 477.7 L485.68 474.9 L487.13 477.7 L485.68 477.1 Z" fill="#000"/>
<text x="444.65" y="454.50" font-size="7.0" textLength="12" lengthAdjust="spacingAndGlyphs" transform="rotate(-52 444.65 454.50)">HbF</text>
<text x="457.85" y="454.90" font-size="7.0" textLength="16.5" lengthAdjust="spacingAndGlyphs" transform="rotate(-52 457.85 454.90)">Free α</text>
<text x="467.25" y="455.40" font-size="7.0" textLength="12.6" lengthAdjust="spacingAndGlyphs" transform="rotate(-52 467.25 455.40)">HbA</text>
<text x="475.55" y="455.00" font-size="7.0" textLength="14.8" lengthAdjust="spacingAndGlyphs" transform="rotate(-52 475.55 455.00)">HbA2</text>
<text x="485.75" y="454.90" font-size="7.0" textLength="33.0" lengthAdjust="spacingAndGlyphs" transform="rotate(-52 485.75 454.90)">HbA mutant</text>
<rect x="431.90" y="413.6" width="77.0" height="67.20" fill="none" stroke="#231f20" stroke-width="1"/>
<line x1="429.40" y1="480.80" x2="431.90" y2="480.80" stroke="#231f20" stroke-width="0.8"/>
<text x="426.30" y="483.30" font-size="7.9" text-anchor="end">0</text>
<line x1="429.40" y1="467.36" x2="431.90" y2="467.36" stroke="#231f20" stroke-width="0.8"/>
<text x="426.30" y="469.86" font-size="7.9" text-anchor="end">3</text>
<line x1="429.40" y1="453.92" x2="431.90" y2="453.92" stroke="#231f20" stroke-width="0.8"/>
<text x="426.30" y="456.42" font-size="7.9" text-anchor="end">6</text>
<line x1="429.40" y1="440.48" x2="431.90" y2="440.48" stroke="#231f20" stroke-width="0.8"/>
<text x="426.30" y="442.98" font-size="7.9" text-anchor="end">9</text>
<line x1="429.40" y1="427.04" x2="431.90" y2="427.04" stroke="#231f20" stroke-width="0.8"/>
<text x="426.30" y="429.54" font-size="7.9" text-anchor="end">12</text>
<line x1="429.40" y1="413.60" x2="431.90" y2="413.60" stroke="#231f20" stroke-width="0.8"/>
<text x="426.30" y="416.10" font-size="7.9" text-anchor="end">15</text>
<line x1="431.90" y1="480.80" x2="431.90" y2="483.60" stroke="#231f20" stroke-width="0.8"/>
<text x="431.90" y="492.90" font-size="7.9" text-anchor="middle">2.5</text>
<line x1="447.30" y1="480.80" x2="447.30" y2="483.60" stroke="#231f20" stroke-width="0.8"/>
<text x="447.30" y="492.90" font-size="7.9" text-anchor="middle">5.0</text>
<line x1="462.70" y1="480.80" x2="462.70" y2="483.60" stroke="#231f20" stroke-width="0.8"/>
<text x="462.70" y="492.90" font-size="7.9" text-anchor="middle">7.5</text>
<line x1="478.10" y1="480.80" x2="478.10" y2="483.60" stroke="#231f20" stroke-width="0.8"/>
<text x="478.10" y="492.90" font-size="7.9" text-anchor="middle">10</text>
<line x1="493.50" y1="480.80" x2="493.50" y2="483.60" stroke="#231f20" stroke-width="0.8"/>
<text x="493.50" y="492.90" font-size="7.9" text-anchor="middle">12.5</text>
<line x1="508.90" y1="480.80" x2="508.90" y2="483.60" stroke="#231f20" stroke-width="0.8"/>
<text x="508.90" y="492.90" font-size="7.9" text-anchor="middle">15</text>
<text x="6.80" y="492.90" font-size="7.9" textLength="16.3" lengthAdjust="spacingAndGlyphs">(min)</text></svg>
</body></html>
